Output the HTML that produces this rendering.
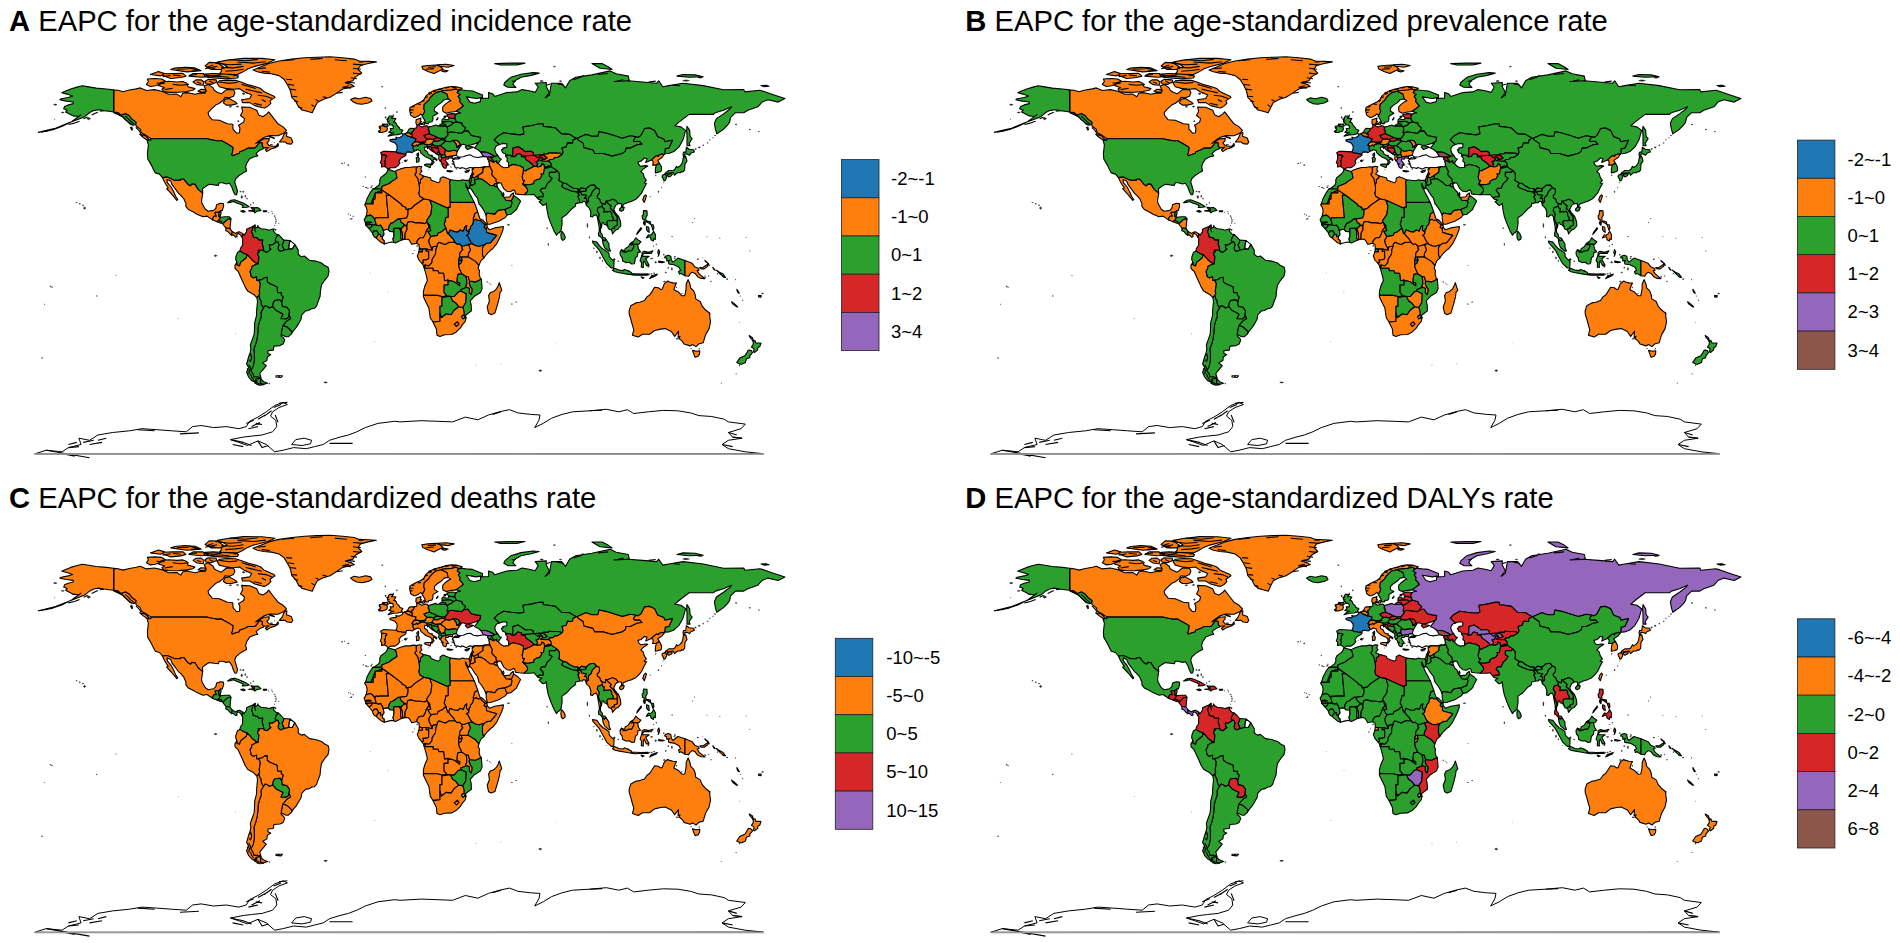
<!DOCTYPE html><html><head><meta charset="utf-8"><title>EAPC maps</title><style>
html,body{margin:0;padding:0;background:#fff}
svg{display:block}
text{font-family:"Liberation Sans",sans-serif;fill:#000}
.tt{font-size:29.2px}.tb{font-weight:bold}
.lg{font-size:18.5px}
.map path{stroke:#000;stroke-linejoin:round}.map{stroke-width:1.1}
</style></head><body>
<svg width="1900" height="943" viewBox="0 0 1900 943">
<rect width="1900" height="943" fill="#fff"/>
<g class="map">
<g transform="translate(0.0,0.0)">
<path fill="#ff7f0e" d="M253,69.9L261.3,66.7L268.9,63.5L279.1,61L291.8,59.1L304.5,57.8L317.3,57.2L330,56.8L342.7,57.8L354.2,59.1L359.3,61L368.2,61.4L376.4,61.9L368.2,63.5L360.5,65.5L358,69.3L361.8,73.1L355.4,76.9L352.9,80.7L345.3,82.6L351.6,84.5L354.2,86.4L342.7,89L336.3,93.4L330,97.3L323.6,99.2L317.3,102.4L314.7,107.4L312.2,112.8L307.1,111.3L302,110L298.2,106.2L295.6,101.1L291.8,97.3L290.5,90.9L288,85.8L284.2,79.5L279.1,75.6L271.4,73.7L263.8,73.1L257.4,71.8Z"/>
<path fill="#ff7f0e" d="M350.6,99.6L354.2,97.9L359.3,98.8L365.6,97.3L370.7,98.5L372,101.1L368.2,103L361.8,104.3L356.7,103.6L352.9,101.7Z"/>
<path fill="#2ca02c" d="M113.6,89.9L106.4,89L96.2,88.1L87.3,86.6L82.2,85.8L77.1,87.1L70.7,89L64.4,91.5L61.8,92.8L66.9,94.1L72.6,96L68.2,97.5L61.2,98.8L59.9,99.8L66.3,101.1L73.3,102L73.3,103.6L68.2,104.9L64.6,106.4L63.7,108.7L67.2,110.2L65.6,111.9L70.5,114.4L73.3,116L79,116.4L80.9,114.8L72,121.4L61.8,126.5L52.9,129.7L45.3,131.4L38.3,132.3L46.5,130.4L55.5,128.2L68.2,123.1L78.4,119.2L84.7,116.7L89.8,112.5L93.6,110.6L98.7,109.7L103.8,110.6L108.9,111.3L113.6,111.9ZM114,112L118,112.5L121.1,115.1L125.5,113.4L129.2,115.5L132.2,119.3L136.2,122.1L135.8,124.5L133.2,125.2L129.8,124L127.7,121.7L124.9,119.3L122.9,116.9L120.1,115.3L116.4,113.6L114,112.9Z"/>
<path fill="#ff7f0e" d="M114,90L118,90.3L123.1,91.7L128.2,90.3L136.2,88.9L140.3,87.9L146.4,90.5L154.5,89.6L162.6,91.5L168.7,94.3L176.8,94.1L180.8,96.7L182.8,93.3L186.9,92.6L195,94.3L201.1,92.9L205.1,93.3L206.1,90.3L204.1,86L208.1,84.4L213.2,87.9L214.2,90.3L217.2,92.2L221.3,93.8L226.4,89.6L233.5,89.8L234.9,92.6L233.5,96.2L229.4,97.8L224.9,97.4L223.3,100.2L219.3,103.3L215.8,104.9L211.2,109.2L208.1,112.7L208.7,115.5L212.2,119.8L219.3,120.3L227.4,123.8L232.8,124.3L233,129.2L236.5,133.2L239.5,132.8L239.9,128L238.5,125.2L243.6,122.1L244.6,118.6L240.5,115.5L242.6,111.5L241.6,107L249.7,107.3L256.7,110.3L258.8,115.1L262.8,116.7L266.9,113.9L268.7,111.8L273.9,118.6L278,123.8L283.1,126.9L286.5,130.4L284.1,133L278,135.8L269.9,135.6L263.8,137.5L258.8,141L255.7,143.6L259.8,141.3L263.8,138.9L269.3,138.4L268.9,141L266.9,142.9L268.9,145.3L270.9,146L276,146.4L278,143.6L278.4,145.7L275.4,147.6L270.9,149L266.7,151.6L265.4,149.8L268.9,147.4L263.8,147.9L262.2,146.4L262.2,143.1L259.4,142.4L257.8,144.8L255.7,147.4L254.7,148.1L248.2,148.1L244.6,150L239.5,151.9L239.5,153.3L232.4,155.7L231.4,154.5L232.4,152.8L233,147.4L230.4,145.7L228.4,144.6L221.3,140.5L218.3,141L213.2,140.1L206.7,138.7L150.8,138.7L150,138L146.4,135.6L141.3,132.8L140.3,129.2L136.2,126.2L135.8,124.5L136.2,122.1L132.2,119.3L129.2,115.5L125.5,113.4L121.1,115.1L118,112.5L114,112ZM139.7,134.4L145.4,135.6L149.4,139.8L146.8,139.8L143.3,137.5ZM279.4,142L282.1,138.7L284.5,133.2L286.9,132.5L286.5,136.3L291.2,138L292.8,142.2L291.2,144.1L287.1,143.6L285.1,142ZM269.1,136.5L273.9,137.7L274.4,138.4L269.9,137ZM146.4,84.4L150.4,86.5L155.5,85.8L160.6,83.9L165.6,81.3L161.6,79L154.5,78.5L147.4,79L148.4,81.5ZM160.6,82.7L158.5,85.6L164.6,87.7L162,89.1L163.6,91.5L169.7,92.4L178.8,92.2L186.9,91.5L193,90.3L195,88.6L187.9,86.7L186.9,83.2L182.8,81.5L176.8,82L168.7,81.3L162.6,82ZM193,82L197,84.6L203.1,85.3L204.1,82L201.1,79.7L196,79.9ZM206.1,83.7L211.2,84.4L216.8,82L216.2,79.9L208.1,79.4L205.1,81.3ZM198,91.2L202.1,92.4L206.1,91.7L205.1,89.6L201.1,89.3ZM219.3,80.8L227.4,80.1L235.5,80.4L241.6,82.3L248.6,84.9L255.7,86.7L260.8,88.6L263.8,91.5L273.9,96.2L275,97.4L269.9,100.9L270.9,103.3L267.9,106.1L264.8,108L261.8,107.5L254.7,105.6L249.7,102.6L242.6,102.6L241.6,99.7L249.7,98.5L251.7,95L243.6,91.5L239.5,88.6L233.5,89.3L225.3,88.4L219.3,86.7L217.2,83.2ZM223.3,102.8L225.3,99.2L229.4,98.5L235.5,102.1L237.1,103.7L231.4,105.1L226.4,105.1ZM213.2,78L225.3,78.7L237.5,78L238.5,76.1L233.5,74.9L221.3,73.8L213.2,73.5L205.1,74L204.1,76.4ZM219.3,74L237.5,74.5L242.6,72.1L247.6,69L253.7,66.7L267.9,63.1L275,59.8L261.8,58.4L243.6,58.2L227.4,60.1L217.2,62L223.3,64.3L227.4,66.7L221.3,69L221.3,71.4ZM205.1,66L211.2,69.5L221.3,69.5L223.3,66.7L217.2,62.7L209.2,62.4ZM162.6,75.4L170.7,78.5L180.8,77.5L185.9,76.1L182.8,73.3L172.7,73.5L163.6,73.8ZM188.9,76.1L201.1,77.3L209.2,76.8L203.1,73.5L193,73.5ZM150.4,74.5L160.6,75.9L164.6,73.5L158.5,71.6ZM170.7,69.5L186.9,71.9L201.1,70.7L195,67.9L184.9,67.2L174.7,68.1Z"/>
<path fill="#2ca02c" d="M150.8,138.7L206.7,138.7L213.2,140.1L218.3,141L221.3,140.5L228.4,144.6L230.4,145.7L233,147.4L232.4,152.8L231.4,154.5L232.4,155.7L239.5,153.3L239.5,151.9L244.6,150L248.2,148.1L254.7,148.1L255.7,147.4L257.8,144.8L259.4,142.4L262.2,143.1L262.2,146.4L263.8,147.9L263.8,148.6L259.8,150.2L256.1,153.3L257.8,155.9L254.7,156.6L249.7,158.7L246.6,163.4L245.6,167L246.6,171L243.6,172.6L239.5,175.2L235.9,178.5L234.7,181.8L236.3,187L237.5,191.1L236.7,194.6L235.1,194.8L233.5,191.8L231.8,187L229.4,183.3L226.4,184L222.3,182.8L219.3,182.8L218.3,185.4L214.2,184.9L209.6,184.2L207.1,185.4L202.5,188.7L202.7,193.2L198,189.4L195,184.4L191.9,184L190.5,185.9L187.9,184.4L183.8,179.3L180.4,179.3L180.4,180.4L174.7,180.4L167.2,177.1L162.4,177.6L159.5,174.1L155.3,172.9L152.7,167.9L151.4,165.1L147.8,159L147.4,153.3L148.4,145L147,140.1L150.8,140.3Z"/>
<path fill="#ff7f0e" d="M162.4,177.6L167.2,177.1L174.7,180.4L180.4,180.4L180.4,179.3L183.8,179.3L187.9,184.4L190.5,185.9L191.9,184L195,184.4L198,189.4L202.7,193.2L201.5,201.2L202.1,203.6L205.1,209L208.1,211.3L213.6,210.4L215.8,208.3L216.6,204.7L220.3,203.3L223.3,203.6L223.7,205.9L222.3,210.6L220.7,210.6L218.9,212.3L215.2,212.3L215.2,213.6L216.4,216.3L213.8,216.3L212.8,218.4L212.8,220.1L207.1,216.1L203.1,216.8L197,214.2L193,211.8L188.3,209.5L185.9,206.4L185.9,203.6L183.8,198.8L180.8,195.3L178.2,192.9L175.7,189.4L172.1,184.7L170.7,181.1L167.2,179.5L167.2,182.3L171.1,187L173.7,191.8L175.7,196.5L177.8,199.5L176.8,200.3L171.7,194.1L166.6,188.7L168.2,188L164.6,182.3Z"/>
<path fill="#ff7f0e" d="M212.8,220.1L212.8,218.4L213.8,216.3L216.4,216.3L215.2,213.6L215.2,212.3L218.9,212.3L218.9,216.8L220.7,217.2L218.9,220.3L217,221.7Z"/>
<path fill="#2ca02c" d="M218.9,212.3L220.7,210.6L221.1,213L220.1,216.5L218.9,216.8Z"/>
<path fill="#ff7f0e" d="M217,221.7L218.9,220.3L220.3,221.3L221.7,221.5L221.7,223.1L220.3,223.1Z"/>
<path fill="#2ca02c" d="M218.9,220.3L220.7,217.2L225.3,216.8L229.4,216.8L231,218.9L227.8,219.4L225.3,221.5L223.7,223.1L222.5,223.6L221.7,223.1L221.7,221.5L220.3,221.3Z"/>
<path fill="#ff7f0e" d="M222.5,223.6L223.7,223.1L225.3,221.5L227.8,219.4L231,218.9L230.4,223.6L230,228.6L228,228.3L226,228.1L224.3,226Z"/>
<path fill="#ff7f0e" d="M226,228.1L228,228.3L230,228.6L232.2,231.6L231.6,235.2L230,234L228,231.6L225.8,230.7Z"/>
<path fill="#ff7f0e" d="M232.2,231.6L235.5,233.5L237.7,232.1L239.7,231.9L242.8,233.8L241.8,237.3L240.5,234.9L238.1,233.3L236.7,234.9L237.1,236.8L235.5,237.1L233.5,234.9L231.6,235.2Z"/>
<path fill="#2ca02c" d="M227.6,202.6L231,200.3L234.5,199.8L238.5,201.2L243,203.1L246.2,204.7L249.2,206.6L246.6,207.3L242.2,207.5L243.2,205.7L240.5,204.3L236.5,202.9L233.5,201.4L230.4,202.4Z"/>
<path fill="#d62728" d="M248.6,210.9L252.7,211.3L254.3,211.8L254.1,207.8L250.9,207.3L252.3,209L252.9,210.4Z"/>
<path fill="#2ca02c" d="M254.3,211.8L254.1,207.8L257.8,207.6L259.4,208.8L261,210.4L258.8,210.9L256.7,211.3L254.9,212.8Z"/>
<path fill="#2ca02c" d="M240.7,211.1L243.6,210.6L245.2,211.8L243.2,212.3Z"/>
<path fill="#2ca02c" d="M263.4,210.9L266.7,210.9L266.3,211.8L263.4,211.8Z"/>
<path fill="#d62728" d="M242.8,233.8L244,235.4L246.4,231.9L246.6,229.3L249.2,228.1L252.7,226.5L255.1,225L253.7,226.9L252.7,228.1L251.7,231.9L252.9,234.7L253.3,237.1L257.3,237.8L259,239.9L262.8,239.7L262.2,243.7L263.2,246.5L264,251.5L263.6,250.3L258.2,250.3L259.4,251.9L257.8,252.9L257.8,254.8L259,256.9L258,264.2L256.3,263.3L251.9,260L250.7,258.3L247,254.5L243.6,253.4L239.9,251L240.5,248.4L242.6,245.3L242.6,241.3L242.8,238.3L241.8,237.3Z"/>
<path fill="#2ca02c" d="M264,251.5L263.2,246.5L262.2,243.7L262.8,239.7L259,239.9L257.3,237.8L253.3,237.1L252.9,234.7L251.7,231.9L252.7,228.1L253.7,226.9L255.1,225L255.3,226.5L254.5,228.6L255.7,231.9L254.5,228.6L257.3,227.2L257.8,225.5L258.4,227.2L261.2,228.8L265.9,229.3L268.9,230.2L272.9,229L274.2,229L273.3,230.9L276,234L278.4,234.7L276.6,236.6L275.8,238.5L275.2,240.4L276.6,242L272.3,244.9L269.3,244.6L269.9,248.4L271.1,249.1L266.9,252.4L264,251.5Z"/>
<path fill="#2ca02c" d="M276.6,242L275.2,240.4L275.8,238.5L276.6,236.6L278.4,234.7L281,237.1L283.7,240.1L283.5,242.5L282.1,244.9L284.1,249.6L285.1,249.8L280.4,251.5L278.6,250.1L278,247.9L279,244.9L277.8,242L276.6,242Z"/>
<path fill="#2ca02c" d="M285.1,249.8L284.1,249.6L282.1,244.9L283.5,242.5L283.7,240.1L290.1,240.6L289.3,243.7L288.9,248.9L286.1,249.8Z"/>
<path fill="#ffffff" d="M290.1,240.6L294.8,244.4L292.4,249.1L288.9,248.9L289.3,243.7Z"/>
<path fill="#2ca02c" d="M239.9,251L243.6,253.4L247,254.5L246.4,257.8L242,261.4L240.7,262.3L239.5,266.1L236.7,264.7L236.9,262.3L235.7,259.5L235.9,256.7L237.5,252.4Z"/>
<path fill="#ff7f0e" d="M236.9,262.3L234.9,265.4L235.1,268.5L238.1,271.3L241.1,277.9L243.4,282.9L245.2,287.1L247.6,290.9L253.7,294.4L256.9,297.6L258.8,295.6L259.8,293.2L259.2,291.4L260.4,283.8L258.6,280.1L256.5,280.3L256.7,276.5L253.3,277.9L251.3,276.5L250.1,271.5L251.7,268.5L251.9,266.6L256.3,264.2L258,264.2L256.3,263.3L251.9,260L250.7,258.3L247,254.5L246.4,257.8L242,261.4L240.7,262.3L239.5,266.1L236.7,264.7L236.9,262.3Z"/>
<path fill="#2ca02c" d="M294.8,244.4L298.2,250.1L298.2,254.3L301.3,256.7L304.3,256L309.4,260.2L315.5,261.1L321.5,263L324.6,265.6L328.2,267.3L329,271.3L328,276.2L324.6,280.3L321.5,285L320.5,290.9L320.1,296.3L318.1,301.5L316.5,306.2L314.4,308.3L312,308.6L308.4,310.5L305.5,310.9L301.7,315L301.1,319.2L298.7,323.4L296.2,327.5L293.8,330.3L291.4,333.9L291.8,331.5L286.9,327L282.9,325.6L286.5,321.1L290.6,318.5L288.9,314.7L289.5,310.9L286.7,307.2L282.3,306.5L281.6,302L282.5,299.1L283.1,296.8L281.2,295.1L281.4,292.8L277.6,292.8L277,286.9L273.9,285.5L269.9,283.8L267.3,281.9L267.1,277.2L264.6,277.7L261.8,279.6L258.6,280.1L256.5,280.3L256.7,276.5L253.3,277.9L251.3,276.5L250.1,271.5L251.7,268.5L251.9,266.6L256.3,264.2L258,264.2L259,256.9L257.8,254.8L257.8,252.9L259.4,251.9L258.2,250.3L263.6,250.3L264,251.5L266.9,252.4L271.1,249.1L269.9,248.4L269.3,244.6L272.3,244.9L276.6,242L277.8,242L279,244.9L278,247.9L278.6,250.1L280.4,251.5L285.1,249.8L286.1,249.8L288.9,248.9L292.4,249.1Z"/>
<path fill="#2ca02c" d="M258.8,295.6L259.8,293.2L259.2,291.4L260.4,283.8L258.6,280.1L261.8,279.6L264.6,277.7L267.1,277.2L267.3,281.9L269.9,283.8L273.9,285.5L277,286.9L277.6,292.8L281.4,292.8L281.2,295.1L283.1,296.8L282.5,299.1L281.6,302L279.8,299.8L274.6,300.6L273.3,302.7L272.7,306.7L269.3,308.1L267.5,306.5L265.2,305.7L263.4,308.1L261.4,304.6L260.8,300.3L259.8,299.1L258.8,295.6Z"/>
<path fill="#2ca02c" d="M272.7,306.7L273.3,302.7L274.6,300.6L279.8,299.8L281.6,302L282.3,306.5L286.7,307.2L289.5,310.9L288.9,314.7L288.5,317.3L286.3,319L280.8,318.7L282.9,314.2L280.4,312.8L276,310.5L272.7,306.7Z"/>
<path fill="#2ca02c" d="M282.9,325.6L286.9,327L291.8,331.5L291.4,333.9L288.3,336.8L285.7,336.7L281.2,334.5L281.6,331Z"/>
<path fill="#2ca02c" d="M261,378L257.8,377L253.9,377L253.1,374L250.7,370.6L253.1,366.4L254.3,360.5L254.3,353.4L253.9,348.7L255.7,344L256.9,339.3L257.8,333.4L258.2,326.3L259.4,321.6L261.2,316.8L261,312.1L263.4,308.1L265.2,305.7L267.5,306.5L269.3,308.1L272.7,306.7L276,310.5L280.4,312.8L282.9,314.2L280.8,318.7L286.3,319L288.5,317.3L288.9,314.7L290.6,318.5L286.5,321.1L282.9,325.6L281.6,331L281.2,334.5L281.2,336L283.7,338.1L284.7,340.2L283.1,344L280,345.6L273.9,346.1L273.3,350.1L267.9,350.6L267.9,353.4L270.7,354.6L267.3,357L266.9,360.5L262.8,362.9L266.3,365.7L262.8,369.9L259.8,373.5ZM260.6,378.4L260.6,383.9L264.8,384.1L267.5,383.2L263.8,381.7L261.4,379.4Z"/>
<path fill="#2ca02c" d="M256.9,297.6L257.5,301.5L256.7,309.8L256.5,315.7L254.7,322.7L254.5,329.8L254.1,334.5L251.7,341.1L250.3,345.2L250.9,348.7L250.1,352.9L248.6,357L246.6,364L248.6,367.6L246.6,372.3L248.6,377L251.7,380.6L255.7,381.7L255.9,379.1L258.8,378.2L261,378L257.8,377L253.9,377L253.1,374L250.7,370.6L253.1,366.4L254.3,360.5L254.3,353.4L253.9,348.7L255.7,344L256.9,339.3L257.8,333.4L258.2,326.3L259.4,321.6L261.2,316.8L261,312.1L263.4,308.1L261.4,304.6L260.8,300.3L259.8,299.1L258.8,295.6ZM256.7,378.7L260.6,378.4L260.6,383.9L263.8,384.8L259.8,385.3L254.7,382.9L256.7,381Z"/>
<path fill="#ffffff" d="M276,375.8L282.5,375.8L281,377.5L276,377Z"/>
<path fill="#ff7f0e" d="M413.7,117.4L410.6,115.1L409.6,110.3L410,107.5L415.7,104.4L420.8,102.1L423.8,99.7L425.8,96.2L429.9,92.6L434.9,90.3L440,89.1L446.1,87.2L451.5,86.5L456.2,86.7L462.3,88.4L460.2,89.8L458,91.3L458.8,90.3L456,88.9L451.7,90L442,90.8L441.2,91.3L435.9,92.6L432.9,95L429.9,98.1L428.9,100.2L426.8,102.1L424.2,104.4L423.8,109.2L424.8,110.3L424.2,112.7L422.8,115.1L421.8,115.1L420.8,113.9L418.7,115.8L415.7,117.2ZM421.8,66.4L427.9,65.5L435.9,65L440,66.4L443,69L438,71.4L433.9,73.5L427.9,71.4L422.8,69ZM437,64.8L446.1,64.3L454.2,65.5L448.1,67.2L440,66.2ZM442,69.7L448.1,70.7L445.1,71.9L442,71.2Z"/>
<path fill="#2ca02c" d="M422.8,115.1L424.2,112.7L424.8,110.3L423.8,109.2L424.2,104.4L426.8,102.1L428.9,100.2L429.9,98.1L432.9,95L435.9,92.6L441.2,91.3L447.1,94.1L448.1,98.5L448.3,99L444.1,99.7L442,102.1L437,105.6L434.5,108L434.3,111L438,113.2L435.9,114.4L432.9,116.2L432.9,119.8L431.9,121.7L428.9,122.1L428.3,123.6L425.8,123.6L425.2,121.7L423.8,118.6L422.2,116.2ZM436.4,119.8L438,117.7L437.6,119.1L436.6,120Z"/>
<path fill="#ff7f0e" d="M455.8,111.5L460.2,108.5L463.5,105.9L461.3,103.3L459.6,101.4L460.2,99.2L458.2,96.4L460.2,94.5L457.2,92.6L458,91.3L458.8,90.3L456,88.9L451.7,90L442,90.8L441.2,91.3L447.1,94.1L448.1,98.5L448.3,99L450.9,100.7L449.1,101.4L445.1,104.4L442.8,106.8L442.6,109.2L443,111.5L446.1,113.2L450.1,112.2Z"/>
<path fill="#ff7f0e" d="M415.9,123.3L416.1,119.8L421,118.1L420.4,121L421.6,121.4L419.3,123.8L418.7,124.9L416.9,124.7ZM421.8,123.8L424,121.9L425,122.8L424.2,124.7L422.2,124.5ZM419.3,123.3L421.4,123.3L421.2,124.4L419.8,124.3Z"/>
<path fill="#2ca02c" d="M388,136.2L393.4,134.9L397.5,134.6L402.3,133.5L401.5,132.5L402.9,130.2L399.9,129.2L399.5,127.8L396.9,125.2L396.1,123.1L395,122.1L393.4,122.1L394.4,121L395.9,118.6L392.4,118.1L391.4,118.4L393.4,116L389.4,116L387.8,118.6L387.4,121L388.4,123.3L389.8,123.3L389.6,125L392.6,125L393.4,127.3L393.2,128.5L390.2,128.5L391,130.4L388.8,132.1L392.8,133L393.8,132.8L391,133.7ZM382.9,125.7L384.7,124.3L387.4,124L388.4,125.7L386.7,126.6L384.3,126.6Z"/>
<path fill="#ff7f0e" d="M379.2,132.5L382.3,132.5L386.7,131.1L387.4,128.5L386.7,126.6L384.3,126.6L382.9,125.7L384.7,124.3L382.7,124L382.1,125.7L379.2,126.4L379.5,128.3L380.7,129L380.3,130.2L378.4,131.3Z"/>
<path fill="#1f77b4" d="M395.9,151.9L397.1,149L397.1,145.7L395,142.9L390,141L390,139.8L393.4,139.1L396.3,139.4L395.9,137L397.1,137.7L399.9,137.5L402.7,135.6L402.7,134.2L404.7,133.7L406,134.6L408,136.3L409.2,136.1L411.2,137.5L412.5,137.5L416.1,138.7L414.9,142L413.5,142.7L411.9,145.3L413.3,145.7L413.7,146L412.9,147.9L413.7,150L414.7,150.9L412.1,152.6L409.2,151.9L406.6,152.1L405.8,154L402.9,154L400.9,153.3L398.5,153.3ZM416.9,154.2L418.5,152.8L418.7,155.2L418.1,156.6L416.9,155.4Z"/>
<path fill="#d62728" d="M395.9,151.9L391.8,151.6L387.8,151.4L383.3,151.2L380.7,152.8L381.7,155.4L382.9,154.9L386.1,155.4L386.9,156.1L385.5,157.5L385.3,160.6L384.3,160.8L385.3,164.1L384.5,166.5L386.7,167.9L388.2,169.3L390.6,167.7L395,167.7L398.1,165.6L399.9,163L398.9,161.1L401.3,158L404,156.6L406,155.2L405.8,154L402.9,154L400.9,153.3L398.5,153.3ZM404.4,160.8L405.8,160L406.4,160.8L405.6,161.6Z"/>
<path fill="#d62728" d="M381.7,155.4L382.9,154.9L386.1,155.4L386.9,156.1L385.5,157.5L385.3,160.6L384.3,160.8L385.3,164.1L384.5,166.5L381.5,167L381.7,163.7L380.3,162.7L381.5,159.4Z"/>
<path fill="#2ca02c" d="M414.7,150.9L413.7,150L412.9,147.9L413.7,146L415.5,145.7L416.5,144.8L417.7,146.2L418.3,144.8L420.6,144.3L420.8,143.6L424.2,143.4L424.6,144.1L427.2,144.6L427,146.2L427.4,146.7L424.4,147.4L424.6,150L427,151.4L428.3,154.2L430.3,155.4L432.3,155.4L431.9,156.6L435.9,158.5L437,159.7L436.6,160.4L433.9,158.7L432.9,160.6L434.1,162.3L432.9,163.7L431.9,164.9L431.3,164.6L431.7,163L432.3,161.8L431.3,159.9L429.5,158.5L428.3,158L425.8,157.1L424.2,155.7L422.2,154.2L420.8,152.8L420.2,150.7L417.3,149.5L416.1,150.5ZM424.6,164.6L426.4,164.1L431.1,163.9L430.1,167.7L427.9,166.7L424.8,165.6ZM416.1,157.8L418.1,157.1L419.3,158.7L418.9,161.8L417.7,162L416.5,162.3L416.5,159.2Z"/>
<path fill="#d62728" d="M413.7,128.5L416.7,127.8L416.9,124.7L418.7,124.9L419.8,125.9L421.8,126.9L424.8,125.9L426.8,125.7L428.3,127.1L428.7,128.7L428.1,129.5L429.3,130.9L429.3,132.3L429.9,133.9L428.5,133.9L424,135.6L424.8,137L427.4,139.1L425.4,140.8L425.8,142.2L424.2,142L420.8,142.4L418.9,142.2L416.7,141.7L414.9,142L416.1,138.7L412.5,137.5L411.9,136.1L412.3,135.6L411.9,134.4L411.6,132.1L413.3,131.1L413.7,130.2L414.1,128.7Z"/>
<path fill="#2ca02c" d="M406.4,133L407.8,131.6L409,129.2L410.6,128.3L413.7,128.5L414.1,128.7L413.7,130.2L413.3,131.1L411.6,132.1L411.9,134.4L411,134.4L409.6,133L408.2,133Z"/>
<path fill="#ff7f0e" d="M404.7,133.7L406.4,133L408.2,133L409.6,133L411,134.4L411.9,134.4L412.3,135.6L411.9,136.1L411.2,137.5L409.2,136.1L408,136.3L406,134.6Z"/>
<path fill="#ff7f0e" d="M411.9,145.3L413.3,145.7L413.7,146L415.5,145.7L416.5,144.8L417.7,146.2L418.3,144.8L420.6,144.3L420.8,143.6L418.9,142.2L416.7,141.7L414.9,142L413.5,142.7Z"/>
<path fill="#ff7f0e" d="M418.9,142.2L420.8,143.6L424.2,143.4L424.6,144.1L427.2,144.6L428.9,144.8L431.9,143.9L432.1,143.6L432.9,142.2L434.1,141L433.7,139.6L429.9,138.7L427.4,139.1L425.4,140.8L425.8,142.2L424.2,142L420.8,142.4Z"/>
<path fill="#d62728" d="M424,135.6L428.5,133.9L429.9,133.9L432.5,135.1L433.7,135.4L437.6,137.5L434.3,138.9L433.7,139.6L429.9,138.7L427.4,139.1L424.8,137Z"/>
<path fill="#d62728" d="M433.7,139.6L434.3,138.9L437.6,137.5L440,138.2L445.1,138.4L444.3,140.1L441,139.8L437.6,141.5L434.1,141Z"/>
<path fill="#2ca02c" d="M428.3,127.1L431.9,126.2L435.9,125L437.2,125.9L439.2,125.9L445.7,125.9L447.1,126.9L447.9,129.9L447.3,131.3L447.3,132.8L448.3,134.4L445.1,138.4L440,138.2L437.6,137.5L433.7,135.4L432.5,135.1L429.9,133.9L429.3,132.3L429.3,130.9L428.1,129.5L428.7,128.7Z"/>
<path fill="#2ca02c" d="M432.1,143.6L432.9,142.2L434.1,141L437.6,141.5L441,139.8L444.3,140.1L445.9,141L440.6,145.5L437.6,146L434.9,146L432.9,144.6Z"/>
<path fill="#2ca02c" d="M427.2,144.6L428.9,144.8L431.9,143.9L432.1,143.6L432.9,144.6L431.1,146.2L427,146.9L427.4,146.7L427,146.2Z"/>
<path fill="#d62728" d="M427,146.9L427.6,148.6L428.5,147.4L429.9,149.3L430.5,150L432.7,151.6L434.9,152.8L437,154.2L436.8,153.8L435.1,152.6L434.5,151.9L432.5,150.2L431.5,148.6L431.5,147.6L433.7,147.6L438,148.3L438,147.6L437.6,146L434.9,146L432.9,144.6L431.1,146.2Z"/>
<path fill="#d62728" d="M431.5,147.6L433.7,147.6L438,148.3L438.8,149.8L439,151.6L438.4,151.6L437,153.8L435.1,152.6L434.5,151.9L432.5,150.2L431.5,148.6Z"/>
<path fill="#d62728" d="M438,147.6L437.6,146L440.6,145.5L443,147.6L445.1,149L445.5,150L444.9,152.8L444.9,154.5L443,154.7L441.2,155.4L440,153.5L438.4,151.6L439,151.6L438.8,149.8L438,148.3Z"/>
<path fill="#2ca02c" d="M437,154.2L437,153.8L438.4,151.6L440,153.5L438.8,155.4Z"/>
<path fill="#ff7f0e" d="M438.8,155.4L440,153.5L441.2,155.4L441,156.8L442,158L441.4,159.7L440,160.6L438.6,159L439,156.8Z"/>
<path fill="#2ca02c" d="M441.2,155.4L443,154.7L444.9,154.5L446.1,156.8L445.5,157.3L442,158L441,156.8Z"/>
<path fill="#d62728" d="M440,160.6L441.4,159.7L442,158L445.5,157.3L446.1,156.8L449.1,156.4L452.8,155.9L453.4,156.8L452.1,158.2L448.9,157.8L448.1,159.2L445.9,158.7L445.3,160.4L446.5,162L448.1,164.1L448.1,165.3L446.3,164.9L446.5,166.3L445.9,168.2L444.9,168.2L443.4,167.5L442.2,165.1L443.4,163.9L442,163.7L441.4,162.5ZM447.1,170.5L450.1,170.8L452.8,171.2L450.1,171.9L447.1,171.2Z"/>
<path fill="#ff7f0e" d="M445.5,150L448.1,151.2L454.2,150.2L457.4,151.2L456.2,155.2L452.8,155.9L449.1,156.4L446.1,156.8L444.9,154.5L444.9,152.8Z"/>
<path fill="#2ca02c" d="M440.6,145.5L445.9,141L449.9,141.7L453.4,140.3L456.4,144.3L456.6,146.9L459.6,147.4L457.4,151.2L454.2,150.2L448.1,151.2L445.5,150L445.1,149L443,147.6Z"/>
<path fill="#ff7f0e" d="M453.4,140.3L456.2,140.3L458.6,141.3L460.5,144.8L456.6,146.9L456.4,144.3Z"/>
<path fill="#2ca02c" d="M444.3,140.1L445.1,138.4L448.3,134.4L447.3,132.8L451.1,131.8L461.3,133.2L463.9,131.3L467.9,130.6L471.4,135.4L476.4,136.5L480.7,137.2L480.1,141.3L476.9,143.1L470.4,145L467.3,145.5L470.4,146.4L473.6,147.2L471.2,148.1L467.5,149.5L465.3,147.2L466.7,145.5L463.3,144.3L461.7,144.6L459.6,147.4L456.6,146.9L460.5,144.8L458.6,141.3L456.2,140.3L453.4,140.3L449.9,141.7L445.9,141Z"/>
<path fill="#2ca02c" d="M447.3,132.8L447.3,131.3L447.9,129.9L447.1,126.9L451.7,124.7L453.4,122.8L456.6,121.9L462.1,123.1L462.3,125.2L465.7,128L463.9,131.3L461.3,133.2L451.1,131.8Z"/>
<path fill="#2ca02c" d="M442.2,123.8L442,121.9L449.9,121.2L453.4,122.8L451.7,124.7L447.1,126.9L445.7,125.9L445.5,124.5Z"/>
<path fill="#2ca02c" d="M442,121.9L442,119.8L443.4,118.4L446.1,119.8L448.7,119.3L448.9,117.7L455,118.6L456.6,121.9L453.4,122.8L449.9,121.2Z"/>
<path fill="#d62728" d="M448.9,117.7L447.1,115.8L446.9,114.6L451.7,113.6L456.6,114.1L455,115.8L455,118.6ZM444.1,116.2L446.1,116L445.7,117.2L444.1,117.4Z"/>
<path fill="#2ca02c" d="M460.2,89.8L466.3,90.5L472.4,91L482.5,95L482.5,97.4L476.4,98.5L466.3,96.9L470,102.1L474.4,103.3L480.5,101.6L480.5,98.5L488.6,98.1L488.6,92.6L492.6,93.8L494.7,96.4L506.8,92.6L517,91.9L522,89.6L529.1,90.8L535.2,92.4L538.2,87L535.2,83.2L546.3,82.5L546.3,86.7L549.4,92.6L545.3,97.8L549.4,95L551.4,83.2L561.5,83.2L565.5,87.9L569.6,80.8L575.7,77.3L591.9,74.9L610.1,70.9L616.2,73.8L628.3,76.1L629.3,80.8L614.1,81.5L628.3,80.8L642.5,82L656.7,83.2L658.7,80.8L662.8,86.7L668.8,85.6L683,83.2L703.2,85.6L723.5,89.8L743.8,89.6L744.8,91.9L760,90.3L764,91.5L774.1,95L784.9,98.5L778.2,102.1L768,99.7L762,102.1L757.9,106.8L747.8,110.3L743.8,112.7L735.6,112.7L730.6,117.4L729.6,122.1L727.5,125.2L723.5,129.2L716.8,133.9L715.4,129.2L714.4,123.3L716.4,118.6L723.5,113.9L729.6,109.2L731.6,106.8L723.5,110.3L715.4,112.7L713.4,114.4L705.3,114.4L697.2,114.4L689.1,114.4L679,122.1L674.9,125.7L681,126.9L685.6,130.4L684,136.3L683,139.8L679,146.9L673.9,151.6L668.8,153.5L664.8,153.8L664.2,154.5L664.8,152.8L665.2,148.6L668.8,148.1L672.5,140.3L664.8,141.7L663.8,139.1L657.7,136.8L654.6,130.4L649.6,128L644.5,128.5L644.1,129.7L640.9,135.6L638,137.5L635.8,136.8L630.4,135.8L622.2,138.2L614.1,135.6L606.5,133.2L599,131.6L598,136.3L591.9,136.3L585.8,134.4L577.3,138.2L576.3,138.4L572.6,136.3L569.6,134.4L561.5,133.9L555.4,128L548.3,126.9L543.3,126.4L543.3,124L539.2,123.8L531.1,125.7L523,126.9L524,133.9L520,134.9L510.9,133.9L503.8,132.8L497.7,136.3L494.3,139.8L499.5,144.6L496.7,145.7L495.7,146.9L494.7,149.3L495.7,152.8L497.7,155.4L494.7,156.4L493.3,155.4L489.6,153.5L486.6,152.3L480.5,151.9L477.5,149.5L474.4,148.1L476.4,145.7L478.5,142.9L476.9,143.1L480.1,141.3L480.7,137.2L476.4,136.5L471.4,135.4L467.9,130.6L463.9,131.3L465.7,128L462.3,125.2L462.1,123.1L456.6,121.9L455,118.6L455,115.8L456.6,114.1L457.2,113.4L460.7,112.9L457.2,111.5L455.8,111.5L460.2,108.5L463.5,105.9L461.3,103.3L459.6,101.4L460.2,99.2L458.2,96.4L460.2,94.5L457.2,92.6L458,91.3ZM439.2,125.9L440,124.5L442.2,123.8L445.5,124.5L445.7,125.9ZM503.8,84.9L504.8,82.5L510.9,77.3L521,74.2L533.1,72.6L539.2,73.1L531.1,75.4L521,77.3L514.9,80.8L512.9,84.4L515.9,87.4L507.8,87.2ZM591.9,63.6L600,68.3L612.1,69.5L608.1,66.7L602,63.6ZM676.9,76.1L689.1,77.3L703.2,76.8L695.1,74.9L683,74.5ZM761,85.6L764,86.7L769.1,86.3L766,85.3ZM687,126.2L689.7,130.4L690.1,136.3L692.1,138.7L689.1,143.4L690.1,145.7L687,145.7L687,141L687,135.1L686.6,130.4ZM494.7,63.6L510.9,63.1L525,63.1L517,65L500.8,65Z"/>
<path fill="#9467bd" d="M480.5,151.9L486.6,152.3L489.6,153.5L493.3,155.4L493.7,157.3L490.6,157.1L487.6,157.3L483.5,156.4Z"/>
<path fill="#d62728" d="M487.6,157.3L490.6,157.1L491.6,158.5L493.7,161.1L493.5,162.5L490.2,160.6L487.8,159.7Z"/>
<path fill="#2ca02c" d="M490.6,157.1L493.7,157.3L493.3,155.4L494.7,156.4L497.7,155.4L499.7,158.5L501.4,159L499.3,161.6L498.5,163.7L496.7,162.7L496.7,160.8L493.5,162.5L493.7,161.1L491.6,158.5Z"/>
<path fill="#2ca02c" d="M499.5,144.6L494.3,139.8L497.7,136.3L503.8,132.8L510.9,133.9L520,134.9L524,133.9L523,126.9L531.1,125.7L539.2,123.8L543.3,124L543.3,126.4L548.3,126.9L555.4,128L561.5,133.9L569.6,134.4L572.6,136.3L576.3,138.4L573,140.1L572.6,143.1L567.6,142.9L566.2,146.9L562.1,148.1L563.1,152.3L561.9,154.7L559.9,153.3L555.4,153.1L551.4,153.1L548.5,152.8L548.3,154L543.3,154L543.3,154.5L542.3,155.2L539.2,156.6L537.6,158L537.2,157.5L534.2,155.4L533.1,155.2L533.4,152.8L530.9,151.2L525,151.6L523,149.8L518.2,146.7L512.9,148.1L512.9,156.8L511.7,156.8L510.5,155.2L506.8,155.2L505.6,155.9L505.8,154L502.8,152.8L501.4,149.8L503.2,149.3L502.8,148.1L506.8,147.4L506.8,143.9L502.8,143.4Z"/>
<path fill="#d62728" d="M512.9,156.8L512.9,148.1L518.2,146.7L523,149.8L525,151.6L530.9,151.2L533.4,152.8L533.1,155.2L534.2,155.4L537.2,157.5L537.6,158L539.2,156.6L542.3,155.2L543.3,154.5L514.9,156.8L516.7,154.7L518,153.5L521.6,154.7L521.2,156.6L524.8,157.1L526.1,159.9L530.1,162.5L534.2,166.3L536.8,166.5L537.6,163.9L536,161.6L538.2,161.1L539.2,159.4L539.8,158L542.1,157.5L542.5,159.4L544.7,159.4L547.3,158L543.3,154.5Z"/>
<path fill="#2ca02c" d="M505.6,155.9L506.8,155.2L510.5,155.2L511.7,156.8L512.9,156.8L514.9,156.8L516.7,154.7L518,153.5L521.6,154.7L521.2,156.6L524.8,157.1L526.1,159.9L530.1,162.5L534.2,166.3L530.1,168.6L527.1,169.8L525.7,171L523.4,170.3L523.4,167.9L519.6,165.8L517,165.3L512.9,164.4L508.6,166.3L508.6,162.5L506.8,161.1L507.4,158.2L506.4,157.1Z"/>
<path fill="#ff7f0e" d="M543.3,154L548.3,154L548.5,152.8L551.4,153.1L555.4,153.1L559.9,153.3L561.9,154.7L557.5,157.5L555,157.5L553.2,159.2L549.4,159.7L548.9,161.1L544.9,161.3L540,160.8L542.5,159.4L544.7,159.4L547.3,158L543.3,154.5Z"/>
<path fill="#2ca02c" d="M536.8,166.5L537.6,163.9L536,161.6L538.2,161.1L539.2,159.4L539.8,158L542.1,157.5L542.5,159.4L540,160.8L544.9,161.3L548.9,161.1L551.2,163.4L551.2,166.5L548.3,166L544.5,167.7L543.9,164.6L541.9,163.7L541.7,165.6L539.8,166.7L537.2,167Z"/>
<path fill="#2ca02c" d="M577.3,138.2L577.7,139.6L583.2,143.4L583.8,147.6L592.9,150L594.7,153.5L603,153.5L612.1,156.1L622.2,153.5L625.3,151.4L626.1,148.1L630.4,148.1L637.2,144.8L642.1,144.1L639.5,141.3L634.4,141.5L633.4,140.5L635.8,136.8L630.4,135.8L622.2,138.2L614.1,135.6L606.5,133.2L599,131.6L598,136.3L591.9,136.3L585.8,134.4L577.3,138.2Z"/>
<path fill="#ffffff" d="M452.3,158.2L452.8,155.9L456.2,155.2L458.4,157.1L463.3,156.8L467.3,155.2L470.4,154.9L473.4,156.8L477.5,157.5L483.5,156.4L487.6,157.3L487.8,159.7L490.2,160.6L488.8,161.3L489.6,163.9L489.2,164.9L490.2,166.5L485.4,166.7L480.5,167.5L476.4,167.5L473.8,167.5L473.6,168.9L472.2,169.6L472.8,167.9L469.6,167.5L465.9,169.3L464.3,168.2L461.5,167.5L460.9,168.6L458.2,167.7L456.2,167.7L454.8,167L454.6,164.9L452.8,163.9L454,163.4L453.6,161.6L452.4,161.1L452.6,159.9L454.8,159L458.2,159L460,158.2L458.4,157.5L455.2,157.7L453.6,159Z"/>
<path fill="#2ca02c" d="M464.9,171.7L466.3,170.9L469.6,170L468.4,171.7L466.3,172.6Z"/>
<path fill="#ff7f0e" d="M472.2,169.6L473.6,168.9L473.8,167.5L476.4,167.5L480.5,167.5L485.4,166.7L483.1,168.4L482.9,172.2L478.1,175.5L474,178.1L472.2,177.1L472,175.7L473.6,173.6L472.4,172.6Z"/>
<path fill="#ff7f0e" d="M470.6,176.2L472,175.7L473.6,173.6L472.4,172.6Z"/>
<path fill="#ff7f0e" d="M469,180.4L470.2,184.7L471.2,181.1L471.4,177.8L472.2,177.1L472,175.7L470.6,176.2L469.8,178.8Z"/>
<path fill="#2ca02c" d="M470.3,184.9L472.4,185.4L475.4,183.5L474.4,180L478.5,178.8L478.1,175.5L474,178.1L472.2,177.1L471.4,177.8L471.2,181.1Z"/>
<path fill="#ff7f0e" d="M485.4,166.7L490.2,166.5L491.4,169.6L492.6,171.5L491.6,174.1L493.3,176.4L496.3,179.3L496.1,181.1L497.7,183.7L496.5,183.5L494.7,183.7L493.7,185.6L490,185.4L484.6,180.9L481.3,179L478.5,178.8L478.1,175.5L482.9,172.2L483.1,168.4Z"/>
<path fill="#2ca02c" d="M493.7,185.6L494.7,183.7L496.5,183.5L497.5,187L495.9,187Z"/>
<path fill="#2ca02c" d="M470.2,184.9L472.4,185.4L475.4,183.5L474.4,180L478.5,178.8L481.3,179L484.6,180.9L490,185.4L493.7,185.6L495.9,187L497.5,187L498.7,189.4L501.2,192L502.4,195.8L503.4,196.2L504,197.2L506,200.3L511.3,200.7L512.1,202.4L510.9,207.1L504.8,209.5L498.7,210.4L497.1,211.3L494.7,214.4L488.6,213.2L487,213.2L486.2,215.6L484.6,211.8L482.1,207.6L478.9,203.6L477.5,198.1L474.8,194.8L471.4,189.4L469.6,188Z"/>
<path fill="#ff7f0e" d="M486.2,215.6L487,213.2L488.6,213.2L494.7,214.4L497.1,211.3L498.7,210.4L504.8,209.5L507,215L505.2,217.5L498.7,221.3L490.6,224.1L487.6,224.3L487,222.9L486.2,218.9Z"/>
<path fill="#2ca02c" d="M507,215L504.8,209.5L510.9,207.1L512.1,202.4L511.3,200.7L512.9,197.4L513.7,195.5L518.2,198.6L520.6,201.2L518,206.2L516.5,209.5L513.5,212.1L510.9,214.2Z"/>
<path fill="#ff7f0e" d="M504,197.2L506,200.3L511.3,200.7L512.9,197.4L513.7,195.5L513.3,192.9L510.9,194.8L509.9,196.7L505.8,197.2Z"/>
<path fill="#2ca02c" d="M502.4,195.8L502.4,193.9L503.4,192.7L504,194.6L503.4,196.2Z"/>
<path fill="#ff7f0e" d="M488.8,161.3L490.2,160.6L493.5,162.5L496.7,160.8L496.7,162.7L498.5,163.7L500.8,166L503.8,167.7L508.9,167.2L508.6,166.3L512.9,164.4L517,165.3L519.6,165.8L523.4,167.9L523.4,170.3L523,174.1L522.2,176.4L522.8,180L524.6,180.2L522.8,184L526.7,187.7L527.7,190.1L527.5,191.5L524.2,194.8L519,194.4L515.5,193.9L514.7,190.3L513.5,190.1L510.3,191.8L506.8,191.3L503.8,188.7L502.4,186.1L501,183L498.5,182.6L497.7,183.7L496.1,181.1L496.3,179.3L493.3,176.4L491.6,174.1L492.6,171.5L491.4,169.6L490.2,166.5L489.2,164.9L489.6,163.9Z"/>
<path fill="#ff7f0e" d="M523.4,170.3L525.7,171L527.1,169.8L530.1,168.6L534.2,166.3L536.8,166.5L537.2,167L539.8,166.7L541.7,165.6L541.9,163.7L543.9,164.6L544.5,167.7L548.3,166L551.2,166.5L549.4,167.5L544.5,168.4L543.5,173.8L541,174.1L541.9,175.7L539.8,179L537.2,179.5L534,181.4L533.8,183.7L529.1,184.7L526.1,184.9L522.8,184L524.6,180.2L522.8,180L522.2,176.4L523,174.1L523.4,170.3Z"/>
<path fill="#2ca02c" d="M522.8,184L526.1,184.9L529.1,184.7L533.8,183.7L534,181.4L537.2,179.5L539.8,179L541.9,175.7L541,174.1L543.5,173.8L544.5,168.4L549.4,167.5L551.2,166.5L553.4,168.2L557,170.5L555.2,172.4L549.4,172.4L549.4,176.4L552.2,178.1L550.4,180.9L547.3,183.7L545.1,188.5L542.1,188.2L540.2,190.6L543.1,193.6L543.3,196.7L538.8,197L537.6,198.4L535.2,195.8L534.2,194.4L530.1,194.8L524.2,194.8L527.5,191.5L527.7,190.1L526.7,187.7L522.8,184Z"/>
<path fill="#2ca02c" d="M537.6,198.4L538.8,197L543.3,196.7L543.1,193.6L540.2,190.6L542.1,188.2L545.1,188.5L547.3,183.7L550.4,180.9L552.2,178.1L549.4,176.4L549.4,172.4L555.2,172.4L557,170.5L559.3,173.4L559.5,177.6L558.9,180.4L563.5,183L561.7,186.3L564.5,188.2L568.2,189.6L571.6,191.1L577.9,192L577.9,188.5L579.3,189.9L579.7,191.3L585.8,191.1L586,189.4L585.8,188.7L589.9,185.4L594.3,184.9L596.5,187.7L594.1,189.9L592.3,191.8L591.1,195.3L588.4,197.7L588.6,201.9L587,202.6L586.4,198.4L584.2,198.4L585,197.2L586.6,195.3L581.3,194.6L581.3,192.9L578.5,191.8L577.9,193.4L579.5,194.8L577.9,196.5L579.3,199.5L579.7,202.6L575.7,203.6L575.3,206.4L571.8,208.8L566.2,214.9L561.9,217.7L562.1,223.4L561.1,230L559.5,232.4L557.9,233.3L556.5,235.2L554,230.9L551,223.9L548.3,216.5L546.9,209.5L546.5,204.7L546.3,203.1L545.5,204.5L542.9,205.4L539,201.7L541.9,200L538.2,199.1Z"/>
<path fill="#2ca02c" d="M561.7,186.3L563.5,183L566,183.3L569.6,186.1L573.6,188.2L577.9,188.5L577.9,192L571.6,191.1L568.2,189.6L564.5,188.2Z"/>
<path fill="#2ca02c" d="M579.3,189.9L581.3,187.7L585,188.5L586,189.4L585.8,191.1L579.7,191.3Z"/>
<path fill="#2ca02c" d="M587,202.6L586.4,198.4L584.2,198.4L585,197.2L586.6,195.3L581.3,194.6L581.3,192.9L578.5,191.8L577.9,193.4L579.5,194.8L577.9,196.5L579.3,199.5L579.7,202.6L582.4,202.6L583,201.2L585.4,201.7L586.4,205.4Z"/>
<path fill="#2ca02c" d="M561.3,231.4L562.1,231.6L564.1,234.2L565.3,237.1L564.7,239.2L562.7,240.4L561.3,238.7L560.9,235.4Z"/>
<path fill="#2ca02c" d="M664.2,154.5L664.8,152.8L665.2,148.6L668.8,148.1L672.5,140.3L664.8,141.7L663.8,139.1L657.7,136.8L654.6,130.4L649.6,128L644.5,128.5L644.1,129.7L640.9,135.6L638,137.5L635.8,136.8L633.4,140.5L634.4,141.5L639.5,141.3L642.1,144.1L637.2,144.8L630.4,148.1L626.1,148.1L625.3,151.4L622.2,153.5L612.1,156.1L603,153.5L594.7,153.5L592.9,150L583.8,147.6L583.2,143.4L577.7,139.6L577.3,138.2L576.3,138.4L573,140.1L572.6,143.1L567.6,142.9L566.2,146.9L562.1,148.1L563.1,152.3L561.9,154.7L557.5,157.5L555,157.5L553.2,159.2L549.4,159.7L548.9,161.1L551.2,163.4L551.2,166.5L553.4,168.2L557,170.5L559.3,173.4L559.5,177.6L558.9,180.4L563.5,183L566,183.3L569.6,186.1L573.6,188.2L577.9,188.5L579.3,189.9L581.3,187.7L585,188.5L585.8,188.7L589.9,185.4L594.3,184.9L596.5,187.7L599.4,189.2L599.4,192.9L597.1,195.8L597.5,197.9L599.8,199.5L600.4,202.1L602.2,203.6L604.4,204.3L605.6,204.3L605.6,201.2L606.5,201.4L609.1,200.7L612.7,199.3L615.6,200.5L618.2,203.6L621.4,203.6L621.6,206.4L622.9,206.4L623.3,204.3L629.3,201.9L630.8,201.7L635.8,199.3L638.7,196.5L641.7,192.9L643.9,188.2L646.3,183.7L644.1,182.8L646.3,180.7L644.3,177.4L643.1,173.4L640.9,171.7L643.1,169.1L647.8,166L645.3,165.6L640.5,166.3L638.5,164.1L638,162L641.1,161.1L644.5,158L647,158.7L645.7,162.5L651.4,160.1L654.6,157.1L656.5,155.7L658.7,156.4L658.7,155.2L662.1,154L664.2,154.5ZM619.6,209L621.4,207.1L624.3,207.3L623.3,210.2L621.2,211.3L619.6,210.4Z"/>
<path fill="#ff7f0e" d="M645.5,194.8L646.5,195.8L644.3,202.4L642.7,200L643.9,196.5Z"/>
<path fill="#ff7f0e" d="M651.4,160.1L654.6,157.1L656.5,155.7L658.7,156.4L658.7,155.2L662.1,154L664.2,154.5L662.1,157.5L657.7,160.4L659.5,163.2L656.1,165.1L652.6,165.1L653.2,163L652.8,160.8Z"/>
<path fill="#2ca02c" d="M656.1,165.1L659.5,163.2L661.5,167L661.5,170.5L660.7,171.5L657.7,172.4L655.3,172.9L655.5,168.2L655.9,167Z"/>
<path fill="#2ca02c" d="M685.8,156.6L687,161.1L685,163.9L684.8,167.2L684.6,170L682.8,171.9L681.4,171.5L680.6,172.6L677.9,172.6L676.7,173.4L674.5,175.2L673.3,172.6L669.8,173.1L667.6,173.4L664.6,174.1L665.8,172.6L668.8,170.5L673.5,170.3L674.9,169.3L676.5,166.3L677.5,167.5L680,166L682,163.4L683,159.9L683,158.5L683.6,157.1ZM683.4,156.4L683,154L683.6,152.1L685.8,152.1L686.4,147.2L689.1,149.3L693.7,149.8L694.3,152.1L691.1,153.1L689.5,155.2L686.6,153.8L684.8,154.2L685,155.7ZM664.6,174.3L666.2,175L666.8,176.9L665.4,180.2L664,180.9L663.2,178.8L662.1,176.9L662.3,175.2ZM667.8,174.1L671.5,173.4L672.3,174.5L671.3,175.7L668.8,176.9L667.4,175.5Z"/>
<path fill="#2ca02c" d="M586.4,205.4L587,202.6L588.6,201.9L588.4,197.7L591.1,195.3L592.3,191.8L594.1,189.9L596.5,187.7L599.4,189.2L599.4,192.9L597.1,195.8L597.5,197.9L599.8,199.5L600.4,202.1L602.2,203.6L604.4,204.3L602.2,206.4L600,207.1L598,207.8L597.3,210.6L599.4,214.2L598.4,218.4L600.4,223.6L601.2,226.5L599.4,230.7L599,226L598.2,222L597.3,217L596.3,214.7L593.9,215.4L592.5,217L590.5,216.5L590.9,212.3L589.4,208.3L587.6,206.4Z"/>
<path fill="#2ca02c" d="M599.4,230.7L601.2,226.5L600.4,223.6L598.4,218.4L599.4,214.2L597.3,210.6L598,207.8L600,207.1L602.2,206.4L603.2,208.3L604.4,208.3L604,212.3L606.3,211.3L607.5,212.1L610.1,211.1L611.7,213.2L611.7,215.6L613.3,217.7L613.1,220.3L611.9,220.6L608.1,220.6L606.9,222.2L607.9,226.7L606,224.8L604,224.3L603.8,222.7L603,222.4L602,222.9L601.8,226L600.4,229.5L600.6,232.6L602,234.2L602.8,237.3L605.2,238L606.3,239.7L604.2,240.8L602.4,239L600.6,236.8L598.6,235.7L598.6,233.1Z"/>
<path fill="#2ca02c" d="M604.4,204.3L605.6,204.3L605.6,201.2L606.5,201.4L607.9,203.1L610.1,205L611.3,206.2L610.1,208L612.5,210.4L615.4,214.4L617.2,216.8L617.4,219.6L617.2,220.3L614.1,220.6L613.1,220.3L613.3,217.7L611.7,215.6L611.7,213.2L610.1,211.1L607.5,212.1L606.3,211.3L604,212.3L604.4,208.3L603.2,208.3L602.2,206.4L602.2,203.6Z"/>
<path fill="#2ca02c" d="M606.5,201.4L609.1,200.7L612.7,199.3L615.6,200.5L618.2,203.6L615.6,205.4L613.7,209.5L615.2,212.5L618.6,216.3L620.6,221.7L620.8,226L618.2,229L615.8,230L612.5,234L611.9,231.2L611.1,229.8L612.3,228.3L614.6,228.3L613.9,226.7L617.2,225.3L617.2,220.3L617.4,219.6L617.2,216.8L615.4,214.4L612.5,210.4L610.1,208L611.3,206.2L610.1,205L607.9,203.1L606.5,201.4Z"/>
<path fill="#2ca02c" d="M607.9,226.7L606.9,222.2L608.1,220.6L611.9,220.6L613.1,220.3L614.1,220.6L617.2,220.3L617.2,225.3L613.9,226.7L614.6,228.3L612.3,228.3L611.1,229.8L609.3,229.5L608.3,228.3Z"/>
<path fill="#2ca02c" d="M602.4,239L604.2,240.8L606.3,239.7L608.9,243.7L609.1,247.7L610.5,251L609.1,251.2L604.6,247.7L603.2,244.4L602.6,241.3ZM621.4,249.8L622.9,250.3L624.7,251L625.1,248.6L628.3,246.7L630.4,243.4L633.6,241.3L635.8,237.8L637.8,239.7L640.9,241.8L638.9,244.2L637.6,244.4L633.6,244.4L633.8,247.2L631.6,250.8L628.3,251L625.9,252.2L623.3,252.2L621.4,249.8Z"/>
<path fill="#2ca02c" d="M592.5,241.1L596.9,242L599.4,245.6L602.8,249.1L605,250.3L608.9,253.1L609.3,256.7L611.3,258.8L614.1,261.4L613.7,268L611.3,268L606.7,263.7L602.8,256.7L599.4,250.3L596.3,246.7L592.9,243ZM612.5,270.3L614.4,268.2L619,270.1L623.3,270.6L624.3,269.4L627.5,270.6L631.4,272.5L631.2,274.8L625.9,273.9L619.4,272.7L615,271.8ZM621.4,249.8L623.3,252.2L625.9,252.2L628.3,251L631.6,250.8L633.8,247.2L633.6,244.4L637.6,244.4L638.5,248.9L640.5,251.9L638,252.4L637.4,256.2L635.4,257.8L634.8,262.1L634.4,263.7L631.6,264L629.3,262.3L625.9,262.6L622.7,261.1L622.2,257.8L620.4,255.5L620,252.2ZM642.1,252.4L644.1,251.2L648.6,252.2L653,250.8L651.2,253.4L644.5,253.1L642.9,254.3L642.7,256.4L645.5,256.4L649.2,256.4L645.7,258.8L647.4,262.1L649,264.9L646.5,265.6L645.5,263.7L644.3,260.7L643.3,262.6L643.3,267.5L641.3,267.3L641.5,262.6L640.1,260.7L642.1,254.5ZM665.2,256.2L668.4,255.2L670.8,256.2L671.3,259.7L672.9,262.1L677.9,258.1L685,260.4L685,275.8L681,273.4L679.4,274.1L678.5,271.5L680.6,270.3L679,267.3L673.9,264.7L668.8,264L668.4,260.9L669.8,260.2L666.8,260.9L666.6,258.1L664.6,257.6ZM631.4,273.7L635.8,273.9L640.5,274.1L648.2,273.9L648.2,275.1L640.5,275.1L634.4,275.3L631.6,274.8ZM649.6,278.6L651.6,276L652.6,277.2ZM657.7,251.9L658.7,249.6L659.7,251.9L658.7,255.5ZM658.7,261.1L664.4,262.1L661.7,262.6L658.7,262.3ZM641.1,276.7L644.1,277.7L642.5,278.4Z"/>
<path fill="#2ca02c" d="M651.6,276L657.3,274.1L656.3,275.5L652.6,277.2Z"/>
<path fill="#ff7f0e" d="M685,260.4L692.1,263.3L694.7,266.8L698.8,268.5L699,270.1L697.2,270.6L699.2,273.9L704.9,278.6L701.2,278.4L697.6,276.7L695.1,273.4L692.1,272.2L690.1,273.9L688.7,276.2L685,275.8ZM699.8,267.5L703.2,267.3L707.7,264.2L707.9,266.1L704.3,268.9L701.2,268.9ZM704.9,260.4L708.3,263.3L709.3,265.4L708.1,263.7L705.1,261.1ZM712.8,267.3L715.2,270.3L713.8,269.6Z"/>
<path fill="#2ca02c" d="M643.5,210.6L647,210.9L647.2,215.4L645.7,217.7L646.1,220.8L650.4,221.7L650.8,224.6L648.6,222.9L646.5,221.7L643.9,221.7L644.3,219.8L642.5,218.9L642.1,215.8L643.3,214.7L643.3,212.3ZM646.3,238L648.4,234.7L650.2,235.2L652,234L653.6,231.2L655.5,234.7L655.3,239.4L653.8,238.7L653.4,241.1L651,239.7L650.6,237.3L649.4,236.8ZM651.2,224.8L653.2,224.8L654,228.1L653,230.2L652.2,227.9ZM646.5,226.5L648.8,227.2L649.2,232.4L647.6,231.2L646.5,229.5ZM636.8,234.5L641.5,228.8L641.1,227.6L637.4,232.6ZM643.3,222.7L645.3,222.9L644.9,225.3L644.1,224.6Z"/>
<path fill="#2ca02c" d="M630.4,243.4L632.8,242.5L632.8,244.2L631.4,244.9Z"/>
<path fill="#2ca02c" d="M387.6,169.8L388.8,169.6L395,171.5L396.1,172.9L397.1,178.1L392,181.4L389.4,183.5L381.9,186.6L381.9,189L372.8,189L375.2,188L378.8,185.2L379.9,182.6L379.7,180.2L380.7,177.6L384.1,175L385.7,173.8L387.4,171.2Z"/>
<path fill="#2ca02c" d="M372.8,189L370.1,192.9L367.1,198.4L365,205.2L365.1,204L370.9,204L372.4,200.7L374.2,195.8L376.8,192.5L381.9,190.6L381.9,189Z"/>
<path fill="#ff7f0e" d="M381.9,190.6L376.8,192.5L375.2,194.4L375.2,192.9L381.9,192.9ZM375.2,194.4L374.2,195.8L372.4,200.7L370.9,204L373.2,204L373.2,200L375.2,198.8Z"/>
<path fill="#ff7f0e" d="M365,205.2L365.1,204L373.2,204L373.2,200L375.2,198.8L375.2,192.9L381.9,192.9L381.9,189.9L389.8,195.3L386.3,195.3L388.4,217.7L380.7,217.7L377.8,218L376.2,217.5L374.8,219.4L372.6,216.5L370.1,215.1L366.1,216.3L367.1,211.8L366.7,208.5L366.1,207.1Z"/>
<path fill="#2ca02c" d="M366.1,216.3L370.1,215.1L372.6,216.5L374.8,219.4L376.4,225L375.2,225L371.8,224.6L368.1,224.8L365.7,225L365.5,223.4L364.1,219.6L365.5,217.7Z"/>
<path fill="#2ca02c" d="M365.7,225L368.1,224.8L371.8,224.6L371.8,226.7L369.1,228.6Z"/>
<path fill="#2ca02c" d="M369.1,228.6L371.8,226.7L371.8,224.6L375.2,225L376.4,225L378.6,225.5L380.7,225L382.7,228.3L383.3,230.2L384.1,234.5L382.7,236.4L380.5,236.8L380.5,234.5L378.6,234.2L378,232.8L376.8,230.7L374.2,230.9L372.6,233.1Z"/>
<path fill="#2ca02c" d="M372.6,233.1L374.2,230.9L376.8,230.7L378,232.8L378.6,234.2L376.2,238L374.2,236.8L372.8,234.5Z"/>
<path fill="#ff7f0e" d="M376.2,238L378.6,234.2L380.5,234.5L380.5,236.8L382.7,236.4L382.3,239L384.3,240.6L384.3,243.9L381.3,242.5L377.6,239.4Z"/>
<path fill="#ffffff" d="M384.3,243.9L384.3,240.6L382.3,239L382.7,236.4L384.1,234.5L383.3,230.2L386.9,229.3L388.4,229.8L390,231.4L393.8,231.6L394,235.7L393,239L393.8,242.3L391.4,242L387.4,243Z"/>
<path fill="#2ca02c" d="M393.8,242.3L393,239L394,235.7L393.8,231.6L393.6,228.3L399.3,228.1L400.5,230.7L400.7,234.9L400.5,238L401.9,239.9L399.5,241.1L395.4,243Z"/>
<path fill="#2ca02c" d="M401.9,239.9L400.5,238L400.7,234.9L400.5,230.7L399.3,228.1L401.3,228.3L401.1,230L402.3,232.4L402.7,238L402.7,239.7Z"/>
<path fill="#ff7f0e" d="M402.7,239.7L402.7,238L402.3,232.4L401.1,230L401.3,228.3L404.2,225.5L405.2,225L406.8,226.7L407.2,229.3L405.2,233.1L405,239.2Z"/>
<path fill="#2ca02c" d="M388.4,229.8L390,231.4L393.8,231.6L393.6,228.3L399.3,228.1L401.3,228.3L404.2,225.5L404,224.3L401.3,222.2L399.9,218.9L398.1,218.7L395.4,220.8L392.4,222.9L390.8,223.1L388.8,226.5L388.4,229.8Z"/>
<path fill="#ff7f0e" d="M374.8,219.4L376.2,217.5L377.8,218L380.7,217.7L388.4,217.7L386.3,195.3L389.8,195.3L401.8,204.5L401.9,205.4L406,207.6L406.2,209.5L408.1,209.1L408,214.4L406.6,218L399.9,218.9L398.1,218.7L395.4,220.8L392.4,222.9L390.8,223.1L388.8,226.5L388.4,229.8L386.9,229.3L383.3,230.2L382.7,228.3L380.7,225L378.6,225.5L376.4,225Z"/>
<path fill="#ff7f0e" d="M408.1,209.1L408,214.4L406.6,218L399.9,218.9L401.3,222.2L404,224.3L404.2,225.5L405.2,225L406.8,226.7L407.6,222.4L410.6,221.5L415.7,222.9L419.8,222.9L424.8,223.6L427,222L426.8,220.3L430.9,214.4L431.9,206.2L429.9,200L423.8,198.8L414.7,205L411.2,208.5Z"/>
<path fill="#ff7f0e" d="M405,239.2L405.2,233.1L407.2,229.3L406.8,226.7L407.6,222.4L410.6,221.5L415.7,222.9L419.8,222.9L424.8,223.6L427,222L428.3,225L429.1,227.2L426.4,230.7L425.4,234L423.4,237.8L420.8,237.8L419.3,238.3L417.3,240.6L416.7,243.2L413.7,243.9L411.6,244.2L409.6,240.6L408.4,239.4L406.4,239.2Z"/>
<path fill="#ff7f0e" d="M416.7,243.2L417.3,240.6L419.3,238.3L420.8,237.8L423.4,237.8L425.4,234L426.4,230.7L429.1,227.2L428.3,225L428.3,225L428.3,223.6L429.9,225.7L430.1,228.8L430.9,230.7L427.9,231.4L430.9,236.6L428.9,240.1L429.3,243.4L432.1,249.1L432.3,250.3L426.4,249.1L422.4,249.1L419.3,248.9L419.1,245.8L419.1,244.9Z"/>
<path fill="#2ca02c" d="M419.3,248.9L422.4,249.1L422.4,251.9L418.9,251.9Z"/>
<path fill="#ff7f0e" d="M418.9,251.9L422.4,251.9L422.4,249.1L426.4,249.1L426.2,251.2L428.7,251L428.7,255.5L428.7,258.8L425.8,260L423,260L423.6,262.6L422,263.5L418.9,260L417.3,256L418.3,253.6Z"/>
<path fill="#ff7f0e" d="M422,263.5L423.6,262.6L423,260L425.8,260L428.7,258.8L428.7,255.5L428.7,251L426.2,251.2L426.4,249.1L432.3,250.3L432.1,249.1L432.9,246.7L437.2,246L435.9,249.6L435.5,254.3L432.3,259L431.9,262.6L430.3,264.4L428.7,265.9L425.8,265.2L424.2,268L423.8,266.1Z"/>
<path fill="#ff7f0e" d="M424.2,268L425.8,265.2L428.7,265.9L430.3,264.4L431.9,262.6L432.3,259L435.5,254.3L435.9,249.6L437.2,246L437.2,244.2L439,242.3L445.1,244.6L449.1,242.3L455,242.3L457,244.2L459.2,243.7L461.9,246L462.1,248.6L462.9,249.3L460,252.9L459.4,257.6L458.6,260.7L458.6,264.7L459.4,268.5L461.9,273.7L458,274.4L457.4,277L457,282.1L459.8,283.1L459.8,285.9L457,283.8L454.6,282.1L450.7,280.7L448.9,281L448.1,280L444.5,280.7L443.6,273.2L438.8,273.2L438,270.8L433.1,270.8L433.1,268.2L426.2,268.2L424.2,268Z"/>
<path fill="#ff7f0e" d="M424.2,268L426.2,268.2L433.1,268.2L433.1,270.8L438,270.8L438.8,273.2L443.6,273.2L444.5,280.7L448.1,280L448.1,285L444.1,285L444.1,292.5L446.9,295.8L442.8,296.8L437,295.4L427.9,295.4L423.4,295L423.4,291.6L424.8,286.2L427.4,280.3L426.2,275.1L424.4,268.7ZM423.8,266.1L424.2,268L425.8,265.2L425,264.7Z"/>
<path fill="#ff7f0e" d="M423.4,295L427.9,295.4L437,295.4L442.8,296.8L446.9,295.8L450.5,296.3L446.7,296.8L442,297.5L442,306.2L440,306.2L440,312.8L440,321.3L434.7,322L432.9,321.8L430.3,318L428.9,308.1L426.2,302.7L423.4,296.8Z"/>
<path fill="#2ca02c" d="M450.5,296.3L446.7,296.8L442,297.5L442,306.2L440,306.2L440,312.8L441.4,317.8L446.1,314L451.1,314.7L454.2,310.2L458.8,306.7L455.6,302.7L452.6,300.8L450.5,296.3Z"/>
<path fill="#ff7f0e" d="M432.9,321.8L434.7,322L440,321.3L440,312.8L441.4,317.8L446.1,314L451.1,314.7L454.2,310.2L458.8,306.7L462.9,307.2L464.3,312.1L464.1,315.4L462.3,315.7L461.9,317.3L462.9,318.7L464.5,317.5L466.1,317.8L465.1,321.6L462.3,324.9L460.2,328.2L456,332.2L451.5,334.5L444.5,334.8L440,336.4L437,335.2L436.6,331.5L436.4,329.1L434.1,324.4Z"/>
<path fill="#ff7f0e" d="M450.5,296.3L454.2,296.5L458,292.1L461.1,291.1L462.9,292.1L466.3,293.7L466.1,298L465.7,302.7L462.9,307.2L458.8,306.7L455.6,302.7L452.6,300.8L450.5,296.3Z"/>
<path fill="#2ca02c" d="M444.1,285L448.1,285L448.1,280L448.9,281L450.7,280.7L454.6,282.1L457,283.8L459.8,285.9L459.8,283.1L457,282.1L457.4,277L458,274.4L461.9,273.7L466.1,276.5L466.7,279.8L466.9,283.8L465.7,286.4L466.7,287.3L460.7,289.7L461.1,291.1L458,292.1L454.2,296.5L450.5,296.3L446.9,295.8L444.1,292.5Z"/>
<path fill="#ff7f0e" d="M466.1,276.5L466.7,279.8L466.9,283.8L465.7,286.4L466.7,287.3L469.4,288.5L469.2,292.5L471,294.7L472,292.1L472.2,289L470.4,286.6L469.2,283.1L469.6,281.4L468.4,276.7Z"/>
<path fill="#2ca02c" d="M466.1,317.8L464.5,317.5L462.9,318.7L461.9,317.3L462.3,315.7L464.1,315.4L464.3,312.1L462.9,307.2L465.7,302.7L466.1,298L466.3,293.7L462.9,292.1L461.1,291.1L460.7,289.7L466.7,287.3L469.4,288.5L469.2,292.5L471,294.7L472,292.1L472.2,289L470.4,286.6L469.2,283.1L469.6,281.4L472,281.4L475.4,281.9L481.3,279.1L481.7,283.8L482.1,288.5L480.5,292.5L474.4,296.3L470.2,301L471.2,305L471.4,310.9L467.3,314L465.5,315.4Z"/>
<path fill="#ff7f0e" d="M481.3,279.1L475.4,281.9L472,281.4L469.6,281.4L468.4,276.7L466.1,276.5L461.9,273.7L459.4,268.5L458.6,264.7L461.3,262.6L461.9,260L461.3,256.9L468.1,256.7L475.6,261.4L478.9,265.4L478.1,268.5L479.5,270.6L479.1,273.9L480.1,277.9Z"/>
<path fill="#ff7f0e" d="M478.9,265.4L475.6,261.4L468.1,256.7L468.4,253.6L469.4,251.7L470.4,249.8L468.4,244.4L472.2,243.4L472.4,243.9L476.4,245.8L479.5,246.3L482.5,245.1L484.3,245L482.5,247.7L482.5,254.3L483.7,258.3L480.9,260.7Z"/>
<path fill="#ff7f0e" d="M461.3,256.9L459.4,257.6L460,252.9L462.9,249.3L462.1,248.6L461.9,246L464.3,245.8L468.4,244.4L470.4,249.8L469.4,251.7L468.4,253.6L468.1,256.7Z"/>
<path fill="#1f77b4" d="M459.4,257.6L461.3,256.9L461.9,260L458.6,260.7Z"/>
<path fill="#1f77b4" d="M458.6,260.7L461.9,260L461.3,262.6L458.6,264.7Z"/>
<path fill="#ff7f0e" d="M483.7,258.3L482.5,254.3L482.5,247.7L484.3,245L486.6,243.2L490.6,242.7L496.7,235.4L488.6,233.1L486.6,232.4L486.2,228.6L487,227.2L489.6,229.8L494.7,227.9L503.4,226.5L503,229.8L500.8,235.4L496.7,243.7L492.6,248.9L491.2,249.6L487.6,253.1L485.6,255.5Z"/>
<path fill="#1f77b4" d="M472.4,243.9L476.4,245.8L479.5,246.3L482.5,245.1L484.3,245L486.6,243.2L490.6,242.7L496.7,235.4L488.6,233.1L486.6,232.4L486.2,228.6L484.1,227.2L485.4,225L482.5,222.4L480.5,220.3L477.5,220.3L476.2,219.1L473.4,220.6L472.6,224.3L470.6,226.5L470.2,228.8L469,229.5L468.6,234L466.3,235.4L467.9,236.4L470.4,241.6L472.2,243.4Z"/>
<path fill="#ff7f0e" d="M473.4,220.6L476.2,219.1L477.5,220.3L480.5,220.3L482.5,222.4L485.4,225L486.8,224.3L482.9,220.1L479.9,218.7L479.5,217.5L477.7,211.8L474.4,213.9L474.2,215.8L473.2,218.7Z"/>
<path fill="#ff7f0e" d="M487,227.2L486.2,228.6L484.1,227.2L485.4,225L486.8,224.3L487.2,226Z"/>
<path fill="#ff7f0e" d="M477.7,211.8L475.2,204.7L474.2,202.4L450.1,202.4L450.1,207.1L448.1,207.1L448.1,217.2L445.9,217.2L445.1,221L444.1,224.3L445.9,228.3L446.1,229L447.5,233.8L448.5,233.8L450.1,230L454.2,231.6L457.8,232.1L460.2,230L463.3,231.2L465.1,226.7L466.7,225.5L466.3,230L468.4,231.9L468.6,234L468.6,234L469,229.5L470.2,228.8L470.6,226.5L472.6,224.3L473.4,220.6L473.2,218.7L474.2,215.8L474.4,213.9Z"/>
<path fill="#1f77b4" d="M448.5,233.8L450.1,230L454.2,231.6L457.8,232.1L460.2,230L463.3,231.2L465.1,226.7L466.7,225.5L466.3,230L468.4,231.9L468.6,234L466.3,235.4L467.9,236.4L470.4,241.6L472.2,243.4L468.4,244.4L464.3,245.8L461.9,246L459.2,243.7L457,244.2L455,242.3L453,239L450.5,236.4Z"/>
<path fill="#ff7f0e" d="M429.3,243.4L428.9,240.1L430.9,236.6L432.9,235.9L437.2,235.4L438,233.1L442,231.4L445.1,228.6L446.1,229L447.5,233.8L448.5,233.8L450.5,236.4L453,239L455,242.3L449.1,242.3L445.1,244.6L439,242.3L437.2,244.2L437.2,246L432.9,246.7L432.1,249.1Z"/>
<path fill="#2ca02c" d="M427,222L426.8,220.3L430.9,214.4L431.9,206.2L429.9,200L448.1,208.3L448.1,217.2L445.9,217.2L445.1,221L444.1,224.3L445.9,228.3L446.1,229L445.1,228.6L442,231.4L438,233.1L437.2,235.4L432.9,235.9L430.9,236.6L427.9,231.4L430.9,230.7L430.1,228.8L429.9,225.7L428.3,223.6Z"/>
<path fill="#ff7f0e" d="M422.8,175.9L422.8,177.6L420.4,179.5L420.2,183L418.7,183L419.5,187.5L419.3,191.8L418.5,192.7L419.8,196.5L423.8,198.8L429.9,200L448.1,208.3L448.1,207.1L450.1,207.1L450.1,202.4L450.1,185.4L449.5,183L450.5,179.7L446.5,178.1L443.2,176.7L440.2,178.3L440,181.4L438.4,182.8L434.9,181.6L431.3,180.2L430.3,177.8L426.2,176.7Z"/>
<path fill="#ff7f0e" d="M422.8,175.9L422.8,177.6L420.4,179.5L420.2,183L418.7,183L417.7,178.5L414.7,174.5L416.3,172.4L416.1,168.2L416.9,167.1L419.3,166.3L421.8,166.7L421,168.4L421,170.3L422,171.2L420,173.4L419.8,174.3L421.8,175Z"/>
<path fill="#ff7f0e" d="M395,171.5L396.1,172.9L397.1,178.1L392,181.4L389.4,183.5L381.9,186.6L381.9,189L381.9,189.9L389.8,195.3L401.8,204.5L401.9,205.4L406,207.6L406.2,209.5L408.1,209.1L411.2,208.5L414.7,205L423.8,198.8L419.8,196.5L418.5,192.7L419.3,191.8L419.5,187.5L418.7,183L417.7,178.5L414.7,174.5L416.3,172.4L416.1,168.2L416.9,167.1L413.7,166.7L409.6,167.5L405.6,167.5L400.5,168.9L397.5,170Z"/>
<path fill="#2ca02c" d="M450.5,179.7L449.5,183L450.1,185.4L450.1,202.4L474.2,202.4L472,197.9L469.4,193.4L467.9,189.9L466.3,187.3L465.3,183.6L465.8,183.7L466.7,185.9L467.7,187.7L468.9,188.9L470.2,184.7L469,180.4L464.9,180.4L462.3,179.7L460,180.7L454.8,180.2Z"/>
<path fill="#ff7f0e" d="M499.3,282.6L501.8,290.4L500.1,292.1L499.5,296.8L497.7,303.9L494.9,313.1L491.2,314.7L488.6,313.3L487.2,306.9L489.4,301.3L488.6,295.6L490.4,292.5L493.7,291.4L496.5,288.8L498.3,285.5Z"/>
<path fill="#ff7f0e" d="M630.8,305.7L629.1,310.9L629.3,314.5L630.8,319.2L632.4,325.1L633.8,329.8L632.4,335.2L638.2,337.1L642.5,334.3L649.6,334.3L654.6,330.5L660.7,329.1L665.2,328.6L671.3,331.5L674.7,336.4L678.5,331.2L678.1,337.4L680,336.4L679.2,338.6L682.4,341.4L684,344L690.1,345.9L692.5,344.5L696,346.6L699.2,343.7L703.2,342.8L704.9,336.9L705.9,334.1L709.1,328.6L710.5,321.8L709.7,315.7L709.7,313.3L705.3,309.8L702.2,306.2L700.2,301.5L695.8,298.9L695.1,294.4L693.7,290.9L690.7,288L689.9,283.8L688.1,279.6L686.2,284L686,289.7L684.8,295.6L682,295.8L678.5,292.1L673.9,289.7L674.9,286.2L676.5,283.1L672.9,282.9L668.8,281.7L667.8,281L664.4,283.6L662.1,289.2L660.7,289.5L658.3,287.8L654.6,287.3L651.6,292.1L649.6,295.1L647,296.8L644.5,300.6L639.7,302.2L635.8,302.9ZM692.5,350.4L696.2,351.3L699.8,350.8L699.6,353.9L698.2,356.3L695.1,357.2L693.7,353.9Z"/>
<path fill="#2ca02c" d="M749.2,335.5L752.5,337.6L753.5,341.1L754.9,340.4L755.9,343L760,343L761,343.3L759.7,346.8L757.9,347.5L757.7,349.9L754.5,352.5L753.5,351.8L754.1,348.7L751.4,347L753.1,344.7L753.3,342.3L752.3,340L749.8,337.1ZM749.2,349.9L751.6,350.8L752.5,352.7L749.8,355.8L749.8,357.7L746.4,358.8L745.4,362.6L741.7,364.3L740.5,364.3L736.7,362.6L739.7,358.1L744.8,355.8L746.4,353.4L748,350.6Z"/>
<path fill="#ffffff" d="M731.6,301.7L734.6,303.9L737.7,306.9L736.7,306.9L732.6,303.9Z"/>
<path fill="#2ca02c" d="M758.5,295.6L761.2,295.6L761,297.3L758.7,297Z"/>
<path fill="#2ca02c" d="M716.4,270.1L719.5,272.2L723.1,274.1L725.5,277.4L724.1,277.4L720.5,274.4Z"/>
<path fill="#2ca02c" d="M736.9,289.2L738.1,291.1L739.3,293.2L738.3,293L737.1,290.9Z"/>
<path fill="#ffffff" stroke-width="1.0" d="M34.7,453.9L46.3,450.2L62.1,451.8L68.4,447.6L81.1,444.5L78.9,438.2L89.5,440.3L97.9,435L112.6,432.5L129.5,430.8L142.1,428.7L156.8,429.7L171.6,430.8L186.3,431.8L192.6,426.6L201.1,425.5L213.7,427.6L226.3,426.6L238.9,428.7L246.3,426.6L249.5,421.3L257.9,417.1L266.3,411.8L274.7,405.5L283.2,402.4L287.4,404.5L278.9,407.6L272.6,411.8L270.5,416.1L275.8,420.3L276.8,426.6L272.6,431.8L262.1,435L251.6,436.1L243.2,437.1L230.5,439.6L238.9,442.4L247.4,445.5L257.9,440.9L266.3,444.5L274.7,451.8L283.2,450.2L293.7,447.6L306.3,448.7L314.7,446.6L323.2,444.5L329.5,440.3L340,437.1L348.4,435L356.8,431.8L365.3,427.6L377.9,423.4L394.7,421.3L400,421.9L421.1,420.7L437.9,421.3L452.6,421.9L465.3,417.1L477.9,419.8L488.4,415L501.1,411.4L509.5,409.7L517.9,412.9L530.5,414.4L540,415L538.9,420.3L534.7,427.6L543.2,423.4L551.6,418.2L562.1,414.4L572.6,411.8L589.5,410.8L606.3,409.3L618.9,411.8L627.4,409.7L633.7,413.5L648.4,411.8L663.2,410.4L677.9,410.8L690.5,412.9L698.9,415.6L711.6,416.5L724.2,419.2L728.4,421.9L745.3,424.1L741.1,428.7L728.4,432.5L732.6,437.1L742.1,438.2L728.4,440.3L722.1,444.5L728.4,448.7L745.3,451.8L763.2,453.7ZM291.6,444.5L295.8,439.6L304.2,438.2L311.6,440.3L310.5,443.8L302.1,445.5Z"/>
<path fill="#2a2a2a" stroke-width="0.5" d="M83.4,208L84.6,206.9L85.8,208L84.6,209.2ZM82.4,205.2L83,204.7L83.6,205.2L83,205.7ZM79.1,203.8L79.8,203.3L80.4,203.8L79.8,204.3ZM76,202.4L76.5,201.9L77,202.4L76.5,202.9ZM214.2,255.7L215.2,254.8L216.2,255.7L215.2,256.7ZM216.2,255.7L216.6,255.2L217,255.7L216.6,256.2ZM274.1,216.1L274.6,215.5L275.1,216.1L274.6,216.7ZM275,218L275.4,217.4L275.8,218L275.4,218.5ZM275.6,219.8L276,219.3L276.4,219.8L276,220.4ZM275.7,221.5L276,221L276.3,221.5L276,222ZM275.3,223.1L275.6,222.7L275.9,223.1L275.6,223.6ZM274.3,225.7L274.6,225.4L274.9,225.7L274.6,226.1ZM278.5,223.3L278.8,222.9L279.1,223.3L278.8,223.6ZM274.5,229.8L275.4,228.9L276.3,229.8L275.4,230.6ZM271.9,213.5L272.3,213.1L272.7,213.5L272.3,213.8ZM267.9,212.4L268.3,212.2L268.7,212.4L268.3,212.6ZM271.5,211.6L271.9,211.3L272.3,211.6L271.9,211.8ZM240.9,197L241.8,195.5L242.6,197L241.8,198.4ZM242.5,191.8L243.2,190.9L243.9,191.8L243.2,192.6ZM239.7,191.5L240.5,191.2L241.3,191.5L240.5,191.9ZM244.9,196.2L245.2,195.1L245.5,196.2L245.2,197.4ZM246.6,198.6L247,197.9L247.4,198.6L247,199.3ZM250.1,204.7L250.7,204.3L251.3,204.7L250.7,205.2ZM252.7,202.9L253.3,202.5L253.9,202.9L253.3,203.2ZM347.5,165.1L348.3,164.7L349.1,165.1L348.3,165.4ZM341.5,163.4L342.2,163.1L342.9,163.4L342.2,163.8ZM344,163L344.4,162.7L344.8,163L344.4,163.2ZM364.8,177L365.3,176.7L365.8,177L365.3,177.3ZM365.4,187.5L366.1,187L366.8,187.5L366.1,188ZM367.4,188.2L367.9,187.7L368.4,188.2L367.9,188.7ZM370.7,187.3L371.1,186.5L371.6,187.3L371.1,188.1ZM371.6,185.9L372,185.4L372.4,185.9L372,186.3ZM362.9,186.6L363.3,186.1L363.6,186.6L363.3,187ZM351.2,218.7L351.7,218.1L352.2,218.7L351.7,219.3ZM350,219.1L350.3,218.8L350.6,219.1L350.3,219.5ZM350.1,215.1L350.5,214.8L350.9,215.1L350.5,215.5ZM348.3,214.2L348.7,213.8L349.1,214.2L348.7,214.5ZM352.8,216.3L353.1,215.8L353.4,216.3L353.1,216.8ZM412.6,253.6L412.9,253.1L413.2,253.6L412.9,254.1ZM414.3,250.5L414.5,250.2L414.7,250.5L414.5,250.8ZM416.7,246L417.1,245.3L417.5,246L417.1,246.7ZM323.8,382.4L325.6,381.9L327.4,382.4L325.6,383ZM384.7,108L385.3,107.5L385.9,108L385.3,108.5ZM396.6,112L396.9,111.2L397.2,112L396.9,112.8ZM392.9,115.1L393.4,114.7L393.9,115.1L393.4,115.4ZM385.1,117.4L385.7,116.5L386.3,117.4L385.7,118.4ZM381.5,86.7L382.3,86.5L383.1,86.7L382.3,87ZM515.7,302.1L516.1,301.6L516.5,302.1L516.1,302.6ZM511.4,304.1L511.9,303.6L512.4,304.1L511.9,304.6ZM486.9,281.9L487.2,281.4L487.5,281.9L487.2,282.4ZM489.1,283.1L489.4,282.8L489.7,283.1L489.4,283.4ZM490.7,284.5L490.9,284.2L491.2,284.5L490.9,284.8ZM511.7,265.3L511.9,265L512.1,265.3L511.9,265.5ZM548.2,244.4L548.3,243.2L548.5,244.4L548.3,245.6ZM546.9,228.3L547.1,227.6L547.3,228.3L547.1,229ZM587,225.5L587.4,223.4L587.8,225.5L587.4,227.6ZM589.1,237.3L589.4,236.4L589.7,237.3L589.4,238.3ZM507.2,224.8L508.4,224.4L509.7,224.8L508.4,225.2ZM538.8,370.6L540.2,369.8L541.7,370.6L540.2,371.5ZM692.5,222.6L692.7,222.2L693,222.6L692.7,222.9ZM694.4,218.7L694.5,218.3L694.7,218.7L694.5,219ZM671.8,236.6L672.1,236.1L672.3,236.6L672.1,237.1ZM719.6,238L719.9,237.8L720.2,238L719.9,238.3ZM706.7,236.8L706.9,236.6L707.1,236.8L706.9,237.1ZM746,237.5L746.2,237.3L746.4,237.5L746.2,237.8ZM749.6,251L749.8,250.7L750,251L749.8,251.3ZM49.9,286.4L50.6,286.1L51.3,286.4L50.6,286.7ZM51.5,287.2L52,287L52.5,287.2L52,287.5ZM44.4,304.3L44.7,304.1L45,304.3L44.7,304.6ZM761.6,293.5L762.6,293L763.6,293.5L762.6,293.9ZM96.3,296L96.8,295.6L97.3,296L96.8,296.3ZM115.7,275.5L116,275.3L116.3,275.5L116,275.8ZM735.2,279.6L735.6,279.3L736.1,279.6L735.6,279.8ZM740.1,296.1L740.3,295.7L740.6,296.1L740.3,296.4ZM742.3,300.3L742.5,299.8L742.8,300.3L742.5,300.8ZM739.3,322.7L739.5,322.6L739.7,322.7L739.5,322.9ZM41.5,357.9L42.1,357.6L42.7,357.9L42.1,358.2ZM722.5,276.7L723.3,276.4L724.1,276.7L723.3,277.1ZM726.3,279.1L727.1,278.7L728,279.1L727.1,279.4ZM716.8,273.7L717.4,273.4L718,273.7L717.4,273.9ZM649.8,196.7L650.2,196.5L650.6,196.7L650.2,197ZM658.1,191.8L658.5,190.9L658.9,191.8L658.5,192.6ZM661.3,187.5L661.7,187.2L662.1,187.5L661.7,187.8ZM663.5,182.6L663.8,182.3L664.1,182.6L663.8,182.8ZM655.1,175.5L655.7,175.2L656.3,175.5L655.7,175.8ZM694.7,149L695.6,148.5L696.4,149L695.6,149.6ZM698.2,147.4L699.2,146.8L700.2,147.4L699.2,148ZM702.6,145.3L703.2,144.8L703.9,145.3L703.2,145.7ZM707.2,142.9L707.7,142.4L708.2,142.9L707.7,143.4ZM709.6,139.8L709.9,139.4L710.2,139.8L709.9,140.3ZM712.6,137.7L713,137.4L713.4,137.7L713,138.1ZM714.4,135.6L715,135.1L715.6,135.6L715,136.1ZM53.6,104.7L55.2,104.1L56.9,104.7L55.2,105.3ZM61.3,112.5L62.7,112L64.2,112.5L62.7,112.9ZM86.8,118.6L88.7,117.4L90.5,118.6L88.7,119.8ZM74.1,115.8L74.5,115.5L74.9,115.8L74.5,116ZM54.3,119.4L54.6,119.2L54.9,119.4L54.6,119.7ZM41.1,132.1L41.9,131.8L42.7,132.1L41.9,132.3ZM45.9,131.1L46.7,130.8L47.6,131.1L46.7,131.4ZM38.4,132.3L39.1,132.1L39.7,132.3L39.1,132.5ZM749,129.5L749.8,129.2L750.6,129.5L749.8,129.7ZM758.3,131.6L758.9,131.3L759.5,131.6L758.9,131.8ZM735.3,124.5L736.1,124L736.8,124.5L736.1,125ZM540,81.1L541.7,80.6L543.3,81.1L541.7,81.5ZM553.4,66.7L554.4,66.3L555.4,66.7L554.4,67ZM559.3,81.1L560.5,80.8L561.7,81.1L560.5,81.4ZM581.8,75.6L582.8,75.4L583.8,75.6L582.8,75.9ZM682.8,80.6L686,79.9L689.3,80.6L686,81.3ZM697.8,77.5L700.2,76.8L702.6,77.5L700.2,78.2ZM510.9,81.5L510.9,81.5L510.9,81.5L510.9,81.6ZM424.4,98.8L424.8,98.4L425.2,98.8L424.8,99.1ZM428.3,92.9L429.9,92.3L431.5,92.9L429.9,93.5ZM433.1,90.8L433.9,90.3L434.7,90.8L433.9,91.2ZM438.2,89.1L439,88.7L439.8,89.1L439,89.5ZM358.6,62L361,61.7L363.5,62L361,62.2ZM277.8,143.6L278,143.4L278.2,143.6L278,143.9ZM269.9,144.8L271.3,144.4L272.7,144.8L271.3,145.2ZM274.1,142.4L274.4,142.2L274.7,142.4L274.4,142.7ZM130.8,128.5L131.8,126.4L132.8,128.5L131.8,130.6ZM236.3,106.6L237.5,106L238.7,106.6L237.5,107.2ZM237.5,121.2L238.3,120.4L239.1,121.2L238.3,122ZM229.2,106.8L230.4,106.3L231.6,106.8L230.4,107.3ZM242.2,93.8L243.6,93.1L245,93.8L243.6,94.5ZM246,93.1L246.6,92.6L247.2,93.1L246.6,93.6ZM248.4,373L249,371.8L249.7,373L249,374.2ZM247.1,369.2L247.6,368.1L248.1,369.2L247.6,370.4ZM249,360.5L249.7,359.6L250.3,360.5L249.7,361.4ZM249.2,354.8L249.9,353.4L250.5,354.8L249.9,356.3ZM256.5,384.6L257.8,384.3L259,384.6L257.8,384.9ZM268.6,383.6L269.3,383.4L270,383.6L269.3,383.8ZM278,376.3L279,375.8L280,376.3L279,376.8ZM428.4,169.6L428.7,169.4L428.9,169.6L428.7,169.8ZM402.1,162.4L402.3,162.1L402.6,162.4L402.3,162.6ZM407.2,160L407.6,159.8L408,160L407.6,160.3ZM450.8,167.2L451.1,166.9L451.4,167.2L451.1,167.6ZM451.8,163.7L452.1,163.2L452.5,163.7L452.1,164.1ZM452.3,161.8L452.8,161.5L453.3,161.8L452.8,162.1ZM453.9,165.3L454.2,165.1L454.5,165.3L454.2,165.6ZM455.9,168.9L456.2,168.2L456.5,168.9L456.2,169.6ZM439.4,160.8L439.6,160.4L439.8,160.8L439.6,161.3ZM441,164.1L441.2,163.7L441.5,164.1L441.2,164.6ZM450.5,166.7L450.7,166.5L450.9,166.7L450.7,167ZM448.9,164.9L449.1,164.6L449.3,164.9L449.1,165.1ZM612.9,259.5L614.1,258.3L615.4,259.5L614.1,260.7ZM617.6,261.1L618.2,260.6L618.8,261.1L618.2,261.7ZM596.4,251.9L596.9,250.8L597.4,251.9L596.9,253.1ZM599.5,257.8L600,256.7L600.5,257.8L600,259ZM602.1,260.9L602.4,260.2L602.7,260.9L602.4,261.6ZM593.4,248.2L593.9,247.8L594.4,248.2L593.9,248.5ZM606.5,267L606.7,266.8L606.9,267L606.7,267.3ZM654.6,262.3L655.7,261.6L656.7,262.3L655.7,263ZM650.4,258.5L651.6,258.2L652.8,258.5L651.6,258.9ZM648.1,266.1L648.6,264.9L649.1,266.1L648.6,267.3ZM647.8,266.8L648,266.3L648.2,266.8L648,267.3ZM671.4,268.9L671.9,267.5L672.4,268.9L671.9,270.3ZM665.2,272.5L665.8,271.8L666.4,272.5L665.8,273.2ZM668,267.8L668.2,266.9L668.4,267.8L668.2,268.6ZM673.7,258.3L674.5,258L675.3,258.3L674.5,258.6ZM674.1,256.7L674.9,256.2L675.7,256.7L674.9,257.1ZM663.1,254.8L663.8,254.3L664.5,254.8L663.8,255.2ZM657.6,256.2L658.1,255.7L658.6,256.2L658.1,256.7ZM655,250.1L655.1,249.9L655.2,250.1L655.1,250.2ZM653.4,246L653.6,245.6L653.8,246L653.6,246.5ZM656,244.4L656.3,243.8L656.5,244.4L656.3,245ZM662.2,259L662.3,258.9L662.4,259L662.3,259.1ZM627.3,270.8L628.3,270.5L629.3,270.8L628.3,271.1ZM632.2,274L632.8,273.7L633.4,274L632.8,274.4ZM653.5,273.2L654.2,272.9L655,273.2L654.2,273.4ZM650.8,273.9L651.6,273.7L652.4,273.9L651.6,274.1ZM649,274.1L649.6,273.9L650.2,274.1L649.6,274.4ZM644.5,298.9L644.5,298.9L644.5,298.9L644.5,298.9ZM622.2,207.1L622.2,207.1L622.3,207.1L622.2,207.1ZM646.4,183.3L646.8,183L647.1,183.3L646.8,183.5ZM645.1,179.7L645.7,179.5L646.3,179.7L645.7,180ZM696.9,259.1L697.8,258.9L698.7,259.1L697.8,259.4ZM702.4,257.8L702.6,257.7L702.8,257.8L702.6,258ZM708.2,276L708.7,275.8L709.2,276L708.7,276.2ZM710.1,281.4L710.5,281.3L710.9,281.4L710.5,281.6ZM704.7,277.2L705.3,276.9L705.9,277.2L705.3,277.5ZM704.5,276.2L704.9,276L705.3,276.2L704.9,276.5ZM711.3,281.2L711.6,281.1L711.8,281.2L711.6,281.3ZM675.9,338.8L677.3,338.5L678.7,338.8L677.3,339.1ZM663.4,281.7L664.4,281.2L665.4,281.7L664.4,282.1ZM675.7,287.3L676.3,286.9L676.9,287.3L676.3,287.8ZM681.6,293.5L682,293.1L682.4,293.5L682,293.8ZM709.5,313.8L709.7,312.6L709.9,313.8L709.7,315ZM698.9,348.7L699.2,348.1L699.5,348.7L699.2,349.3ZM690.8,348.5L691.1,348L691.4,348.5L691.1,348.9ZM721.2,383.2L721.3,382.8L721.4,383.2L721.3,383.5ZM738.9,365.2L739.5,364.7L740.1,365.2L739.5,365.7ZM735.8,374L736.1,373.6L736.4,374L736.1,374.3ZM500.6,363.8L500.8,363.7L500.9,363.8L500.8,363.9ZM475.8,365L476,364.9L476.2,365L476,365.1ZM556.3,344L556.4,343.9L556.5,344L556.4,344.1ZM387.9,291.9L388,291.8L388.1,291.9L388,292.1ZM370.2,273.1L370.3,272.9L370.4,273.1L370.3,273.2ZM374.5,341.9L374.6,341.7L374.7,341.9L374.6,342ZM178,318.3L178.2,318.1L178.3,318.3L178.2,318.4ZM235.7,333.8L235.9,333.7L236,333.8L235.9,333.9Z"/>
<path fill="#ffffff" d="M462.3,315.7L464.1,315.4L464.5,317.5L462.9,318.7L461.9,317.3Z"/>
<path fill="#ff7f0e" d="M454.2,324.2L457.4,321.8L459,323.9L456.4,326.5Z"/>
<path fill="#2ca02c" d="M365.5,222.2L369.1,221.7L371.6,222.4L369.1,223.1L365.5,223.4Z"/>
<path fill="none" d="M246.3,423.4L253.7,420.3M251.6,426.6L260.0,422.4M257.9,419.2L265.3,415.0M264.2,416.1L271.6,410.8M273.7,407.6L281.1,404.5M278.9,403.4L287.4,402.4M248.4,428.7L257.9,426.6M255.8,423.4L262.1,424.5M275.2,415.0L278.1,422.4M68.4,444.5L76.8,442.4M68.4,447.6L78.9,446.6M83.2,442.4L93.7,440.3M89.5,444.5L102.1,442.4M97.9,440.3L106.3,438.2M46.3,450.2L89.5,457.7M58.9,452.9L74.7,456.1M180.0,433.9L198.9,432.9M137.9,429.7L154.7,430.8M230.5,439.6L243.2,442.4L251.6,445.5M232.6,444.5L243.2,446.6M257.9,440.9L262.1,447.6L268.4,445.5M329.5,443.4L352.6,443.4M728.4,432.5L736.8,435.0M732.6,437.1L742.1,438.2M722.1,444.5L732.6,446.6M492.6,414.4L501.1,411.8M589.5,410.8L602.1,410.2M215.2,63.1L229.4,64.8L241.6,64.1M221.3,67.4L233.5,67.9L243.6,66.4M225.3,71.2L235.5,70.5L243.6,69.3M229.4,59.6L245.6,60.8L257.8,59.4M237.5,62.0L253.7,63.1L265.9,61.7M213.2,65.0L207.1,67.2L215.2,68.8M205.1,68.8L217.2,66.4M188.9,67.9L199.0,70.2L190.9,71.2M176.8,69.3L188.9,68.8M203.1,74.5L213.2,75.9L221.3,74.9M207.1,77.3L217.2,76.4L229.4,77.3M233.5,75.9L237.5,74.5M219.3,82.0L229.4,83.4L237.5,82.5M241.6,84.4L249.7,86.7L255.7,88.6M245.6,89.1L253.7,91.0L261.8,92.9M257.8,95.2L265.9,96.2L271.9,98.5M261.8,99.5L265.9,101.8M253.7,103.3L261.8,105.1M172.7,74.9L180.8,75.9M162.6,76.8L170.7,75.4M156.5,83.0L164.6,83.4M172.7,84.4L180.8,85.3L188.9,84.4M164.6,89.6L172.7,88.2M197.0,82.0L201.1,83.4M209.2,81.1L213.2,83.0M188.9,75.4L197.0,74.5M290.1,89.1L296.2,90.0M288.1,84.4L294.2,85.3M286.1,79.2L292.2,79.7M292.2,96.2L297.2,96.7M294.2,100.9L298.2,101.8M298.2,107.0L302.3,108.0M314.4,106.6L311.4,104.7M318.5,100.9L315.5,99.5M326.6,97.6L322.6,96.7M342.8,92.4L336.7,93.3M350.9,88.2L342.8,87.2L348.9,85.8M354.9,83.0L346.9,82.0M357.0,78.7L350.9,77.8M361.0,74.0L352.9,73.1M361.0,69.3L352.9,68.3M363.1,65.0L352.9,64.1M261.8,71.2L269.9,72.1M257.8,68.8L265.9,67.9M282.1,60.8L294.2,59.8M310.4,59.4L322.6,58.4M334.7,59.8L346.9,60.8M116.0,113.4L122.5,116.7L125.7,119.8L129.0,122.6L132.2,124.7M130.2,127.1L132.6,130.2M135.8,127.3L139.1,130.6L141.1,133.9M125.1,116.0L128.2,118.8L131.0,121.7L134.2,124.0M410.0,112.7L412.5,112.2M410.0,109.9L413.7,109.9M411.6,107.0L414.5,106.6M417.7,104.2L421.0,104.2M422.6,101.4L424.6,100.4M425.0,97.6L427.9,96.7M429.1,94.3L431.9,93.3M433.5,91.9L436.4,90.5M439.2,89.6L442.8,88.6M445.3,88.2L448.9,87.2M452.1,87.7L456.6,87.2M250.7,353.4L251.7,357.7L250.5,361.9M248.8,364.7L250.5,368.1L248.8,371.8M250.5,373.7L251.7,377.0L253.7,379.9M252.7,381.3L256.7,382.4L259.8,383.9M254.7,379.9L256.5,381.5M425.8,69.3L433.9,68.6M427.9,67.2L435.9,66.7M511.9,81.3L515.9,81.1M546.5,85.3L550.4,83.9M557.5,83.9L563.5,84.9M573.6,79.7L581.8,76.8M598.0,74.5L608.1,73.5M617.2,81.1L623.3,79.7M648.6,82.0L655.7,81.1M672.9,85.3L680.0,85.8M388.2,121.7L389.4,120.7M387.8,119.3L389.0,118.4M386.5,118.8L387.4,119.8M379.7,127.3L380.9,127.8M379.2,131.6L380.5,131.1M91.7,115.1L94.7,113.6L97.8,112.2M87.7,116.9L83.6,118.8M99.8,111.3L103.9,110.8M68.4,124.5L74.5,123.1L79.6,121.2"/>
<rect x="35" y="453.2" width="729" height="1.7" fill="#9a9a9a" stroke="none"/>
</g>
<g transform="translate(956.0,0.0)">
<path fill="#ff7f0e" d="M253,69.9L261.3,66.7L268.9,63.5L279.1,61L291.8,59.1L304.5,57.8L317.3,57.2L330,56.8L342.7,57.8L354.2,59.1L359.3,61L368.2,61.4L376.4,61.9L368.2,63.5L360.5,65.5L358,69.3L361.8,73.1L355.4,76.9L352.9,80.7L345.3,82.6L351.6,84.5L354.2,86.4L342.7,89L336.3,93.4L330,97.3L323.6,99.2L317.3,102.4L314.7,107.4L312.2,112.8L307.1,111.3L302,110L298.2,106.2L295.6,101.1L291.8,97.3L290.5,90.9L288,85.8L284.2,79.5L279.1,75.6L271.4,73.7L263.8,73.1L257.4,71.8Z"/>
<path fill="#2ca02c" d="M350.6,99.6L354.2,97.9L359.3,98.8L365.6,97.3L370.7,98.5L372,101.1L368.2,103L361.8,104.3L356.7,103.6L352.9,101.7Z"/>
<path fill="#2ca02c" d="M113.6,89.9L106.4,89L96.2,88.1L87.3,86.6L82.2,85.8L77.1,87.1L70.7,89L64.4,91.5L61.8,92.8L66.9,94.1L72.6,96L68.2,97.5L61.2,98.8L59.9,99.8L66.3,101.1L73.3,102L73.3,103.6L68.2,104.9L64.6,106.4L63.7,108.7L67.2,110.2L65.6,111.9L70.5,114.4L73.3,116L79,116.4L80.9,114.8L72,121.4L61.8,126.5L52.9,129.7L45.3,131.4L38.3,132.3L46.5,130.4L55.5,128.2L68.2,123.1L78.4,119.2L84.7,116.7L89.8,112.5L93.6,110.6L98.7,109.7L103.8,110.6L108.9,111.3L113.6,111.9ZM114,112L118,112.5L121.1,115.1L125.5,113.4L129.2,115.5L132.2,119.3L136.2,122.1L135.8,124.5L133.2,125.2L129.8,124L127.7,121.7L124.9,119.3L122.9,116.9L120.1,115.3L116.4,113.6L114,112.9Z"/>
<path fill="#ff7f0e" d="M114,90L118,90.3L123.1,91.7L128.2,90.3L136.2,88.9L140.3,87.9L146.4,90.5L154.5,89.6L162.6,91.5L168.7,94.3L176.8,94.1L180.8,96.7L182.8,93.3L186.9,92.6L195,94.3L201.1,92.9L205.1,93.3L206.1,90.3L204.1,86L208.1,84.4L213.2,87.9L214.2,90.3L217.2,92.2L221.3,93.8L226.4,89.6L233.5,89.8L234.9,92.6L233.5,96.2L229.4,97.8L224.9,97.4L223.3,100.2L219.3,103.3L215.8,104.9L211.2,109.2L208.1,112.7L208.7,115.5L212.2,119.8L219.3,120.3L227.4,123.8L232.8,124.3L233,129.2L236.5,133.2L239.5,132.8L239.9,128L238.5,125.2L243.6,122.1L244.6,118.6L240.5,115.5L242.6,111.5L241.6,107L249.7,107.3L256.7,110.3L258.8,115.1L262.8,116.7L266.9,113.9L268.7,111.8L273.9,118.6L278,123.8L283.1,126.9L286.5,130.4L284.1,133L278,135.8L269.9,135.6L263.8,137.5L258.8,141L255.7,143.6L259.8,141.3L263.8,138.9L269.3,138.4L268.9,141L266.9,142.9L268.9,145.3L270.9,146L276,146.4L278,143.6L278.4,145.7L275.4,147.6L270.9,149L266.7,151.6L265.4,149.8L268.9,147.4L263.8,147.9L262.2,146.4L262.2,143.1L259.4,142.4L257.8,144.8L255.7,147.4L254.7,148.1L248.2,148.1L244.6,150L239.5,151.9L239.5,153.3L232.4,155.7L231.4,154.5L232.4,152.8L233,147.4L230.4,145.7L228.4,144.6L221.3,140.5L218.3,141L213.2,140.1L206.7,138.7L150.8,138.7L150,138L146.4,135.6L141.3,132.8L140.3,129.2L136.2,126.2L135.8,124.5L136.2,122.1L132.2,119.3L129.2,115.5L125.5,113.4L121.1,115.1L118,112.5L114,112ZM139.7,134.4L145.4,135.6L149.4,139.8L146.8,139.8L143.3,137.5ZM279.4,142L282.1,138.7L284.5,133.2L286.9,132.5L286.5,136.3L291.2,138L292.8,142.2L291.2,144.1L287.1,143.6L285.1,142ZM269.1,136.5L273.9,137.7L274.4,138.4L269.9,137ZM146.4,84.4L150.4,86.5L155.5,85.8L160.6,83.9L165.6,81.3L161.6,79L154.5,78.5L147.4,79L148.4,81.5ZM160.6,82.7L158.5,85.6L164.6,87.7L162,89.1L163.6,91.5L169.7,92.4L178.8,92.2L186.9,91.5L193,90.3L195,88.6L187.9,86.7L186.9,83.2L182.8,81.5L176.8,82L168.7,81.3L162.6,82ZM193,82L197,84.6L203.1,85.3L204.1,82L201.1,79.7L196,79.9ZM206.1,83.7L211.2,84.4L216.8,82L216.2,79.9L208.1,79.4L205.1,81.3ZM198,91.2L202.1,92.4L206.1,91.7L205.1,89.6L201.1,89.3ZM219.3,80.8L227.4,80.1L235.5,80.4L241.6,82.3L248.6,84.9L255.7,86.7L260.8,88.6L263.8,91.5L273.9,96.2L275,97.4L269.9,100.9L270.9,103.3L267.9,106.1L264.8,108L261.8,107.5L254.7,105.6L249.7,102.6L242.6,102.6L241.6,99.7L249.7,98.5L251.7,95L243.6,91.5L239.5,88.6L233.5,89.3L225.3,88.4L219.3,86.7L217.2,83.2ZM223.3,102.8L225.3,99.2L229.4,98.5L235.5,102.1L237.1,103.7L231.4,105.1L226.4,105.1ZM213.2,78L225.3,78.7L237.5,78L238.5,76.1L233.5,74.9L221.3,73.8L213.2,73.5L205.1,74L204.1,76.4ZM219.3,74L237.5,74.5L242.6,72.1L247.6,69L253.7,66.7L267.9,63.1L275,59.8L261.8,58.4L243.6,58.2L227.4,60.1L217.2,62L223.3,64.3L227.4,66.7L221.3,69L221.3,71.4ZM205.1,66L211.2,69.5L221.3,69.5L223.3,66.7L217.2,62.7L209.2,62.4ZM162.6,75.4L170.7,78.5L180.8,77.5L185.9,76.1L182.8,73.3L172.7,73.5L163.6,73.8ZM188.9,76.1L201.1,77.3L209.2,76.8L203.1,73.5L193,73.5ZM150.4,74.5L160.6,75.9L164.6,73.5L158.5,71.6ZM170.7,69.5L186.9,71.9L201.1,70.7L195,67.9L184.9,67.2L174.7,68.1Z"/>
<path fill="#2ca02c" d="M150.8,138.7L206.7,138.7L213.2,140.1L218.3,141L221.3,140.5L228.4,144.6L230.4,145.7L233,147.4L232.4,152.8L231.4,154.5L232.4,155.7L239.5,153.3L239.5,151.9L244.6,150L248.2,148.1L254.7,148.1L255.7,147.4L257.8,144.8L259.4,142.4L262.2,143.1L262.2,146.4L263.8,147.9L263.8,148.6L259.8,150.2L256.1,153.3L257.8,155.9L254.7,156.6L249.7,158.7L246.6,163.4L245.6,167L246.6,171L243.6,172.6L239.5,175.2L235.9,178.5L234.7,181.8L236.3,187L237.5,191.1L236.7,194.6L235.1,194.8L233.5,191.8L231.8,187L229.4,183.3L226.4,184L222.3,182.8L219.3,182.8L218.3,185.4L214.2,184.9L209.6,184.2L207.1,185.4L202.5,188.7L202.7,193.2L198,189.4L195,184.4L191.9,184L190.5,185.9L187.9,184.4L183.8,179.3L180.4,179.3L180.4,180.4L174.7,180.4L167.2,177.1L162.4,177.6L159.5,174.1L155.3,172.9L152.7,167.9L151.4,165.1L147.8,159L147.4,153.3L148.4,145L147,140.1L150.8,140.3Z"/>
<path fill="#ff7f0e" d="M162.4,177.6L167.2,177.1L174.7,180.4L180.4,180.4L180.4,179.3L183.8,179.3L187.9,184.4L190.5,185.9L191.9,184L195,184.4L198,189.4L202.7,193.2L201.5,201.2L202.1,203.6L205.1,209L208.1,211.3L213.6,210.4L215.8,208.3L216.6,204.7L220.3,203.3L223.3,203.6L223.7,205.9L222.3,210.6L220.7,210.6L218.9,212.3L215.2,212.3L215.2,213.6L216.4,216.3L213.8,216.3L212.8,218.4L212.8,220.1L207.1,216.1L203.1,216.8L197,214.2L193,211.8L188.3,209.5L185.9,206.4L185.9,203.6L183.8,198.8L180.8,195.3L178.2,192.9L175.7,189.4L172.1,184.7L170.7,181.1L167.2,179.5L167.2,182.3L171.1,187L173.7,191.8L175.7,196.5L177.8,199.5L176.8,200.3L171.7,194.1L166.6,188.7L168.2,188L164.6,182.3Z"/>
<path fill="#ff7f0e" d="M212.8,220.1L212.8,218.4L213.8,216.3L216.4,216.3L215.2,213.6L215.2,212.3L218.9,212.3L218.9,216.8L220.7,217.2L218.9,220.3L217,221.7Z"/>
<path fill="#2ca02c" d="M218.9,212.3L220.7,210.6L221.1,213L220.1,216.5L218.9,216.8Z"/>
<path fill="#ff7f0e" d="M217,221.7L218.9,220.3L220.3,221.3L221.7,221.5L221.7,223.1L220.3,223.1Z"/>
<path fill="#2ca02c" d="M218.9,220.3L220.7,217.2L225.3,216.8L229.4,216.8L231,218.9L227.8,219.4L225.3,221.5L223.7,223.1L222.5,223.6L221.7,223.1L221.7,221.5L220.3,221.3Z"/>
<path fill="#ff7f0e" d="M222.5,223.6L223.7,223.1L225.3,221.5L227.8,219.4L231,218.9L230.4,223.6L230,228.6L228,228.3L226,228.1L224.3,226Z"/>
<path fill="#2ca02c" d="M226,228.1L228,228.3L230,228.6L232.2,231.6L231.6,235.2L230,234L228,231.6L225.8,230.7Z"/>
<path fill="#ff7f0e" d="M232.2,231.6L235.5,233.5L237.7,232.1L239.7,231.9L242.8,233.8L241.8,237.3L240.5,234.9L238.1,233.3L236.7,234.9L237.1,236.8L235.5,237.1L233.5,234.9L231.6,235.2Z"/>
<path fill="#2ca02c" d="M227.6,202.6L231,200.3L234.5,199.8L238.5,201.2L243,203.1L246.2,204.7L249.2,206.6L246.6,207.3L242.2,207.5L243.2,205.7L240.5,204.3L236.5,202.9L233.5,201.4L230.4,202.4Z"/>
<path fill="#d62728" d="M248.6,210.9L252.7,211.3L254.3,211.8L254.1,207.8L250.9,207.3L252.3,209L252.9,210.4Z"/>
<path fill="#2ca02c" d="M254.3,211.8L254.1,207.8L257.8,207.6L259.4,208.8L261,210.4L258.8,210.9L256.7,211.3L254.9,212.8Z"/>
<path fill="#2ca02c" d="M240.7,211.1L243.6,210.6L245.2,211.8L243.2,212.3Z"/>
<path fill="#2ca02c" d="M263.4,210.9L266.7,210.9L266.3,211.8L263.4,211.8Z"/>
<path fill="#d62728" d="M242.8,233.8L244,235.4L246.4,231.9L246.6,229.3L249.2,228.1L252.7,226.5L255.1,225L253.7,226.9L252.7,228.1L251.7,231.9L252.9,234.7L253.3,237.1L257.3,237.8L259,239.9L262.8,239.7L262.2,243.7L263.2,246.5L264,251.5L263.6,250.3L258.2,250.3L259.4,251.9L257.8,252.9L257.8,254.8L259,256.9L258,264.2L256.3,263.3L251.9,260L250.7,258.3L247,254.5L243.6,253.4L239.9,251L240.5,248.4L242.6,245.3L242.6,241.3L242.8,238.3L241.8,237.3Z"/>
<path fill="#2ca02c" d="M264,251.5L263.2,246.5L262.2,243.7L262.8,239.7L259,239.9L257.3,237.8L253.3,237.1L252.9,234.7L251.7,231.9L252.7,228.1L253.7,226.9L255.1,225L255.3,226.5L254.5,228.6L255.7,231.9L254.5,228.6L257.3,227.2L257.8,225.5L258.4,227.2L261.2,228.8L265.9,229.3L268.9,230.2L272.9,229L274.2,229L273.3,230.9L276,234L278.4,234.7L276.6,236.6L275.8,238.5L275.2,240.4L276.6,242L272.3,244.9L269.3,244.6L269.9,248.4L271.1,249.1L266.9,252.4L264,251.5Z"/>
<path fill="#2ca02c" d="M276.6,242L275.2,240.4L275.8,238.5L276.6,236.6L278.4,234.7L281,237.1L283.7,240.1L283.5,242.5L282.1,244.9L284.1,249.6L285.1,249.8L280.4,251.5L278.6,250.1L278,247.9L279,244.9L277.8,242L276.6,242Z"/>
<path fill="#2ca02c" d="M285.1,249.8L284.1,249.6L282.1,244.9L283.5,242.5L283.7,240.1L290.1,240.6L289.3,243.7L288.9,248.9L286.1,249.8Z"/>
<path fill="#ffffff" d="M290.1,240.6L294.8,244.4L292.4,249.1L288.9,248.9L289.3,243.7Z"/>
<path fill="#2ca02c" d="M239.9,251L243.6,253.4L247,254.5L246.4,257.8L242,261.4L240.7,262.3L239.5,266.1L236.7,264.7L236.9,262.3L235.7,259.5L235.9,256.7L237.5,252.4Z"/>
<path fill="#ff7f0e" d="M236.9,262.3L234.9,265.4L235.1,268.5L238.1,271.3L241.1,277.9L243.4,282.9L245.2,287.1L247.6,290.9L253.7,294.4L256.9,297.6L258.8,295.6L259.8,293.2L259.2,291.4L260.4,283.8L258.6,280.1L256.5,280.3L256.7,276.5L253.3,277.9L251.3,276.5L250.1,271.5L251.7,268.5L251.9,266.6L256.3,264.2L258,264.2L256.3,263.3L251.9,260L250.7,258.3L247,254.5L246.4,257.8L242,261.4L240.7,262.3L239.5,266.1L236.7,264.7L236.9,262.3Z"/>
<path fill="#2ca02c" d="M294.8,244.4L298.2,250.1L298.2,254.3L301.3,256.7L304.3,256L309.4,260.2L315.5,261.1L321.5,263L324.6,265.6L328.2,267.3L329,271.3L328,276.2L324.6,280.3L321.5,285L320.5,290.9L320.1,296.3L318.1,301.5L316.5,306.2L314.4,308.3L312,308.6L308.4,310.5L305.5,310.9L301.7,315L301.1,319.2L298.7,323.4L296.2,327.5L293.8,330.3L291.4,333.9L291.8,331.5L286.9,327L282.9,325.6L286.5,321.1L290.6,318.5L288.9,314.7L289.5,310.9L286.7,307.2L282.3,306.5L281.6,302L282.5,299.1L283.1,296.8L281.2,295.1L281.4,292.8L277.6,292.8L277,286.9L273.9,285.5L269.9,283.8L267.3,281.9L267.1,277.2L264.6,277.7L261.8,279.6L258.6,280.1L256.5,280.3L256.7,276.5L253.3,277.9L251.3,276.5L250.1,271.5L251.7,268.5L251.9,266.6L256.3,264.2L258,264.2L259,256.9L257.8,254.8L257.8,252.9L259.4,251.9L258.2,250.3L263.6,250.3L264,251.5L266.9,252.4L271.1,249.1L269.9,248.4L269.3,244.6L272.3,244.9L276.6,242L277.8,242L279,244.9L278,247.9L278.6,250.1L280.4,251.5L285.1,249.8L286.1,249.8L288.9,248.9L292.4,249.1Z"/>
<path fill="#2ca02c" d="M258.8,295.6L259.8,293.2L259.2,291.4L260.4,283.8L258.6,280.1L261.8,279.6L264.6,277.7L267.1,277.2L267.3,281.9L269.9,283.8L273.9,285.5L277,286.9L277.6,292.8L281.4,292.8L281.2,295.1L283.1,296.8L282.5,299.1L281.6,302L279.8,299.8L274.6,300.6L273.3,302.7L272.7,306.7L269.3,308.1L267.5,306.5L265.2,305.7L263.4,308.1L261.4,304.6L260.8,300.3L259.8,299.1L258.8,295.6Z"/>
<path fill="#2ca02c" d="M272.7,306.7L273.3,302.7L274.6,300.6L279.8,299.8L281.6,302L282.3,306.5L286.7,307.2L289.5,310.9L288.9,314.7L288.5,317.3L286.3,319L280.8,318.7L282.9,314.2L280.4,312.8L276,310.5L272.7,306.7Z"/>
<path fill="#2ca02c" d="M282.9,325.6L286.9,327L291.8,331.5L291.4,333.9L288.3,336.8L285.7,336.7L281.2,334.5L281.6,331Z"/>
<path fill="#2ca02c" d="M261,378L257.8,377L253.9,377L253.1,374L250.7,370.6L253.1,366.4L254.3,360.5L254.3,353.4L253.9,348.7L255.7,344L256.9,339.3L257.8,333.4L258.2,326.3L259.4,321.6L261.2,316.8L261,312.1L263.4,308.1L265.2,305.7L267.5,306.5L269.3,308.1L272.7,306.7L276,310.5L280.4,312.8L282.9,314.2L280.8,318.7L286.3,319L288.5,317.3L288.9,314.7L290.6,318.5L286.5,321.1L282.9,325.6L281.6,331L281.2,334.5L281.2,336L283.7,338.1L284.7,340.2L283.1,344L280,345.6L273.9,346.1L273.3,350.1L267.9,350.6L267.9,353.4L270.7,354.6L267.3,357L266.9,360.5L262.8,362.9L266.3,365.7L262.8,369.9L259.8,373.5ZM260.6,378.4L260.6,383.9L264.8,384.1L267.5,383.2L263.8,381.7L261.4,379.4Z"/>
<path fill="#2ca02c" d="M256.9,297.6L257.5,301.5L256.7,309.8L256.5,315.7L254.7,322.7L254.5,329.8L254.1,334.5L251.7,341.1L250.3,345.2L250.9,348.7L250.1,352.9L248.6,357L246.6,364L248.6,367.6L246.6,372.3L248.6,377L251.7,380.6L255.7,381.7L255.9,379.1L258.8,378.2L261,378L257.8,377L253.9,377L253.1,374L250.7,370.6L253.1,366.4L254.3,360.5L254.3,353.4L253.9,348.7L255.7,344L256.9,339.3L257.8,333.4L258.2,326.3L259.4,321.6L261.2,316.8L261,312.1L263.4,308.1L261.4,304.6L260.8,300.3L259.8,299.1L258.8,295.6ZM256.7,378.7L260.6,378.4L260.6,383.9L263.8,384.8L259.8,385.3L254.7,382.9L256.7,381Z"/>
<path fill="#ffffff" d="M276,375.8L282.5,375.8L281,377.5L276,377Z"/>
<path fill="#ff7f0e" d="M413.7,117.4L410.6,115.1L409.6,110.3L410,107.5L415.7,104.4L420.8,102.1L423.8,99.7L425.8,96.2L429.9,92.6L434.9,90.3L440,89.1L446.1,87.2L451.5,86.5L456.2,86.7L462.3,88.4L460.2,89.8L458,91.3L458.8,90.3L456,88.9L451.7,90L442,90.8L441.2,91.3L435.9,92.6L432.9,95L429.9,98.1L428.9,100.2L426.8,102.1L424.2,104.4L423.8,109.2L424.8,110.3L424.2,112.7L422.8,115.1L421.8,115.1L420.8,113.9L418.7,115.8L415.7,117.2ZM421.8,66.4L427.9,65.5L435.9,65L440,66.4L443,69L438,71.4L433.9,73.5L427.9,71.4L422.8,69ZM437,64.8L446.1,64.3L454.2,65.5L448.1,67.2L440,66.2ZM442,69.7L448.1,70.7L445.1,71.9L442,71.2Z"/>
<path fill="#2ca02c" d="M422.8,115.1L424.2,112.7L424.8,110.3L423.8,109.2L424.2,104.4L426.8,102.1L428.9,100.2L429.9,98.1L432.9,95L435.9,92.6L441.2,91.3L447.1,94.1L448.1,98.5L448.3,99L444.1,99.7L442,102.1L437,105.6L434.5,108L434.3,111L438,113.2L435.9,114.4L432.9,116.2L432.9,119.8L431.9,121.7L428.9,122.1L428.3,123.6L425.8,123.6L425.2,121.7L423.8,118.6L422.2,116.2ZM436.4,119.8L438,117.7L437.6,119.1L436.6,120Z"/>
<path fill="#ff7f0e" d="M455.8,111.5L460.2,108.5L463.5,105.9L461.3,103.3L459.6,101.4L460.2,99.2L458.2,96.4L460.2,94.5L457.2,92.6L458,91.3L458.8,90.3L456,88.9L451.7,90L442,90.8L441.2,91.3L447.1,94.1L448.1,98.5L448.3,99L450.9,100.7L449.1,101.4L445.1,104.4L442.8,106.8L442.6,109.2L443,111.5L446.1,113.2L450.1,112.2Z"/>
<path fill="#ff7f0e" d="M415.9,123.3L416.1,119.8L421,118.1L420.4,121L421.6,121.4L419.3,123.8L418.7,124.9L416.9,124.7ZM421.8,123.8L424,121.9L425,122.8L424.2,124.7L422.2,124.5ZM419.3,123.3L421.4,123.3L421.2,124.4L419.8,124.3Z"/>
<path fill="#2ca02c" d="M388,136.2L393.4,134.9L397.5,134.6L402.3,133.5L401.5,132.5L402.9,130.2L399.9,129.2L399.5,127.8L396.9,125.2L396.1,123.1L395,122.1L393.4,122.1L394.4,121L395.9,118.6L392.4,118.1L391.4,118.4L393.4,116L389.4,116L387.8,118.6L387.4,121L388.4,123.3L389.8,123.3L389.6,125L392.6,125L393.4,127.3L393.2,128.5L390.2,128.5L391,130.4L388.8,132.1L392.8,133L393.8,132.8L391,133.7ZM382.9,125.7L384.7,124.3L387.4,124L388.4,125.7L386.7,126.6L384.3,126.6Z"/>
<path fill="#2ca02c" d="M379.2,132.5L382.3,132.5L386.7,131.1L387.4,128.5L386.7,126.6L384.3,126.6L382.9,125.7L384.7,124.3L382.7,124L382.1,125.7L379.2,126.4L379.5,128.3L380.7,129L380.3,130.2L378.4,131.3Z"/>
<path fill="#1f77b4" d="M395.9,151.9L397.1,149L397.1,145.7L395,142.9L390,141L390,139.8L393.4,139.1L396.3,139.4L395.9,137L397.1,137.7L399.9,137.5L402.7,135.6L402.7,134.2L404.7,133.7L406,134.6L408,136.3L409.2,136.1L411.2,137.5L412.5,137.5L416.1,138.7L414.9,142L413.5,142.7L411.9,145.3L413.3,145.7L413.7,146L412.9,147.9L413.7,150L414.7,150.9L412.1,152.6L409.2,151.9L406.6,152.1L405.8,154L402.9,154L400.9,153.3L398.5,153.3ZM416.9,154.2L418.5,152.8L418.7,155.2L418.1,156.6L416.9,155.4Z"/>
<path fill="#d62728" d="M395.9,151.9L391.8,151.6L387.8,151.4L383.3,151.2L380.7,152.8L381.7,155.4L382.9,154.9L386.1,155.4L386.9,156.1L385.5,157.5L385.3,160.6L384.3,160.8L385.3,164.1L384.5,166.5L386.7,167.9L388.2,169.3L390.6,167.7L395,167.7L398.1,165.6L399.9,163L398.9,161.1L401.3,158L404,156.6L406,155.2L405.8,154L402.9,154L400.9,153.3L398.5,153.3ZM404.4,160.8L405.8,160L406.4,160.8L405.6,161.6Z"/>
<path fill="#d62728" d="M381.7,155.4L382.9,154.9L386.1,155.4L386.9,156.1L385.5,157.5L385.3,160.6L384.3,160.8L385.3,164.1L384.5,166.5L381.5,167L381.7,163.7L380.3,162.7L381.5,159.4Z"/>
<path fill="#2ca02c" d="M414.7,150.9L413.7,150L412.9,147.9L413.7,146L415.5,145.7L416.5,144.8L417.7,146.2L418.3,144.8L420.6,144.3L420.8,143.6L424.2,143.4L424.6,144.1L427.2,144.6L427,146.2L427.4,146.7L424.4,147.4L424.6,150L427,151.4L428.3,154.2L430.3,155.4L432.3,155.4L431.9,156.6L435.9,158.5L437,159.7L436.6,160.4L433.9,158.7L432.9,160.6L434.1,162.3L432.9,163.7L431.9,164.9L431.3,164.6L431.7,163L432.3,161.8L431.3,159.9L429.5,158.5L428.3,158L425.8,157.1L424.2,155.7L422.2,154.2L420.8,152.8L420.2,150.7L417.3,149.5L416.1,150.5ZM424.6,164.6L426.4,164.1L431.1,163.9L430.1,167.7L427.9,166.7L424.8,165.6ZM416.1,157.8L418.1,157.1L419.3,158.7L418.9,161.8L417.7,162L416.5,162.3L416.5,159.2Z"/>
<path fill="#d62728" d="M413.7,128.5L416.7,127.8L416.9,124.7L418.7,124.9L419.8,125.9L421.8,126.9L424.8,125.9L426.8,125.7L428.3,127.1L428.7,128.7L428.1,129.5L429.3,130.9L429.3,132.3L429.9,133.9L428.5,133.9L424,135.6L424.8,137L427.4,139.1L425.4,140.8L425.8,142.2L424.2,142L420.8,142.4L418.9,142.2L416.7,141.7L414.9,142L416.1,138.7L412.5,137.5L411.9,136.1L412.3,135.6L411.9,134.4L411.6,132.1L413.3,131.1L413.7,130.2L414.1,128.7Z"/>
<path fill="#2ca02c" d="M406.4,133L407.8,131.6L409,129.2L410.6,128.3L413.7,128.5L414.1,128.7L413.7,130.2L413.3,131.1L411.6,132.1L411.9,134.4L411,134.4L409.6,133L408.2,133Z"/>
<path fill="#ff7f0e" d="M404.7,133.7L406.4,133L408.2,133L409.6,133L411,134.4L411.9,134.4L412.3,135.6L411.9,136.1L411.2,137.5L409.2,136.1L408,136.3L406,134.6Z"/>
<path fill="#ff7f0e" d="M411.9,145.3L413.3,145.7L413.7,146L415.5,145.7L416.5,144.8L417.7,146.2L418.3,144.8L420.6,144.3L420.8,143.6L418.9,142.2L416.7,141.7L414.9,142L413.5,142.7Z"/>
<path fill="#ff7f0e" d="M418.9,142.2L420.8,143.6L424.2,143.4L424.6,144.1L427.2,144.6L428.9,144.8L431.9,143.9L432.1,143.6L432.9,142.2L434.1,141L433.7,139.6L429.9,138.7L427.4,139.1L425.4,140.8L425.8,142.2L424.2,142L420.8,142.4Z"/>
<path fill="#d62728" d="M424,135.6L428.5,133.9L429.9,133.9L432.5,135.1L433.7,135.4L437.6,137.5L434.3,138.9L433.7,139.6L429.9,138.7L427.4,139.1L424.8,137Z"/>
<path fill="#d62728" d="M433.7,139.6L434.3,138.9L437.6,137.5L440,138.2L445.1,138.4L444.3,140.1L441,139.8L437.6,141.5L434.1,141Z"/>
<path fill="#2ca02c" d="M428.3,127.1L431.9,126.2L435.9,125L437.2,125.9L439.2,125.9L445.7,125.9L447.1,126.9L447.9,129.9L447.3,131.3L447.3,132.8L448.3,134.4L445.1,138.4L440,138.2L437.6,137.5L433.7,135.4L432.5,135.1L429.9,133.9L429.3,132.3L429.3,130.9L428.1,129.5L428.7,128.7Z"/>
<path fill="#2ca02c" d="M432.1,143.6L432.9,142.2L434.1,141L437.6,141.5L441,139.8L444.3,140.1L445.9,141L440.6,145.5L437.6,146L434.9,146L432.9,144.6Z"/>
<path fill="#2ca02c" d="M427.2,144.6L428.9,144.8L431.9,143.9L432.1,143.6L432.9,144.6L431.1,146.2L427,146.9L427.4,146.7L427,146.2Z"/>
<path fill="#d62728" d="M427,146.9L427.6,148.6L428.5,147.4L429.9,149.3L430.5,150L432.7,151.6L434.9,152.8L437,154.2L436.8,153.8L435.1,152.6L434.5,151.9L432.5,150.2L431.5,148.6L431.5,147.6L433.7,147.6L438,148.3L438,147.6L437.6,146L434.9,146L432.9,144.6L431.1,146.2Z"/>
<path fill="#d62728" d="M431.5,147.6L433.7,147.6L438,148.3L438.8,149.8L439,151.6L438.4,151.6L437,153.8L435.1,152.6L434.5,151.9L432.5,150.2L431.5,148.6Z"/>
<path fill="#2ca02c" d="M438,147.6L437.6,146L440.6,145.5L443,147.6L445.1,149L445.5,150L444.9,152.8L444.9,154.5L443,154.7L441.2,155.4L440,153.5L438.4,151.6L439,151.6L438.8,149.8L438,148.3Z"/>
<path fill="#2ca02c" d="M437,154.2L437,153.8L438.4,151.6L440,153.5L438.8,155.4Z"/>
<path fill="#ff7f0e" d="M438.8,155.4L440,153.5L441.2,155.4L441,156.8L442,158L441.4,159.7L440,160.6L438.6,159L439,156.8Z"/>
<path fill="#2ca02c" d="M441.2,155.4L443,154.7L444.9,154.5L446.1,156.8L445.5,157.3L442,158L441,156.8Z"/>
<path fill="#9467bd" d="M440,160.6L441.4,159.7L442,158L445.5,157.3L446.1,156.8L449.1,156.4L452.8,155.9L453.4,156.8L452.1,158.2L448.9,157.8L448.1,159.2L445.9,158.7L445.3,160.4L446.5,162L448.1,164.1L448.1,165.3L446.3,164.9L446.5,166.3L445.9,168.2L444.9,168.2L443.4,167.5L442.2,165.1L443.4,163.9L442,163.7L441.4,162.5ZM447.1,170.5L450.1,170.8L452.8,171.2L450.1,171.9L447.1,171.2Z"/>
<path fill="#ff7f0e" d="M445.5,150L448.1,151.2L454.2,150.2L457.4,151.2L456.2,155.2L452.8,155.9L449.1,156.4L446.1,156.8L444.9,154.5L444.9,152.8Z"/>
<path fill="#2ca02c" d="M440.6,145.5L445.9,141L449.9,141.7L453.4,140.3L456.4,144.3L456.6,146.9L459.6,147.4L457.4,151.2L454.2,150.2L448.1,151.2L445.5,150L445.1,149L443,147.6Z"/>
<path fill="#ff7f0e" d="M453.4,140.3L456.2,140.3L458.6,141.3L460.5,144.8L456.6,146.9L456.4,144.3Z"/>
<path fill="#2ca02c" d="M444.3,140.1L445.1,138.4L448.3,134.4L447.3,132.8L451.1,131.8L461.3,133.2L463.9,131.3L467.9,130.6L471.4,135.4L476.4,136.5L480.7,137.2L480.1,141.3L476.9,143.1L470.4,145L467.3,145.5L470.4,146.4L473.6,147.2L471.2,148.1L467.5,149.5L465.3,147.2L466.7,145.5L463.3,144.3L461.7,144.6L459.6,147.4L456.6,146.9L460.5,144.8L458.6,141.3L456.2,140.3L453.4,140.3L449.9,141.7L445.9,141Z"/>
<path fill="#2ca02c" d="M447.3,132.8L447.3,131.3L447.9,129.9L447.1,126.9L451.7,124.7L453.4,122.8L456.6,121.9L462.1,123.1L462.3,125.2L465.7,128L463.9,131.3L461.3,133.2L451.1,131.8Z"/>
<path fill="#2ca02c" d="M442.2,123.8L442,121.9L449.9,121.2L453.4,122.8L451.7,124.7L447.1,126.9L445.7,125.9L445.5,124.5Z"/>
<path fill="#2ca02c" d="M442,121.9L442,119.8L443.4,118.4L446.1,119.8L448.7,119.3L448.9,117.7L455,118.6L456.6,121.9L453.4,122.8L449.9,121.2Z"/>
<path fill="#d62728" d="M448.9,117.7L447.1,115.8L446.9,114.6L451.7,113.6L456.6,114.1L455,115.8L455,118.6ZM444.1,116.2L446.1,116L445.7,117.2L444.1,117.4Z"/>
<path fill="#2ca02c" d="M460.2,89.8L466.3,90.5L472.4,91L482.5,95L482.5,97.4L476.4,98.5L466.3,96.9L470,102.1L474.4,103.3L480.5,101.6L480.5,98.5L488.6,98.1L488.6,92.6L492.6,93.8L494.7,96.4L506.8,92.6L517,91.9L522,89.6L529.1,90.8L535.2,92.4L538.2,87L535.2,83.2L546.3,82.5L546.3,86.7L549.4,92.6L545.3,97.8L549.4,95L551.4,83.2L561.5,83.2L565.5,87.9L569.6,80.8L575.7,77.3L591.9,74.9L610.1,70.9L616.2,73.8L628.3,76.1L629.3,80.8L614.1,81.5L628.3,80.8L642.5,82L656.7,83.2L658.7,80.8L662.8,86.7L668.8,85.6L683,83.2L703.2,85.6L723.5,89.8L743.8,89.6L744.8,91.9L760,90.3L764,91.5L774.1,95L784.9,98.5L778.2,102.1L768,99.7L762,102.1L757.9,106.8L747.8,110.3L743.8,112.7L735.6,112.7L730.6,117.4L729.6,122.1L727.5,125.2L723.5,129.2L716.8,133.9L715.4,129.2L714.4,123.3L716.4,118.6L723.5,113.9L729.6,109.2L731.6,106.8L723.5,110.3L715.4,112.7L713.4,114.4L705.3,114.4L697.2,114.4L689.1,114.4L679,122.1L674.9,125.7L681,126.9L685.6,130.4L684,136.3L683,139.8L679,146.9L673.9,151.6L668.8,153.5L664.8,153.8L664.2,154.5L664.8,152.8L665.2,148.6L668.8,148.1L672.5,140.3L664.8,141.7L663.8,139.1L657.7,136.8L654.6,130.4L649.6,128L644.5,128.5L644.1,129.7L640.9,135.6L638,137.5L635.8,136.8L630.4,135.8L622.2,138.2L614.1,135.6L606.5,133.2L599,131.6L598,136.3L591.9,136.3L585.8,134.4L577.3,138.2L576.3,138.4L572.6,136.3L569.6,134.4L561.5,133.9L555.4,128L548.3,126.9L543.3,126.4L543.3,124L539.2,123.8L531.1,125.7L523,126.9L524,133.9L520,134.9L510.9,133.9L503.8,132.8L497.7,136.3L494.3,139.8L499.5,144.6L496.7,145.7L495.7,146.9L494.7,149.3L495.7,152.8L497.7,155.4L494.7,156.4L493.3,155.4L489.6,153.5L486.6,152.3L480.5,151.9L477.5,149.5L474.4,148.1L476.4,145.7L478.5,142.9L476.9,143.1L480.1,141.3L480.7,137.2L476.4,136.5L471.4,135.4L467.9,130.6L463.9,131.3L465.7,128L462.3,125.2L462.1,123.1L456.6,121.9L455,118.6L455,115.8L456.6,114.1L457.2,113.4L460.7,112.9L457.2,111.5L455.8,111.5L460.2,108.5L463.5,105.9L461.3,103.3L459.6,101.4L460.2,99.2L458.2,96.4L460.2,94.5L457.2,92.6L458,91.3ZM439.2,125.9L440,124.5L442.2,123.8L445.5,124.5L445.7,125.9ZM503.8,84.9L504.8,82.5L510.9,77.3L521,74.2L533.1,72.6L539.2,73.1L531.1,75.4L521,77.3L514.9,80.8L512.9,84.4L515.9,87.4L507.8,87.2ZM591.9,63.6L600,68.3L612.1,69.5L608.1,66.7L602,63.6ZM676.9,76.1L689.1,77.3L703.2,76.8L695.1,74.9L683,74.5ZM761,85.6L764,86.7L769.1,86.3L766,85.3ZM687,126.2L689.7,130.4L690.1,136.3L692.1,138.7L689.1,143.4L690.1,145.7L687,145.7L687,141L687,135.1L686.6,130.4ZM494.7,63.6L510.9,63.1L525,63.1L517,65L500.8,65Z"/>
<path fill="#8c564b" d="M480.5,151.9L486.6,152.3L489.6,153.5L493.3,155.4L493.7,157.3L490.6,157.1L487.6,157.3L483.5,156.4Z"/>
<path fill="#d62728" d="M487.6,157.3L490.6,157.1L491.6,158.5L493.7,161.1L493.5,162.5L490.2,160.6L487.8,159.7Z"/>
<path fill="#2ca02c" d="M490.6,157.1L493.7,157.3L493.3,155.4L494.7,156.4L497.7,155.4L499.7,158.5L501.4,159L499.3,161.6L498.5,163.7L496.7,162.7L496.7,160.8L493.5,162.5L493.7,161.1L491.6,158.5Z"/>
<path fill="#2ca02c" d="M499.5,144.6L494.3,139.8L497.7,136.3L503.8,132.8L510.9,133.9L520,134.9L524,133.9L523,126.9L531.1,125.7L539.2,123.8L543.3,124L543.3,126.4L548.3,126.9L555.4,128L561.5,133.9L569.6,134.4L572.6,136.3L576.3,138.4L573,140.1L572.6,143.1L567.6,142.9L566.2,146.9L562.1,148.1L563.1,152.3L561.9,154.7L559.9,153.3L555.4,153.1L551.4,153.1L548.5,152.8L548.3,154L543.3,154L543.3,154.5L542.3,155.2L539.2,156.6L537.6,158L537.2,157.5L534.2,155.4L533.1,155.2L533.4,152.8L530.9,151.2L525,151.6L523,149.8L518.2,146.7L512.9,148.1L512.9,156.8L511.7,156.8L510.5,155.2L506.8,155.2L505.6,155.9L505.8,154L502.8,152.8L501.4,149.8L503.2,149.3L502.8,148.1L506.8,147.4L506.8,143.9L502.8,143.4Z"/>
<path fill="#d62728" d="M512.9,156.8L512.9,148.1L518.2,146.7L523,149.8L525,151.6L530.9,151.2L533.4,152.8L533.1,155.2L534.2,155.4L537.2,157.5L537.6,158L539.2,156.6L542.3,155.2L543.3,154.5L514.9,156.8L516.7,154.7L518,153.5L521.6,154.7L521.2,156.6L524.8,157.1L526.1,159.9L530.1,162.5L534.2,166.3L536.8,166.5L537.6,163.9L536,161.6L538.2,161.1L539.2,159.4L539.8,158L542.1,157.5L542.5,159.4L544.7,159.4L547.3,158L543.3,154.5Z"/>
<path fill="#2ca02c" d="M505.6,155.9L506.8,155.2L510.5,155.2L511.7,156.8L512.9,156.8L514.9,156.8L516.7,154.7L518,153.5L521.6,154.7L521.2,156.6L524.8,157.1L526.1,159.9L530.1,162.5L534.2,166.3L530.1,168.6L527.1,169.8L525.7,171L523.4,170.3L523.4,167.9L519.6,165.8L517,165.3L512.9,164.4L508.6,166.3L508.6,162.5L506.8,161.1L507.4,158.2L506.4,157.1Z"/>
<path fill="#2ca02c" d="M543.3,154L548.3,154L548.5,152.8L551.4,153.1L555.4,153.1L559.9,153.3L561.9,154.7L557.5,157.5L555,157.5L553.2,159.2L549.4,159.7L548.9,161.1L544.9,161.3L540,160.8L542.5,159.4L544.7,159.4L547.3,158L543.3,154.5Z"/>
<path fill="#2ca02c" d="M536.8,166.5L537.6,163.9L536,161.6L538.2,161.1L539.2,159.4L539.8,158L542.1,157.5L542.5,159.4L540,160.8L544.9,161.3L548.9,161.1L551.2,163.4L551.2,166.5L548.3,166L544.5,167.7L543.9,164.6L541.9,163.7L541.7,165.6L539.8,166.7L537.2,167Z"/>
<path fill="#2ca02c" d="M577.3,138.2L577.7,139.6L583.2,143.4L583.8,147.6L592.9,150L594.7,153.5L603,153.5L612.1,156.1L622.2,153.5L625.3,151.4L626.1,148.1L630.4,148.1L637.2,144.8L642.1,144.1L639.5,141.3L634.4,141.5L633.4,140.5L635.8,136.8L630.4,135.8L622.2,138.2L614.1,135.6L606.5,133.2L599,131.6L598,136.3L591.9,136.3L585.8,134.4L577.3,138.2Z"/>
<path fill="#ffffff" d="M452.3,158.2L452.8,155.9L456.2,155.2L458.4,157.1L463.3,156.8L467.3,155.2L470.4,154.9L473.4,156.8L477.5,157.5L483.5,156.4L487.6,157.3L487.8,159.7L490.2,160.6L488.8,161.3L489.6,163.9L489.2,164.9L490.2,166.5L485.4,166.7L480.5,167.5L476.4,167.5L473.8,167.5L473.6,168.9L472.2,169.6L472.8,167.9L469.6,167.5L465.9,169.3L464.3,168.2L461.5,167.5L460.9,168.6L458.2,167.7L456.2,167.7L454.8,167L454.6,164.9L452.8,163.9L454,163.4L453.6,161.6L452.4,161.1L452.6,159.9L454.8,159L458.2,159L460,158.2L458.4,157.5L455.2,157.7L453.6,159Z"/>
<path fill="#2ca02c" d="M464.9,171.7L466.3,170.9L469.6,170L468.4,171.7L466.3,172.6Z"/>
<path fill="#ff7f0e" d="M472.2,169.6L473.6,168.9L473.8,167.5L476.4,167.5L480.5,167.5L485.4,166.7L483.1,168.4L482.9,172.2L478.1,175.5L474,178.1L472.2,177.1L472,175.7L473.6,173.6L472.4,172.6Z"/>
<path fill="#ff7f0e" d="M470.6,176.2L472,175.7L473.6,173.6L472.4,172.6Z"/>
<path fill="#ff7f0e" d="M469,180.4L470.2,184.7L471.2,181.1L471.4,177.8L472.2,177.1L472,175.7L470.6,176.2L469.8,178.8Z"/>
<path fill="#2ca02c" d="M470.3,184.9L472.4,185.4L475.4,183.5L474.4,180L478.5,178.8L478.1,175.5L474,178.1L472.2,177.1L471.4,177.8L471.2,181.1Z"/>
<path fill="#2ca02c" d="M485.4,166.7L490.2,166.5L491.4,169.6L492.6,171.5L491.6,174.1L493.3,176.4L496.3,179.3L496.1,181.1L497.7,183.7L496.5,183.5L494.7,183.7L493.7,185.6L490,185.4L484.6,180.9L481.3,179L478.5,178.8L478.1,175.5L482.9,172.2L483.1,168.4Z"/>
<path fill="#2ca02c" d="M493.7,185.6L494.7,183.7L496.5,183.5L497.5,187L495.9,187Z"/>
<path fill="#2ca02c" d="M470.2,184.9L472.4,185.4L475.4,183.5L474.4,180L478.5,178.8L481.3,179L484.6,180.9L490,185.4L493.7,185.6L495.9,187L497.5,187L498.7,189.4L501.2,192L502.4,195.8L503.4,196.2L504,197.2L506,200.3L511.3,200.7L512.1,202.4L510.9,207.1L504.8,209.5L498.7,210.4L497.1,211.3L494.7,214.4L488.6,213.2L487,213.2L486.2,215.6L484.6,211.8L482.1,207.6L478.9,203.6L477.5,198.1L474.8,194.8L471.4,189.4L469.6,188Z"/>
<path fill="#ff7f0e" d="M486.2,215.6L487,213.2L488.6,213.2L494.7,214.4L497.1,211.3L498.7,210.4L504.8,209.5L507,215L505.2,217.5L498.7,221.3L490.6,224.1L487.6,224.3L487,222.9L486.2,218.9Z"/>
<path fill="#2ca02c" d="M507,215L504.8,209.5L510.9,207.1L512.1,202.4L511.3,200.7L512.9,197.4L513.7,195.5L518.2,198.6L520.6,201.2L518,206.2L516.5,209.5L513.5,212.1L510.9,214.2Z"/>
<path fill="#ff7f0e" d="M504,197.2L506,200.3L511.3,200.7L512.9,197.4L513.7,195.5L513.3,192.9L510.9,194.8L509.9,196.7L505.8,197.2Z"/>
<path fill="#2ca02c" d="M502.4,195.8L502.4,193.9L503.4,192.7L504,194.6L503.4,196.2Z"/>
<path fill="#2ca02c" d="M488.8,161.3L490.2,160.6L493.5,162.5L496.7,160.8L496.7,162.7L498.5,163.7L500.8,166L503.8,167.7L508.9,167.2L508.6,166.3L512.9,164.4L517,165.3L519.6,165.8L523.4,167.9L523.4,170.3L523,174.1L522.2,176.4L522.8,180L524.6,180.2L522.8,184L526.7,187.7L527.7,190.1L527.5,191.5L524.2,194.8L519,194.4L515.5,193.9L514.7,190.3L513.5,190.1L510.3,191.8L506.8,191.3L503.8,188.7L502.4,186.1L501,183L498.5,182.6L497.7,183.7L496.1,181.1L496.3,179.3L493.3,176.4L491.6,174.1L492.6,171.5L491.4,169.6L490.2,166.5L489.2,164.9L489.6,163.9Z"/>
<path fill="#ff7f0e" d="M523.4,170.3L525.7,171L527.1,169.8L530.1,168.6L534.2,166.3L536.8,166.5L537.2,167L539.8,166.7L541.7,165.6L541.9,163.7L543.9,164.6L544.5,167.7L548.3,166L551.2,166.5L549.4,167.5L544.5,168.4L543.5,173.8L541,174.1L541.9,175.7L539.8,179L537.2,179.5L534,181.4L533.8,183.7L529.1,184.7L526.1,184.9L522.8,184L524.6,180.2L522.8,180L522.2,176.4L523,174.1L523.4,170.3Z"/>
<path fill="#2ca02c" d="M522.8,184L526.1,184.9L529.1,184.7L533.8,183.7L534,181.4L537.2,179.5L539.8,179L541.9,175.7L541,174.1L543.5,173.8L544.5,168.4L549.4,167.5L551.2,166.5L553.4,168.2L557,170.5L555.2,172.4L549.4,172.4L549.4,176.4L552.2,178.1L550.4,180.9L547.3,183.7L545.1,188.5L542.1,188.2L540.2,190.6L543.1,193.6L543.3,196.7L538.8,197L537.6,198.4L535.2,195.8L534.2,194.4L530.1,194.8L524.2,194.8L527.5,191.5L527.7,190.1L526.7,187.7L522.8,184Z"/>
<path fill="#2ca02c" d="M537.6,198.4L538.8,197L543.3,196.7L543.1,193.6L540.2,190.6L542.1,188.2L545.1,188.5L547.3,183.7L550.4,180.9L552.2,178.1L549.4,176.4L549.4,172.4L555.2,172.4L557,170.5L559.3,173.4L559.5,177.6L558.9,180.4L563.5,183L561.7,186.3L564.5,188.2L568.2,189.6L571.6,191.1L577.9,192L577.9,188.5L579.3,189.9L579.7,191.3L585.8,191.1L586,189.4L585.8,188.7L589.9,185.4L594.3,184.9L596.5,187.7L594.1,189.9L592.3,191.8L591.1,195.3L588.4,197.7L588.6,201.9L587,202.6L586.4,198.4L584.2,198.4L585,197.2L586.6,195.3L581.3,194.6L581.3,192.9L578.5,191.8L577.9,193.4L579.5,194.8L577.9,196.5L579.3,199.5L579.7,202.6L575.7,203.6L575.3,206.4L571.8,208.8L566.2,214.9L561.9,217.7L562.1,223.4L561.1,230L559.5,232.4L557.9,233.3L556.5,235.2L554,230.9L551,223.9L548.3,216.5L546.9,209.5L546.5,204.7L546.3,203.1L545.5,204.5L542.9,205.4L539,201.7L541.9,200L538.2,199.1Z"/>
<path fill="#2ca02c" d="M561.7,186.3L563.5,183L566,183.3L569.6,186.1L573.6,188.2L577.9,188.5L577.9,192L571.6,191.1L568.2,189.6L564.5,188.2Z"/>
<path fill="#2ca02c" d="M579.3,189.9L581.3,187.7L585,188.5L586,189.4L585.8,191.1L579.7,191.3Z"/>
<path fill="#2ca02c" d="M587,202.6L586.4,198.4L584.2,198.4L585,197.2L586.6,195.3L581.3,194.6L581.3,192.9L578.5,191.8L577.9,193.4L579.5,194.8L577.9,196.5L579.3,199.5L579.7,202.6L582.4,202.6L583,201.2L585.4,201.7L586.4,205.4Z"/>
<path fill="#2ca02c" d="M561.3,231.4L562.1,231.6L564.1,234.2L565.3,237.1L564.7,239.2L562.7,240.4L561.3,238.7L560.9,235.4Z"/>
<path fill="#2ca02c" d="M664.2,154.5L664.8,152.8L665.2,148.6L668.8,148.1L672.5,140.3L664.8,141.7L663.8,139.1L657.7,136.8L654.6,130.4L649.6,128L644.5,128.5L644.1,129.7L640.9,135.6L638,137.5L635.8,136.8L633.4,140.5L634.4,141.5L639.5,141.3L642.1,144.1L637.2,144.8L630.4,148.1L626.1,148.1L625.3,151.4L622.2,153.5L612.1,156.1L603,153.5L594.7,153.5L592.9,150L583.8,147.6L583.2,143.4L577.7,139.6L577.3,138.2L576.3,138.4L573,140.1L572.6,143.1L567.6,142.9L566.2,146.9L562.1,148.1L563.1,152.3L561.9,154.7L557.5,157.5L555,157.5L553.2,159.2L549.4,159.7L548.9,161.1L551.2,163.4L551.2,166.5L553.4,168.2L557,170.5L559.3,173.4L559.5,177.6L558.9,180.4L563.5,183L566,183.3L569.6,186.1L573.6,188.2L577.9,188.5L579.3,189.9L581.3,187.7L585,188.5L585.8,188.7L589.9,185.4L594.3,184.9L596.5,187.7L599.4,189.2L599.4,192.9L597.1,195.8L597.5,197.9L599.8,199.5L600.4,202.1L602.2,203.6L604.4,204.3L605.6,204.3L605.6,201.2L606.5,201.4L609.1,200.7L612.7,199.3L615.6,200.5L618.2,203.6L621.4,203.6L621.6,206.4L622.9,206.4L623.3,204.3L629.3,201.9L630.8,201.7L635.8,199.3L638.7,196.5L641.7,192.9L643.9,188.2L646.3,183.7L644.1,182.8L646.3,180.7L644.3,177.4L643.1,173.4L640.9,171.7L643.1,169.1L647.8,166L645.3,165.6L640.5,166.3L638.5,164.1L638,162L641.1,161.1L644.5,158L647,158.7L645.7,162.5L651.4,160.1L654.6,157.1L656.5,155.7L658.7,156.4L658.7,155.2L662.1,154L664.2,154.5ZM619.6,209L621.4,207.1L624.3,207.3L623.3,210.2L621.2,211.3L619.6,210.4Z"/>
<path fill="#ff7f0e" d="M645.5,194.8L646.5,195.8L644.3,202.4L642.7,200L643.9,196.5Z"/>
<path fill="#ff7f0e" d="M651.4,160.1L654.6,157.1L656.5,155.7L658.7,156.4L658.7,155.2L662.1,154L664.2,154.5L662.1,157.5L657.7,160.4L659.5,163.2L656.1,165.1L652.6,165.1L653.2,163L652.8,160.8Z"/>
<path fill="#2ca02c" d="M656.1,165.1L659.5,163.2L661.5,167L661.5,170.5L660.7,171.5L657.7,172.4L655.3,172.9L655.5,168.2L655.9,167Z"/>
<path fill="#2ca02c" d="M685.8,156.6L687,161.1L685,163.9L684.8,167.2L684.6,170L682.8,171.9L681.4,171.5L680.6,172.6L677.9,172.6L676.7,173.4L674.5,175.2L673.3,172.6L669.8,173.1L667.6,173.4L664.6,174.1L665.8,172.6L668.8,170.5L673.5,170.3L674.9,169.3L676.5,166.3L677.5,167.5L680,166L682,163.4L683,159.9L683,158.5L683.6,157.1ZM683.4,156.4L683,154L683.6,152.1L685.8,152.1L686.4,147.2L689.1,149.3L693.7,149.8L694.3,152.1L691.1,153.1L689.5,155.2L686.6,153.8L684.8,154.2L685,155.7ZM664.6,174.3L666.2,175L666.8,176.9L665.4,180.2L664,180.9L663.2,178.8L662.1,176.9L662.3,175.2ZM667.8,174.1L671.5,173.4L672.3,174.5L671.3,175.7L668.8,176.9L667.4,175.5Z"/>
<path fill="#2ca02c" d="M586.4,205.4L587,202.6L588.6,201.9L588.4,197.7L591.1,195.3L592.3,191.8L594.1,189.9L596.5,187.7L599.4,189.2L599.4,192.9L597.1,195.8L597.5,197.9L599.8,199.5L600.4,202.1L602.2,203.6L604.4,204.3L602.2,206.4L600,207.1L598,207.8L597.3,210.6L599.4,214.2L598.4,218.4L600.4,223.6L601.2,226.5L599.4,230.7L599,226L598.2,222L597.3,217L596.3,214.7L593.9,215.4L592.5,217L590.5,216.5L590.9,212.3L589.4,208.3L587.6,206.4Z"/>
<path fill="#2ca02c" d="M599.4,230.7L601.2,226.5L600.4,223.6L598.4,218.4L599.4,214.2L597.3,210.6L598,207.8L600,207.1L602.2,206.4L603.2,208.3L604.4,208.3L604,212.3L606.3,211.3L607.5,212.1L610.1,211.1L611.7,213.2L611.7,215.6L613.3,217.7L613.1,220.3L611.9,220.6L608.1,220.6L606.9,222.2L607.9,226.7L606,224.8L604,224.3L603.8,222.7L603,222.4L602,222.9L601.8,226L600.4,229.5L600.6,232.6L602,234.2L602.8,237.3L605.2,238L606.3,239.7L604.2,240.8L602.4,239L600.6,236.8L598.6,235.7L598.6,233.1Z"/>
<path fill="#2ca02c" d="M604.4,204.3L605.6,204.3L605.6,201.2L606.5,201.4L607.9,203.1L610.1,205L611.3,206.2L610.1,208L612.5,210.4L615.4,214.4L617.2,216.8L617.4,219.6L617.2,220.3L614.1,220.6L613.1,220.3L613.3,217.7L611.7,215.6L611.7,213.2L610.1,211.1L607.5,212.1L606.3,211.3L604,212.3L604.4,208.3L603.2,208.3L602.2,206.4L602.2,203.6Z"/>
<path fill="#2ca02c" d="M606.5,201.4L609.1,200.7L612.7,199.3L615.6,200.5L618.2,203.6L615.6,205.4L613.7,209.5L615.2,212.5L618.6,216.3L620.6,221.7L620.8,226L618.2,229L615.8,230L612.5,234L611.9,231.2L611.1,229.8L612.3,228.3L614.6,228.3L613.9,226.7L617.2,225.3L617.2,220.3L617.4,219.6L617.2,216.8L615.4,214.4L612.5,210.4L610.1,208L611.3,206.2L610.1,205L607.9,203.1L606.5,201.4Z"/>
<path fill="#2ca02c" d="M607.9,226.7L606.9,222.2L608.1,220.6L611.9,220.6L613.1,220.3L614.1,220.6L617.2,220.3L617.2,225.3L613.9,226.7L614.6,228.3L612.3,228.3L611.1,229.8L609.3,229.5L608.3,228.3Z"/>
<path fill="#2ca02c" d="M602.4,239L604.2,240.8L606.3,239.7L608.9,243.7L609.1,247.7L610.5,251L609.1,251.2L604.6,247.7L603.2,244.4L602.6,241.3ZM621.4,249.8L622.9,250.3L624.7,251L625.1,248.6L628.3,246.7L630.4,243.4L633.6,241.3L635.8,237.8L637.8,239.7L640.9,241.8L638.9,244.2L637.6,244.4L633.6,244.4L633.8,247.2L631.6,250.8L628.3,251L625.9,252.2L623.3,252.2L621.4,249.8Z"/>
<path fill="#2ca02c" d="M592.5,241.1L596.9,242L599.4,245.6L602.8,249.1L605,250.3L608.9,253.1L609.3,256.7L611.3,258.8L614.1,261.4L613.7,268L611.3,268L606.7,263.7L602.8,256.7L599.4,250.3L596.3,246.7L592.9,243ZM612.5,270.3L614.4,268.2L619,270.1L623.3,270.6L624.3,269.4L627.5,270.6L631.4,272.5L631.2,274.8L625.9,273.9L619.4,272.7L615,271.8ZM621.4,249.8L623.3,252.2L625.9,252.2L628.3,251L631.6,250.8L633.8,247.2L633.6,244.4L637.6,244.4L638.5,248.9L640.5,251.9L638,252.4L637.4,256.2L635.4,257.8L634.8,262.1L634.4,263.7L631.6,264L629.3,262.3L625.9,262.6L622.7,261.1L622.2,257.8L620.4,255.5L620,252.2ZM642.1,252.4L644.1,251.2L648.6,252.2L653,250.8L651.2,253.4L644.5,253.1L642.9,254.3L642.7,256.4L645.5,256.4L649.2,256.4L645.7,258.8L647.4,262.1L649,264.9L646.5,265.6L645.5,263.7L644.3,260.7L643.3,262.6L643.3,267.5L641.3,267.3L641.5,262.6L640.1,260.7L642.1,254.5ZM665.2,256.2L668.4,255.2L670.8,256.2L671.3,259.7L672.9,262.1L677.9,258.1L685,260.4L685,275.8L681,273.4L679.4,274.1L678.5,271.5L680.6,270.3L679,267.3L673.9,264.7L668.8,264L668.4,260.9L669.8,260.2L666.8,260.9L666.6,258.1L664.6,257.6ZM631.4,273.7L635.8,273.9L640.5,274.1L648.2,273.9L648.2,275.1L640.5,275.1L634.4,275.3L631.6,274.8ZM649.6,278.6L651.6,276L652.6,277.2ZM657.7,251.9L658.7,249.6L659.7,251.9L658.7,255.5ZM658.7,261.1L664.4,262.1L661.7,262.6L658.7,262.3ZM641.1,276.7L644.1,277.7L642.5,278.4Z"/>
<path fill="#2ca02c" d="M651.6,276L657.3,274.1L656.3,275.5L652.6,277.2Z"/>
<path fill="#ff7f0e" d="M685,260.4L692.1,263.3L694.7,266.8L698.8,268.5L699,270.1L697.2,270.6L699.2,273.9L704.9,278.6L701.2,278.4L697.6,276.7L695.1,273.4L692.1,272.2L690.1,273.9L688.7,276.2L685,275.8ZM699.8,267.5L703.2,267.3L707.7,264.2L707.9,266.1L704.3,268.9L701.2,268.9ZM704.9,260.4L708.3,263.3L709.3,265.4L708.1,263.7L705.1,261.1ZM712.8,267.3L715.2,270.3L713.8,269.6Z"/>
<path fill="#ff7f0e" d="M643.5,210.6L647,210.9L647.2,215.4L645.7,217.7L646.1,220.8L650.4,221.7L650.8,224.6L648.6,222.9L646.5,221.7L643.9,221.7L644.3,219.8L642.5,218.9L642.1,215.8L643.3,214.7L643.3,212.3ZM646.3,238L648.4,234.7L650.2,235.2L652,234L653.6,231.2L655.5,234.7L655.3,239.4L653.8,238.7L653.4,241.1L651,239.7L650.6,237.3L649.4,236.8ZM651.2,224.8L653.2,224.8L654,228.1L653,230.2L652.2,227.9ZM646.5,226.5L648.8,227.2L649.2,232.4L647.6,231.2L646.5,229.5ZM636.8,234.5L641.5,228.8L641.1,227.6L637.4,232.6ZM643.3,222.7L645.3,222.9L644.9,225.3L644.1,224.6Z"/>
<path fill="#2ca02c" d="M630.4,243.4L632.8,242.5L632.8,244.2L631.4,244.9Z"/>
<path fill="#2ca02c" d="M387.6,169.8L388.8,169.6L395,171.5L396.1,172.9L397.1,178.1L392,181.4L389.4,183.5L381.9,186.6L381.9,189L372.8,189L375.2,188L378.8,185.2L379.9,182.6L379.7,180.2L380.7,177.6L384.1,175L385.7,173.8L387.4,171.2Z"/>
<path fill="#2ca02c" d="M372.8,189L370.1,192.9L367.1,198.4L365,205.2L365.1,204L370.9,204L372.4,200.7L374.2,195.8L376.8,192.5L381.9,190.6L381.9,189Z"/>
<path fill="#ff7f0e" d="M381.9,190.6L376.8,192.5L375.2,194.4L375.2,192.9L381.9,192.9ZM375.2,194.4L374.2,195.8L372.4,200.7L370.9,204L373.2,204L373.2,200L375.2,198.8Z"/>
<path fill="#ff7f0e" d="M365,205.2L365.1,204L373.2,204L373.2,200L375.2,198.8L375.2,192.9L381.9,192.9L381.9,189.9L389.8,195.3L386.3,195.3L388.4,217.7L380.7,217.7L377.8,218L376.2,217.5L374.8,219.4L372.6,216.5L370.1,215.1L366.1,216.3L367.1,211.8L366.7,208.5L366.1,207.1Z"/>
<path fill="#2ca02c" d="M366.1,216.3L370.1,215.1L372.6,216.5L374.8,219.4L376.4,225L375.2,225L371.8,224.6L368.1,224.8L365.7,225L365.5,223.4L364.1,219.6L365.5,217.7Z"/>
<path fill="#2ca02c" d="M365.7,225L368.1,224.8L371.8,224.6L371.8,226.7L369.1,228.6Z"/>
<path fill="#2ca02c" d="M369.1,228.6L371.8,226.7L371.8,224.6L375.2,225L376.4,225L378.6,225.5L380.7,225L382.7,228.3L383.3,230.2L384.1,234.5L382.7,236.4L380.5,236.8L380.5,234.5L378.6,234.2L378,232.8L376.8,230.7L374.2,230.9L372.6,233.1Z"/>
<path fill="#2ca02c" d="M372.6,233.1L374.2,230.9L376.8,230.7L378,232.8L378.6,234.2L376.2,238L374.2,236.8L372.8,234.5Z"/>
<path fill="#ff7f0e" d="M376.2,238L378.6,234.2L380.5,234.5L380.5,236.8L382.7,236.4L382.3,239L384.3,240.6L384.3,243.9L381.3,242.5L377.6,239.4Z"/>
<path fill="#ffffff" d="M384.3,243.9L384.3,240.6L382.3,239L382.7,236.4L384.1,234.5L383.3,230.2L386.9,229.3L388.4,229.8L390,231.4L393.8,231.6L394,235.7L393,239L393.8,242.3L391.4,242L387.4,243Z"/>
<path fill="#2ca02c" d="M393.8,242.3L393,239L394,235.7L393.8,231.6L393.6,228.3L399.3,228.1L400.5,230.7L400.7,234.9L400.5,238L401.9,239.9L399.5,241.1L395.4,243Z"/>
<path fill="#ff7f0e" d="M401.9,239.9L400.5,238L400.7,234.9L400.5,230.7L399.3,228.1L401.3,228.3L401.1,230L402.3,232.4L402.7,238L402.7,239.7Z"/>
<path fill="#ff7f0e" d="M402.7,239.7L402.7,238L402.3,232.4L401.1,230L401.3,228.3L404.2,225.5L405.2,225L406.8,226.7L407.2,229.3L405.2,233.1L405,239.2Z"/>
<path fill="#2ca02c" d="M388.4,229.8L390,231.4L393.8,231.6L393.6,228.3L399.3,228.1L401.3,228.3L404.2,225.5L404,224.3L401.3,222.2L399.9,218.9L398.1,218.7L395.4,220.8L392.4,222.9L390.8,223.1L388.8,226.5L388.4,229.8Z"/>
<path fill="#2ca02c" d="M374.8,219.4L376.2,217.5L377.8,218L380.7,217.7L388.4,217.7L386.3,195.3L389.8,195.3L401.8,204.5L401.9,205.4L406,207.6L406.2,209.5L408.1,209.1L408,214.4L406.6,218L399.9,218.9L398.1,218.7L395.4,220.8L392.4,222.9L390.8,223.1L388.8,226.5L388.4,229.8L386.9,229.3L383.3,230.2L382.7,228.3L380.7,225L378.6,225.5L376.4,225Z"/>
<path fill="#ff7f0e" d="M408.1,209.1L408,214.4L406.6,218L399.9,218.9L401.3,222.2L404,224.3L404.2,225.5L405.2,225L406.8,226.7L407.6,222.4L410.6,221.5L415.7,222.9L419.8,222.9L424.8,223.6L427,222L426.8,220.3L430.9,214.4L431.9,206.2L429.9,200L423.8,198.8L414.7,205L411.2,208.5Z"/>
<path fill="#ff7f0e" d="M405,239.2L405.2,233.1L407.2,229.3L406.8,226.7L407.6,222.4L410.6,221.5L415.7,222.9L419.8,222.9L424.8,223.6L427,222L428.3,225L429.1,227.2L426.4,230.7L425.4,234L423.4,237.8L420.8,237.8L419.3,238.3L417.3,240.6L416.7,243.2L413.7,243.9L411.6,244.2L409.6,240.6L408.4,239.4L406.4,239.2Z"/>
<path fill="#ff7f0e" d="M416.7,243.2L417.3,240.6L419.3,238.3L420.8,237.8L423.4,237.8L425.4,234L426.4,230.7L429.1,227.2L428.3,225L428.3,225L428.3,223.6L429.9,225.7L430.1,228.8L430.9,230.7L427.9,231.4L430.9,236.6L428.9,240.1L429.3,243.4L432.1,249.1L432.3,250.3L426.4,249.1L422.4,249.1L419.3,248.9L419.1,245.8L419.1,244.9Z"/>
<path fill="#2ca02c" d="M419.3,248.9L422.4,249.1L422.4,251.9L418.9,251.9Z"/>
<path fill="#ff7f0e" d="M418.9,251.9L422.4,251.9L422.4,249.1L426.4,249.1L426.2,251.2L428.7,251L428.7,255.5L428.7,258.8L425.8,260L423,260L423.6,262.6L422,263.5L418.9,260L417.3,256L418.3,253.6Z"/>
<path fill="#ff7f0e" d="M422,263.5L423.6,262.6L423,260L425.8,260L428.7,258.8L428.7,255.5L428.7,251L426.2,251.2L426.4,249.1L432.3,250.3L432.1,249.1L432.9,246.7L437.2,246L435.9,249.6L435.5,254.3L432.3,259L431.9,262.6L430.3,264.4L428.7,265.9L425.8,265.2L424.2,268L423.8,266.1Z"/>
<path fill="#ff7f0e" d="M424.2,268L425.8,265.2L428.7,265.9L430.3,264.4L431.9,262.6L432.3,259L435.5,254.3L435.9,249.6L437.2,246L437.2,244.2L439,242.3L445.1,244.6L449.1,242.3L455,242.3L457,244.2L459.2,243.7L461.9,246L462.1,248.6L462.9,249.3L460,252.9L459.4,257.6L458.6,260.7L458.6,264.7L459.4,268.5L461.9,273.7L458,274.4L457.4,277L457,282.1L459.8,283.1L459.8,285.9L457,283.8L454.6,282.1L450.7,280.7L448.9,281L448.1,280L444.5,280.7L443.6,273.2L438.8,273.2L438,270.8L433.1,270.8L433.1,268.2L426.2,268.2L424.2,268Z"/>
<path fill="#2ca02c" d="M424.2,268L426.2,268.2L433.1,268.2L433.1,270.8L438,270.8L438.8,273.2L443.6,273.2L444.5,280.7L448.1,280L448.1,285L444.1,285L444.1,292.5L446.9,295.8L442.8,296.8L437,295.4L427.9,295.4L423.4,295L423.4,291.6L424.8,286.2L427.4,280.3L426.2,275.1L424.4,268.7ZM423.8,266.1L424.2,268L425.8,265.2L425,264.7Z"/>
<path fill="#ff7f0e" d="M423.4,295L427.9,295.4L437,295.4L442.8,296.8L446.9,295.8L450.5,296.3L446.7,296.8L442,297.5L442,306.2L440,306.2L440,312.8L440,321.3L434.7,322L432.9,321.8L430.3,318L428.9,308.1L426.2,302.7L423.4,296.8Z"/>
<path fill="#2ca02c" d="M450.5,296.3L446.7,296.8L442,297.5L442,306.2L440,306.2L440,312.8L441.4,317.8L446.1,314L451.1,314.7L454.2,310.2L458.8,306.7L455.6,302.7L452.6,300.8L450.5,296.3Z"/>
<path fill="#ff7f0e" d="M432.9,321.8L434.7,322L440,321.3L440,312.8L441.4,317.8L446.1,314L451.1,314.7L454.2,310.2L458.8,306.7L462.9,307.2L464.3,312.1L464.1,315.4L462.3,315.7L461.9,317.3L462.9,318.7L464.5,317.5L466.1,317.8L465.1,321.6L462.3,324.9L460.2,328.2L456,332.2L451.5,334.5L444.5,334.8L440,336.4L437,335.2L436.6,331.5L436.4,329.1L434.1,324.4Z"/>
<path fill="#ff7f0e" d="M450.5,296.3L454.2,296.5L458,292.1L461.1,291.1L462.9,292.1L466.3,293.7L466.1,298L465.7,302.7L462.9,307.2L458.8,306.7L455.6,302.7L452.6,300.8L450.5,296.3Z"/>
<path fill="#2ca02c" d="M444.1,285L448.1,285L448.1,280L448.9,281L450.7,280.7L454.6,282.1L457,283.8L459.8,285.9L459.8,283.1L457,282.1L457.4,277L458,274.4L461.9,273.7L466.1,276.5L466.7,279.8L466.9,283.8L465.7,286.4L466.7,287.3L460.7,289.7L461.1,291.1L458,292.1L454.2,296.5L450.5,296.3L446.9,295.8L444.1,292.5Z"/>
<path fill="#ff7f0e" d="M466.1,276.5L466.7,279.8L466.9,283.8L465.7,286.4L466.7,287.3L469.4,288.5L469.2,292.5L471,294.7L472,292.1L472.2,289L470.4,286.6L469.2,283.1L469.6,281.4L468.4,276.7Z"/>
<path fill="#2ca02c" d="M466.1,317.8L464.5,317.5L462.9,318.7L461.9,317.3L462.3,315.7L464.1,315.4L464.3,312.1L462.9,307.2L465.7,302.7L466.1,298L466.3,293.7L462.9,292.1L461.1,291.1L460.7,289.7L466.7,287.3L469.4,288.5L469.2,292.5L471,294.7L472,292.1L472.2,289L470.4,286.6L469.2,283.1L469.6,281.4L472,281.4L475.4,281.9L481.3,279.1L481.7,283.8L482.1,288.5L480.5,292.5L474.4,296.3L470.2,301L471.2,305L471.4,310.9L467.3,314L465.5,315.4Z"/>
<path fill="#ff7f0e" d="M481.3,279.1L475.4,281.9L472,281.4L469.6,281.4L468.4,276.7L466.1,276.5L461.9,273.7L459.4,268.5L458.6,264.7L461.3,262.6L461.9,260L461.3,256.9L468.1,256.7L475.6,261.4L478.9,265.4L478.1,268.5L479.5,270.6L479.1,273.9L480.1,277.9Z"/>
<path fill="#ff7f0e" d="M478.9,265.4L475.6,261.4L468.1,256.7L468.4,253.6L469.4,251.7L470.4,249.8L468.4,244.4L472.2,243.4L472.4,243.9L476.4,245.8L479.5,246.3L482.5,245.1L484.3,245L482.5,247.7L482.5,254.3L483.7,258.3L480.9,260.7Z"/>
<path fill="#ff7f0e" d="M461.3,256.9L459.4,257.6L460,252.9L462.9,249.3L462.1,248.6L461.9,246L464.3,245.8L468.4,244.4L470.4,249.8L469.4,251.7L468.4,253.6L468.1,256.7Z"/>
<path fill="#1f77b4" d="M459.4,257.6L461.3,256.9L461.9,260L458.6,260.7Z"/>
<path fill="#1f77b4" d="M458.6,260.7L461.9,260L461.3,262.6L458.6,264.7Z"/>
<path fill="#ff7f0e" d="M483.7,258.3L482.5,254.3L482.5,247.7L484.3,245L486.6,243.2L490.6,242.7L496.7,235.4L488.6,233.1L486.6,232.4L486.2,228.6L487,227.2L489.6,229.8L494.7,227.9L503.4,226.5L503,229.8L500.8,235.4L496.7,243.7L492.6,248.9L491.2,249.6L487.6,253.1L485.6,255.5Z"/>
<path fill="#ff7f0e" d="M472.4,243.9L476.4,245.8L479.5,246.3L482.5,245.1L484.3,245L486.6,243.2L490.6,242.7L496.7,235.4L488.6,233.1L486.6,232.4L486.2,228.6L484.1,227.2L485.4,225L482.5,222.4L480.5,220.3L477.5,220.3L476.2,219.1L473.4,220.6L472.6,224.3L470.6,226.5L470.2,228.8L469,229.5L468.6,234L466.3,235.4L467.9,236.4L470.4,241.6L472.2,243.4Z"/>
<path fill="#ff7f0e" d="M473.4,220.6L476.2,219.1L477.5,220.3L480.5,220.3L482.5,222.4L485.4,225L486.8,224.3L482.9,220.1L479.9,218.7L479.5,217.5L477.7,211.8L474.4,213.9L474.2,215.8L473.2,218.7Z"/>
<path fill="#ff7f0e" d="M487,227.2L486.2,228.6L484.1,227.2L485.4,225L486.8,224.3L487.2,226Z"/>
<path fill="#2ca02c" d="M477.7,211.8L475.2,204.7L474.2,202.4L450.1,202.4L450.1,207.1L448.1,207.1L448.1,217.2L445.9,217.2L445.1,221L444.1,224.3L445.9,228.3L446.1,229L447.5,233.8L448.5,233.8L450.1,230L454.2,231.6L457.8,232.1L460.2,230L463.3,231.2L465.1,226.7L466.7,225.5L466.3,230L468.4,231.9L468.6,234L468.6,234L469,229.5L470.2,228.8L470.6,226.5L472.6,224.3L473.4,220.6L473.2,218.7L474.2,215.8L474.4,213.9Z"/>
<path fill="#ff7f0e" d="M448.5,233.8L450.1,230L454.2,231.6L457.8,232.1L460.2,230L463.3,231.2L465.1,226.7L466.7,225.5L466.3,230L468.4,231.9L468.6,234L466.3,235.4L467.9,236.4L470.4,241.6L472.2,243.4L468.4,244.4L464.3,245.8L461.9,246L459.2,243.7L457,244.2L455,242.3L453,239L450.5,236.4Z"/>
<path fill="#ff7f0e" d="M429.3,243.4L428.9,240.1L430.9,236.6L432.9,235.9L437.2,235.4L438,233.1L442,231.4L445.1,228.6L446.1,229L447.5,233.8L448.5,233.8L450.5,236.4L453,239L455,242.3L449.1,242.3L445.1,244.6L439,242.3L437.2,244.2L437.2,246L432.9,246.7L432.1,249.1Z"/>
<path fill="#2ca02c" d="M427,222L426.8,220.3L430.9,214.4L431.9,206.2L429.9,200L448.1,208.3L448.1,217.2L445.9,217.2L445.1,221L444.1,224.3L445.9,228.3L446.1,229L445.1,228.6L442,231.4L438,233.1L437.2,235.4L432.9,235.9L430.9,236.6L427.9,231.4L430.9,230.7L430.1,228.8L429.9,225.7L428.3,223.6Z"/>
<path fill="#ff7f0e" d="M422.8,175.9L422.8,177.6L420.4,179.5L420.2,183L418.7,183L419.5,187.5L419.3,191.8L418.5,192.7L419.8,196.5L423.8,198.8L429.9,200L448.1,208.3L448.1,207.1L450.1,207.1L450.1,202.4L450.1,185.4L449.5,183L450.5,179.7L446.5,178.1L443.2,176.7L440.2,178.3L440,181.4L438.4,182.8L434.9,181.6L431.3,180.2L430.3,177.8L426.2,176.7Z"/>
<path fill="#ff7f0e" d="M422.8,175.9L422.8,177.6L420.4,179.5L420.2,183L418.7,183L417.7,178.5L414.7,174.5L416.3,172.4L416.1,168.2L416.9,167.1L419.3,166.3L421.8,166.7L421,168.4L421,170.3L422,171.2L420,173.4L419.8,174.3L421.8,175Z"/>
<path fill="#ff7f0e" d="M395,171.5L396.1,172.9L397.1,178.1L392,181.4L389.4,183.5L381.9,186.6L381.9,189L381.9,189.9L389.8,195.3L401.8,204.5L401.9,205.4L406,207.6L406.2,209.5L408.1,209.1L411.2,208.5L414.7,205L423.8,198.8L419.8,196.5L418.5,192.7L419.3,191.8L419.5,187.5L418.7,183L417.7,178.5L414.7,174.5L416.3,172.4L416.1,168.2L416.9,167.1L413.7,166.7L409.6,167.5L405.6,167.5L400.5,168.9L397.5,170Z"/>
<path fill="#2ca02c" d="M450.5,179.7L449.5,183L450.1,185.4L450.1,202.4L474.2,202.4L472,197.9L469.4,193.4L467.9,189.9L466.3,187.3L465.3,183.6L465.8,183.7L466.7,185.9L467.7,187.7L468.9,188.9L470.2,184.7L469,180.4L464.9,180.4L462.3,179.7L460,180.7L454.8,180.2Z"/>
<path fill="#ff7f0e" d="M499.3,282.6L501.8,290.4L500.1,292.1L499.5,296.8L497.7,303.9L494.9,313.1L491.2,314.7L488.6,313.3L487.2,306.9L489.4,301.3L488.6,295.6L490.4,292.5L493.7,291.4L496.5,288.8L498.3,285.5Z"/>
<path fill="#ff7f0e" d="M630.8,305.7L629.1,310.9L629.3,314.5L630.8,319.2L632.4,325.1L633.8,329.8L632.4,335.2L638.2,337.1L642.5,334.3L649.6,334.3L654.6,330.5L660.7,329.1L665.2,328.6L671.3,331.5L674.7,336.4L678.5,331.2L678.1,337.4L680,336.4L679.2,338.6L682.4,341.4L684,344L690.1,345.9L692.5,344.5L696,346.6L699.2,343.7L703.2,342.8L704.9,336.9L705.9,334.1L709.1,328.6L710.5,321.8L709.7,315.7L709.7,313.3L705.3,309.8L702.2,306.2L700.2,301.5L695.8,298.9L695.1,294.4L693.7,290.9L690.7,288L689.9,283.8L688.1,279.6L686.2,284L686,289.7L684.8,295.6L682,295.8L678.5,292.1L673.9,289.7L674.9,286.2L676.5,283.1L672.9,282.9L668.8,281.7L667.8,281L664.4,283.6L662.1,289.2L660.7,289.5L658.3,287.8L654.6,287.3L651.6,292.1L649.6,295.1L647,296.8L644.5,300.6L639.7,302.2L635.8,302.9ZM692.5,350.4L696.2,351.3L699.8,350.8L699.6,353.9L698.2,356.3L695.1,357.2L693.7,353.9Z"/>
<path fill="#2ca02c" d="M749.2,335.5L752.5,337.6L753.5,341.1L754.9,340.4L755.9,343L760,343L761,343.3L759.7,346.8L757.9,347.5L757.7,349.9L754.5,352.5L753.5,351.8L754.1,348.7L751.4,347L753.1,344.7L753.3,342.3L752.3,340L749.8,337.1ZM749.2,349.9L751.6,350.8L752.5,352.7L749.8,355.8L749.8,357.7L746.4,358.8L745.4,362.6L741.7,364.3L740.5,364.3L736.7,362.6L739.7,358.1L744.8,355.8L746.4,353.4L748,350.6Z"/>
<path fill="#ffffff" d="M731.6,301.7L734.6,303.9L737.7,306.9L736.7,306.9L732.6,303.9Z"/>
<path fill="#2ca02c" d="M758.5,295.6L761.2,295.6L761,297.3L758.7,297Z"/>
<path fill="#2ca02c" d="M716.4,270.1L719.5,272.2L723.1,274.1L725.5,277.4L724.1,277.4L720.5,274.4Z"/>
<path fill="#2ca02c" d="M736.9,289.2L738.1,291.1L739.3,293.2L738.3,293L737.1,290.9Z"/>
<path fill="#ffffff" stroke-width="1.0" d="M34.7,453.9L46.3,450.2L62.1,451.8L68.4,447.6L81.1,444.5L78.9,438.2L89.5,440.3L97.9,435L112.6,432.5L129.5,430.8L142.1,428.7L156.8,429.7L171.6,430.8L186.3,431.8L192.6,426.6L201.1,425.5L213.7,427.6L226.3,426.6L238.9,428.7L246.3,426.6L249.5,421.3L257.9,417.1L266.3,411.8L274.7,405.5L283.2,402.4L287.4,404.5L278.9,407.6L272.6,411.8L270.5,416.1L275.8,420.3L276.8,426.6L272.6,431.8L262.1,435L251.6,436.1L243.2,437.1L230.5,439.6L238.9,442.4L247.4,445.5L257.9,440.9L266.3,444.5L274.7,451.8L283.2,450.2L293.7,447.6L306.3,448.7L314.7,446.6L323.2,444.5L329.5,440.3L340,437.1L348.4,435L356.8,431.8L365.3,427.6L377.9,423.4L394.7,421.3L400,421.9L421.1,420.7L437.9,421.3L452.6,421.9L465.3,417.1L477.9,419.8L488.4,415L501.1,411.4L509.5,409.7L517.9,412.9L530.5,414.4L540,415L538.9,420.3L534.7,427.6L543.2,423.4L551.6,418.2L562.1,414.4L572.6,411.8L589.5,410.8L606.3,409.3L618.9,411.8L627.4,409.7L633.7,413.5L648.4,411.8L663.2,410.4L677.9,410.8L690.5,412.9L698.9,415.6L711.6,416.5L724.2,419.2L728.4,421.9L745.3,424.1L741.1,428.7L728.4,432.5L732.6,437.1L742.1,438.2L728.4,440.3L722.1,444.5L728.4,448.7L745.3,451.8L763.2,453.7ZM291.6,444.5L295.8,439.6L304.2,438.2L311.6,440.3L310.5,443.8L302.1,445.5Z"/>
<path fill="#2a2a2a" stroke-width="0.5" d="M83.4,208L84.6,206.9L85.8,208L84.6,209.2ZM82.4,205.2L83,204.7L83.6,205.2L83,205.7ZM79.1,203.8L79.8,203.3L80.4,203.8L79.8,204.3ZM76,202.4L76.5,201.9L77,202.4L76.5,202.9ZM214.2,255.7L215.2,254.8L216.2,255.7L215.2,256.7ZM216.2,255.7L216.6,255.2L217,255.7L216.6,256.2ZM274.1,216.1L274.6,215.5L275.1,216.1L274.6,216.7ZM275,218L275.4,217.4L275.8,218L275.4,218.5ZM275.6,219.8L276,219.3L276.4,219.8L276,220.4ZM275.7,221.5L276,221L276.3,221.5L276,222ZM275.3,223.1L275.6,222.7L275.9,223.1L275.6,223.6ZM274.3,225.7L274.6,225.4L274.9,225.7L274.6,226.1ZM278.5,223.3L278.8,222.9L279.1,223.3L278.8,223.6ZM274.5,229.8L275.4,228.9L276.3,229.8L275.4,230.6ZM271.9,213.5L272.3,213.1L272.7,213.5L272.3,213.8ZM267.9,212.4L268.3,212.2L268.7,212.4L268.3,212.6ZM271.5,211.6L271.9,211.3L272.3,211.6L271.9,211.8ZM240.9,197L241.8,195.5L242.6,197L241.8,198.4ZM242.5,191.8L243.2,190.9L243.9,191.8L243.2,192.6ZM239.7,191.5L240.5,191.2L241.3,191.5L240.5,191.9ZM244.9,196.2L245.2,195.1L245.5,196.2L245.2,197.4ZM246.6,198.6L247,197.9L247.4,198.6L247,199.3ZM250.1,204.7L250.7,204.3L251.3,204.7L250.7,205.2ZM252.7,202.9L253.3,202.5L253.9,202.9L253.3,203.2ZM347.5,165.1L348.3,164.7L349.1,165.1L348.3,165.4ZM341.5,163.4L342.2,163.1L342.9,163.4L342.2,163.8ZM344,163L344.4,162.7L344.8,163L344.4,163.2ZM364.8,177L365.3,176.7L365.8,177L365.3,177.3ZM365.4,187.5L366.1,187L366.8,187.5L366.1,188ZM367.4,188.2L367.9,187.7L368.4,188.2L367.9,188.7ZM370.7,187.3L371.1,186.5L371.6,187.3L371.1,188.1ZM371.6,185.9L372,185.4L372.4,185.9L372,186.3ZM362.9,186.6L363.3,186.1L363.6,186.6L363.3,187ZM351.2,218.7L351.7,218.1L352.2,218.7L351.7,219.3ZM350,219.1L350.3,218.8L350.6,219.1L350.3,219.5ZM350.1,215.1L350.5,214.8L350.9,215.1L350.5,215.5ZM348.3,214.2L348.7,213.8L349.1,214.2L348.7,214.5ZM352.8,216.3L353.1,215.8L353.4,216.3L353.1,216.8ZM412.6,253.6L412.9,253.1L413.2,253.6L412.9,254.1ZM414.3,250.5L414.5,250.2L414.7,250.5L414.5,250.8ZM416.7,246L417.1,245.3L417.5,246L417.1,246.7ZM323.8,382.4L325.6,381.9L327.4,382.4L325.6,383ZM384.7,108L385.3,107.5L385.9,108L385.3,108.5ZM396.6,112L396.9,111.2L397.2,112L396.9,112.8ZM392.9,115.1L393.4,114.7L393.9,115.1L393.4,115.4ZM385.1,117.4L385.7,116.5L386.3,117.4L385.7,118.4ZM381.5,86.7L382.3,86.5L383.1,86.7L382.3,87ZM515.7,302.1L516.1,301.6L516.5,302.1L516.1,302.6ZM511.4,304.1L511.9,303.6L512.4,304.1L511.9,304.6ZM486.9,281.9L487.2,281.4L487.5,281.9L487.2,282.4ZM489.1,283.1L489.4,282.8L489.7,283.1L489.4,283.4ZM490.7,284.5L490.9,284.2L491.2,284.5L490.9,284.8ZM511.7,265.3L511.9,265L512.1,265.3L511.9,265.5ZM548.2,244.4L548.3,243.2L548.5,244.4L548.3,245.6ZM546.9,228.3L547.1,227.6L547.3,228.3L547.1,229ZM587,225.5L587.4,223.4L587.8,225.5L587.4,227.6ZM589.1,237.3L589.4,236.4L589.7,237.3L589.4,238.3ZM507.2,224.8L508.4,224.4L509.7,224.8L508.4,225.2ZM538.8,370.6L540.2,369.8L541.7,370.6L540.2,371.5ZM692.5,222.6L692.7,222.2L693,222.6L692.7,222.9ZM694.4,218.7L694.5,218.3L694.7,218.7L694.5,219ZM671.8,236.6L672.1,236.1L672.3,236.6L672.1,237.1ZM719.6,238L719.9,237.8L720.2,238L719.9,238.3ZM706.7,236.8L706.9,236.6L707.1,236.8L706.9,237.1ZM746,237.5L746.2,237.3L746.4,237.5L746.2,237.8ZM749.6,251L749.8,250.7L750,251L749.8,251.3ZM49.9,286.4L50.6,286.1L51.3,286.4L50.6,286.7ZM51.5,287.2L52,287L52.5,287.2L52,287.5ZM44.4,304.3L44.7,304.1L45,304.3L44.7,304.6ZM761.6,293.5L762.6,293L763.6,293.5L762.6,293.9ZM96.3,296L96.8,295.6L97.3,296L96.8,296.3ZM115.7,275.5L116,275.3L116.3,275.5L116,275.8ZM735.2,279.6L735.6,279.3L736.1,279.6L735.6,279.8ZM740.1,296.1L740.3,295.7L740.6,296.1L740.3,296.4ZM742.3,300.3L742.5,299.8L742.8,300.3L742.5,300.8ZM739.3,322.7L739.5,322.6L739.7,322.7L739.5,322.9ZM41.5,357.9L42.1,357.6L42.7,357.9L42.1,358.2ZM722.5,276.7L723.3,276.4L724.1,276.7L723.3,277.1ZM726.3,279.1L727.1,278.7L728,279.1L727.1,279.4ZM716.8,273.7L717.4,273.4L718,273.7L717.4,273.9ZM649.8,196.7L650.2,196.5L650.6,196.7L650.2,197ZM658.1,191.8L658.5,190.9L658.9,191.8L658.5,192.6ZM661.3,187.5L661.7,187.2L662.1,187.5L661.7,187.8ZM663.5,182.6L663.8,182.3L664.1,182.6L663.8,182.8ZM655.1,175.5L655.7,175.2L656.3,175.5L655.7,175.8ZM694.7,149L695.6,148.5L696.4,149L695.6,149.6ZM698.2,147.4L699.2,146.8L700.2,147.4L699.2,148ZM702.6,145.3L703.2,144.8L703.9,145.3L703.2,145.7ZM707.2,142.9L707.7,142.4L708.2,142.9L707.7,143.4ZM709.6,139.8L709.9,139.4L710.2,139.8L709.9,140.3ZM712.6,137.7L713,137.4L713.4,137.7L713,138.1ZM714.4,135.6L715,135.1L715.6,135.6L715,136.1ZM53.6,104.7L55.2,104.1L56.9,104.7L55.2,105.3ZM61.3,112.5L62.7,112L64.2,112.5L62.7,112.9ZM86.8,118.6L88.7,117.4L90.5,118.6L88.7,119.8ZM74.1,115.8L74.5,115.5L74.9,115.8L74.5,116ZM54.3,119.4L54.6,119.2L54.9,119.4L54.6,119.7ZM41.1,132.1L41.9,131.8L42.7,132.1L41.9,132.3ZM45.9,131.1L46.7,130.8L47.6,131.1L46.7,131.4ZM38.4,132.3L39.1,132.1L39.7,132.3L39.1,132.5ZM749,129.5L749.8,129.2L750.6,129.5L749.8,129.7ZM758.3,131.6L758.9,131.3L759.5,131.6L758.9,131.8ZM735.3,124.5L736.1,124L736.8,124.5L736.1,125ZM540,81.1L541.7,80.6L543.3,81.1L541.7,81.5ZM553.4,66.7L554.4,66.3L555.4,66.7L554.4,67ZM559.3,81.1L560.5,80.8L561.7,81.1L560.5,81.4ZM581.8,75.6L582.8,75.4L583.8,75.6L582.8,75.9ZM682.8,80.6L686,79.9L689.3,80.6L686,81.3ZM697.8,77.5L700.2,76.8L702.6,77.5L700.2,78.2ZM510.9,81.5L510.9,81.5L510.9,81.5L510.9,81.6ZM424.4,98.8L424.8,98.4L425.2,98.8L424.8,99.1ZM428.3,92.9L429.9,92.3L431.5,92.9L429.9,93.5ZM433.1,90.8L433.9,90.3L434.7,90.8L433.9,91.2ZM438.2,89.1L439,88.7L439.8,89.1L439,89.5ZM358.6,62L361,61.7L363.5,62L361,62.2ZM277.8,143.6L278,143.4L278.2,143.6L278,143.9ZM269.9,144.8L271.3,144.4L272.7,144.8L271.3,145.2ZM274.1,142.4L274.4,142.2L274.7,142.4L274.4,142.7ZM130.8,128.5L131.8,126.4L132.8,128.5L131.8,130.6ZM236.3,106.6L237.5,106L238.7,106.6L237.5,107.2ZM237.5,121.2L238.3,120.4L239.1,121.2L238.3,122ZM229.2,106.8L230.4,106.3L231.6,106.8L230.4,107.3ZM242.2,93.8L243.6,93.1L245,93.8L243.6,94.5ZM246,93.1L246.6,92.6L247.2,93.1L246.6,93.6ZM248.4,373L249,371.8L249.7,373L249,374.2ZM247.1,369.2L247.6,368.1L248.1,369.2L247.6,370.4ZM249,360.5L249.7,359.6L250.3,360.5L249.7,361.4ZM249.2,354.8L249.9,353.4L250.5,354.8L249.9,356.3ZM256.5,384.6L257.8,384.3L259,384.6L257.8,384.9ZM268.6,383.6L269.3,383.4L270,383.6L269.3,383.8ZM278,376.3L279,375.8L280,376.3L279,376.8ZM428.4,169.6L428.7,169.4L428.9,169.6L428.7,169.8ZM402.1,162.4L402.3,162.1L402.6,162.4L402.3,162.6ZM407.2,160L407.6,159.8L408,160L407.6,160.3ZM450.8,167.2L451.1,166.9L451.4,167.2L451.1,167.6ZM451.8,163.7L452.1,163.2L452.5,163.7L452.1,164.1ZM452.3,161.8L452.8,161.5L453.3,161.8L452.8,162.1ZM453.9,165.3L454.2,165.1L454.5,165.3L454.2,165.6ZM455.9,168.9L456.2,168.2L456.5,168.9L456.2,169.6ZM439.4,160.8L439.6,160.4L439.8,160.8L439.6,161.3ZM441,164.1L441.2,163.7L441.5,164.1L441.2,164.6ZM450.5,166.7L450.7,166.5L450.9,166.7L450.7,167ZM448.9,164.9L449.1,164.6L449.3,164.9L449.1,165.1ZM612.9,259.5L614.1,258.3L615.4,259.5L614.1,260.7ZM617.6,261.1L618.2,260.6L618.8,261.1L618.2,261.7ZM596.4,251.9L596.9,250.8L597.4,251.9L596.9,253.1ZM599.5,257.8L600,256.7L600.5,257.8L600,259ZM602.1,260.9L602.4,260.2L602.7,260.9L602.4,261.6ZM593.4,248.2L593.9,247.8L594.4,248.2L593.9,248.5ZM606.5,267L606.7,266.8L606.9,267L606.7,267.3ZM654.6,262.3L655.7,261.6L656.7,262.3L655.7,263ZM650.4,258.5L651.6,258.2L652.8,258.5L651.6,258.9ZM648.1,266.1L648.6,264.9L649.1,266.1L648.6,267.3ZM647.8,266.8L648,266.3L648.2,266.8L648,267.3ZM671.4,268.9L671.9,267.5L672.4,268.9L671.9,270.3ZM665.2,272.5L665.8,271.8L666.4,272.5L665.8,273.2ZM668,267.8L668.2,266.9L668.4,267.8L668.2,268.6ZM673.7,258.3L674.5,258L675.3,258.3L674.5,258.6ZM674.1,256.7L674.9,256.2L675.7,256.7L674.9,257.1ZM663.1,254.8L663.8,254.3L664.5,254.8L663.8,255.2ZM657.6,256.2L658.1,255.7L658.6,256.2L658.1,256.7ZM655,250.1L655.1,249.9L655.2,250.1L655.1,250.2ZM653.4,246L653.6,245.6L653.8,246L653.6,246.5ZM656,244.4L656.3,243.8L656.5,244.4L656.3,245ZM662.2,259L662.3,258.9L662.4,259L662.3,259.1ZM627.3,270.8L628.3,270.5L629.3,270.8L628.3,271.1ZM632.2,274L632.8,273.7L633.4,274L632.8,274.4ZM653.5,273.2L654.2,272.9L655,273.2L654.2,273.4ZM650.8,273.9L651.6,273.7L652.4,273.9L651.6,274.1ZM649,274.1L649.6,273.9L650.2,274.1L649.6,274.4ZM644.5,298.9L644.5,298.9L644.5,298.9L644.5,298.9ZM622.2,207.1L622.2,207.1L622.3,207.1L622.2,207.1ZM646.4,183.3L646.8,183L647.1,183.3L646.8,183.5ZM645.1,179.7L645.7,179.5L646.3,179.7L645.7,180ZM696.9,259.1L697.8,258.9L698.7,259.1L697.8,259.4ZM702.4,257.8L702.6,257.7L702.8,257.8L702.6,258ZM708.2,276L708.7,275.8L709.2,276L708.7,276.2ZM710.1,281.4L710.5,281.3L710.9,281.4L710.5,281.6ZM704.7,277.2L705.3,276.9L705.9,277.2L705.3,277.5ZM704.5,276.2L704.9,276L705.3,276.2L704.9,276.5ZM711.3,281.2L711.6,281.1L711.8,281.2L711.6,281.3ZM675.9,338.8L677.3,338.5L678.7,338.8L677.3,339.1ZM663.4,281.7L664.4,281.2L665.4,281.7L664.4,282.1ZM675.7,287.3L676.3,286.9L676.9,287.3L676.3,287.8ZM681.6,293.5L682,293.1L682.4,293.5L682,293.8ZM709.5,313.8L709.7,312.6L709.9,313.8L709.7,315ZM698.9,348.7L699.2,348.1L699.5,348.7L699.2,349.3ZM690.8,348.5L691.1,348L691.4,348.5L691.1,348.9ZM721.2,383.2L721.3,382.8L721.4,383.2L721.3,383.5ZM738.9,365.2L739.5,364.7L740.1,365.2L739.5,365.7ZM735.8,374L736.1,373.6L736.4,374L736.1,374.3ZM500.6,363.8L500.8,363.7L500.9,363.8L500.8,363.9ZM475.8,365L476,364.9L476.2,365L476,365.1ZM556.3,344L556.4,343.9L556.5,344L556.4,344.1ZM387.9,291.9L388,291.8L388.1,291.9L388,292.1ZM370.2,273.1L370.3,272.9L370.4,273.1L370.3,273.2ZM374.5,341.9L374.6,341.7L374.7,341.9L374.6,342ZM178,318.3L178.2,318.1L178.3,318.3L178.2,318.4ZM235.7,333.8L235.9,333.7L236,333.8L235.9,333.9Z"/>
<path fill="#ffffff" d="M462.3,315.7L464.1,315.4L464.5,317.5L462.9,318.7L461.9,317.3Z"/>
<path fill="#ff7f0e" d="M454.2,324.2L457.4,321.8L459,323.9L456.4,326.5Z"/>
<path fill="#2ca02c" d="M365.5,222.2L369.1,221.7L371.6,222.4L369.1,223.1L365.5,223.4Z"/>
<path fill="none" d="M246.3,423.4L253.7,420.3M251.6,426.6L260.0,422.4M257.9,419.2L265.3,415.0M264.2,416.1L271.6,410.8M273.7,407.6L281.1,404.5M278.9,403.4L287.4,402.4M248.4,428.7L257.9,426.6M255.8,423.4L262.1,424.5M275.2,415.0L278.1,422.4M68.4,444.5L76.8,442.4M68.4,447.6L78.9,446.6M83.2,442.4L93.7,440.3M89.5,444.5L102.1,442.4M97.9,440.3L106.3,438.2M46.3,450.2L89.5,457.7M58.9,452.9L74.7,456.1M180.0,433.9L198.9,432.9M137.9,429.7L154.7,430.8M230.5,439.6L243.2,442.4L251.6,445.5M232.6,444.5L243.2,446.6M257.9,440.9L262.1,447.6L268.4,445.5M329.5,443.4L352.6,443.4M728.4,432.5L736.8,435.0M732.6,437.1L742.1,438.2M722.1,444.5L732.6,446.6M492.6,414.4L501.1,411.8M589.5,410.8L602.1,410.2M215.2,63.1L229.4,64.8L241.6,64.1M221.3,67.4L233.5,67.9L243.6,66.4M225.3,71.2L235.5,70.5L243.6,69.3M229.4,59.6L245.6,60.8L257.8,59.4M237.5,62.0L253.7,63.1L265.9,61.7M213.2,65.0L207.1,67.2L215.2,68.8M205.1,68.8L217.2,66.4M188.9,67.9L199.0,70.2L190.9,71.2M176.8,69.3L188.9,68.8M203.1,74.5L213.2,75.9L221.3,74.9M207.1,77.3L217.2,76.4L229.4,77.3M233.5,75.9L237.5,74.5M219.3,82.0L229.4,83.4L237.5,82.5M241.6,84.4L249.7,86.7L255.7,88.6M245.6,89.1L253.7,91.0L261.8,92.9M257.8,95.2L265.9,96.2L271.9,98.5M261.8,99.5L265.9,101.8M253.7,103.3L261.8,105.1M172.7,74.9L180.8,75.9M162.6,76.8L170.7,75.4M156.5,83.0L164.6,83.4M172.7,84.4L180.8,85.3L188.9,84.4M164.6,89.6L172.7,88.2M197.0,82.0L201.1,83.4M209.2,81.1L213.2,83.0M188.9,75.4L197.0,74.5M290.1,89.1L296.2,90.0M288.1,84.4L294.2,85.3M286.1,79.2L292.2,79.7M292.2,96.2L297.2,96.7M294.2,100.9L298.2,101.8M298.2,107.0L302.3,108.0M314.4,106.6L311.4,104.7M318.5,100.9L315.5,99.5M326.6,97.6L322.6,96.7M342.8,92.4L336.7,93.3M350.9,88.2L342.8,87.2L348.9,85.8M354.9,83.0L346.9,82.0M357.0,78.7L350.9,77.8M361.0,74.0L352.9,73.1M361.0,69.3L352.9,68.3M363.1,65.0L352.9,64.1M261.8,71.2L269.9,72.1M257.8,68.8L265.9,67.9M282.1,60.8L294.2,59.8M310.4,59.4L322.6,58.4M334.7,59.8L346.9,60.8M116.0,113.4L122.5,116.7L125.7,119.8L129.0,122.6L132.2,124.7M130.2,127.1L132.6,130.2M135.8,127.3L139.1,130.6L141.1,133.9M125.1,116.0L128.2,118.8L131.0,121.7L134.2,124.0M410.0,112.7L412.5,112.2M410.0,109.9L413.7,109.9M411.6,107.0L414.5,106.6M417.7,104.2L421.0,104.2M422.6,101.4L424.6,100.4M425.0,97.6L427.9,96.7M429.1,94.3L431.9,93.3M433.5,91.9L436.4,90.5M439.2,89.6L442.8,88.6M445.3,88.2L448.9,87.2M452.1,87.7L456.6,87.2M250.7,353.4L251.7,357.7L250.5,361.9M248.8,364.7L250.5,368.1L248.8,371.8M250.5,373.7L251.7,377.0L253.7,379.9M252.7,381.3L256.7,382.4L259.8,383.9M254.7,379.9L256.5,381.5M425.8,69.3L433.9,68.6M427.9,67.2L435.9,66.7M511.9,81.3L515.9,81.1M546.5,85.3L550.4,83.9M557.5,83.9L563.5,84.9M573.6,79.7L581.8,76.8M598.0,74.5L608.1,73.5M617.2,81.1L623.3,79.7M648.6,82.0L655.7,81.1M672.9,85.3L680.0,85.8M388.2,121.7L389.4,120.7M387.8,119.3L389.0,118.4M386.5,118.8L387.4,119.8M379.7,127.3L380.9,127.8M379.2,131.6L380.5,131.1M91.7,115.1L94.7,113.6L97.8,112.2M87.7,116.9L83.6,118.8M99.8,111.3L103.9,110.8M68.4,124.5L74.5,123.1L79.6,121.2"/>
<rect x="35" y="453.2" width="729" height="1.7" fill="#9a9a9a" stroke="none"/>
</g>
<g transform="translate(0.0,478.4)">
<path fill="#ff7f0e" d="M253,69.9L261.3,66.7L268.9,63.5L279.1,61L291.8,59.1L304.5,57.8L317.3,57.2L330,56.8L342.7,57.8L354.2,59.1L359.3,61L368.2,61.4L376.4,61.9L368.2,63.5L360.5,65.5L358,69.3L361.8,73.1L355.4,76.9L352.9,80.7L345.3,82.6L351.6,84.5L354.2,86.4L342.7,89L336.3,93.4L330,97.3L323.6,99.2L317.3,102.4L314.7,107.4L312.2,112.8L307.1,111.3L302,110L298.2,106.2L295.6,101.1L291.8,97.3L290.5,90.9L288,85.8L284.2,79.5L279.1,75.6L271.4,73.7L263.8,73.1L257.4,71.8Z"/>
<path fill="#ff7f0e" d="M350.6,99.6L354.2,97.9L359.3,98.8L365.6,97.3L370.7,98.5L372,101.1L368.2,103L361.8,104.3L356.7,103.6L352.9,101.7Z"/>
<path fill="#ff7f0e" d="M113.6,89.9L106.4,89L96.2,88.1L87.3,86.6L82.2,85.8L77.1,87.1L70.7,89L64.4,91.5L61.8,92.8L66.9,94.1L72.6,96L68.2,97.5L61.2,98.8L59.9,99.8L66.3,101.1L73.3,102L73.3,103.6L68.2,104.9L64.6,106.4L63.7,108.7L67.2,110.2L65.6,111.9L70.5,114.4L73.3,116L79,116.4L80.9,114.8L72,121.4L61.8,126.5L52.9,129.7L45.3,131.4L38.3,132.3L46.5,130.4L55.5,128.2L68.2,123.1L78.4,119.2L84.7,116.7L89.8,112.5L93.6,110.6L98.7,109.7L103.8,110.6L108.9,111.3L113.6,111.9ZM114,112L118,112.5L121.1,115.1L125.5,113.4L129.2,115.5L132.2,119.3L136.2,122.1L135.8,124.5L133.2,125.2L129.8,124L127.7,121.7L124.9,119.3L122.9,116.9L120.1,115.3L116.4,113.6L114,112.9Z"/>
<path fill="#ff7f0e" d="M114,90L118,90.3L123.1,91.7L128.2,90.3L136.2,88.9L140.3,87.9L146.4,90.5L154.5,89.6L162.6,91.5L168.7,94.3L176.8,94.1L180.8,96.7L182.8,93.3L186.9,92.6L195,94.3L201.1,92.9L205.1,93.3L206.1,90.3L204.1,86L208.1,84.4L213.2,87.9L214.2,90.3L217.2,92.2L221.3,93.8L226.4,89.6L233.5,89.8L234.9,92.6L233.5,96.2L229.4,97.8L224.9,97.4L223.3,100.2L219.3,103.3L215.8,104.9L211.2,109.2L208.1,112.7L208.7,115.5L212.2,119.8L219.3,120.3L227.4,123.8L232.8,124.3L233,129.2L236.5,133.2L239.5,132.8L239.9,128L238.5,125.2L243.6,122.1L244.6,118.6L240.5,115.5L242.6,111.5L241.6,107L249.7,107.3L256.7,110.3L258.8,115.1L262.8,116.7L266.9,113.9L268.7,111.8L273.9,118.6L278,123.8L283.1,126.9L286.5,130.4L284.1,133L278,135.8L269.9,135.6L263.8,137.5L258.8,141L255.7,143.6L259.8,141.3L263.8,138.9L269.3,138.4L268.9,141L266.9,142.9L268.9,145.3L270.9,146L276,146.4L278,143.6L278.4,145.7L275.4,147.6L270.9,149L266.7,151.6L265.4,149.8L268.9,147.4L263.8,147.9L262.2,146.4L262.2,143.1L259.4,142.4L257.8,144.8L255.7,147.4L254.7,148.1L248.2,148.1L244.6,150L239.5,151.9L239.5,153.3L232.4,155.7L231.4,154.5L232.4,152.8L233,147.4L230.4,145.7L228.4,144.6L221.3,140.5L218.3,141L213.2,140.1L206.7,138.7L150.8,138.7L150,138L146.4,135.6L141.3,132.8L140.3,129.2L136.2,126.2L135.8,124.5L136.2,122.1L132.2,119.3L129.2,115.5L125.5,113.4L121.1,115.1L118,112.5L114,112ZM139.7,134.4L145.4,135.6L149.4,139.8L146.8,139.8L143.3,137.5ZM279.4,142L282.1,138.7L284.5,133.2L286.9,132.5L286.5,136.3L291.2,138L292.8,142.2L291.2,144.1L287.1,143.6L285.1,142ZM269.1,136.5L273.9,137.7L274.4,138.4L269.9,137ZM146.4,84.4L150.4,86.5L155.5,85.8L160.6,83.9L165.6,81.3L161.6,79L154.5,78.5L147.4,79L148.4,81.5ZM160.6,82.7L158.5,85.6L164.6,87.7L162,89.1L163.6,91.5L169.7,92.4L178.8,92.2L186.9,91.5L193,90.3L195,88.6L187.9,86.7L186.9,83.2L182.8,81.5L176.8,82L168.7,81.3L162.6,82ZM193,82L197,84.6L203.1,85.3L204.1,82L201.1,79.7L196,79.9ZM206.1,83.7L211.2,84.4L216.8,82L216.2,79.9L208.1,79.4L205.1,81.3ZM198,91.2L202.1,92.4L206.1,91.7L205.1,89.6L201.1,89.3ZM219.3,80.8L227.4,80.1L235.5,80.4L241.6,82.3L248.6,84.9L255.7,86.7L260.8,88.6L263.8,91.5L273.9,96.2L275,97.4L269.9,100.9L270.9,103.3L267.9,106.1L264.8,108L261.8,107.5L254.7,105.6L249.7,102.6L242.6,102.6L241.6,99.7L249.7,98.5L251.7,95L243.6,91.5L239.5,88.6L233.5,89.3L225.3,88.4L219.3,86.7L217.2,83.2ZM223.3,102.8L225.3,99.2L229.4,98.5L235.5,102.1L237.1,103.7L231.4,105.1L226.4,105.1ZM213.2,78L225.3,78.7L237.5,78L238.5,76.1L233.5,74.9L221.3,73.8L213.2,73.5L205.1,74L204.1,76.4ZM219.3,74L237.5,74.5L242.6,72.1L247.6,69L253.7,66.7L267.9,63.1L275,59.8L261.8,58.4L243.6,58.2L227.4,60.1L217.2,62L223.3,64.3L227.4,66.7L221.3,69L221.3,71.4ZM205.1,66L211.2,69.5L221.3,69.5L223.3,66.7L217.2,62.7L209.2,62.4ZM162.6,75.4L170.7,78.5L180.8,77.5L185.9,76.1L182.8,73.3L172.7,73.5L163.6,73.8ZM188.9,76.1L201.1,77.3L209.2,76.8L203.1,73.5L193,73.5ZM150.4,74.5L160.6,75.9L164.6,73.5L158.5,71.6ZM170.7,69.5L186.9,71.9L201.1,70.7L195,67.9L184.9,67.2L174.7,68.1Z"/>
<path fill="#ff7f0e" d="M150.8,138.7L206.7,138.7L213.2,140.1L218.3,141L221.3,140.5L228.4,144.6L230.4,145.7L233,147.4L232.4,152.8L231.4,154.5L232.4,155.7L239.5,153.3L239.5,151.9L244.6,150L248.2,148.1L254.7,148.1L255.7,147.4L257.8,144.8L259.4,142.4L262.2,143.1L262.2,146.4L263.8,147.9L263.8,148.6L259.8,150.2L256.1,153.3L257.8,155.9L254.7,156.6L249.7,158.7L246.6,163.4L245.6,167L246.6,171L243.6,172.6L239.5,175.2L235.9,178.5L234.7,181.8L236.3,187L237.5,191.1L236.7,194.6L235.1,194.8L233.5,191.8L231.8,187L229.4,183.3L226.4,184L222.3,182.8L219.3,182.8L218.3,185.4L214.2,184.9L209.6,184.2L207.1,185.4L202.5,188.7L202.7,193.2L198,189.4L195,184.4L191.9,184L190.5,185.9L187.9,184.4L183.8,179.3L180.4,179.3L180.4,180.4L174.7,180.4L167.2,177.1L162.4,177.6L159.5,174.1L155.3,172.9L152.7,167.9L151.4,165.1L147.8,159L147.4,153.3L148.4,145L147,140.1L150.8,140.3Z"/>
<path fill="#ff7f0e" d="M162.4,177.6L167.2,177.1L174.7,180.4L180.4,180.4L180.4,179.3L183.8,179.3L187.9,184.4L190.5,185.9L191.9,184L195,184.4L198,189.4L202.7,193.2L201.5,201.2L202.1,203.6L205.1,209L208.1,211.3L213.6,210.4L215.8,208.3L216.6,204.7L220.3,203.3L223.3,203.6L223.7,205.9L222.3,210.6L220.7,210.6L218.9,212.3L215.2,212.3L215.2,213.6L216.4,216.3L213.8,216.3L212.8,218.4L212.8,220.1L207.1,216.1L203.1,216.8L197,214.2L193,211.8L188.3,209.5L185.9,206.4L185.9,203.6L183.8,198.8L180.8,195.3L178.2,192.9L175.7,189.4L172.1,184.7L170.7,181.1L167.2,179.5L167.2,182.3L171.1,187L173.7,191.8L175.7,196.5L177.8,199.5L176.8,200.3L171.7,194.1L166.6,188.7L168.2,188L164.6,182.3Z"/>
<path fill="#2ca02c" d="M212.8,220.1L212.8,218.4L213.8,216.3L216.4,216.3L215.2,213.6L215.2,212.3L218.9,212.3L218.9,216.8L220.7,217.2L218.9,220.3L217,221.7Z"/>
<path fill="#2ca02c" d="M218.9,212.3L220.7,210.6L221.1,213L220.1,216.5L218.9,216.8Z"/>
<path fill="#2ca02c" d="M217,221.7L218.9,220.3L220.3,221.3L221.7,221.5L221.7,223.1L220.3,223.1Z"/>
<path fill="#2ca02c" d="M218.9,220.3L220.7,217.2L225.3,216.8L229.4,216.8L231,218.9L227.8,219.4L225.3,221.5L223.7,223.1L222.5,223.6L221.7,223.1L221.7,221.5L220.3,221.3Z"/>
<path fill="#2ca02c" d="M222.5,223.6L223.7,223.1L225.3,221.5L227.8,219.4L231,218.9L230.4,223.6L230,228.6L228,228.3L226,228.1L224.3,226Z"/>
<path fill="#2ca02c" d="M226,228.1L228,228.3L230,228.6L232.2,231.6L231.6,235.2L230,234L228,231.6L225.8,230.7Z"/>
<path fill="#2ca02c" d="M232.2,231.6L235.5,233.5L237.7,232.1L239.7,231.9L242.8,233.8L241.8,237.3L240.5,234.9L238.1,233.3L236.7,234.9L237.1,236.8L235.5,237.1L233.5,234.9L231.6,235.2Z"/>
<path fill="#2ca02c" d="M227.6,202.6L231,200.3L234.5,199.8L238.5,201.2L243,203.1L246.2,204.7L249.2,206.6L246.6,207.3L242.2,207.5L243.2,205.7L240.5,204.3L236.5,202.9L233.5,201.4L230.4,202.4Z"/>
<path fill="#d62728" d="M248.6,210.9L252.7,211.3L254.3,211.8L254.1,207.8L250.9,207.3L252.3,209L252.9,210.4Z"/>
<path fill="#2ca02c" d="M254.3,211.8L254.1,207.8L257.8,207.6L259.4,208.8L261,210.4L258.8,210.9L256.7,211.3L254.9,212.8Z"/>
<path fill="#2ca02c" d="M240.7,211.1L243.6,210.6L245.2,211.8L243.2,212.3Z"/>
<path fill="#2ca02c" d="M263.4,210.9L266.7,210.9L266.3,211.8L263.4,211.8Z"/>
<path fill="#2ca02c" d="M242.8,233.8L244,235.4L246.4,231.9L246.6,229.3L249.2,228.1L252.7,226.5L255.1,225L253.7,226.9L252.7,228.1L251.7,231.9L252.9,234.7L253.3,237.1L257.3,237.8L259,239.9L262.8,239.7L262.2,243.7L263.2,246.5L264,251.5L263.6,250.3L258.2,250.3L259.4,251.9L257.8,252.9L257.8,254.8L259,256.9L258,264.2L256.3,263.3L251.9,260L250.7,258.3L247,254.5L243.6,253.4L239.9,251L240.5,248.4L242.6,245.3L242.6,241.3L242.8,238.3L241.8,237.3Z"/>
<path fill="#2ca02c" d="M264,251.5L263.2,246.5L262.2,243.7L262.8,239.7L259,239.9L257.3,237.8L253.3,237.1L252.9,234.7L251.7,231.9L252.7,228.1L253.7,226.9L255.1,225L255.3,226.5L254.5,228.6L255.7,231.9L254.5,228.6L257.3,227.2L257.8,225.5L258.4,227.2L261.2,228.8L265.9,229.3L268.9,230.2L272.9,229L274.2,229L273.3,230.9L276,234L278.4,234.7L276.6,236.6L275.8,238.5L275.2,240.4L276.6,242L272.3,244.9L269.3,244.6L269.9,248.4L271.1,249.1L266.9,252.4L264,251.5Z"/>
<path fill="#2ca02c" d="M276.6,242L275.2,240.4L275.8,238.5L276.6,236.6L278.4,234.7L281,237.1L283.7,240.1L283.5,242.5L282.1,244.9L284.1,249.6L285.1,249.8L280.4,251.5L278.6,250.1L278,247.9L279,244.9L277.8,242L276.6,242Z"/>
<path fill="#ff7f0e" d="M285.1,249.8L284.1,249.6L282.1,244.9L283.5,242.5L283.7,240.1L290.1,240.6L289.3,243.7L288.9,248.9L286.1,249.8Z"/>
<path fill="#ffffff" d="M290.1,240.6L294.8,244.4L292.4,249.1L288.9,248.9L289.3,243.7Z"/>
<path fill="#ff7f0e" d="M239.9,251L243.6,253.4L247,254.5L246.4,257.8L242,261.4L240.7,262.3L239.5,266.1L236.7,264.7L236.9,262.3L235.7,259.5L235.9,256.7L237.5,252.4Z"/>
<path fill="#ff7f0e" d="M236.9,262.3L234.9,265.4L235.1,268.5L238.1,271.3L241.1,277.9L243.4,282.9L245.2,287.1L247.6,290.9L253.7,294.4L256.9,297.6L258.8,295.6L259.8,293.2L259.2,291.4L260.4,283.8L258.6,280.1L256.5,280.3L256.7,276.5L253.3,277.9L251.3,276.5L250.1,271.5L251.7,268.5L251.9,266.6L256.3,264.2L258,264.2L256.3,263.3L251.9,260L250.7,258.3L247,254.5L246.4,257.8L242,261.4L240.7,262.3L239.5,266.1L236.7,264.7L236.9,262.3Z"/>
<path fill="#ff7f0e" d="M294.8,244.4L298.2,250.1L298.2,254.3L301.3,256.7L304.3,256L309.4,260.2L315.5,261.1L321.5,263L324.6,265.6L328.2,267.3L329,271.3L328,276.2L324.6,280.3L321.5,285L320.5,290.9L320.1,296.3L318.1,301.5L316.5,306.2L314.4,308.3L312,308.6L308.4,310.5L305.5,310.9L301.7,315L301.1,319.2L298.7,323.4L296.2,327.5L293.8,330.3L291.4,333.9L291.8,331.5L286.9,327L282.9,325.6L286.5,321.1L290.6,318.5L288.9,314.7L289.5,310.9L286.7,307.2L282.3,306.5L281.6,302L282.5,299.1L283.1,296.8L281.2,295.1L281.4,292.8L277.6,292.8L277,286.9L273.9,285.5L269.9,283.8L267.3,281.9L267.1,277.2L264.6,277.7L261.8,279.6L258.6,280.1L256.5,280.3L256.7,276.5L253.3,277.9L251.3,276.5L250.1,271.5L251.7,268.5L251.9,266.6L256.3,264.2L258,264.2L259,256.9L257.8,254.8L257.8,252.9L259.4,251.9L258.2,250.3L263.6,250.3L264,251.5L266.9,252.4L271.1,249.1L269.9,248.4L269.3,244.6L272.3,244.9L276.6,242L277.8,242L279,244.9L278,247.9L278.6,250.1L280.4,251.5L285.1,249.8L286.1,249.8L288.9,248.9L292.4,249.1Z"/>
<path fill="#ff7f0e" d="M258.8,295.6L259.8,293.2L259.2,291.4L260.4,283.8L258.6,280.1L261.8,279.6L264.6,277.7L267.1,277.2L267.3,281.9L269.9,283.8L273.9,285.5L277,286.9L277.6,292.8L281.4,292.8L281.2,295.1L283.1,296.8L282.5,299.1L281.6,302L279.8,299.8L274.6,300.6L273.3,302.7L272.7,306.7L269.3,308.1L267.5,306.5L265.2,305.7L263.4,308.1L261.4,304.6L260.8,300.3L259.8,299.1L258.8,295.6Z"/>
<path fill="#2ca02c" d="M272.7,306.7L273.3,302.7L274.6,300.6L279.8,299.8L281.6,302L282.3,306.5L286.7,307.2L289.5,310.9L288.9,314.7L288.5,317.3L286.3,319L280.8,318.7L282.9,314.2L280.4,312.8L276,310.5L272.7,306.7Z"/>
<path fill="#ff7f0e" d="M282.9,325.6L286.9,327L291.8,331.5L291.4,333.9L288.3,336.8L285.7,336.7L281.2,334.5L281.6,331Z"/>
<path fill="#ff7f0e" d="M261,378L257.8,377L253.9,377L253.1,374L250.7,370.6L253.1,366.4L254.3,360.5L254.3,353.4L253.9,348.7L255.7,344L256.9,339.3L257.8,333.4L258.2,326.3L259.4,321.6L261.2,316.8L261,312.1L263.4,308.1L265.2,305.7L267.5,306.5L269.3,308.1L272.7,306.7L276,310.5L280.4,312.8L282.9,314.2L280.8,318.7L286.3,319L288.5,317.3L288.9,314.7L290.6,318.5L286.5,321.1L282.9,325.6L281.6,331L281.2,334.5L281.2,336L283.7,338.1L284.7,340.2L283.1,344L280,345.6L273.9,346.1L273.3,350.1L267.9,350.6L267.9,353.4L270.7,354.6L267.3,357L266.9,360.5L262.8,362.9L266.3,365.7L262.8,369.9L259.8,373.5ZM260.6,378.4L260.6,383.9L264.8,384.1L267.5,383.2L263.8,381.7L261.4,379.4Z"/>
<path fill="#ff7f0e" d="M256.9,297.6L257.5,301.5L256.7,309.8L256.5,315.7L254.7,322.7L254.5,329.8L254.1,334.5L251.7,341.1L250.3,345.2L250.9,348.7L250.1,352.9L248.6,357L246.6,364L248.6,367.6L246.6,372.3L248.6,377L251.7,380.6L255.7,381.7L255.9,379.1L258.8,378.2L261,378L257.8,377L253.9,377L253.1,374L250.7,370.6L253.1,366.4L254.3,360.5L254.3,353.4L253.9,348.7L255.7,344L256.9,339.3L257.8,333.4L258.2,326.3L259.4,321.6L261.2,316.8L261,312.1L263.4,308.1L261.4,304.6L260.8,300.3L259.8,299.1L258.8,295.6ZM256.7,378.7L260.6,378.4L260.6,383.9L263.8,384.8L259.8,385.3L254.7,382.9L256.7,381Z"/>
<path fill="#ffffff" d="M276,375.8L282.5,375.8L281,377.5L276,377Z"/>
<path fill="#ff7f0e" d="M413.7,117.4L410.6,115.1L409.6,110.3L410,107.5L415.7,104.4L420.8,102.1L423.8,99.7L425.8,96.2L429.9,92.6L434.9,90.3L440,89.1L446.1,87.2L451.5,86.5L456.2,86.7L462.3,88.4L460.2,89.8L458,91.3L458.8,90.3L456,88.9L451.7,90L442,90.8L441.2,91.3L435.9,92.6L432.9,95L429.9,98.1L428.9,100.2L426.8,102.1L424.2,104.4L423.8,109.2L424.8,110.3L424.2,112.7L422.8,115.1L421.8,115.1L420.8,113.9L418.7,115.8L415.7,117.2ZM421.8,66.4L427.9,65.5L435.9,65L440,66.4L443,69L438,71.4L433.9,73.5L427.9,71.4L422.8,69ZM437,64.8L446.1,64.3L454.2,65.5L448.1,67.2L440,66.2ZM442,69.7L448.1,70.7L445.1,71.9L442,71.2Z"/>
<path fill="#ff7f0e" d="M422.8,115.1L424.2,112.7L424.8,110.3L423.8,109.2L424.2,104.4L426.8,102.1L428.9,100.2L429.9,98.1L432.9,95L435.9,92.6L441.2,91.3L447.1,94.1L448.1,98.5L448.3,99L444.1,99.7L442,102.1L437,105.6L434.5,108L434.3,111L438,113.2L435.9,114.4L432.9,116.2L432.9,119.8L431.9,121.7L428.9,122.1L428.3,123.6L425.8,123.6L425.2,121.7L423.8,118.6L422.2,116.2ZM436.4,119.8L438,117.7L437.6,119.1L436.6,120Z"/>
<path fill="#ff7f0e" d="M455.8,111.5L460.2,108.5L463.5,105.9L461.3,103.3L459.6,101.4L460.2,99.2L458.2,96.4L460.2,94.5L457.2,92.6L458,91.3L458.8,90.3L456,88.9L451.7,90L442,90.8L441.2,91.3L447.1,94.1L448.1,98.5L448.3,99L450.9,100.7L449.1,101.4L445.1,104.4L442.8,106.8L442.6,109.2L443,111.5L446.1,113.2L450.1,112.2Z"/>
<path fill="#ff7f0e" d="M415.9,123.3L416.1,119.8L421,118.1L420.4,121L421.6,121.4L419.3,123.8L418.7,124.9L416.9,124.7ZM421.8,123.8L424,121.9L425,122.8L424.2,124.7L422.2,124.5ZM419.3,123.3L421.4,123.3L421.2,124.4L419.8,124.3Z"/>
<path fill="#ff7f0e" d="M388,136.2L393.4,134.9L397.5,134.6L402.3,133.5L401.5,132.5L402.9,130.2L399.9,129.2L399.5,127.8L396.9,125.2L396.1,123.1L395,122.1L393.4,122.1L394.4,121L395.9,118.6L392.4,118.1L391.4,118.4L393.4,116L389.4,116L387.8,118.6L387.4,121L388.4,123.3L389.8,123.3L389.6,125L392.6,125L393.4,127.3L393.2,128.5L390.2,128.5L391,130.4L388.8,132.1L392.8,133L393.8,132.8L391,133.7ZM382.9,125.7L384.7,124.3L387.4,124L388.4,125.7L386.7,126.6L384.3,126.6Z"/>
<path fill="#ff7f0e" d="M379.2,132.5L382.3,132.5L386.7,131.1L387.4,128.5L386.7,126.6L384.3,126.6L382.9,125.7L384.7,124.3L382.7,124L382.1,125.7L379.2,126.4L379.5,128.3L380.7,129L380.3,130.2L378.4,131.3Z"/>
<path fill="#ff7f0e" d="M395.9,151.9L397.1,149L397.1,145.7L395,142.9L390,141L390,139.8L393.4,139.1L396.3,139.4L395.9,137L397.1,137.7L399.9,137.5L402.7,135.6L402.7,134.2L404.7,133.7L406,134.6L408,136.3L409.2,136.1L411.2,137.5L412.5,137.5L416.1,138.7L414.9,142L413.5,142.7L411.9,145.3L413.3,145.7L413.7,146L412.9,147.9L413.7,150L414.7,150.9L412.1,152.6L409.2,151.9L406.6,152.1L405.8,154L402.9,154L400.9,153.3L398.5,153.3ZM416.9,154.2L418.5,152.8L418.7,155.2L418.1,156.6L416.9,155.4Z"/>
<path fill="#ff7f0e" d="M395.9,151.9L391.8,151.6L387.8,151.4L383.3,151.2L380.7,152.8L381.7,155.4L382.9,154.9L386.1,155.4L386.9,156.1L385.5,157.5L385.3,160.6L384.3,160.8L385.3,164.1L384.5,166.5L386.7,167.9L388.2,169.3L390.6,167.7L395,167.7L398.1,165.6L399.9,163L398.9,161.1L401.3,158L404,156.6L406,155.2L405.8,154L402.9,154L400.9,153.3L398.5,153.3ZM404.4,160.8L405.8,160L406.4,160.8L405.6,161.6Z"/>
<path fill="#ff7f0e" d="M381.7,155.4L382.9,154.9L386.1,155.4L386.9,156.1L385.5,157.5L385.3,160.6L384.3,160.8L385.3,164.1L384.5,166.5L381.5,167L381.7,163.7L380.3,162.7L381.5,159.4Z"/>
<path fill="#ff7f0e" d="M414.7,150.9L413.7,150L412.9,147.9L413.7,146L415.5,145.7L416.5,144.8L417.7,146.2L418.3,144.8L420.6,144.3L420.8,143.6L424.2,143.4L424.6,144.1L427.2,144.6L427,146.2L427.4,146.7L424.4,147.4L424.6,150L427,151.4L428.3,154.2L430.3,155.4L432.3,155.4L431.9,156.6L435.9,158.5L437,159.7L436.6,160.4L433.9,158.7L432.9,160.6L434.1,162.3L432.9,163.7L431.9,164.9L431.3,164.6L431.7,163L432.3,161.8L431.3,159.9L429.5,158.5L428.3,158L425.8,157.1L424.2,155.7L422.2,154.2L420.8,152.8L420.2,150.7L417.3,149.5L416.1,150.5ZM424.6,164.6L426.4,164.1L431.1,163.9L430.1,167.7L427.9,166.7L424.8,165.6ZM416.1,157.8L418.1,157.1L419.3,158.7L418.9,161.8L417.7,162L416.5,162.3L416.5,159.2Z"/>
<path fill="#ff7f0e" d="M413.7,128.5L416.7,127.8L416.9,124.7L418.7,124.9L419.8,125.9L421.8,126.9L424.8,125.9L426.8,125.7L428.3,127.1L428.7,128.7L428.1,129.5L429.3,130.9L429.3,132.3L429.9,133.9L428.5,133.9L424,135.6L424.8,137L427.4,139.1L425.4,140.8L425.8,142.2L424.2,142L420.8,142.4L418.9,142.2L416.7,141.7L414.9,142L416.1,138.7L412.5,137.5L411.9,136.1L412.3,135.6L411.9,134.4L411.6,132.1L413.3,131.1L413.7,130.2L414.1,128.7Z"/>
<path fill="#ff7f0e" d="M406.4,133L407.8,131.6L409,129.2L410.6,128.3L413.7,128.5L414.1,128.7L413.7,130.2L413.3,131.1L411.6,132.1L411.9,134.4L411,134.4L409.6,133L408.2,133Z"/>
<path fill="#ff7f0e" d="M404.7,133.7L406.4,133L408.2,133L409.6,133L411,134.4L411.9,134.4L412.3,135.6L411.9,136.1L411.2,137.5L409.2,136.1L408,136.3L406,134.6Z"/>
<path fill="#ff7f0e" d="M411.9,145.3L413.3,145.7L413.7,146L415.5,145.7L416.5,144.8L417.7,146.2L418.3,144.8L420.6,144.3L420.8,143.6L418.9,142.2L416.7,141.7L414.9,142L413.5,142.7Z"/>
<path fill="#ff7f0e" d="M418.9,142.2L420.8,143.6L424.2,143.4L424.6,144.1L427.2,144.6L428.9,144.8L431.9,143.9L432.1,143.6L432.9,142.2L434.1,141L433.7,139.6L429.9,138.7L427.4,139.1L425.4,140.8L425.8,142.2L424.2,142L420.8,142.4Z"/>
<path fill="#2ca02c" d="M424,135.6L428.5,133.9L429.9,133.9L432.5,135.1L433.7,135.4L437.6,137.5L434.3,138.9L433.7,139.6L429.9,138.7L427.4,139.1L424.8,137Z"/>
<path fill="#2ca02c" d="M433.7,139.6L434.3,138.9L437.6,137.5L440,138.2L445.1,138.4L444.3,140.1L441,139.8L437.6,141.5L434.1,141Z"/>
<path fill="#2ca02c" d="M428.3,127.1L431.9,126.2L435.9,125L437.2,125.9L439.2,125.9L445.7,125.9L447.1,126.9L447.9,129.9L447.3,131.3L447.3,132.8L448.3,134.4L445.1,138.4L440,138.2L437.6,137.5L433.7,135.4L432.5,135.1L429.9,133.9L429.3,132.3L429.3,130.9L428.1,129.5L428.7,128.7Z"/>
<path fill="#ff7f0e" d="M432.1,143.6L432.9,142.2L434.1,141L437.6,141.5L441,139.8L444.3,140.1L445.9,141L440.6,145.5L437.6,146L434.9,146L432.9,144.6Z"/>
<path fill="#ff7f0e" d="M427.2,144.6L428.9,144.8L431.9,143.9L432.1,143.6L432.9,144.6L431.1,146.2L427,146.9L427.4,146.7L427,146.2Z"/>
<path fill="#2ca02c" d="M427,146.9L427.6,148.6L428.5,147.4L429.9,149.3L430.5,150L432.7,151.6L434.9,152.8L437,154.2L436.8,153.8L435.1,152.6L434.5,151.9L432.5,150.2L431.5,148.6L431.5,147.6L433.7,147.6L438,148.3L438,147.6L437.6,146L434.9,146L432.9,144.6L431.1,146.2Z"/>
<path fill="#2ca02c" d="M431.5,147.6L433.7,147.6L438,148.3L438.8,149.8L439,151.6L438.4,151.6L437,153.8L435.1,152.6L434.5,151.9L432.5,150.2L431.5,148.6Z"/>
<path fill="#ff7f0e" d="M438,147.6L437.6,146L440.6,145.5L443,147.6L445.1,149L445.5,150L444.9,152.8L444.9,154.5L443,154.7L441.2,155.4L440,153.5L438.4,151.6L439,151.6L438.8,149.8L438,148.3Z"/>
<path fill="#2ca02c" d="M437,154.2L437,153.8L438.4,151.6L440,153.5L438.8,155.4Z"/>
<path fill="#2ca02c" d="M438.8,155.4L440,153.5L441.2,155.4L441,156.8L442,158L441.4,159.7L440,160.6L438.6,159L439,156.8Z"/>
<path fill="#2ca02c" d="M441.2,155.4L443,154.7L444.9,154.5L446.1,156.8L445.5,157.3L442,158L441,156.8Z"/>
<path fill="#ff7f0e" d="M440,160.6L441.4,159.7L442,158L445.5,157.3L446.1,156.8L449.1,156.4L452.8,155.9L453.4,156.8L452.1,158.2L448.9,157.8L448.1,159.2L445.9,158.7L445.3,160.4L446.5,162L448.1,164.1L448.1,165.3L446.3,164.9L446.5,166.3L445.9,168.2L444.9,168.2L443.4,167.5L442.2,165.1L443.4,163.9L442,163.7L441.4,162.5ZM447.1,170.5L450.1,170.8L452.8,171.2L450.1,171.9L447.1,171.2Z"/>
<path fill="#2ca02c" d="M445.5,150L448.1,151.2L454.2,150.2L457.4,151.2L456.2,155.2L452.8,155.9L449.1,156.4L446.1,156.8L444.9,154.5L444.9,152.8Z"/>
<path fill="#ff7f0e" d="M440.6,145.5L445.9,141L449.9,141.7L453.4,140.3L456.4,144.3L456.6,146.9L459.6,147.4L457.4,151.2L454.2,150.2L448.1,151.2L445.5,150L445.1,149L443,147.6Z"/>
<path fill="#2ca02c" d="M453.4,140.3L456.2,140.3L458.6,141.3L460.5,144.8L456.6,146.9L456.4,144.3Z"/>
<path fill="#d62728" d="M444.3,140.1L445.1,138.4L448.3,134.4L447.3,132.8L451.1,131.8L461.3,133.2L463.9,131.3L467.9,130.6L471.4,135.4L476.4,136.5L480.7,137.2L480.1,141.3L476.9,143.1L470.4,145L467.3,145.5L470.4,146.4L473.6,147.2L471.2,148.1L467.5,149.5L465.3,147.2L466.7,145.5L463.3,144.3L461.7,144.6L459.6,147.4L456.6,146.9L460.5,144.8L458.6,141.3L456.2,140.3L453.4,140.3L449.9,141.7L445.9,141Z"/>
<path fill="#2ca02c" d="M447.3,132.8L447.3,131.3L447.9,129.9L447.1,126.9L451.7,124.7L453.4,122.8L456.6,121.9L462.1,123.1L462.3,125.2L465.7,128L463.9,131.3L461.3,133.2L451.1,131.8Z"/>
<path fill="#2ca02c" d="M442.2,123.8L442,121.9L449.9,121.2L453.4,122.8L451.7,124.7L447.1,126.9L445.7,125.9L445.5,124.5Z"/>
<path fill="#2ca02c" d="M442,121.9L442,119.8L443.4,118.4L446.1,119.8L448.7,119.3L448.9,117.7L455,118.6L456.6,121.9L453.4,122.8L449.9,121.2Z"/>
<path fill="#2ca02c" d="M448.9,117.7L447.1,115.8L446.9,114.6L451.7,113.6L456.6,114.1L455,115.8L455,118.6ZM444.1,116.2L446.1,116L445.7,117.2L444.1,117.4Z"/>
<path fill="#2ca02c" d="M460.2,89.8L466.3,90.5L472.4,91L482.5,95L482.5,97.4L476.4,98.5L466.3,96.9L470,102.1L474.4,103.3L480.5,101.6L480.5,98.5L488.6,98.1L488.6,92.6L492.6,93.8L494.7,96.4L506.8,92.6L517,91.9L522,89.6L529.1,90.8L535.2,92.4L538.2,87L535.2,83.2L546.3,82.5L546.3,86.7L549.4,92.6L545.3,97.8L549.4,95L551.4,83.2L561.5,83.2L565.5,87.9L569.6,80.8L575.7,77.3L591.9,74.9L610.1,70.9L616.2,73.8L628.3,76.1L629.3,80.8L614.1,81.5L628.3,80.8L642.5,82L656.7,83.2L658.7,80.8L662.8,86.7L668.8,85.6L683,83.2L703.2,85.6L723.5,89.8L743.8,89.6L744.8,91.9L760,90.3L764,91.5L774.1,95L784.9,98.5L778.2,102.1L768,99.7L762,102.1L757.9,106.8L747.8,110.3L743.8,112.7L735.6,112.7L730.6,117.4L729.6,122.1L727.5,125.2L723.5,129.2L716.8,133.9L715.4,129.2L714.4,123.3L716.4,118.6L723.5,113.9L729.6,109.2L731.6,106.8L723.5,110.3L715.4,112.7L713.4,114.4L705.3,114.4L697.2,114.4L689.1,114.4L679,122.1L674.9,125.7L681,126.9L685.6,130.4L684,136.3L683,139.8L679,146.9L673.9,151.6L668.8,153.5L664.8,153.8L664.2,154.5L664.8,152.8L665.2,148.6L668.8,148.1L672.5,140.3L664.8,141.7L663.8,139.1L657.7,136.8L654.6,130.4L649.6,128L644.5,128.5L644.1,129.7L640.9,135.6L638,137.5L635.8,136.8L630.4,135.8L622.2,138.2L614.1,135.6L606.5,133.2L599,131.6L598,136.3L591.9,136.3L585.8,134.4L577.3,138.2L576.3,138.4L572.6,136.3L569.6,134.4L561.5,133.9L555.4,128L548.3,126.9L543.3,126.4L543.3,124L539.2,123.8L531.1,125.7L523,126.9L524,133.9L520,134.9L510.9,133.9L503.8,132.8L497.7,136.3L494.3,139.8L499.5,144.6L496.7,145.7L495.7,146.9L494.7,149.3L495.7,152.8L497.7,155.4L494.7,156.4L493.3,155.4L489.6,153.5L486.6,152.3L480.5,151.9L477.5,149.5L474.4,148.1L476.4,145.7L478.5,142.9L476.9,143.1L480.1,141.3L480.7,137.2L476.4,136.5L471.4,135.4L467.9,130.6L463.9,131.3L465.7,128L462.3,125.2L462.1,123.1L456.6,121.9L455,118.6L455,115.8L456.6,114.1L457.2,113.4L460.7,112.9L457.2,111.5L455.8,111.5L460.2,108.5L463.5,105.9L461.3,103.3L459.6,101.4L460.2,99.2L458.2,96.4L460.2,94.5L457.2,92.6L458,91.3ZM439.2,125.9L440,124.5L442.2,123.8L445.5,124.5L445.7,125.9ZM503.8,84.9L504.8,82.5L510.9,77.3L521,74.2L533.1,72.6L539.2,73.1L531.1,75.4L521,77.3L514.9,80.8L512.9,84.4L515.9,87.4L507.8,87.2ZM591.9,63.6L600,68.3L612.1,69.5L608.1,66.7L602,63.6ZM676.9,76.1L689.1,77.3L703.2,76.8L695.1,74.9L683,74.5ZM761,85.6L764,86.7L769.1,86.3L766,85.3ZM687,126.2L689.7,130.4L690.1,136.3L692.1,138.7L689.1,143.4L690.1,145.7L687,145.7L687,141L687,135.1L686.6,130.4ZM494.7,63.6L510.9,63.1L525,63.1L517,65L500.8,65Z"/>
<path fill="#9467bd" d="M480.5,151.9L486.6,152.3L489.6,153.5L493.3,155.4L493.7,157.3L490.6,157.1L487.6,157.3L483.5,156.4Z"/>
<path fill="#2ca02c" d="M487.6,157.3L490.6,157.1L491.6,158.5L493.7,161.1L493.5,162.5L490.2,160.6L487.8,159.7Z"/>
<path fill="#2ca02c" d="M490.6,157.1L493.7,157.3L493.3,155.4L494.7,156.4L497.7,155.4L499.7,158.5L501.4,159L499.3,161.6L498.5,163.7L496.7,162.7L496.7,160.8L493.5,162.5L493.7,161.1L491.6,158.5Z"/>
<path fill="#2ca02c" d="M499.5,144.6L494.3,139.8L497.7,136.3L503.8,132.8L510.9,133.9L520,134.9L524,133.9L523,126.9L531.1,125.7L539.2,123.8L543.3,124L543.3,126.4L548.3,126.9L555.4,128L561.5,133.9L569.6,134.4L572.6,136.3L576.3,138.4L573,140.1L572.6,143.1L567.6,142.9L566.2,146.9L562.1,148.1L563.1,152.3L561.9,154.7L559.9,153.3L555.4,153.1L551.4,153.1L548.5,152.8L548.3,154L543.3,154L543.3,154.5L542.3,155.2L539.2,156.6L537.6,158L537.2,157.5L534.2,155.4L533.1,155.2L533.4,152.8L530.9,151.2L525,151.6L523,149.8L518.2,146.7L512.9,148.1L512.9,156.8L511.7,156.8L510.5,155.2L506.8,155.2L505.6,155.9L505.8,154L502.8,152.8L501.4,149.8L503.2,149.3L502.8,148.1L506.8,147.4L506.8,143.9L502.8,143.4Z"/>
<path fill="#2ca02c" d="M512.9,156.8L512.9,148.1L518.2,146.7L523,149.8L525,151.6L530.9,151.2L533.4,152.8L533.1,155.2L534.2,155.4L537.2,157.5L537.6,158L539.2,156.6L542.3,155.2L543.3,154.5L514.9,156.8L516.7,154.7L518,153.5L521.6,154.7L521.2,156.6L524.8,157.1L526.1,159.9L530.1,162.5L534.2,166.3L536.8,166.5L537.6,163.9L536,161.6L538.2,161.1L539.2,159.4L539.8,158L542.1,157.5L542.5,159.4L544.7,159.4L547.3,158L543.3,154.5Z"/>
<path fill="#d62728" d="M505.6,155.9L506.8,155.2L510.5,155.2L511.7,156.8L512.9,156.8L514.9,156.8L516.7,154.7L518,153.5L521.6,154.7L521.2,156.6L524.8,157.1L526.1,159.9L530.1,162.5L534.2,166.3L530.1,168.6L527.1,169.8L525.7,171L523.4,170.3L523.4,167.9L519.6,165.8L517,165.3L512.9,164.4L508.6,166.3L508.6,162.5L506.8,161.1L507.4,158.2L506.4,157.1Z"/>
<path fill="#2ca02c" d="M543.3,154L548.3,154L548.5,152.8L551.4,153.1L555.4,153.1L559.9,153.3L561.9,154.7L557.5,157.5L555,157.5L553.2,159.2L549.4,159.7L548.9,161.1L544.9,161.3L540,160.8L542.5,159.4L544.7,159.4L547.3,158L543.3,154.5Z"/>
<path fill="#ff7f0e" d="M536.8,166.5L537.6,163.9L536,161.6L538.2,161.1L539.2,159.4L539.8,158L542.1,157.5L542.5,159.4L540,160.8L544.9,161.3L548.9,161.1L551.2,163.4L551.2,166.5L548.3,166L544.5,167.7L543.9,164.6L541.9,163.7L541.7,165.6L539.8,166.7L537.2,167Z"/>
<path fill="#ff7f0e" d="M577.3,138.2L577.7,139.6L583.2,143.4L583.8,147.6L592.9,150L594.7,153.5L603,153.5L612.1,156.1L622.2,153.5L625.3,151.4L626.1,148.1L630.4,148.1L637.2,144.8L642.1,144.1L639.5,141.3L634.4,141.5L633.4,140.5L635.8,136.8L630.4,135.8L622.2,138.2L614.1,135.6L606.5,133.2L599,131.6L598,136.3L591.9,136.3L585.8,134.4L577.3,138.2Z"/>
<path fill="#ffffff" d="M452.3,158.2L452.8,155.9L456.2,155.2L458.4,157.1L463.3,156.8L467.3,155.2L470.4,154.9L473.4,156.8L477.5,157.5L483.5,156.4L487.6,157.3L487.8,159.7L490.2,160.6L488.8,161.3L489.6,163.9L489.2,164.9L490.2,166.5L485.4,166.7L480.5,167.5L476.4,167.5L473.8,167.5L473.6,168.9L472.2,169.6L472.8,167.9L469.6,167.5L465.9,169.3L464.3,168.2L461.5,167.5L460.9,168.6L458.2,167.7L456.2,167.7L454.8,167L454.6,164.9L452.8,163.9L454,163.4L453.6,161.6L452.4,161.1L452.6,159.9L454.8,159L458.2,159L460,158.2L458.4,157.5L455.2,157.7L453.6,159Z"/>
<path fill="#2ca02c" d="M464.9,171.7L466.3,170.9L469.6,170L468.4,171.7L466.3,172.6Z"/>
<path fill="#ff7f0e" d="M472.2,169.6L473.6,168.9L473.8,167.5L476.4,167.5L480.5,167.5L485.4,166.7L483.1,168.4L482.9,172.2L478.1,175.5L474,178.1L472.2,177.1L472,175.7L473.6,173.6L472.4,172.6Z"/>
<path fill="#ff7f0e" d="M470.6,176.2L472,175.7L473.6,173.6L472.4,172.6Z"/>
<path fill="#ff7f0e" d="M469,180.4L470.2,184.7L471.2,181.1L471.4,177.8L472.2,177.1L472,175.7L470.6,176.2L469.8,178.8Z"/>
<path fill="#ff7f0e" d="M470.3,184.9L472.4,185.4L475.4,183.5L474.4,180L478.5,178.8L478.1,175.5L474,178.1L472.2,177.1L471.4,177.8L471.2,181.1Z"/>
<path fill="#ff7f0e" d="M485.4,166.7L490.2,166.5L491.4,169.6L492.6,171.5L491.6,174.1L493.3,176.4L496.3,179.3L496.1,181.1L497.7,183.7L496.5,183.5L494.7,183.7L493.7,185.6L490,185.4L484.6,180.9L481.3,179L478.5,178.8L478.1,175.5L482.9,172.2L483.1,168.4Z"/>
<path fill="#ff7f0e" d="M493.7,185.6L494.7,183.7L496.5,183.5L497.5,187L495.9,187Z"/>
<path fill="#ff7f0e" d="M470.2,184.9L472.4,185.4L475.4,183.5L474.4,180L478.5,178.8L481.3,179L484.6,180.9L490,185.4L493.7,185.6L495.9,187L497.5,187L498.7,189.4L501.2,192L502.4,195.8L503.4,196.2L504,197.2L506,200.3L511.3,200.7L512.1,202.4L510.9,207.1L504.8,209.5L498.7,210.4L497.1,211.3L494.7,214.4L488.6,213.2L487,213.2L486.2,215.6L484.6,211.8L482.1,207.6L478.9,203.6L477.5,198.1L474.8,194.8L471.4,189.4L469.6,188Z"/>
<path fill="#ff7f0e" d="M486.2,215.6L487,213.2L488.6,213.2L494.7,214.4L497.1,211.3L498.7,210.4L504.8,209.5L507,215L505.2,217.5L498.7,221.3L490.6,224.1L487.6,224.3L487,222.9L486.2,218.9Z"/>
<path fill="#ff7f0e" d="M507,215L504.8,209.5L510.9,207.1L512.1,202.4L511.3,200.7L512.9,197.4L513.7,195.5L518.2,198.6L520.6,201.2L518,206.2L516.5,209.5L513.5,212.1L510.9,214.2Z"/>
<path fill="#ff7f0e" d="M504,197.2L506,200.3L511.3,200.7L512.9,197.4L513.7,195.5L513.3,192.9L510.9,194.8L509.9,196.7L505.8,197.2Z"/>
<path fill="#ff7f0e" d="M502.4,195.8L502.4,193.9L503.4,192.7L504,194.6L503.4,196.2Z"/>
<path fill="#ff7f0e" d="M488.8,161.3L490.2,160.6L493.5,162.5L496.7,160.8L496.7,162.7L498.5,163.7L500.8,166L503.8,167.7L508.9,167.2L508.6,166.3L512.9,164.4L517,165.3L519.6,165.8L523.4,167.9L523.4,170.3L523,174.1L522.2,176.4L522.8,180L524.6,180.2L522.8,184L526.7,187.7L527.7,190.1L527.5,191.5L524.2,194.8L519,194.4L515.5,193.9L514.7,190.3L513.5,190.1L510.3,191.8L506.8,191.3L503.8,188.7L502.4,186.1L501,183L498.5,182.6L497.7,183.7L496.1,181.1L496.3,179.3L493.3,176.4L491.6,174.1L492.6,171.5L491.4,169.6L490.2,166.5L489.2,164.9L489.6,163.9Z"/>
<path fill="#ff7f0e" d="M523.4,170.3L525.7,171L527.1,169.8L530.1,168.6L534.2,166.3L536.8,166.5L537.2,167L539.8,166.7L541.7,165.6L541.9,163.7L543.9,164.6L544.5,167.7L548.3,166L551.2,166.5L549.4,167.5L544.5,168.4L543.5,173.8L541,174.1L541.9,175.7L539.8,179L537.2,179.5L534,181.4L533.8,183.7L529.1,184.7L526.1,184.9L522.8,184L524.6,180.2L522.8,180L522.2,176.4L523,174.1L523.4,170.3Z"/>
<path fill="#2ca02c" d="M522.8,184L526.1,184.9L529.1,184.7L533.8,183.7L534,181.4L537.2,179.5L539.8,179L541.9,175.7L541,174.1L543.5,173.8L544.5,168.4L549.4,167.5L551.2,166.5L553.4,168.2L557,170.5L555.2,172.4L549.4,172.4L549.4,176.4L552.2,178.1L550.4,180.9L547.3,183.7L545.1,188.5L542.1,188.2L540.2,190.6L543.1,193.6L543.3,196.7L538.8,197L537.6,198.4L535.2,195.8L534.2,194.4L530.1,194.8L524.2,194.8L527.5,191.5L527.7,190.1L526.7,187.7L522.8,184Z"/>
<path fill="#2ca02c" d="M537.6,198.4L538.8,197L543.3,196.7L543.1,193.6L540.2,190.6L542.1,188.2L545.1,188.5L547.3,183.7L550.4,180.9L552.2,178.1L549.4,176.4L549.4,172.4L555.2,172.4L557,170.5L559.3,173.4L559.5,177.6L558.9,180.4L563.5,183L561.7,186.3L564.5,188.2L568.2,189.6L571.6,191.1L577.9,192L577.9,188.5L579.3,189.9L579.7,191.3L585.8,191.1L586,189.4L585.8,188.7L589.9,185.4L594.3,184.9L596.5,187.7L594.1,189.9L592.3,191.8L591.1,195.3L588.4,197.7L588.6,201.9L587,202.6L586.4,198.4L584.2,198.4L585,197.2L586.6,195.3L581.3,194.6L581.3,192.9L578.5,191.8L577.9,193.4L579.5,194.8L577.9,196.5L579.3,199.5L579.7,202.6L575.7,203.6L575.3,206.4L571.8,208.8L566.2,214.9L561.9,217.7L562.1,223.4L561.1,230L559.5,232.4L557.9,233.3L556.5,235.2L554,230.9L551,223.9L548.3,216.5L546.9,209.5L546.5,204.7L546.3,203.1L545.5,204.5L542.9,205.4L539,201.7L541.9,200L538.2,199.1Z"/>
<path fill="#2ca02c" d="M561.7,186.3L563.5,183L566,183.3L569.6,186.1L573.6,188.2L577.9,188.5L577.9,192L571.6,191.1L568.2,189.6L564.5,188.2Z"/>
<path fill="#2ca02c" d="M579.3,189.9L581.3,187.7L585,188.5L586,189.4L585.8,191.1L579.7,191.3Z"/>
<path fill="#ff7f0e" d="M587,202.6L586.4,198.4L584.2,198.4L585,197.2L586.6,195.3L581.3,194.6L581.3,192.9L578.5,191.8L577.9,193.4L579.5,194.8L577.9,196.5L579.3,199.5L579.7,202.6L582.4,202.6L583,201.2L585.4,201.7L586.4,205.4Z"/>
<path fill="#ff7f0e" d="M561.3,231.4L562.1,231.6L564.1,234.2L565.3,237.1L564.7,239.2L562.7,240.4L561.3,238.7L560.9,235.4Z"/>
<path fill="#ff7f0e" d="M664.2,154.5L664.8,152.8L665.2,148.6L668.8,148.1L672.5,140.3L664.8,141.7L663.8,139.1L657.7,136.8L654.6,130.4L649.6,128L644.5,128.5L644.1,129.7L640.9,135.6L638,137.5L635.8,136.8L633.4,140.5L634.4,141.5L639.5,141.3L642.1,144.1L637.2,144.8L630.4,148.1L626.1,148.1L625.3,151.4L622.2,153.5L612.1,156.1L603,153.5L594.7,153.5L592.9,150L583.8,147.6L583.2,143.4L577.7,139.6L577.3,138.2L576.3,138.4L573,140.1L572.6,143.1L567.6,142.9L566.2,146.9L562.1,148.1L563.1,152.3L561.9,154.7L557.5,157.5L555,157.5L553.2,159.2L549.4,159.7L548.9,161.1L551.2,163.4L551.2,166.5L553.4,168.2L557,170.5L559.3,173.4L559.5,177.6L558.9,180.4L563.5,183L566,183.3L569.6,186.1L573.6,188.2L577.9,188.5L579.3,189.9L581.3,187.7L585,188.5L585.8,188.7L589.9,185.4L594.3,184.9L596.5,187.7L599.4,189.2L599.4,192.9L597.1,195.8L597.5,197.9L599.8,199.5L600.4,202.1L602.2,203.6L604.4,204.3L605.6,204.3L605.6,201.2L606.5,201.4L609.1,200.7L612.7,199.3L615.6,200.5L618.2,203.6L621.4,203.6L621.6,206.4L622.9,206.4L623.3,204.3L629.3,201.9L630.8,201.7L635.8,199.3L638.7,196.5L641.7,192.9L643.9,188.2L646.3,183.7L644.1,182.8L646.3,180.7L644.3,177.4L643.1,173.4L640.9,171.7L643.1,169.1L647.8,166L645.3,165.6L640.5,166.3L638.5,164.1L638,162L641.1,161.1L644.5,158L647,158.7L645.7,162.5L651.4,160.1L654.6,157.1L656.5,155.7L658.7,156.4L658.7,155.2L662.1,154L664.2,154.5ZM619.6,209L621.4,207.1L624.3,207.3L623.3,210.2L621.2,211.3L619.6,210.4Z"/>
<path fill="#ff7f0e" d="M645.5,194.8L646.5,195.8L644.3,202.4L642.7,200L643.9,196.5Z"/>
<path fill="#ff7f0e" d="M651.4,160.1L654.6,157.1L656.5,155.7L658.7,156.4L658.7,155.2L662.1,154L664.2,154.5L662.1,157.5L657.7,160.4L659.5,163.2L656.1,165.1L652.6,165.1L653.2,163L652.8,160.8Z"/>
<path fill="#ff7f0e" d="M656.1,165.1L659.5,163.2L661.5,167L661.5,170.5L660.7,171.5L657.7,172.4L655.3,172.9L655.5,168.2L655.9,167Z"/>
<path fill="#ff7f0e" d="M685.8,156.6L687,161.1L685,163.9L684.8,167.2L684.6,170L682.8,171.9L681.4,171.5L680.6,172.6L677.9,172.6L676.7,173.4L674.5,175.2L673.3,172.6L669.8,173.1L667.6,173.4L664.6,174.1L665.8,172.6L668.8,170.5L673.5,170.3L674.9,169.3L676.5,166.3L677.5,167.5L680,166L682,163.4L683,159.9L683,158.5L683.6,157.1ZM683.4,156.4L683,154L683.6,152.1L685.8,152.1L686.4,147.2L689.1,149.3L693.7,149.8L694.3,152.1L691.1,153.1L689.5,155.2L686.6,153.8L684.8,154.2L685,155.7ZM664.6,174.3L666.2,175L666.8,176.9L665.4,180.2L664,180.9L663.2,178.8L662.1,176.9L662.3,175.2ZM667.8,174.1L671.5,173.4L672.3,174.5L671.3,175.7L668.8,176.9L667.4,175.5Z"/>
<path fill="#ff7f0e" d="M586.4,205.4L587,202.6L588.6,201.9L588.4,197.7L591.1,195.3L592.3,191.8L594.1,189.9L596.5,187.7L599.4,189.2L599.4,192.9L597.1,195.8L597.5,197.9L599.8,199.5L600.4,202.1L602.2,203.6L604.4,204.3L602.2,206.4L600,207.1L598,207.8L597.3,210.6L599.4,214.2L598.4,218.4L600.4,223.6L601.2,226.5L599.4,230.7L599,226L598.2,222L597.3,217L596.3,214.7L593.9,215.4L592.5,217L590.5,216.5L590.9,212.3L589.4,208.3L587.6,206.4Z"/>
<path fill="#2ca02c" d="M599.4,230.7L601.2,226.5L600.4,223.6L598.4,218.4L599.4,214.2L597.3,210.6L598,207.8L600,207.1L602.2,206.4L603.2,208.3L604.4,208.3L604,212.3L606.3,211.3L607.5,212.1L610.1,211.1L611.7,213.2L611.7,215.6L613.3,217.7L613.1,220.3L611.9,220.6L608.1,220.6L606.9,222.2L607.9,226.7L606,224.8L604,224.3L603.8,222.7L603,222.4L602,222.9L601.8,226L600.4,229.5L600.6,232.6L602,234.2L602.8,237.3L605.2,238L606.3,239.7L604.2,240.8L602.4,239L600.6,236.8L598.6,235.7L598.6,233.1Z"/>
<path fill="#ff7f0e" d="M604.4,204.3L605.6,204.3L605.6,201.2L606.5,201.4L607.9,203.1L610.1,205L611.3,206.2L610.1,208L612.5,210.4L615.4,214.4L617.2,216.8L617.4,219.6L617.2,220.3L614.1,220.6L613.1,220.3L613.3,217.7L611.7,215.6L611.7,213.2L610.1,211.1L607.5,212.1L606.3,211.3L604,212.3L604.4,208.3L603.2,208.3L602.2,206.4L602.2,203.6Z"/>
<path fill="#ff7f0e" d="M606.5,201.4L609.1,200.7L612.7,199.3L615.6,200.5L618.2,203.6L615.6,205.4L613.7,209.5L615.2,212.5L618.6,216.3L620.6,221.7L620.8,226L618.2,229L615.8,230L612.5,234L611.9,231.2L611.1,229.8L612.3,228.3L614.6,228.3L613.9,226.7L617.2,225.3L617.2,220.3L617.4,219.6L617.2,216.8L615.4,214.4L612.5,210.4L610.1,208L611.3,206.2L610.1,205L607.9,203.1L606.5,201.4Z"/>
<path fill="#ff7f0e" d="M607.9,226.7L606.9,222.2L608.1,220.6L611.9,220.6L613.1,220.3L614.1,220.6L617.2,220.3L617.2,225.3L613.9,226.7L614.6,228.3L612.3,228.3L611.1,229.8L609.3,229.5L608.3,228.3Z"/>
<path fill="#ff7f0e" d="M602.4,239L604.2,240.8L606.3,239.7L608.9,243.7L609.1,247.7L610.5,251L609.1,251.2L604.6,247.7L603.2,244.4L602.6,241.3ZM621.4,249.8L622.9,250.3L624.7,251L625.1,248.6L628.3,246.7L630.4,243.4L633.6,241.3L635.8,237.8L637.8,239.7L640.9,241.8L638.9,244.2L637.6,244.4L633.6,244.4L633.8,247.2L631.6,250.8L628.3,251L625.9,252.2L623.3,252.2L621.4,249.8Z"/>
<path fill="#ff7f0e" d="M592.5,241.1L596.9,242L599.4,245.6L602.8,249.1L605,250.3L608.9,253.1L609.3,256.7L611.3,258.8L614.1,261.4L613.7,268L611.3,268L606.7,263.7L602.8,256.7L599.4,250.3L596.3,246.7L592.9,243ZM612.5,270.3L614.4,268.2L619,270.1L623.3,270.6L624.3,269.4L627.5,270.6L631.4,272.5L631.2,274.8L625.9,273.9L619.4,272.7L615,271.8ZM621.4,249.8L623.3,252.2L625.9,252.2L628.3,251L631.6,250.8L633.8,247.2L633.6,244.4L637.6,244.4L638.5,248.9L640.5,251.9L638,252.4L637.4,256.2L635.4,257.8L634.8,262.1L634.4,263.7L631.6,264L629.3,262.3L625.9,262.6L622.7,261.1L622.2,257.8L620.4,255.5L620,252.2ZM642.1,252.4L644.1,251.2L648.6,252.2L653,250.8L651.2,253.4L644.5,253.1L642.9,254.3L642.7,256.4L645.5,256.4L649.2,256.4L645.7,258.8L647.4,262.1L649,264.9L646.5,265.6L645.5,263.7L644.3,260.7L643.3,262.6L643.3,267.5L641.3,267.3L641.5,262.6L640.1,260.7L642.1,254.5ZM665.2,256.2L668.4,255.2L670.8,256.2L671.3,259.7L672.9,262.1L677.9,258.1L685,260.4L685,275.8L681,273.4L679.4,274.1L678.5,271.5L680.6,270.3L679,267.3L673.9,264.7L668.8,264L668.4,260.9L669.8,260.2L666.8,260.9L666.6,258.1L664.6,257.6ZM631.4,273.7L635.8,273.9L640.5,274.1L648.2,273.9L648.2,275.1L640.5,275.1L634.4,275.3L631.6,274.8ZM649.6,278.6L651.6,276L652.6,277.2ZM657.7,251.9L658.7,249.6L659.7,251.9L658.7,255.5ZM658.7,261.1L664.4,262.1L661.7,262.6L658.7,262.3ZM641.1,276.7L644.1,277.7L642.5,278.4Z"/>
<path fill="#ff7f0e" d="M651.6,276L657.3,274.1L656.3,275.5L652.6,277.2Z"/>
<path fill="#ff7f0e" d="M685,260.4L692.1,263.3L694.7,266.8L698.8,268.5L699,270.1L697.2,270.6L699.2,273.9L704.9,278.6L701.2,278.4L697.6,276.7L695.1,273.4L692.1,272.2L690.1,273.9L688.7,276.2L685,275.8ZM699.8,267.5L703.2,267.3L707.7,264.2L707.9,266.1L704.3,268.9L701.2,268.9ZM704.9,260.4L708.3,263.3L709.3,265.4L708.1,263.7L705.1,261.1ZM712.8,267.3L715.2,270.3L713.8,269.6Z"/>
<path fill="#2ca02c" d="M643.5,210.6L647,210.9L647.2,215.4L645.7,217.7L646.1,220.8L650.4,221.7L650.8,224.6L648.6,222.9L646.5,221.7L643.9,221.7L644.3,219.8L642.5,218.9L642.1,215.8L643.3,214.7L643.3,212.3ZM646.3,238L648.4,234.7L650.2,235.2L652,234L653.6,231.2L655.5,234.7L655.3,239.4L653.8,238.7L653.4,241.1L651,239.7L650.6,237.3L649.4,236.8ZM651.2,224.8L653.2,224.8L654,228.1L653,230.2L652.2,227.9ZM646.5,226.5L648.8,227.2L649.2,232.4L647.6,231.2L646.5,229.5ZM636.8,234.5L641.5,228.8L641.1,227.6L637.4,232.6ZM643.3,222.7L645.3,222.9L644.9,225.3L644.1,224.6Z"/>
<path fill="#ff7f0e" d="M630.4,243.4L632.8,242.5L632.8,244.2L631.4,244.9Z"/>
<path fill="#2ca02c" d="M387.6,169.8L388.8,169.6L395,171.5L396.1,172.9L397.1,178.1L392,181.4L389.4,183.5L381.9,186.6L381.9,189L372.8,189L375.2,188L378.8,185.2L379.9,182.6L379.7,180.2L380.7,177.6L384.1,175L385.7,173.8L387.4,171.2Z"/>
<path fill="#2ca02c" d="M372.8,189L370.1,192.9L367.1,198.4L365,205.2L365.1,204L370.9,204L372.4,200.7L374.2,195.8L376.8,192.5L381.9,190.6L381.9,189Z"/>
<path fill="#ff7f0e" d="M381.9,190.6L376.8,192.5L375.2,194.4L375.2,192.9L381.9,192.9ZM375.2,194.4L374.2,195.8L372.4,200.7L370.9,204L373.2,204L373.2,200L375.2,198.8Z"/>
<path fill="#ff7f0e" d="M365,205.2L365.1,204L373.2,204L373.2,200L375.2,198.8L375.2,192.9L381.9,192.9L381.9,189.9L389.8,195.3L386.3,195.3L388.4,217.7L380.7,217.7L377.8,218L376.2,217.5L374.8,219.4L372.6,216.5L370.1,215.1L366.1,216.3L367.1,211.8L366.7,208.5L366.1,207.1Z"/>
<path fill="#ff7f0e" d="M366.1,216.3L370.1,215.1L372.6,216.5L374.8,219.4L376.4,225L375.2,225L371.8,224.6L368.1,224.8L365.7,225L365.5,223.4L364.1,219.6L365.5,217.7Z"/>
<path fill="#ff7f0e" d="M365.7,225L368.1,224.8L371.8,224.6L371.8,226.7L369.1,228.6Z"/>
<path fill="#ff7f0e" d="M369.1,228.6L371.8,226.7L371.8,224.6L375.2,225L376.4,225L378.6,225.5L380.7,225L382.7,228.3L383.3,230.2L384.1,234.5L382.7,236.4L380.5,236.8L380.5,234.5L378.6,234.2L378,232.8L376.8,230.7L374.2,230.9L372.6,233.1Z"/>
<path fill="#ff7f0e" d="M372.6,233.1L374.2,230.9L376.8,230.7L378,232.8L378.6,234.2L376.2,238L374.2,236.8L372.8,234.5Z"/>
<path fill="#ff7f0e" d="M376.2,238L378.6,234.2L380.5,234.5L380.5,236.8L382.7,236.4L382.3,239L384.3,240.6L384.3,243.9L381.3,242.5L377.6,239.4Z"/>
<path fill="#ffffff" d="M384.3,243.9L384.3,240.6L382.3,239L382.7,236.4L384.1,234.5L383.3,230.2L386.9,229.3L388.4,229.8L390,231.4L393.8,231.6L394,235.7L393,239L393.8,242.3L391.4,242L387.4,243Z"/>
<path fill="#ff7f0e" d="M393.8,242.3L393,239L394,235.7L393.8,231.6L393.6,228.3L399.3,228.1L400.5,230.7L400.7,234.9L400.5,238L401.9,239.9L399.5,241.1L395.4,243Z"/>
<path fill="#ff7f0e" d="M401.9,239.9L400.5,238L400.7,234.9L400.5,230.7L399.3,228.1L401.3,228.3L401.1,230L402.3,232.4L402.7,238L402.7,239.7Z"/>
<path fill="#ff7f0e" d="M402.7,239.7L402.7,238L402.3,232.4L401.1,230L401.3,228.3L404.2,225.5L405.2,225L406.8,226.7L407.2,229.3L405.2,233.1L405,239.2Z"/>
<path fill="#2ca02c" d="M388.4,229.8L390,231.4L393.8,231.6L393.6,228.3L399.3,228.1L401.3,228.3L404.2,225.5L404,224.3L401.3,222.2L399.9,218.9L398.1,218.7L395.4,220.8L392.4,222.9L390.8,223.1L388.8,226.5L388.4,229.8Z"/>
<path fill="#ff7f0e" d="M374.8,219.4L376.2,217.5L377.8,218L380.7,217.7L388.4,217.7L386.3,195.3L389.8,195.3L401.8,204.5L401.9,205.4L406,207.6L406.2,209.5L408.1,209.1L408,214.4L406.6,218L399.9,218.9L398.1,218.7L395.4,220.8L392.4,222.9L390.8,223.1L388.8,226.5L388.4,229.8L386.9,229.3L383.3,230.2L382.7,228.3L380.7,225L378.6,225.5L376.4,225Z"/>
<path fill="#ff7f0e" d="M408.1,209.1L408,214.4L406.6,218L399.9,218.9L401.3,222.2L404,224.3L404.2,225.5L405.2,225L406.8,226.7L407.6,222.4L410.6,221.5L415.7,222.9L419.8,222.9L424.8,223.6L427,222L426.8,220.3L430.9,214.4L431.9,206.2L429.9,200L423.8,198.8L414.7,205L411.2,208.5Z"/>
<path fill="#ff7f0e" d="M405,239.2L405.2,233.1L407.2,229.3L406.8,226.7L407.6,222.4L410.6,221.5L415.7,222.9L419.8,222.9L424.8,223.6L427,222L428.3,225L429.1,227.2L426.4,230.7L425.4,234L423.4,237.8L420.8,237.8L419.3,238.3L417.3,240.6L416.7,243.2L413.7,243.9L411.6,244.2L409.6,240.6L408.4,239.4L406.4,239.2Z"/>
<path fill="#ff7f0e" d="M416.7,243.2L417.3,240.6L419.3,238.3L420.8,237.8L423.4,237.8L425.4,234L426.4,230.7L429.1,227.2L428.3,225L428.3,225L428.3,223.6L429.9,225.7L430.1,228.8L430.9,230.7L427.9,231.4L430.9,236.6L428.9,240.1L429.3,243.4L432.1,249.1L432.3,250.3L426.4,249.1L422.4,249.1L419.3,248.9L419.1,245.8L419.1,244.9Z"/>
<path fill="#ff7f0e" d="M419.3,248.9L422.4,249.1L422.4,251.9L418.9,251.9Z"/>
<path fill="#ff7f0e" d="M418.9,251.9L422.4,251.9L422.4,249.1L426.4,249.1L426.2,251.2L428.7,251L428.7,255.5L428.7,258.8L425.8,260L423,260L423.6,262.6L422,263.5L418.9,260L417.3,256L418.3,253.6Z"/>
<path fill="#ff7f0e" d="M422,263.5L423.6,262.6L423,260L425.8,260L428.7,258.8L428.7,255.5L428.7,251L426.2,251.2L426.4,249.1L432.3,250.3L432.1,249.1L432.9,246.7L437.2,246L435.9,249.6L435.5,254.3L432.3,259L431.9,262.6L430.3,264.4L428.7,265.9L425.8,265.2L424.2,268L423.8,266.1Z"/>
<path fill="#ff7f0e" d="M424.2,268L425.8,265.2L428.7,265.9L430.3,264.4L431.9,262.6L432.3,259L435.5,254.3L435.9,249.6L437.2,246L437.2,244.2L439,242.3L445.1,244.6L449.1,242.3L455,242.3L457,244.2L459.2,243.7L461.9,246L462.1,248.6L462.9,249.3L460,252.9L459.4,257.6L458.6,260.7L458.6,264.7L459.4,268.5L461.9,273.7L458,274.4L457.4,277L457,282.1L459.8,283.1L459.8,285.9L457,283.8L454.6,282.1L450.7,280.7L448.9,281L448.1,280L444.5,280.7L443.6,273.2L438.8,273.2L438,270.8L433.1,270.8L433.1,268.2L426.2,268.2L424.2,268Z"/>
<path fill="#ff7f0e" d="M424.2,268L426.2,268.2L433.1,268.2L433.1,270.8L438,270.8L438.8,273.2L443.6,273.2L444.5,280.7L448.1,280L448.1,285L444.1,285L444.1,292.5L446.9,295.8L442.8,296.8L437,295.4L427.9,295.4L423.4,295L423.4,291.6L424.8,286.2L427.4,280.3L426.2,275.1L424.4,268.7ZM423.8,266.1L424.2,268L425.8,265.2L425,264.7Z"/>
<path fill="#ff7f0e" d="M423.4,295L427.9,295.4L437,295.4L442.8,296.8L446.9,295.8L450.5,296.3L446.7,296.8L442,297.5L442,306.2L440,306.2L440,312.8L440,321.3L434.7,322L432.9,321.8L430.3,318L428.9,308.1L426.2,302.7L423.4,296.8Z"/>
<path fill="#ff7f0e" d="M450.5,296.3L446.7,296.8L442,297.5L442,306.2L440,306.2L440,312.8L441.4,317.8L446.1,314L451.1,314.7L454.2,310.2L458.8,306.7L455.6,302.7L452.6,300.8L450.5,296.3Z"/>
<path fill="#ff7f0e" d="M432.9,321.8L434.7,322L440,321.3L440,312.8L441.4,317.8L446.1,314L451.1,314.7L454.2,310.2L458.8,306.7L462.9,307.2L464.3,312.1L464.1,315.4L462.3,315.7L461.9,317.3L462.9,318.7L464.5,317.5L466.1,317.8L465.1,321.6L462.3,324.9L460.2,328.2L456,332.2L451.5,334.5L444.5,334.8L440,336.4L437,335.2L436.6,331.5L436.4,329.1L434.1,324.4Z"/>
<path fill="#2ca02c" d="M450.5,296.3L454.2,296.5L458,292.1L461.1,291.1L462.9,292.1L466.3,293.7L466.1,298L465.7,302.7L462.9,307.2L458.8,306.7L455.6,302.7L452.6,300.8L450.5,296.3Z"/>
<path fill="#ff7f0e" d="M444.1,285L448.1,285L448.1,280L448.9,281L450.7,280.7L454.6,282.1L457,283.8L459.8,285.9L459.8,283.1L457,282.1L457.4,277L458,274.4L461.9,273.7L466.1,276.5L466.7,279.8L466.9,283.8L465.7,286.4L466.7,287.3L460.7,289.7L461.1,291.1L458,292.1L454.2,296.5L450.5,296.3L446.9,295.8L444.1,292.5Z"/>
<path fill="#ff7f0e" d="M466.1,276.5L466.7,279.8L466.9,283.8L465.7,286.4L466.7,287.3L469.4,288.5L469.2,292.5L471,294.7L472,292.1L472.2,289L470.4,286.6L469.2,283.1L469.6,281.4L468.4,276.7Z"/>
<path fill="#2ca02c" d="M466.1,317.8L464.5,317.5L462.9,318.7L461.9,317.3L462.3,315.7L464.1,315.4L464.3,312.1L462.9,307.2L465.7,302.7L466.1,298L466.3,293.7L462.9,292.1L461.1,291.1L460.7,289.7L466.7,287.3L469.4,288.5L469.2,292.5L471,294.7L472,292.1L472.2,289L470.4,286.6L469.2,283.1L469.6,281.4L472,281.4L475.4,281.9L481.3,279.1L481.7,283.8L482.1,288.5L480.5,292.5L474.4,296.3L470.2,301L471.2,305L471.4,310.9L467.3,314L465.5,315.4Z"/>
<path fill="#ff7f0e" d="M481.3,279.1L475.4,281.9L472,281.4L469.6,281.4L468.4,276.7L466.1,276.5L461.9,273.7L459.4,268.5L458.6,264.7L461.3,262.6L461.9,260L461.3,256.9L468.1,256.7L475.6,261.4L478.9,265.4L478.1,268.5L479.5,270.6L479.1,273.9L480.1,277.9Z"/>
<path fill="#2ca02c" d="M478.9,265.4L475.6,261.4L468.1,256.7L468.4,253.6L469.4,251.7L470.4,249.8L468.4,244.4L472.2,243.4L472.4,243.9L476.4,245.8L479.5,246.3L482.5,245.1L484.3,245L482.5,247.7L482.5,254.3L483.7,258.3L480.9,260.7Z"/>
<path fill="#ff7f0e" d="M461.3,256.9L459.4,257.6L460,252.9L462.9,249.3L462.1,248.6L461.9,246L464.3,245.8L468.4,244.4L470.4,249.8L469.4,251.7L468.4,253.6L468.1,256.7Z"/>
<path fill="#ff7f0e" d="M459.4,257.6L461.3,256.9L461.9,260L458.6,260.7Z"/>
<path fill="#ff7f0e" d="M458.6,260.7L461.9,260L461.3,262.6L458.6,264.7Z"/>
<path fill="#ff7f0e" d="M483.7,258.3L482.5,254.3L482.5,247.7L484.3,245L486.6,243.2L490.6,242.7L496.7,235.4L488.6,233.1L486.6,232.4L486.2,228.6L487,227.2L489.6,229.8L494.7,227.9L503.4,226.5L503,229.8L500.8,235.4L496.7,243.7L492.6,248.9L491.2,249.6L487.6,253.1L485.6,255.5Z"/>
<path fill="#ff7f0e" d="M472.4,243.9L476.4,245.8L479.5,246.3L482.5,245.1L484.3,245L486.6,243.2L490.6,242.7L496.7,235.4L488.6,233.1L486.6,232.4L486.2,228.6L484.1,227.2L485.4,225L482.5,222.4L480.5,220.3L477.5,220.3L476.2,219.1L473.4,220.6L472.6,224.3L470.6,226.5L470.2,228.8L469,229.5L468.6,234L466.3,235.4L467.9,236.4L470.4,241.6L472.2,243.4Z"/>
<path fill="#ff7f0e" d="M473.4,220.6L476.2,219.1L477.5,220.3L480.5,220.3L482.5,222.4L485.4,225L486.8,224.3L482.9,220.1L479.9,218.7L479.5,217.5L477.7,211.8L474.4,213.9L474.2,215.8L473.2,218.7Z"/>
<path fill="#ff7f0e" d="M487,227.2L486.2,228.6L484.1,227.2L485.4,225L486.8,224.3L487.2,226Z"/>
<path fill="#ff7f0e" d="M477.7,211.8L475.2,204.7L474.2,202.4L450.1,202.4L450.1,207.1L448.1,207.1L448.1,217.2L445.9,217.2L445.1,221L444.1,224.3L445.9,228.3L446.1,229L447.5,233.8L448.5,233.8L450.1,230L454.2,231.6L457.8,232.1L460.2,230L463.3,231.2L465.1,226.7L466.7,225.5L466.3,230L468.4,231.9L468.6,234L468.6,234L469,229.5L470.2,228.8L470.6,226.5L472.6,224.3L473.4,220.6L473.2,218.7L474.2,215.8L474.4,213.9Z"/>
<path fill="#ff7f0e" d="M448.5,233.8L450.1,230L454.2,231.6L457.8,232.1L460.2,230L463.3,231.2L465.1,226.7L466.7,225.5L466.3,230L468.4,231.9L468.6,234L466.3,235.4L467.9,236.4L470.4,241.6L472.2,243.4L468.4,244.4L464.3,245.8L461.9,246L459.2,243.7L457,244.2L455,242.3L453,239L450.5,236.4Z"/>
<path fill="#ff7f0e" d="M429.3,243.4L428.9,240.1L430.9,236.6L432.9,235.9L437.2,235.4L438,233.1L442,231.4L445.1,228.6L446.1,229L447.5,233.8L448.5,233.8L450.5,236.4L453,239L455,242.3L449.1,242.3L445.1,244.6L439,242.3L437.2,244.2L437.2,246L432.9,246.7L432.1,249.1Z"/>
<path fill="#ff7f0e" d="M427,222L426.8,220.3L430.9,214.4L431.9,206.2L429.9,200L448.1,208.3L448.1,217.2L445.9,217.2L445.1,221L444.1,224.3L445.9,228.3L446.1,229L445.1,228.6L442,231.4L438,233.1L437.2,235.4L432.9,235.9L430.9,236.6L427.9,231.4L430.9,230.7L430.1,228.8L429.9,225.7L428.3,223.6Z"/>
<path fill="#2ca02c" d="M422.8,175.9L422.8,177.6L420.4,179.5L420.2,183L418.7,183L419.5,187.5L419.3,191.8L418.5,192.7L419.8,196.5L423.8,198.8L429.9,200L448.1,208.3L448.1,207.1L450.1,207.1L450.1,202.4L450.1,185.4L449.5,183L450.5,179.7L446.5,178.1L443.2,176.7L440.2,178.3L440,181.4L438.4,182.8L434.9,181.6L431.3,180.2L430.3,177.8L426.2,176.7Z"/>
<path fill="#ff7f0e" d="M422.8,175.9L422.8,177.6L420.4,179.5L420.2,183L418.7,183L417.7,178.5L414.7,174.5L416.3,172.4L416.1,168.2L416.9,167.1L419.3,166.3L421.8,166.7L421,168.4L421,170.3L422,171.2L420,173.4L419.8,174.3L421.8,175Z"/>
<path fill="#ff7f0e" d="M395,171.5L396.1,172.9L397.1,178.1L392,181.4L389.4,183.5L381.9,186.6L381.9,189L381.9,189.9L389.8,195.3L401.8,204.5L401.9,205.4L406,207.6L406.2,209.5L408.1,209.1L411.2,208.5L414.7,205L423.8,198.8L419.8,196.5L418.5,192.7L419.3,191.8L419.5,187.5L418.7,183L417.7,178.5L414.7,174.5L416.3,172.4L416.1,168.2L416.9,167.1L413.7,166.7L409.6,167.5L405.6,167.5L400.5,168.9L397.5,170Z"/>
<path fill="#ff7f0e" d="M450.5,179.7L449.5,183L450.1,185.4L450.1,202.4L474.2,202.4L472,197.9L469.4,193.4L467.9,189.9L466.3,187.3L465.3,183.6L465.8,183.7L466.7,185.9L467.7,187.7L468.9,188.9L470.2,184.7L469,180.4L464.9,180.4L462.3,179.7L460,180.7L454.8,180.2Z"/>
<path fill="#ff7f0e" d="M499.3,282.6L501.8,290.4L500.1,292.1L499.5,296.8L497.7,303.9L494.9,313.1L491.2,314.7L488.6,313.3L487.2,306.9L489.4,301.3L488.6,295.6L490.4,292.5L493.7,291.4L496.5,288.8L498.3,285.5Z"/>
<path fill="#ff7f0e" d="M630.8,305.7L629.1,310.9L629.3,314.5L630.8,319.2L632.4,325.1L633.8,329.8L632.4,335.2L638.2,337.1L642.5,334.3L649.6,334.3L654.6,330.5L660.7,329.1L665.2,328.6L671.3,331.5L674.7,336.4L678.5,331.2L678.1,337.4L680,336.4L679.2,338.6L682.4,341.4L684,344L690.1,345.9L692.5,344.5L696,346.6L699.2,343.7L703.2,342.8L704.9,336.9L705.9,334.1L709.1,328.6L710.5,321.8L709.7,315.7L709.7,313.3L705.3,309.8L702.2,306.2L700.2,301.5L695.8,298.9L695.1,294.4L693.7,290.9L690.7,288L689.9,283.8L688.1,279.6L686.2,284L686,289.7L684.8,295.6L682,295.8L678.5,292.1L673.9,289.7L674.9,286.2L676.5,283.1L672.9,282.9L668.8,281.7L667.8,281L664.4,283.6L662.1,289.2L660.7,289.5L658.3,287.8L654.6,287.3L651.6,292.1L649.6,295.1L647,296.8L644.5,300.6L639.7,302.2L635.8,302.9ZM692.5,350.4L696.2,351.3L699.8,350.8L699.6,353.9L698.2,356.3L695.1,357.2L693.7,353.9Z"/>
<path fill="#ff7f0e" d="M749.2,335.5L752.5,337.6L753.5,341.1L754.9,340.4L755.9,343L760,343L761,343.3L759.7,346.8L757.9,347.5L757.7,349.9L754.5,352.5L753.5,351.8L754.1,348.7L751.4,347L753.1,344.7L753.3,342.3L752.3,340L749.8,337.1ZM749.2,349.9L751.6,350.8L752.5,352.7L749.8,355.8L749.8,357.7L746.4,358.8L745.4,362.6L741.7,364.3L740.5,364.3L736.7,362.6L739.7,358.1L744.8,355.8L746.4,353.4L748,350.6Z"/>
<path fill="#ffffff" d="M731.6,301.7L734.6,303.9L737.7,306.9L736.7,306.9L732.6,303.9Z"/>
<path fill="#ff7f0e" d="M758.5,295.6L761.2,295.6L761,297.3L758.7,297Z"/>
<path fill="#ff7f0e" d="M716.4,270.1L719.5,272.2L723.1,274.1L725.5,277.4L724.1,277.4L720.5,274.4Z"/>
<path fill="#ff7f0e" d="M736.9,289.2L738.1,291.1L739.3,293.2L738.3,293L737.1,290.9Z"/>
<path fill="#ffffff" stroke-width="1.0" d="M34.7,453.9L46.3,450.2L62.1,451.8L68.4,447.6L81.1,444.5L78.9,438.2L89.5,440.3L97.9,435L112.6,432.5L129.5,430.8L142.1,428.7L156.8,429.7L171.6,430.8L186.3,431.8L192.6,426.6L201.1,425.5L213.7,427.6L226.3,426.6L238.9,428.7L246.3,426.6L249.5,421.3L257.9,417.1L266.3,411.8L274.7,405.5L283.2,402.4L287.4,404.5L278.9,407.6L272.6,411.8L270.5,416.1L275.8,420.3L276.8,426.6L272.6,431.8L262.1,435L251.6,436.1L243.2,437.1L230.5,439.6L238.9,442.4L247.4,445.5L257.9,440.9L266.3,444.5L274.7,451.8L283.2,450.2L293.7,447.6L306.3,448.7L314.7,446.6L323.2,444.5L329.5,440.3L340,437.1L348.4,435L356.8,431.8L365.3,427.6L377.9,423.4L394.7,421.3L400,421.9L421.1,420.7L437.9,421.3L452.6,421.9L465.3,417.1L477.9,419.8L488.4,415L501.1,411.4L509.5,409.7L517.9,412.9L530.5,414.4L540,415L538.9,420.3L534.7,427.6L543.2,423.4L551.6,418.2L562.1,414.4L572.6,411.8L589.5,410.8L606.3,409.3L618.9,411.8L627.4,409.7L633.7,413.5L648.4,411.8L663.2,410.4L677.9,410.8L690.5,412.9L698.9,415.6L711.6,416.5L724.2,419.2L728.4,421.9L745.3,424.1L741.1,428.7L728.4,432.5L732.6,437.1L742.1,438.2L728.4,440.3L722.1,444.5L728.4,448.7L745.3,451.8L763.2,453.7ZM291.6,444.5L295.8,439.6L304.2,438.2L311.6,440.3L310.5,443.8L302.1,445.5Z"/>
<path fill="#2a2a2a" stroke-width="0.5" d="M83.4,208L84.6,206.9L85.8,208L84.6,209.2ZM82.4,205.2L83,204.7L83.6,205.2L83,205.7ZM79.1,203.8L79.8,203.3L80.4,203.8L79.8,204.3ZM76,202.4L76.5,201.9L77,202.4L76.5,202.9ZM214.2,255.7L215.2,254.8L216.2,255.7L215.2,256.7ZM216.2,255.7L216.6,255.2L217,255.7L216.6,256.2ZM274.1,216.1L274.6,215.5L275.1,216.1L274.6,216.7ZM275,218L275.4,217.4L275.8,218L275.4,218.5ZM275.6,219.8L276,219.3L276.4,219.8L276,220.4ZM275.7,221.5L276,221L276.3,221.5L276,222ZM275.3,223.1L275.6,222.7L275.9,223.1L275.6,223.6ZM274.3,225.7L274.6,225.4L274.9,225.7L274.6,226.1ZM278.5,223.3L278.8,222.9L279.1,223.3L278.8,223.6ZM274.5,229.8L275.4,228.9L276.3,229.8L275.4,230.6ZM271.9,213.5L272.3,213.1L272.7,213.5L272.3,213.8ZM267.9,212.4L268.3,212.2L268.7,212.4L268.3,212.6ZM271.5,211.6L271.9,211.3L272.3,211.6L271.9,211.8ZM240.9,197L241.8,195.5L242.6,197L241.8,198.4ZM242.5,191.8L243.2,190.9L243.9,191.8L243.2,192.6ZM239.7,191.5L240.5,191.2L241.3,191.5L240.5,191.9ZM244.9,196.2L245.2,195.1L245.5,196.2L245.2,197.4ZM246.6,198.6L247,197.9L247.4,198.6L247,199.3ZM250.1,204.7L250.7,204.3L251.3,204.7L250.7,205.2ZM252.7,202.9L253.3,202.5L253.9,202.9L253.3,203.2ZM347.5,165.1L348.3,164.7L349.1,165.1L348.3,165.4ZM341.5,163.4L342.2,163.1L342.9,163.4L342.2,163.8ZM344,163L344.4,162.7L344.8,163L344.4,163.2ZM364.8,177L365.3,176.7L365.8,177L365.3,177.3ZM365.4,187.5L366.1,187L366.8,187.5L366.1,188ZM367.4,188.2L367.9,187.7L368.4,188.2L367.9,188.7ZM370.7,187.3L371.1,186.5L371.6,187.3L371.1,188.1ZM371.6,185.9L372,185.4L372.4,185.9L372,186.3ZM362.9,186.6L363.3,186.1L363.6,186.6L363.3,187ZM351.2,218.7L351.7,218.1L352.2,218.7L351.7,219.3ZM350,219.1L350.3,218.8L350.6,219.1L350.3,219.5ZM350.1,215.1L350.5,214.8L350.9,215.1L350.5,215.5ZM348.3,214.2L348.7,213.8L349.1,214.2L348.7,214.5ZM352.8,216.3L353.1,215.8L353.4,216.3L353.1,216.8ZM412.6,253.6L412.9,253.1L413.2,253.6L412.9,254.1ZM414.3,250.5L414.5,250.2L414.7,250.5L414.5,250.8ZM416.7,246L417.1,245.3L417.5,246L417.1,246.7ZM323.8,382.4L325.6,381.9L327.4,382.4L325.6,383ZM384.7,108L385.3,107.5L385.9,108L385.3,108.5ZM396.6,112L396.9,111.2L397.2,112L396.9,112.8ZM392.9,115.1L393.4,114.7L393.9,115.1L393.4,115.4ZM385.1,117.4L385.7,116.5L386.3,117.4L385.7,118.4ZM381.5,86.7L382.3,86.5L383.1,86.7L382.3,87ZM515.7,302.1L516.1,301.6L516.5,302.1L516.1,302.6ZM511.4,304.1L511.9,303.6L512.4,304.1L511.9,304.6ZM486.9,281.9L487.2,281.4L487.5,281.9L487.2,282.4ZM489.1,283.1L489.4,282.8L489.7,283.1L489.4,283.4ZM490.7,284.5L490.9,284.2L491.2,284.5L490.9,284.8ZM511.7,265.3L511.9,265L512.1,265.3L511.9,265.5ZM548.2,244.4L548.3,243.2L548.5,244.4L548.3,245.6ZM546.9,228.3L547.1,227.6L547.3,228.3L547.1,229ZM587,225.5L587.4,223.4L587.8,225.5L587.4,227.6ZM589.1,237.3L589.4,236.4L589.7,237.3L589.4,238.3ZM507.2,224.8L508.4,224.4L509.7,224.8L508.4,225.2ZM538.8,370.6L540.2,369.8L541.7,370.6L540.2,371.5ZM692.5,222.6L692.7,222.2L693,222.6L692.7,222.9ZM694.4,218.7L694.5,218.3L694.7,218.7L694.5,219ZM671.8,236.6L672.1,236.1L672.3,236.6L672.1,237.1ZM719.6,238L719.9,237.8L720.2,238L719.9,238.3ZM706.7,236.8L706.9,236.6L707.1,236.8L706.9,237.1ZM746,237.5L746.2,237.3L746.4,237.5L746.2,237.8ZM749.6,251L749.8,250.7L750,251L749.8,251.3ZM49.9,286.4L50.6,286.1L51.3,286.4L50.6,286.7ZM51.5,287.2L52,287L52.5,287.2L52,287.5ZM44.4,304.3L44.7,304.1L45,304.3L44.7,304.6ZM761.6,293.5L762.6,293L763.6,293.5L762.6,293.9ZM96.3,296L96.8,295.6L97.3,296L96.8,296.3ZM115.7,275.5L116,275.3L116.3,275.5L116,275.8ZM735.2,279.6L735.6,279.3L736.1,279.6L735.6,279.8ZM740.1,296.1L740.3,295.7L740.6,296.1L740.3,296.4ZM742.3,300.3L742.5,299.8L742.8,300.3L742.5,300.8ZM739.3,322.7L739.5,322.6L739.7,322.7L739.5,322.9ZM41.5,357.9L42.1,357.6L42.7,357.9L42.1,358.2ZM722.5,276.7L723.3,276.4L724.1,276.7L723.3,277.1ZM726.3,279.1L727.1,278.7L728,279.1L727.1,279.4ZM716.8,273.7L717.4,273.4L718,273.7L717.4,273.9ZM649.8,196.7L650.2,196.5L650.6,196.7L650.2,197ZM658.1,191.8L658.5,190.9L658.9,191.8L658.5,192.6ZM661.3,187.5L661.7,187.2L662.1,187.5L661.7,187.8ZM663.5,182.6L663.8,182.3L664.1,182.6L663.8,182.8ZM655.1,175.5L655.7,175.2L656.3,175.5L655.7,175.8ZM694.7,149L695.6,148.5L696.4,149L695.6,149.6ZM698.2,147.4L699.2,146.8L700.2,147.4L699.2,148ZM702.6,145.3L703.2,144.8L703.9,145.3L703.2,145.7ZM707.2,142.9L707.7,142.4L708.2,142.9L707.7,143.4ZM709.6,139.8L709.9,139.4L710.2,139.8L709.9,140.3ZM712.6,137.7L713,137.4L713.4,137.7L713,138.1ZM714.4,135.6L715,135.1L715.6,135.6L715,136.1ZM53.6,104.7L55.2,104.1L56.9,104.7L55.2,105.3ZM61.3,112.5L62.7,112L64.2,112.5L62.7,112.9ZM86.8,118.6L88.7,117.4L90.5,118.6L88.7,119.8ZM74.1,115.8L74.5,115.5L74.9,115.8L74.5,116ZM54.3,119.4L54.6,119.2L54.9,119.4L54.6,119.7ZM41.1,132.1L41.9,131.8L42.7,132.1L41.9,132.3ZM45.9,131.1L46.7,130.8L47.6,131.1L46.7,131.4ZM38.4,132.3L39.1,132.1L39.7,132.3L39.1,132.5ZM749,129.5L749.8,129.2L750.6,129.5L749.8,129.7ZM758.3,131.6L758.9,131.3L759.5,131.6L758.9,131.8ZM735.3,124.5L736.1,124L736.8,124.5L736.1,125ZM540,81.1L541.7,80.6L543.3,81.1L541.7,81.5ZM553.4,66.7L554.4,66.3L555.4,66.7L554.4,67ZM559.3,81.1L560.5,80.8L561.7,81.1L560.5,81.4ZM581.8,75.6L582.8,75.4L583.8,75.6L582.8,75.9ZM682.8,80.6L686,79.9L689.3,80.6L686,81.3ZM697.8,77.5L700.2,76.8L702.6,77.5L700.2,78.2ZM510.9,81.5L510.9,81.5L510.9,81.5L510.9,81.6ZM424.4,98.8L424.8,98.4L425.2,98.8L424.8,99.1ZM428.3,92.9L429.9,92.3L431.5,92.9L429.9,93.5ZM433.1,90.8L433.9,90.3L434.7,90.8L433.9,91.2ZM438.2,89.1L439,88.7L439.8,89.1L439,89.5ZM358.6,62L361,61.7L363.5,62L361,62.2ZM277.8,143.6L278,143.4L278.2,143.6L278,143.9ZM269.9,144.8L271.3,144.4L272.7,144.8L271.3,145.2ZM274.1,142.4L274.4,142.2L274.7,142.4L274.4,142.7ZM130.8,128.5L131.8,126.4L132.8,128.5L131.8,130.6ZM236.3,106.6L237.5,106L238.7,106.6L237.5,107.2ZM237.5,121.2L238.3,120.4L239.1,121.2L238.3,122ZM229.2,106.8L230.4,106.3L231.6,106.8L230.4,107.3ZM242.2,93.8L243.6,93.1L245,93.8L243.6,94.5ZM246,93.1L246.6,92.6L247.2,93.1L246.6,93.6ZM248.4,373L249,371.8L249.7,373L249,374.2ZM247.1,369.2L247.6,368.1L248.1,369.2L247.6,370.4ZM249,360.5L249.7,359.6L250.3,360.5L249.7,361.4ZM249.2,354.8L249.9,353.4L250.5,354.8L249.9,356.3ZM256.5,384.6L257.8,384.3L259,384.6L257.8,384.9ZM268.6,383.6L269.3,383.4L270,383.6L269.3,383.8ZM278,376.3L279,375.8L280,376.3L279,376.8ZM428.4,169.6L428.7,169.4L428.9,169.6L428.7,169.8ZM402.1,162.4L402.3,162.1L402.6,162.4L402.3,162.6ZM407.2,160L407.6,159.8L408,160L407.6,160.3ZM450.8,167.2L451.1,166.9L451.4,167.2L451.1,167.6ZM451.8,163.7L452.1,163.2L452.5,163.7L452.1,164.1ZM452.3,161.8L452.8,161.5L453.3,161.8L452.8,162.1ZM453.9,165.3L454.2,165.1L454.5,165.3L454.2,165.6ZM455.9,168.9L456.2,168.2L456.5,168.9L456.2,169.6ZM439.4,160.8L439.6,160.4L439.8,160.8L439.6,161.3ZM441,164.1L441.2,163.7L441.5,164.1L441.2,164.6ZM450.5,166.7L450.7,166.5L450.9,166.7L450.7,167ZM448.9,164.9L449.1,164.6L449.3,164.9L449.1,165.1ZM612.9,259.5L614.1,258.3L615.4,259.5L614.1,260.7ZM617.6,261.1L618.2,260.6L618.8,261.1L618.2,261.7ZM596.4,251.9L596.9,250.8L597.4,251.9L596.9,253.1ZM599.5,257.8L600,256.7L600.5,257.8L600,259ZM602.1,260.9L602.4,260.2L602.7,260.9L602.4,261.6ZM593.4,248.2L593.9,247.8L594.4,248.2L593.9,248.5ZM606.5,267L606.7,266.8L606.9,267L606.7,267.3ZM654.6,262.3L655.7,261.6L656.7,262.3L655.7,263ZM650.4,258.5L651.6,258.2L652.8,258.5L651.6,258.9ZM648.1,266.1L648.6,264.9L649.1,266.1L648.6,267.3ZM647.8,266.8L648,266.3L648.2,266.8L648,267.3ZM671.4,268.9L671.9,267.5L672.4,268.9L671.9,270.3ZM665.2,272.5L665.8,271.8L666.4,272.5L665.8,273.2ZM668,267.8L668.2,266.9L668.4,267.8L668.2,268.6ZM673.7,258.3L674.5,258L675.3,258.3L674.5,258.6ZM674.1,256.7L674.9,256.2L675.7,256.7L674.9,257.1ZM663.1,254.8L663.8,254.3L664.5,254.8L663.8,255.2ZM657.6,256.2L658.1,255.7L658.6,256.2L658.1,256.7ZM655,250.1L655.1,249.9L655.2,250.1L655.1,250.2ZM653.4,246L653.6,245.6L653.8,246L653.6,246.5ZM656,244.4L656.3,243.8L656.5,244.4L656.3,245ZM662.2,259L662.3,258.9L662.4,259L662.3,259.1ZM627.3,270.8L628.3,270.5L629.3,270.8L628.3,271.1ZM632.2,274L632.8,273.7L633.4,274L632.8,274.4ZM653.5,273.2L654.2,272.9L655,273.2L654.2,273.4ZM650.8,273.9L651.6,273.7L652.4,273.9L651.6,274.1ZM649,274.1L649.6,273.9L650.2,274.1L649.6,274.4ZM644.5,298.9L644.5,298.9L644.5,298.9L644.5,298.9ZM622.2,207.1L622.2,207.1L622.3,207.1L622.2,207.1ZM646.4,183.3L646.8,183L647.1,183.3L646.8,183.5ZM645.1,179.7L645.7,179.5L646.3,179.7L645.7,180ZM696.9,259.1L697.8,258.9L698.7,259.1L697.8,259.4ZM702.4,257.8L702.6,257.7L702.8,257.8L702.6,258ZM708.2,276L708.7,275.8L709.2,276L708.7,276.2ZM710.1,281.4L710.5,281.3L710.9,281.4L710.5,281.6ZM704.7,277.2L705.3,276.9L705.9,277.2L705.3,277.5ZM704.5,276.2L704.9,276L705.3,276.2L704.9,276.5ZM711.3,281.2L711.6,281.1L711.8,281.2L711.6,281.3ZM675.9,338.8L677.3,338.5L678.7,338.8L677.3,339.1ZM663.4,281.7L664.4,281.2L665.4,281.7L664.4,282.1ZM675.7,287.3L676.3,286.9L676.9,287.3L676.3,287.8ZM681.6,293.5L682,293.1L682.4,293.5L682,293.8ZM709.5,313.8L709.7,312.6L709.9,313.8L709.7,315ZM698.9,348.7L699.2,348.1L699.5,348.7L699.2,349.3ZM690.8,348.5L691.1,348L691.4,348.5L691.1,348.9ZM721.2,383.2L721.3,382.8L721.4,383.2L721.3,383.5ZM738.9,365.2L739.5,364.7L740.1,365.2L739.5,365.7ZM735.8,374L736.1,373.6L736.4,374L736.1,374.3ZM500.6,363.8L500.8,363.7L500.9,363.8L500.8,363.9ZM475.8,365L476,364.9L476.2,365L476,365.1ZM556.3,344L556.4,343.9L556.5,344L556.4,344.1ZM387.9,291.9L388,291.8L388.1,291.9L388,292.1ZM370.2,273.1L370.3,272.9L370.4,273.1L370.3,273.2ZM374.5,341.9L374.6,341.7L374.7,341.9L374.6,342ZM178,318.3L178.2,318.1L178.3,318.3L178.2,318.4ZM235.7,333.8L235.9,333.7L236,333.8L235.9,333.9Z"/>
<path fill="#ffffff" d="M462.3,315.7L464.1,315.4L464.5,317.5L462.9,318.7L461.9,317.3Z"/>
<path fill="#ff7f0e" d="M454.2,324.2L457.4,321.8L459,323.9L456.4,326.5Z"/>
<path fill="#ff7f0e" d="M365.5,222.2L369.1,221.7L371.6,222.4L369.1,223.1L365.5,223.4Z"/>
<path fill="none" d="M246.3,423.4L253.7,420.3M251.6,426.6L260.0,422.4M257.9,419.2L265.3,415.0M264.2,416.1L271.6,410.8M273.7,407.6L281.1,404.5M278.9,403.4L287.4,402.4M248.4,428.7L257.9,426.6M255.8,423.4L262.1,424.5M275.2,415.0L278.1,422.4M68.4,444.5L76.8,442.4M68.4,447.6L78.9,446.6M83.2,442.4L93.7,440.3M89.5,444.5L102.1,442.4M97.9,440.3L106.3,438.2M46.3,450.2L89.5,457.7M58.9,452.9L74.7,456.1M180.0,433.9L198.9,432.9M137.9,429.7L154.7,430.8M230.5,439.6L243.2,442.4L251.6,445.5M232.6,444.5L243.2,446.6M257.9,440.9L262.1,447.6L268.4,445.5M329.5,443.4L352.6,443.4M728.4,432.5L736.8,435.0M732.6,437.1L742.1,438.2M722.1,444.5L732.6,446.6M492.6,414.4L501.1,411.8M589.5,410.8L602.1,410.2M215.2,63.1L229.4,64.8L241.6,64.1M221.3,67.4L233.5,67.9L243.6,66.4M225.3,71.2L235.5,70.5L243.6,69.3M229.4,59.6L245.6,60.8L257.8,59.4M237.5,62.0L253.7,63.1L265.9,61.7M213.2,65.0L207.1,67.2L215.2,68.8M205.1,68.8L217.2,66.4M188.9,67.9L199.0,70.2L190.9,71.2M176.8,69.3L188.9,68.8M203.1,74.5L213.2,75.9L221.3,74.9M207.1,77.3L217.2,76.4L229.4,77.3M233.5,75.9L237.5,74.5M219.3,82.0L229.4,83.4L237.5,82.5M241.6,84.4L249.7,86.7L255.7,88.6M245.6,89.1L253.7,91.0L261.8,92.9M257.8,95.2L265.9,96.2L271.9,98.5M261.8,99.5L265.9,101.8M253.7,103.3L261.8,105.1M172.7,74.9L180.8,75.9M162.6,76.8L170.7,75.4M156.5,83.0L164.6,83.4M172.7,84.4L180.8,85.3L188.9,84.4M164.6,89.6L172.7,88.2M197.0,82.0L201.1,83.4M209.2,81.1L213.2,83.0M188.9,75.4L197.0,74.5M290.1,89.1L296.2,90.0M288.1,84.4L294.2,85.3M286.1,79.2L292.2,79.7M292.2,96.2L297.2,96.7M294.2,100.9L298.2,101.8M298.2,107.0L302.3,108.0M314.4,106.6L311.4,104.7M318.5,100.9L315.5,99.5M326.6,97.6L322.6,96.7M342.8,92.4L336.7,93.3M350.9,88.2L342.8,87.2L348.9,85.8M354.9,83.0L346.9,82.0M357.0,78.7L350.9,77.8M361.0,74.0L352.9,73.1M361.0,69.3L352.9,68.3M363.1,65.0L352.9,64.1M261.8,71.2L269.9,72.1M257.8,68.8L265.9,67.9M282.1,60.8L294.2,59.8M310.4,59.4L322.6,58.4M334.7,59.8L346.9,60.8M116.0,113.4L122.5,116.7L125.7,119.8L129.0,122.6L132.2,124.7M130.2,127.1L132.6,130.2M135.8,127.3L139.1,130.6L141.1,133.9M125.1,116.0L128.2,118.8L131.0,121.7L134.2,124.0M410.0,112.7L412.5,112.2M410.0,109.9L413.7,109.9M411.6,107.0L414.5,106.6M417.7,104.2L421.0,104.2M422.6,101.4L424.6,100.4M425.0,97.6L427.9,96.7M429.1,94.3L431.9,93.3M433.5,91.9L436.4,90.5M439.2,89.6L442.8,88.6M445.3,88.2L448.9,87.2M452.1,87.7L456.6,87.2M250.7,353.4L251.7,357.7L250.5,361.9M248.8,364.7L250.5,368.1L248.8,371.8M250.5,373.7L251.7,377.0L253.7,379.9M252.7,381.3L256.7,382.4L259.8,383.9M254.7,379.9L256.5,381.5M425.8,69.3L433.9,68.6M427.9,67.2L435.9,66.7M511.9,81.3L515.9,81.1M546.5,85.3L550.4,83.9M557.5,83.9L563.5,84.9M573.6,79.7L581.8,76.8M598.0,74.5L608.1,73.5M617.2,81.1L623.3,79.7M648.6,82.0L655.7,81.1M672.9,85.3L680.0,85.8M388.2,121.7L389.4,120.7M387.8,119.3L389.0,118.4M386.5,118.8L387.4,119.8M379.7,127.3L380.9,127.8M379.2,131.6L380.5,131.1M91.7,115.1L94.7,113.6L97.8,112.2M87.7,116.9L83.6,118.8M99.8,111.3L103.9,110.8M68.4,124.5L74.5,123.1L79.6,121.2"/>
<rect x="35" y="453.2" width="729" height="1.7" fill="#9a9a9a" stroke="none"/>
</g>
<g transform="translate(956.0,478.4)">
<path fill="#ff7f0e" d="M253,69.9L261.3,66.7L268.9,63.5L279.1,61L291.8,59.1L304.5,57.8L317.3,57.2L330,56.8L342.7,57.8L354.2,59.1L359.3,61L368.2,61.4L376.4,61.9L368.2,63.5L360.5,65.5L358,69.3L361.8,73.1L355.4,76.9L352.9,80.7L345.3,82.6L351.6,84.5L354.2,86.4L342.7,89L336.3,93.4L330,97.3L323.6,99.2L317.3,102.4L314.7,107.4L312.2,112.8L307.1,111.3L302,110L298.2,106.2L295.6,101.1L291.8,97.3L290.5,90.9L288,85.8L284.2,79.5L279.1,75.6L271.4,73.7L263.8,73.1L257.4,71.8Z"/>
<path fill="#2ca02c" d="M350.6,99.6L354.2,97.9L359.3,98.8L365.6,97.3L370.7,98.5L372,101.1L368.2,103L361.8,104.3L356.7,103.6L352.9,101.7Z"/>
<path fill="#2ca02c" d="M113.6,89.9L106.4,89L96.2,88.1L87.3,86.6L82.2,85.8L77.1,87.1L70.7,89L64.4,91.5L61.8,92.8L66.9,94.1L72.6,96L68.2,97.5L61.2,98.8L59.9,99.8L66.3,101.1L73.3,102L73.3,103.6L68.2,104.9L64.6,106.4L63.7,108.7L67.2,110.2L65.6,111.9L70.5,114.4L73.3,116L79,116.4L80.9,114.8L72,121.4L61.8,126.5L52.9,129.7L45.3,131.4L38.3,132.3L46.5,130.4L55.5,128.2L68.2,123.1L78.4,119.2L84.7,116.7L89.8,112.5L93.6,110.6L98.7,109.7L103.8,110.6L108.9,111.3L113.6,111.9ZM114,112L118,112.5L121.1,115.1L125.5,113.4L129.2,115.5L132.2,119.3L136.2,122.1L135.8,124.5L133.2,125.2L129.8,124L127.7,121.7L124.9,119.3L122.9,116.9L120.1,115.3L116.4,113.6L114,112.9Z"/>
<path fill="#ff7f0e" d="M114,90L118,90.3L123.1,91.7L128.2,90.3L136.2,88.9L140.3,87.9L146.4,90.5L154.5,89.6L162.6,91.5L168.7,94.3L176.8,94.1L180.8,96.7L182.8,93.3L186.9,92.6L195,94.3L201.1,92.9L205.1,93.3L206.1,90.3L204.1,86L208.1,84.4L213.2,87.9L214.2,90.3L217.2,92.2L221.3,93.8L226.4,89.6L233.5,89.8L234.9,92.6L233.5,96.2L229.4,97.8L224.9,97.4L223.3,100.2L219.3,103.3L215.8,104.9L211.2,109.2L208.1,112.7L208.7,115.5L212.2,119.8L219.3,120.3L227.4,123.8L232.8,124.3L233,129.2L236.5,133.2L239.5,132.8L239.9,128L238.5,125.2L243.6,122.1L244.6,118.6L240.5,115.5L242.6,111.5L241.6,107L249.7,107.3L256.7,110.3L258.8,115.1L262.8,116.7L266.9,113.9L268.7,111.8L273.9,118.6L278,123.8L283.1,126.9L286.5,130.4L284.1,133L278,135.8L269.9,135.6L263.8,137.5L258.8,141L255.7,143.6L259.8,141.3L263.8,138.9L269.3,138.4L268.9,141L266.9,142.9L268.9,145.3L270.9,146L276,146.4L278,143.6L278.4,145.7L275.4,147.6L270.9,149L266.7,151.6L265.4,149.8L268.9,147.4L263.8,147.9L262.2,146.4L262.2,143.1L259.4,142.4L257.8,144.8L255.7,147.4L254.7,148.1L248.2,148.1L244.6,150L239.5,151.9L239.5,153.3L232.4,155.7L231.4,154.5L232.4,152.8L233,147.4L230.4,145.7L228.4,144.6L221.3,140.5L218.3,141L213.2,140.1L206.7,138.7L150.8,138.7L150,138L146.4,135.6L141.3,132.8L140.3,129.2L136.2,126.2L135.8,124.5L136.2,122.1L132.2,119.3L129.2,115.5L125.5,113.4L121.1,115.1L118,112.5L114,112ZM139.7,134.4L145.4,135.6L149.4,139.8L146.8,139.8L143.3,137.5ZM279.4,142L282.1,138.7L284.5,133.2L286.9,132.5L286.5,136.3L291.2,138L292.8,142.2L291.2,144.1L287.1,143.6L285.1,142ZM269.1,136.5L273.9,137.7L274.4,138.4L269.9,137ZM146.4,84.4L150.4,86.5L155.5,85.8L160.6,83.9L165.6,81.3L161.6,79L154.5,78.5L147.4,79L148.4,81.5ZM160.6,82.7L158.5,85.6L164.6,87.7L162,89.1L163.6,91.5L169.7,92.4L178.8,92.2L186.9,91.5L193,90.3L195,88.6L187.9,86.7L186.9,83.2L182.8,81.5L176.8,82L168.7,81.3L162.6,82ZM193,82L197,84.6L203.1,85.3L204.1,82L201.1,79.7L196,79.9ZM206.1,83.7L211.2,84.4L216.8,82L216.2,79.9L208.1,79.4L205.1,81.3ZM198,91.2L202.1,92.4L206.1,91.7L205.1,89.6L201.1,89.3ZM219.3,80.8L227.4,80.1L235.5,80.4L241.6,82.3L248.6,84.9L255.7,86.7L260.8,88.6L263.8,91.5L273.9,96.2L275,97.4L269.9,100.9L270.9,103.3L267.9,106.1L264.8,108L261.8,107.5L254.7,105.6L249.7,102.6L242.6,102.6L241.6,99.7L249.7,98.5L251.7,95L243.6,91.5L239.5,88.6L233.5,89.3L225.3,88.4L219.3,86.7L217.2,83.2ZM223.3,102.8L225.3,99.2L229.4,98.5L235.5,102.1L237.1,103.7L231.4,105.1L226.4,105.1ZM213.2,78L225.3,78.7L237.5,78L238.5,76.1L233.5,74.9L221.3,73.8L213.2,73.5L205.1,74L204.1,76.4ZM219.3,74L237.5,74.5L242.6,72.1L247.6,69L253.7,66.7L267.9,63.1L275,59.8L261.8,58.4L243.6,58.2L227.4,60.1L217.2,62L223.3,64.3L227.4,66.7L221.3,69L221.3,71.4ZM205.1,66L211.2,69.5L221.3,69.5L223.3,66.7L217.2,62.7L209.2,62.4ZM162.6,75.4L170.7,78.5L180.8,77.5L185.9,76.1L182.8,73.3L172.7,73.5L163.6,73.8ZM188.9,76.1L201.1,77.3L209.2,76.8L203.1,73.5L193,73.5ZM150.4,74.5L160.6,75.9L164.6,73.5L158.5,71.6ZM170.7,69.5L186.9,71.9L201.1,70.7L195,67.9L184.9,67.2L174.7,68.1Z"/>
<path fill="#2ca02c" d="M150.8,138.7L206.7,138.7L213.2,140.1L218.3,141L221.3,140.5L228.4,144.6L230.4,145.7L233,147.4L232.4,152.8L231.4,154.5L232.4,155.7L239.5,153.3L239.5,151.9L244.6,150L248.2,148.1L254.7,148.1L255.7,147.4L257.8,144.8L259.4,142.4L262.2,143.1L262.2,146.4L263.8,147.9L263.8,148.6L259.8,150.2L256.1,153.3L257.8,155.9L254.7,156.6L249.7,158.7L246.6,163.4L245.6,167L246.6,171L243.6,172.6L239.5,175.2L235.9,178.5L234.7,181.8L236.3,187L237.5,191.1L236.7,194.6L235.1,194.8L233.5,191.8L231.8,187L229.4,183.3L226.4,184L222.3,182.8L219.3,182.8L218.3,185.4L214.2,184.9L209.6,184.2L207.1,185.4L202.5,188.7L202.7,193.2L198,189.4L195,184.4L191.9,184L190.5,185.9L187.9,184.4L183.8,179.3L180.4,179.3L180.4,180.4L174.7,180.4L167.2,177.1L162.4,177.6L159.5,174.1L155.3,172.9L152.7,167.9L151.4,165.1L147.8,159L147.4,153.3L148.4,145L147,140.1L150.8,140.3Z"/>
<path fill="#2ca02c" d="M162.4,177.6L167.2,177.1L174.7,180.4L180.4,180.4L180.4,179.3L183.8,179.3L187.9,184.4L190.5,185.9L191.9,184L195,184.4L198,189.4L202.7,193.2L201.5,201.2L202.1,203.6L205.1,209L208.1,211.3L213.6,210.4L215.8,208.3L216.6,204.7L220.3,203.3L223.3,203.6L223.7,205.9L222.3,210.6L220.7,210.6L218.9,212.3L215.2,212.3L215.2,213.6L216.4,216.3L213.8,216.3L212.8,218.4L212.8,220.1L207.1,216.1L203.1,216.8L197,214.2L193,211.8L188.3,209.5L185.9,206.4L185.9,203.6L183.8,198.8L180.8,195.3L178.2,192.9L175.7,189.4L172.1,184.7L170.7,181.1L167.2,179.5L167.2,182.3L171.1,187L173.7,191.8L175.7,196.5L177.8,199.5L176.8,200.3L171.7,194.1L166.6,188.7L168.2,188L164.6,182.3Z"/>
<path fill="#d62728" d="M212.8,220.1L212.8,218.4L213.8,216.3L216.4,216.3L215.2,213.6L215.2,212.3L218.9,212.3L218.9,216.8L220.7,217.2L218.9,220.3L217,221.7Z"/>
<path fill="#2ca02c" d="M218.9,212.3L220.7,210.6L221.1,213L220.1,216.5L218.9,216.8Z"/>
<path fill="#d62728" d="M217,221.7L218.9,220.3L220.3,221.3L221.7,221.5L221.7,223.1L220.3,223.1Z"/>
<path fill="#d62728" d="M218.9,220.3L220.7,217.2L225.3,216.8L229.4,216.8L231,218.9L227.8,219.4L225.3,221.5L223.7,223.1L222.5,223.6L221.7,223.1L221.7,221.5L220.3,221.3Z"/>
<path fill="#d62728" d="M222.5,223.6L223.7,223.1L225.3,221.5L227.8,219.4L231,218.9L230.4,223.6L230,228.6L228,228.3L226,228.1L224.3,226Z"/>
<path fill="#9467bd" d="M226,228.1L228,228.3L230,228.6L232.2,231.6L231.6,235.2L230,234L228,231.6L225.8,230.7Z"/>
<path fill="#9467bd" d="M232.2,231.6L235.5,233.5L237.7,232.1L239.7,231.9L242.8,233.8L241.8,237.3L240.5,234.9L238.1,233.3L236.7,234.9L237.1,236.8L235.5,237.1L233.5,234.9L231.6,235.2Z"/>
<path fill="#d62728" d="M227.6,202.6L231,200.3L234.5,199.8L238.5,201.2L243,203.1L246.2,204.7L249.2,206.6L246.6,207.3L242.2,207.5L243.2,205.7L240.5,204.3L236.5,202.9L233.5,201.4L230.4,202.4Z"/>
<path fill="#2ca02c" d="M248.6,210.9L252.7,211.3L254.3,211.8L254.1,207.8L250.9,207.3L252.3,209L252.9,210.4Z"/>
<path fill="#d62728" d="M254.3,211.8L254.1,207.8L257.8,207.6L259.4,208.8L261,210.4L258.8,210.9L256.7,211.3L254.9,212.8Z"/>
<path fill="#2ca02c" d="M240.7,211.1L243.6,210.6L245.2,211.8L243.2,212.3Z"/>
<path fill="#2ca02c" d="M263.4,210.9L266.7,210.9L266.3,211.8L263.4,211.8Z"/>
<path fill="#d62728" d="M242.8,233.8L244,235.4L246.4,231.9L246.6,229.3L249.2,228.1L252.7,226.5L255.1,225L253.7,226.9L252.7,228.1L251.7,231.9L252.9,234.7L253.3,237.1L257.3,237.8L259,239.9L262.8,239.7L262.2,243.7L263.2,246.5L264,251.5L263.6,250.3L258.2,250.3L259.4,251.9L257.8,252.9L257.8,254.8L259,256.9L258,264.2L256.3,263.3L251.9,260L250.7,258.3L247,254.5L243.6,253.4L239.9,251L240.5,248.4L242.6,245.3L242.6,241.3L242.8,238.3L241.8,237.3Z"/>
<path fill="#d62728" d="M264,251.5L263.2,246.5L262.2,243.7L262.8,239.7L259,239.9L257.3,237.8L253.3,237.1L252.9,234.7L251.7,231.9L252.7,228.1L253.7,226.9L255.1,225L255.3,226.5L254.5,228.6L255.7,231.9L254.5,228.6L257.3,227.2L257.8,225.5L258.4,227.2L261.2,228.8L265.9,229.3L268.9,230.2L272.9,229L274.2,229L273.3,230.9L276,234L278.4,234.7L276.6,236.6L275.8,238.5L275.2,240.4L276.6,242L272.3,244.9L269.3,244.6L269.9,248.4L271.1,249.1L266.9,252.4L264,251.5Z"/>
<path fill="#d62728" d="M276.6,242L275.2,240.4L275.8,238.5L276.6,236.6L278.4,234.7L281,237.1L283.7,240.1L283.5,242.5L282.1,244.9L284.1,249.6L285.1,249.8L280.4,251.5L278.6,250.1L278,247.9L279,244.9L277.8,242L276.6,242Z"/>
<path fill="#2ca02c" d="M285.1,249.8L284.1,249.6L282.1,244.9L283.5,242.5L283.7,240.1L290.1,240.6L289.3,243.7L288.9,248.9L286.1,249.8Z"/>
<path fill="#ffffff" d="M290.1,240.6L294.8,244.4L292.4,249.1L288.9,248.9L289.3,243.7Z"/>
<path fill="#2ca02c" d="M239.9,251L243.6,253.4L247,254.5L246.4,257.8L242,261.4L240.7,262.3L239.5,266.1L236.7,264.7L236.9,262.3L235.7,259.5L235.9,256.7L237.5,252.4Z"/>
<path fill="#2ca02c" d="M236.9,262.3L234.9,265.4L235.1,268.5L238.1,271.3L241.1,277.9L243.4,282.9L245.2,287.1L247.6,290.9L253.7,294.4L256.9,297.6L258.8,295.6L259.8,293.2L259.2,291.4L260.4,283.8L258.6,280.1L256.5,280.3L256.7,276.5L253.3,277.9L251.3,276.5L250.1,271.5L251.7,268.5L251.9,266.6L256.3,264.2L258,264.2L256.3,263.3L251.9,260L250.7,258.3L247,254.5L246.4,257.8L242,261.4L240.7,262.3L239.5,266.1L236.7,264.7L236.9,262.3Z"/>
<path fill="#2ca02c" d="M294.8,244.4L298.2,250.1L298.2,254.3L301.3,256.7L304.3,256L309.4,260.2L315.5,261.1L321.5,263L324.6,265.6L328.2,267.3L329,271.3L328,276.2L324.6,280.3L321.5,285L320.5,290.9L320.1,296.3L318.1,301.5L316.5,306.2L314.4,308.3L312,308.6L308.4,310.5L305.5,310.9L301.7,315L301.1,319.2L298.7,323.4L296.2,327.5L293.8,330.3L291.4,333.9L291.8,331.5L286.9,327L282.9,325.6L286.5,321.1L290.6,318.5L288.9,314.7L289.5,310.9L286.7,307.2L282.3,306.5L281.6,302L282.5,299.1L283.1,296.8L281.2,295.1L281.4,292.8L277.6,292.8L277,286.9L273.9,285.5L269.9,283.8L267.3,281.9L267.1,277.2L264.6,277.7L261.8,279.6L258.6,280.1L256.5,280.3L256.7,276.5L253.3,277.9L251.3,276.5L250.1,271.5L251.7,268.5L251.9,266.6L256.3,264.2L258,264.2L259,256.9L257.8,254.8L257.8,252.9L259.4,251.9L258.2,250.3L263.6,250.3L264,251.5L266.9,252.4L271.1,249.1L269.9,248.4L269.3,244.6L272.3,244.9L276.6,242L277.8,242L279,244.9L278,247.9L278.6,250.1L280.4,251.5L285.1,249.8L286.1,249.8L288.9,248.9L292.4,249.1Z"/>
<path fill="#2ca02c" d="M258.8,295.6L259.8,293.2L259.2,291.4L260.4,283.8L258.6,280.1L261.8,279.6L264.6,277.7L267.1,277.2L267.3,281.9L269.9,283.8L273.9,285.5L277,286.9L277.6,292.8L281.4,292.8L281.2,295.1L283.1,296.8L282.5,299.1L281.6,302L279.8,299.8L274.6,300.6L273.3,302.7L272.7,306.7L269.3,308.1L267.5,306.5L265.2,305.7L263.4,308.1L261.4,304.6L260.8,300.3L259.8,299.1L258.8,295.6Z"/>
<path fill="#d62728" d="M272.7,306.7L273.3,302.7L274.6,300.6L279.8,299.8L281.6,302L282.3,306.5L286.7,307.2L289.5,310.9L288.9,314.7L288.5,317.3L286.3,319L280.8,318.7L282.9,314.2L280.4,312.8L276,310.5L272.7,306.7Z"/>
<path fill="#2ca02c" d="M282.9,325.6L286.9,327L291.8,331.5L291.4,333.9L288.3,336.8L285.7,336.7L281.2,334.5L281.6,331Z"/>
<path fill="#2ca02c" d="M261,378L257.8,377L253.9,377L253.1,374L250.7,370.6L253.1,366.4L254.3,360.5L254.3,353.4L253.9,348.7L255.7,344L256.9,339.3L257.8,333.4L258.2,326.3L259.4,321.6L261.2,316.8L261,312.1L263.4,308.1L265.2,305.7L267.5,306.5L269.3,308.1L272.7,306.7L276,310.5L280.4,312.8L282.9,314.2L280.8,318.7L286.3,319L288.5,317.3L288.9,314.7L290.6,318.5L286.5,321.1L282.9,325.6L281.6,331L281.2,334.5L281.2,336L283.7,338.1L284.7,340.2L283.1,344L280,345.6L273.9,346.1L273.3,350.1L267.9,350.6L267.9,353.4L270.7,354.6L267.3,357L266.9,360.5L262.8,362.9L266.3,365.7L262.8,369.9L259.8,373.5ZM260.6,378.4L260.6,383.9L264.8,384.1L267.5,383.2L263.8,381.7L261.4,379.4Z"/>
<path fill="#2ca02c" d="M256.9,297.6L257.5,301.5L256.7,309.8L256.5,315.7L254.7,322.7L254.5,329.8L254.1,334.5L251.7,341.1L250.3,345.2L250.9,348.7L250.1,352.9L248.6,357L246.6,364L248.6,367.6L246.6,372.3L248.6,377L251.7,380.6L255.7,381.7L255.9,379.1L258.8,378.2L261,378L257.8,377L253.9,377L253.1,374L250.7,370.6L253.1,366.4L254.3,360.5L254.3,353.4L253.9,348.7L255.7,344L256.9,339.3L257.8,333.4L258.2,326.3L259.4,321.6L261.2,316.8L261,312.1L263.4,308.1L261.4,304.6L260.8,300.3L259.8,299.1L258.8,295.6ZM256.7,378.7L260.6,378.4L260.6,383.9L263.8,384.8L259.8,385.3L254.7,382.9L256.7,381Z"/>
<path fill="#ffffff" d="M276,375.8L282.5,375.8L281,377.5L276,377Z"/>
<path fill="#ff7f0e" d="M413.7,117.4L410.6,115.1L409.6,110.3L410,107.5L415.7,104.4L420.8,102.1L423.8,99.7L425.8,96.2L429.9,92.6L434.9,90.3L440,89.1L446.1,87.2L451.5,86.5L456.2,86.7L462.3,88.4L460.2,89.8L458,91.3L458.8,90.3L456,88.9L451.7,90L442,90.8L441.2,91.3L435.9,92.6L432.9,95L429.9,98.1L428.9,100.2L426.8,102.1L424.2,104.4L423.8,109.2L424.8,110.3L424.2,112.7L422.8,115.1L421.8,115.1L420.8,113.9L418.7,115.8L415.7,117.2ZM421.8,66.4L427.9,65.5L435.9,65L440,66.4L443,69L438,71.4L433.9,73.5L427.9,71.4L422.8,69ZM437,64.8L446.1,64.3L454.2,65.5L448.1,67.2L440,66.2ZM442,69.7L448.1,70.7L445.1,71.9L442,71.2Z"/>
<path fill="#2ca02c" d="M422.8,115.1L424.2,112.7L424.8,110.3L423.8,109.2L424.2,104.4L426.8,102.1L428.9,100.2L429.9,98.1L432.9,95L435.9,92.6L441.2,91.3L447.1,94.1L448.1,98.5L448.3,99L444.1,99.7L442,102.1L437,105.6L434.5,108L434.3,111L438,113.2L435.9,114.4L432.9,116.2L432.9,119.8L431.9,121.7L428.9,122.1L428.3,123.6L425.8,123.6L425.2,121.7L423.8,118.6L422.2,116.2ZM436.4,119.8L438,117.7L437.6,119.1L436.6,120Z"/>
<path fill="#2ca02c" d="M455.8,111.5L460.2,108.5L463.5,105.9L461.3,103.3L459.6,101.4L460.2,99.2L458.2,96.4L460.2,94.5L457.2,92.6L458,91.3L458.8,90.3L456,88.9L451.7,90L442,90.8L441.2,91.3L447.1,94.1L448.1,98.5L448.3,99L450.9,100.7L449.1,101.4L445.1,104.4L442.8,106.8L442.6,109.2L443,111.5L446.1,113.2L450.1,112.2Z"/>
<path fill="#ff7f0e" d="M415.9,123.3L416.1,119.8L421,118.1L420.4,121L421.6,121.4L419.3,123.8L418.7,124.9L416.9,124.7ZM421.8,123.8L424,121.9L425,122.8L424.2,124.7L422.2,124.5ZM419.3,123.3L421.4,123.3L421.2,124.4L419.8,124.3Z"/>
<path fill="#2ca02c" d="M388,136.2L393.4,134.9L397.5,134.6L402.3,133.5L401.5,132.5L402.9,130.2L399.9,129.2L399.5,127.8L396.9,125.2L396.1,123.1L395,122.1L393.4,122.1L394.4,121L395.9,118.6L392.4,118.1L391.4,118.4L393.4,116L389.4,116L387.8,118.6L387.4,121L388.4,123.3L389.8,123.3L389.6,125L392.6,125L393.4,127.3L393.2,128.5L390.2,128.5L391,130.4L388.8,132.1L392.8,133L393.8,132.8L391,133.7ZM382.9,125.7L384.7,124.3L387.4,124L388.4,125.7L386.7,126.6L384.3,126.6Z"/>
<path fill="#ff7f0e" d="M379.2,132.5L382.3,132.5L386.7,131.1L387.4,128.5L386.7,126.6L384.3,126.6L382.9,125.7L384.7,124.3L382.7,124L382.1,125.7L379.2,126.4L379.5,128.3L380.7,129L380.3,130.2L378.4,131.3Z"/>
<path fill="#1f77b4" d="M395.9,151.9L397.1,149L397.1,145.7L395,142.9L390,141L390,139.8L393.4,139.1L396.3,139.4L395.9,137L397.1,137.7L399.9,137.5L402.7,135.6L402.7,134.2L404.7,133.7L406,134.6L408,136.3L409.2,136.1L411.2,137.5L412.5,137.5L416.1,138.7L414.9,142L413.5,142.7L411.9,145.3L413.3,145.7L413.7,146L412.9,147.9L413.7,150L414.7,150.9L412.1,152.6L409.2,151.9L406.6,152.1L405.8,154L402.9,154L400.9,153.3L398.5,153.3ZM416.9,154.2L418.5,152.8L418.7,155.2L418.1,156.6L416.9,155.4Z"/>
<path fill="#2ca02c" d="M395.9,151.9L391.8,151.6L387.8,151.4L383.3,151.2L380.7,152.8L381.7,155.4L382.9,154.9L386.1,155.4L386.9,156.1L385.5,157.5L385.3,160.6L384.3,160.8L385.3,164.1L384.5,166.5L386.7,167.9L388.2,169.3L390.6,167.7L395,167.7L398.1,165.6L399.9,163L398.9,161.1L401.3,158L404,156.6L406,155.2L405.8,154L402.9,154L400.9,153.3L398.5,153.3ZM404.4,160.8L405.8,160L406.4,160.8L405.6,161.6Z"/>
<path fill="#2ca02c" d="M381.7,155.4L382.9,154.9L386.1,155.4L386.9,156.1L385.5,157.5L385.3,160.6L384.3,160.8L385.3,164.1L384.5,166.5L381.5,167L381.7,163.7L380.3,162.7L381.5,159.4Z"/>
<path fill="#ff7f0e" d="M414.7,150.9L413.7,150L412.9,147.9L413.7,146L415.5,145.7L416.5,144.8L417.7,146.2L418.3,144.8L420.6,144.3L420.8,143.6L424.2,143.4L424.6,144.1L427.2,144.6L427,146.2L427.4,146.7L424.4,147.4L424.6,150L427,151.4L428.3,154.2L430.3,155.4L432.3,155.4L431.9,156.6L435.9,158.5L437,159.7L436.6,160.4L433.9,158.7L432.9,160.6L434.1,162.3L432.9,163.7L431.9,164.9L431.3,164.6L431.7,163L432.3,161.8L431.3,159.9L429.5,158.5L428.3,158L425.8,157.1L424.2,155.7L422.2,154.2L420.8,152.8L420.2,150.7L417.3,149.5L416.1,150.5ZM424.6,164.6L426.4,164.1L431.1,163.9L430.1,167.7L427.9,166.7L424.8,165.6ZM416.1,157.8L418.1,157.1L419.3,158.7L418.9,161.8L417.7,162L416.5,162.3L416.5,159.2Z"/>
<path fill="#2ca02c" d="M413.7,128.5L416.7,127.8L416.9,124.7L418.7,124.9L419.8,125.9L421.8,126.9L424.8,125.9L426.8,125.7L428.3,127.1L428.7,128.7L428.1,129.5L429.3,130.9L429.3,132.3L429.9,133.9L428.5,133.9L424,135.6L424.8,137L427.4,139.1L425.4,140.8L425.8,142.2L424.2,142L420.8,142.4L418.9,142.2L416.7,141.7L414.9,142L416.1,138.7L412.5,137.5L411.9,136.1L412.3,135.6L411.9,134.4L411.6,132.1L413.3,131.1L413.7,130.2L414.1,128.7Z"/>
<path fill="#ff7f0e" d="M406.4,133L407.8,131.6L409,129.2L410.6,128.3L413.7,128.5L414.1,128.7L413.7,130.2L413.3,131.1L411.6,132.1L411.9,134.4L411,134.4L409.6,133L408.2,133Z"/>
<path fill="#ff7f0e" d="M404.7,133.7L406.4,133L408.2,133L409.6,133L411,134.4L411.9,134.4L412.3,135.6L411.9,136.1L411.2,137.5L409.2,136.1L408,136.3L406,134.6Z"/>
<path fill="#ff7f0e" d="M411.9,145.3L413.3,145.7L413.7,146L415.5,145.7L416.5,144.8L417.7,146.2L418.3,144.8L420.6,144.3L420.8,143.6L418.9,142.2L416.7,141.7L414.9,142L413.5,142.7Z"/>
<path fill="#2ca02c" d="M418.9,142.2L420.8,143.6L424.2,143.4L424.6,144.1L427.2,144.6L428.9,144.8L431.9,143.9L432.1,143.6L432.9,142.2L434.1,141L433.7,139.6L429.9,138.7L427.4,139.1L425.4,140.8L425.8,142.2L424.2,142L420.8,142.4Z"/>
<path fill="#d62728" d="M424,135.6L428.5,133.9L429.9,133.9L432.5,135.1L433.7,135.4L437.6,137.5L434.3,138.9L433.7,139.6L429.9,138.7L427.4,139.1L424.8,137Z"/>
<path fill="#d62728" d="M433.7,139.6L434.3,138.9L437.6,137.5L440,138.2L445.1,138.4L444.3,140.1L441,139.8L437.6,141.5L434.1,141Z"/>
<path fill="#9467bd" d="M428.3,127.1L431.9,126.2L435.9,125L437.2,125.9L439.2,125.9L445.7,125.9L447.1,126.9L447.9,129.9L447.3,131.3L447.3,132.8L448.3,134.4L445.1,138.4L440,138.2L437.6,137.5L433.7,135.4L432.5,135.1L429.9,133.9L429.3,132.3L429.3,130.9L428.1,129.5L428.7,128.7Z"/>
<path fill="#2ca02c" d="M432.1,143.6L432.9,142.2L434.1,141L437.6,141.5L441,139.8L444.3,140.1L445.9,141L440.6,145.5L437.6,146L434.9,146L432.9,144.6Z"/>
<path fill="#2ca02c" d="M427.2,144.6L428.9,144.8L431.9,143.9L432.1,143.6L432.9,144.6L431.1,146.2L427,146.9L427.4,146.7L427,146.2Z"/>
<path fill="#d62728" d="M427,146.9L427.6,148.6L428.5,147.4L429.9,149.3L430.5,150L432.7,151.6L434.9,152.8L437,154.2L436.8,153.8L435.1,152.6L434.5,151.9L432.5,150.2L431.5,148.6L431.5,147.6L433.7,147.6L438,148.3L438,147.6L437.6,146L434.9,146L432.9,144.6L431.1,146.2Z"/>
<path fill="#2ca02c" d="M431.5,147.6L433.7,147.6L438,148.3L438.8,149.8L439,151.6L438.4,151.6L437,153.8L435.1,152.6L434.5,151.9L432.5,150.2L431.5,148.6Z"/>
<path fill="#2ca02c" d="M438,147.6L437.6,146L440.6,145.5L443,147.6L445.1,149L445.5,150L444.9,152.8L444.9,154.5L443,154.7L441.2,155.4L440,153.5L438.4,151.6L439,151.6L438.8,149.8L438,148.3Z"/>
<path fill="#2ca02c" d="M437,154.2L437,153.8L438.4,151.6L440,153.5L438.8,155.4Z"/>
<path fill="#2ca02c" d="M438.8,155.4L440,153.5L441.2,155.4L441,156.8L442,158L441.4,159.7L440,160.6L438.6,159L439,156.8Z"/>
<path fill="#2ca02c" d="M441.2,155.4L443,154.7L444.9,154.5L446.1,156.8L445.5,157.3L442,158L441,156.8Z"/>
<path fill="#2ca02c" d="M440,160.6L441.4,159.7L442,158L445.5,157.3L446.1,156.8L449.1,156.4L452.8,155.9L453.4,156.8L452.1,158.2L448.9,157.8L448.1,159.2L445.9,158.7L445.3,160.4L446.5,162L448.1,164.1L448.1,165.3L446.3,164.9L446.5,166.3L445.9,168.2L444.9,168.2L443.4,167.5L442.2,165.1L443.4,163.9L442,163.7L441.4,162.5ZM447.1,170.5L450.1,170.8L452.8,171.2L450.1,171.9L447.1,171.2Z"/>
<path fill="#9467bd" d="M445.5,150L448.1,151.2L454.2,150.2L457.4,151.2L456.2,155.2L452.8,155.9L449.1,156.4L446.1,156.8L444.9,154.5L444.9,152.8Z"/>
<path fill="#2ca02c" d="M440.6,145.5L445.9,141L449.9,141.7L453.4,140.3L456.4,144.3L456.6,146.9L459.6,147.4L457.4,151.2L454.2,150.2L448.1,151.2L445.5,150L445.1,149L443,147.6Z"/>
<path fill="#d62728" d="M453.4,140.3L456.2,140.3L458.6,141.3L460.5,144.8L456.6,146.9L456.4,144.3Z"/>
<path fill="#d62728" d="M444.3,140.1L445.1,138.4L448.3,134.4L447.3,132.8L451.1,131.8L461.3,133.2L463.9,131.3L467.9,130.6L471.4,135.4L476.4,136.5L480.7,137.2L480.1,141.3L476.9,143.1L470.4,145L467.3,145.5L470.4,146.4L473.6,147.2L471.2,148.1L467.5,149.5L465.3,147.2L466.7,145.5L463.3,144.3L461.7,144.6L459.6,147.4L456.6,146.9L460.5,144.8L458.6,141.3L456.2,140.3L453.4,140.3L449.9,141.7L445.9,141Z"/>
<path fill="#d62728" d="M447.3,132.8L447.3,131.3L447.9,129.9L447.1,126.9L451.7,124.7L453.4,122.8L456.6,121.9L462.1,123.1L462.3,125.2L465.7,128L463.9,131.3L461.3,133.2L451.1,131.8Z"/>
<path fill="#d62728" d="M442.2,123.8L442,121.9L449.9,121.2L453.4,122.8L451.7,124.7L447.1,126.9L445.7,125.9L445.5,124.5Z"/>
<path fill="#d62728" d="M442,121.9L442,119.8L443.4,118.4L446.1,119.8L448.7,119.3L448.9,117.7L455,118.6L456.6,121.9L453.4,122.8L449.9,121.2Z"/>
<path fill="#d62728" d="M448.9,117.7L447.1,115.8L446.9,114.6L451.7,113.6L456.6,114.1L455,115.8L455,118.6ZM444.1,116.2L446.1,116L445.7,117.2L444.1,117.4Z"/>
<path fill="#9467bd" d="M460.2,89.8L466.3,90.5L472.4,91L482.5,95L482.5,97.4L476.4,98.5L466.3,96.9L470,102.1L474.4,103.3L480.5,101.6L480.5,98.5L488.6,98.1L488.6,92.6L492.6,93.8L494.7,96.4L506.8,92.6L517,91.9L522,89.6L529.1,90.8L535.2,92.4L538.2,87L535.2,83.2L546.3,82.5L546.3,86.7L549.4,92.6L545.3,97.8L549.4,95L551.4,83.2L561.5,83.2L565.5,87.9L569.6,80.8L575.7,77.3L591.9,74.9L610.1,70.9L616.2,73.8L628.3,76.1L629.3,80.8L614.1,81.5L628.3,80.8L642.5,82L656.7,83.2L658.7,80.8L662.8,86.7L668.8,85.6L683,83.2L703.2,85.6L723.5,89.8L743.8,89.6L744.8,91.9L760,90.3L764,91.5L774.1,95L784.9,98.5L778.2,102.1L768,99.7L762,102.1L757.9,106.8L747.8,110.3L743.8,112.7L735.6,112.7L730.6,117.4L729.6,122.1L727.5,125.2L723.5,129.2L716.8,133.9L715.4,129.2L714.4,123.3L716.4,118.6L723.5,113.9L729.6,109.2L731.6,106.8L723.5,110.3L715.4,112.7L713.4,114.4L705.3,114.4L697.2,114.4L689.1,114.4L679,122.1L674.9,125.7L681,126.9L685.6,130.4L684,136.3L683,139.8L679,146.9L673.9,151.6L668.8,153.5L664.8,153.8L664.2,154.5L664.8,152.8L665.2,148.6L668.8,148.1L672.5,140.3L664.8,141.7L663.8,139.1L657.7,136.8L654.6,130.4L649.6,128L644.5,128.5L644.1,129.7L640.9,135.6L638,137.5L635.8,136.8L630.4,135.8L622.2,138.2L614.1,135.6L606.5,133.2L599,131.6L598,136.3L591.9,136.3L585.8,134.4L577.3,138.2L576.3,138.4L572.6,136.3L569.6,134.4L561.5,133.9L555.4,128L548.3,126.9L543.3,126.4L543.3,124L539.2,123.8L531.1,125.7L523,126.9L524,133.9L520,134.9L510.9,133.9L503.8,132.8L497.7,136.3L494.3,139.8L499.5,144.6L496.7,145.7L495.7,146.9L494.7,149.3L495.7,152.8L497.7,155.4L494.7,156.4L493.3,155.4L489.6,153.5L486.6,152.3L480.5,151.9L477.5,149.5L474.4,148.1L476.4,145.7L478.5,142.9L476.9,143.1L480.1,141.3L480.7,137.2L476.4,136.5L471.4,135.4L467.9,130.6L463.9,131.3L465.7,128L462.3,125.2L462.1,123.1L456.6,121.9L455,118.6L455,115.8L456.6,114.1L457.2,113.4L460.7,112.9L457.2,111.5L455.8,111.5L460.2,108.5L463.5,105.9L461.3,103.3L459.6,101.4L460.2,99.2L458.2,96.4L460.2,94.5L457.2,92.6L458,91.3ZM439.2,125.9L440,124.5L442.2,123.8L445.5,124.5L445.7,125.9ZM503.8,84.9L504.8,82.5L510.9,77.3L521,74.2L533.1,72.6L539.2,73.1L531.1,75.4L521,77.3L514.9,80.8L512.9,84.4L515.9,87.4L507.8,87.2ZM591.9,63.6L600,68.3L612.1,69.5L608.1,66.7L602,63.6ZM676.9,76.1L689.1,77.3L703.2,76.8L695.1,74.9L683,74.5ZM761,85.6L764,86.7L769.1,86.3L766,85.3ZM687,126.2L689.7,130.4L690.1,136.3L692.1,138.7L689.1,143.4L690.1,145.7L687,145.7L687,141L687,135.1L686.6,130.4ZM494.7,63.6L510.9,63.1L525,63.1L517,65L500.8,65Z"/>
<path fill="#8c564b" d="M480.5,151.9L486.6,152.3L489.6,153.5L493.3,155.4L493.7,157.3L490.6,157.1L487.6,157.3L483.5,156.4Z"/>
<path fill="#d62728" d="M487.6,157.3L490.6,157.1L491.6,158.5L493.7,161.1L493.5,162.5L490.2,160.6L487.8,159.7Z"/>
<path fill="#d62728" d="M490.6,157.1L493.7,157.3L493.3,155.4L494.7,156.4L497.7,155.4L499.7,158.5L501.4,159L499.3,161.6L498.5,163.7L496.7,162.7L496.7,160.8L493.5,162.5L493.7,161.1L491.6,158.5Z"/>
<path fill="#d62728" d="M499.5,144.6L494.3,139.8L497.7,136.3L503.8,132.8L510.9,133.9L520,134.9L524,133.9L523,126.9L531.1,125.7L539.2,123.8L543.3,124L543.3,126.4L548.3,126.9L555.4,128L561.5,133.9L569.6,134.4L572.6,136.3L576.3,138.4L573,140.1L572.6,143.1L567.6,142.9L566.2,146.9L562.1,148.1L563.1,152.3L561.9,154.7L559.9,153.3L555.4,153.1L551.4,153.1L548.5,152.8L548.3,154L543.3,154L543.3,154.5L542.3,155.2L539.2,156.6L537.6,158L537.2,157.5L534.2,155.4L533.1,155.2L533.4,152.8L530.9,151.2L525,151.6L523,149.8L518.2,146.7L512.9,148.1L512.9,156.8L511.7,156.8L510.5,155.2L506.8,155.2L505.6,155.9L505.8,154L502.8,152.8L501.4,149.8L503.2,149.3L502.8,148.1L506.8,147.4L506.8,143.9L502.8,143.4Z"/>
<path fill="#9467bd" d="M512.9,156.8L512.9,148.1L518.2,146.7L523,149.8L525,151.6L530.9,151.2L533.4,152.8L533.1,155.2L534.2,155.4L537.2,157.5L537.6,158L539.2,156.6L542.3,155.2L543.3,154.5L514.9,156.8L516.7,154.7L518,153.5L521.6,154.7L521.2,156.6L524.8,157.1L526.1,159.9L530.1,162.5L534.2,166.3L536.8,166.5L537.6,163.9L536,161.6L538.2,161.1L539.2,159.4L539.8,158L542.1,157.5L542.5,159.4L544.7,159.4L547.3,158L543.3,154.5Z"/>
<path fill="#d62728" d="M505.6,155.9L506.8,155.2L510.5,155.2L511.7,156.8L512.9,156.8L514.9,156.8L516.7,154.7L518,153.5L521.6,154.7L521.2,156.6L524.8,157.1L526.1,159.9L530.1,162.5L534.2,166.3L530.1,168.6L527.1,169.8L525.7,171L523.4,170.3L523.4,167.9L519.6,165.8L517,165.3L512.9,164.4L508.6,166.3L508.6,162.5L506.8,161.1L507.4,158.2L506.4,157.1Z"/>
<path fill="#d62728" d="M543.3,154L548.3,154L548.5,152.8L551.4,153.1L555.4,153.1L559.9,153.3L561.9,154.7L557.5,157.5L555,157.5L553.2,159.2L549.4,159.7L548.9,161.1L544.9,161.3L540,160.8L542.5,159.4L544.7,159.4L547.3,158L543.3,154.5Z"/>
<path fill="#d62728" d="M536.8,166.5L537.6,163.9L536,161.6L538.2,161.1L539.2,159.4L539.8,158L542.1,157.5L542.5,159.4L540,160.8L544.9,161.3L548.9,161.1L551.2,163.4L551.2,166.5L548.3,166L544.5,167.7L543.9,164.6L541.9,163.7L541.7,165.6L539.8,166.7L537.2,167Z"/>
<path fill="#2ca02c" d="M577.3,138.2L577.7,139.6L583.2,143.4L583.8,147.6L592.9,150L594.7,153.5L603,153.5L612.1,156.1L622.2,153.5L625.3,151.4L626.1,148.1L630.4,148.1L637.2,144.8L642.1,144.1L639.5,141.3L634.4,141.5L633.4,140.5L635.8,136.8L630.4,135.8L622.2,138.2L614.1,135.6L606.5,133.2L599,131.6L598,136.3L591.9,136.3L585.8,134.4L577.3,138.2Z"/>
<path fill="#ffffff" d="M452.3,158.2L452.8,155.9L456.2,155.2L458.4,157.1L463.3,156.8L467.3,155.2L470.4,154.9L473.4,156.8L477.5,157.5L483.5,156.4L487.6,157.3L487.8,159.7L490.2,160.6L488.8,161.3L489.6,163.9L489.2,164.9L490.2,166.5L485.4,166.7L480.5,167.5L476.4,167.5L473.8,167.5L473.6,168.9L472.2,169.6L472.8,167.9L469.6,167.5L465.9,169.3L464.3,168.2L461.5,167.5L460.9,168.6L458.2,167.7L456.2,167.7L454.8,167L454.6,164.9L452.8,163.9L454,163.4L453.6,161.6L452.4,161.1L452.6,159.9L454.8,159L458.2,159L460,158.2L458.4,157.5L455.2,157.7L453.6,159Z"/>
<path fill="#2ca02c" d="M464.9,171.7L466.3,170.9L469.6,170L468.4,171.7L466.3,172.6Z"/>
<path fill="#ff7f0e" d="M472.2,169.6L473.6,168.9L473.8,167.5L476.4,167.5L480.5,167.5L485.4,166.7L483.1,168.4L482.9,172.2L478.1,175.5L474,178.1L472.2,177.1L472,175.7L473.6,173.6L472.4,172.6Z"/>
<path fill="#ff7f0e" d="M470.6,176.2L472,175.7L473.6,173.6L472.4,172.6Z"/>
<path fill="#ff7f0e" d="M469,180.4L470.2,184.7L471.2,181.1L471.4,177.8L472.2,177.1L472,175.7L470.6,176.2L469.8,178.8Z"/>
<path fill="#2ca02c" d="M470.3,184.9L472.4,185.4L475.4,183.5L474.4,180L478.5,178.8L478.1,175.5L474,178.1L472.2,177.1L471.4,177.8L471.2,181.1Z"/>
<path fill="#2ca02c" d="M485.4,166.7L490.2,166.5L491.4,169.6L492.6,171.5L491.6,174.1L493.3,176.4L496.3,179.3L496.1,181.1L497.7,183.7L496.5,183.5L494.7,183.7L493.7,185.6L490,185.4L484.6,180.9L481.3,179L478.5,178.8L478.1,175.5L482.9,172.2L483.1,168.4Z"/>
<path fill="#2ca02c" d="M493.7,185.6L494.7,183.7L496.5,183.5L497.5,187L495.9,187Z"/>
<path fill="#2ca02c" d="M470.2,184.9L472.4,185.4L475.4,183.5L474.4,180L478.5,178.8L481.3,179L484.6,180.9L490,185.4L493.7,185.6L495.9,187L497.5,187L498.7,189.4L501.2,192L502.4,195.8L503.4,196.2L504,197.2L506,200.3L511.3,200.7L512.1,202.4L510.9,207.1L504.8,209.5L498.7,210.4L497.1,211.3L494.7,214.4L488.6,213.2L487,213.2L486.2,215.6L484.6,211.8L482.1,207.6L478.9,203.6L477.5,198.1L474.8,194.8L471.4,189.4L469.6,188Z"/>
<path fill="#2ca02c" d="M486.2,215.6L487,213.2L488.6,213.2L494.7,214.4L497.1,211.3L498.7,210.4L504.8,209.5L507,215L505.2,217.5L498.7,221.3L490.6,224.1L487.6,224.3L487,222.9L486.2,218.9Z"/>
<path fill="#2ca02c" d="M507,215L504.8,209.5L510.9,207.1L512.1,202.4L511.3,200.7L512.9,197.4L513.7,195.5L518.2,198.6L520.6,201.2L518,206.2L516.5,209.5L513.5,212.1L510.9,214.2Z"/>
<path fill="#2ca02c" d="M504,197.2L506,200.3L511.3,200.7L512.9,197.4L513.7,195.5L513.3,192.9L510.9,194.8L509.9,196.7L505.8,197.2Z"/>
<path fill="#2ca02c" d="M502.4,195.8L502.4,193.9L503.4,192.7L504,194.6L503.4,196.2Z"/>
<path fill="#2ca02c" d="M488.8,161.3L490.2,160.6L493.5,162.5L496.7,160.8L496.7,162.7L498.5,163.7L500.8,166L503.8,167.7L508.9,167.2L508.6,166.3L512.9,164.4L517,165.3L519.6,165.8L523.4,167.9L523.4,170.3L523,174.1L522.2,176.4L522.8,180L524.6,180.2L522.8,184L526.7,187.7L527.7,190.1L527.5,191.5L524.2,194.8L519,194.4L515.5,193.9L514.7,190.3L513.5,190.1L510.3,191.8L506.8,191.3L503.8,188.7L502.4,186.1L501,183L498.5,182.6L497.7,183.7L496.1,181.1L496.3,179.3L493.3,176.4L491.6,174.1L492.6,171.5L491.4,169.6L490.2,166.5L489.2,164.9L489.6,163.9Z"/>
<path fill="#2ca02c" d="M523.4,170.3L525.7,171L527.1,169.8L530.1,168.6L534.2,166.3L536.8,166.5L537.2,167L539.8,166.7L541.7,165.6L541.9,163.7L543.9,164.6L544.5,167.7L548.3,166L551.2,166.5L549.4,167.5L544.5,168.4L543.5,173.8L541,174.1L541.9,175.7L539.8,179L537.2,179.5L534,181.4L533.8,183.7L529.1,184.7L526.1,184.9L522.8,184L524.6,180.2L522.8,180L522.2,176.4L523,174.1L523.4,170.3Z"/>
<path fill="#d62728" d="M522.8,184L526.1,184.9L529.1,184.7L533.8,183.7L534,181.4L537.2,179.5L539.8,179L541.9,175.7L541,174.1L543.5,173.8L544.5,168.4L549.4,167.5L551.2,166.5L553.4,168.2L557,170.5L555.2,172.4L549.4,172.4L549.4,176.4L552.2,178.1L550.4,180.9L547.3,183.7L545.1,188.5L542.1,188.2L540.2,190.6L543.1,193.6L543.3,196.7L538.8,197L537.6,198.4L535.2,195.8L534.2,194.4L530.1,194.8L524.2,194.8L527.5,191.5L527.7,190.1L526.7,187.7L522.8,184Z"/>
<path fill="#2ca02c" d="M537.6,198.4L538.8,197L543.3,196.7L543.1,193.6L540.2,190.6L542.1,188.2L545.1,188.5L547.3,183.7L550.4,180.9L552.2,178.1L549.4,176.4L549.4,172.4L555.2,172.4L557,170.5L559.3,173.4L559.5,177.6L558.9,180.4L563.5,183L561.7,186.3L564.5,188.2L568.2,189.6L571.6,191.1L577.9,192L577.9,188.5L579.3,189.9L579.7,191.3L585.8,191.1L586,189.4L585.8,188.7L589.9,185.4L594.3,184.9L596.5,187.7L594.1,189.9L592.3,191.8L591.1,195.3L588.4,197.7L588.6,201.9L587,202.6L586.4,198.4L584.2,198.4L585,197.2L586.6,195.3L581.3,194.6L581.3,192.9L578.5,191.8L577.9,193.4L579.5,194.8L577.9,196.5L579.3,199.5L579.7,202.6L575.7,203.6L575.3,206.4L571.8,208.8L566.2,214.9L561.9,217.7L562.1,223.4L561.1,230L559.5,232.4L557.9,233.3L556.5,235.2L554,230.9L551,223.9L548.3,216.5L546.9,209.5L546.5,204.7L546.3,203.1L545.5,204.5L542.9,205.4L539,201.7L541.9,200L538.2,199.1Z"/>
<path fill="#2ca02c" d="M561.7,186.3L563.5,183L566,183.3L569.6,186.1L573.6,188.2L577.9,188.5L577.9,192L571.6,191.1L568.2,189.6L564.5,188.2Z"/>
<path fill="#2ca02c" d="M579.3,189.9L581.3,187.7L585,188.5L586,189.4L585.8,191.1L579.7,191.3Z"/>
<path fill="#2ca02c" d="M587,202.6L586.4,198.4L584.2,198.4L585,197.2L586.6,195.3L581.3,194.6L581.3,192.9L578.5,191.8L577.9,193.4L579.5,194.8L577.9,196.5L579.3,199.5L579.7,202.6L582.4,202.6L583,201.2L585.4,201.7L586.4,205.4Z"/>
<path fill="#2ca02c" d="M561.3,231.4L562.1,231.6L564.1,234.2L565.3,237.1L564.7,239.2L562.7,240.4L561.3,238.7L560.9,235.4Z"/>
<path fill="#2ca02c" d="M664.2,154.5L664.8,152.8L665.2,148.6L668.8,148.1L672.5,140.3L664.8,141.7L663.8,139.1L657.7,136.8L654.6,130.4L649.6,128L644.5,128.5L644.1,129.7L640.9,135.6L638,137.5L635.8,136.8L633.4,140.5L634.4,141.5L639.5,141.3L642.1,144.1L637.2,144.8L630.4,148.1L626.1,148.1L625.3,151.4L622.2,153.5L612.1,156.1L603,153.5L594.7,153.5L592.9,150L583.8,147.6L583.2,143.4L577.7,139.6L577.3,138.2L576.3,138.4L573,140.1L572.6,143.1L567.6,142.9L566.2,146.9L562.1,148.1L563.1,152.3L561.9,154.7L557.5,157.5L555,157.5L553.2,159.2L549.4,159.7L548.9,161.1L551.2,163.4L551.2,166.5L553.4,168.2L557,170.5L559.3,173.4L559.5,177.6L558.9,180.4L563.5,183L566,183.3L569.6,186.1L573.6,188.2L577.9,188.5L579.3,189.9L581.3,187.7L585,188.5L585.8,188.7L589.9,185.4L594.3,184.9L596.5,187.7L599.4,189.2L599.4,192.9L597.1,195.8L597.5,197.9L599.8,199.5L600.4,202.1L602.2,203.6L604.4,204.3L605.6,204.3L605.6,201.2L606.5,201.4L609.1,200.7L612.7,199.3L615.6,200.5L618.2,203.6L621.4,203.6L621.6,206.4L622.9,206.4L623.3,204.3L629.3,201.9L630.8,201.7L635.8,199.3L638.7,196.5L641.7,192.9L643.9,188.2L646.3,183.7L644.1,182.8L646.3,180.7L644.3,177.4L643.1,173.4L640.9,171.7L643.1,169.1L647.8,166L645.3,165.6L640.5,166.3L638.5,164.1L638,162L641.1,161.1L644.5,158L647,158.7L645.7,162.5L651.4,160.1L654.6,157.1L656.5,155.7L658.7,156.4L658.7,155.2L662.1,154L664.2,154.5ZM619.6,209L621.4,207.1L624.3,207.3L623.3,210.2L621.2,211.3L619.6,210.4Z"/>
<path fill="#ff7f0e" d="M645.5,194.8L646.5,195.8L644.3,202.4L642.7,200L643.9,196.5Z"/>
<path fill="#2ca02c" d="M651.4,160.1L654.6,157.1L656.5,155.7L658.7,156.4L658.7,155.2L662.1,154L664.2,154.5L662.1,157.5L657.7,160.4L659.5,163.2L656.1,165.1L652.6,165.1L653.2,163L652.8,160.8Z"/>
<path fill="#ff7f0e" d="M656.1,165.1L659.5,163.2L661.5,167L661.5,170.5L660.7,171.5L657.7,172.4L655.3,172.9L655.5,168.2L655.9,167Z"/>
<path fill="#ff7f0e" d="M685.8,156.6L687,161.1L685,163.9L684.8,167.2L684.6,170L682.8,171.9L681.4,171.5L680.6,172.6L677.9,172.6L676.7,173.4L674.5,175.2L673.3,172.6L669.8,173.1L667.6,173.4L664.6,174.1L665.8,172.6L668.8,170.5L673.5,170.3L674.9,169.3L676.5,166.3L677.5,167.5L680,166L682,163.4L683,159.9L683,158.5L683.6,157.1ZM683.4,156.4L683,154L683.6,152.1L685.8,152.1L686.4,147.2L689.1,149.3L693.7,149.8L694.3,152.1L691.1,153.1L689.5,155.2L686.6,153.8L684.8,154.2L685,155.7ZM664.6,174.3L666.2,175L666.8,176.9L665.4,180.2L664,180.9L663.2,178.8L662.1,176.9L662.3,175.2ZM667.8,174.1L671.5,173.4L672.3,174.5L671.3,175.7L668.8,176.9L667.4,175.5Z"/>
<path fill="#2ca02c" d="M586.4,205.4L587,202.6L588.6,201.9L588.4,197.7L591.1,195.3L592.3,191.8L594.1,189.9L596.5,187.7L599.4,189.2L599.4,192.9L597.1,195.8L597.5,197.9L599.8,199.5L600.4,202.1L602.2,203.6L604.4,204.3L602.2,206.4L600,207.1L598,207.8L597.3,210.6L599.4,214.2L598.4,218.4L600.4,223.6L601.2,226.5L599.4,230.7L599,226L598.2,222L597.3,217L596.3,214.7L593.9,215.4L592.5,217L590.5,216.5L590.9,212.3L589.4,208.3L587.6,206.4Z"/>
<path fill="#d62728" d="M599.4,230.7L601.2,226.5L600.4,223.6L598.4,218.4L599.4,214.2L597.3,210.6L598,207.8L600,207.1L602.2,206.4L603.2,208.3L604.4,208.3L604,212.3L606.3,211.3L607.5,212.1L610.1,211.1L611.7,213.2L611.7,215.6L613.3,217.7L613.1,220.3L611.9,220.6L608.1,220.6L606.9,222.2L607.9,226.7L606,224.8L604,224.3L603.8,222.7L603,222.4L602,222.9L601.8,226L600.4,229.5L600.6,232.6L602,234.2L602.8,237.3L605.2,238L606.3,239.7L604.2,240.8L602.4,239L600.6,236.8L598.6,235.7L598.6,233.1Z"/>
<path fill="#2ca02c" d="M604.4,204.3L605.6,204.3L605.6,201.2L606.5,201.4L607.9,203.1L610.1,205L611.3,206.2L610.1,208L612.5,210.4L615.4,214.4L617.2,216.8L617.4,219.6L617.2,220.3L614.1,220.6L613.1,220.3L613.3,217.7L611.7,215.6L611.7,213.2L610.1,211.1L607.5,212.1L606.3,211.3L604,212.3L604.4,208.3L603.2,208.3L602.2,206.4L602.2,203.6Z"/>
<path fill="#2ca02c" d="M606.5,201.4L609.1,200.7L612.7,199.3L615.6,200.5L618.2,203.6L615.6,205.4L613.7,209.5L615.2,212.5L618.6,216.3L620.6,221.7L620.8,226L618.2,229L615.8,230L612.5,234L611.9,231.2L611.1,229.8L612.3,228.3L614.6,228.3L613.9,226.7L617.2,225.3L617.2,220.3L617.4,219.6L617.2,216.8L615.4,214.4L612.5,210.4L610.1,208L611.3,206.2L610.1,205L607.9,203.1L606.5,201.4Z"/>
<path fill="#2ca02c" d="M607.9,226.7L606.9,222.2L608.1,220.6L611.9,220.6L613.1,220.3L614.1,220.6L617.2,220.3L617.2,225.3L613.9,226.7L614.6,228.3L612.3,228.3L611.1,229.8L609.3,229.5L608.3,228.3Z"/>
<path fill="#2ca02c" d="M602.4,239L604.2,240.8L606.3,239.7L608.9,243.7L609.1,247.7L610.5,251L609.1,251.2L604.6,247.7L603.2,244.4L602.6,241.3ZM621.4,249.8L622.9,250.3L624.7,251L625.1,248.6L628.3,246.7L630.4,243.4L633.6,241.3L635.8,237.8L637.8,239.7L640.9,241.8L638.9,244.2L637.6,244.4L633.6,244.4L633.8,247.2L631.6,250.8L628.3,251L625.9,252.2L623.3,252.2L621.4,249.8Z"/>
<path fill="#2ca02c" d="M592.5,241.1L596.9,242L599.4,245.6L602.8,249.1L605,250.3L608.9,253.1L609.3,256.7L611.3,258.8L614.1,261.4L613.7,268L611.3,268L606.7,263.7L602.8,256.7L599.4,250.3L596.3,246.7L592.9,243ZM612.5,270.3L614.4,268.2L619,270.1L623.3,270.6L624.3,269.4L627.5,270.6L631.4,272.5L631.2,274.8L625.9,273.9L619.4,272.7L615,271.8ZM621.4,249.8L623.3,252.2L625.9,252.2L628.3,251L631.6,250.8L633.8,247.2L633.6,244.4L637.6,244.4L638.5,248.9L640.5,251.9L638,252.4L637.4,256.2L635.4,257.8L634.8,262.1L634.4,263.7L631.6,264L629.3,262.3L625.9,262.6L622.7,261.1L622.2,257.8L620.4,255.5L620,252.2ZM642.1,252.4L644.1,251.2L648.6,252.2L653,250.8L651.2,253.4L644.5,253.1L642.9,254.3L642.7,256.4L645.5,256.4L649.2,256.4L645.7,258.8L647.4,262.1L649,264.9L646.5,265.6L645.5,263.7L644.3,260.7L643.3,262.6L643.3,267.5L641.3,267.3L641.5,262.6L640.1,260.7L642.1,254.5ZM665.2,256.2L668.4,255.2L670.8,256.2L671.3,259.7L672.9,262.1L677.9,258.1L685,260.4L685,275.8L681,273.4L679.4,274.1L678.5,271.5L680.6,270.3L679,267.3L673.9,264.7L668.8,264L668.4,260.9L669.8,260.2L666.8,260.9L666.6,258.1L664.6,257.6ZM631.4,273.7L635.8,273.9L640.5,274.1L648.2,273.9L648.2,275.1L640.5,275.1L634.4,275.3L631.6,274.8ZM649.6,278.6L651.6,276L652.6,277.2ZM657.7,251.9L658.7,249.6L659.7,251.9L658.7,255.5ZM658.7,261.1L664.4,262.1L661.7,262.6L658.7,262.3ZM641.1,276.7L644.1,277.7L642.5,278.4Z"/>
<path fill="#2ca02c" d="M651.6,276L657.3,274.1L656.3,275.5L652.6,277.2Z"/>
<path fill="#2ca02c" d="M685,260.4L692.1,263.3L694.7,266.8L698.8,268.5L699,270.1L697.2,270.6L699.2,273.9L704.9,278.6L701.2,278.4L697.6,276.7L695.1,273.4L692.1,272.2L690.1,273.9L688.7,276.2L685,275.8ZM699.8,267.5L703.2,267.3L707.7,264.2L707.9,266.1L704.3,268.9L701.2,268.9ZM704.9,260.4L708.3,263.3L709.3,265.4L708.1,263.7L705.1,261.1ZM712.8,267.3L715.2,270.3L713.8,269.6Z"/>
<path fill="#d62728" d="M643.5,210.6L647,210.9L647.2,215.4L645.7,217.7L646.1,220.8L650.4,221.7L650.8,224.6L648.6,222.9L646.5,221.7L643.9,221.7L644.3,219.8L642.5,218.9L642.1,215.8L643.3,214.7L643.3,212.3ZM646.3,238L648.4,234.7L650.2,235.2L652,234L653.6,231.2L655.5,234.7L655.3,239.4L653.8,238.7L653.4,241.1L651,239.7L650.6,237.3L649.4,236.8ZM651.2,224.8L653.2,224.8L654,228.1L653,230.2L652.2,227.9ZM646.5,226.5L648.8,227.2L649.2,232.4L647.6,231.2L646.5,229.5ZM636.8,234.5L641.5,228.8L641.1,227.6L637.4,232.6ZM643.3,222.7L645.3,222.9L644.9,225.3L644.1,224.6Z"/>
<path fill="#2ca02c" d="M630.4,243.4L632.8,242.5L632.8,244.2L631.4,244.9Z"/>
<path fill="#2ca02c" d="M387.6,169.8L388.8,169.6L395,171.5L396.1,172.9L397.1,178.1L392,181.4L389.4,183.5L381.9,186.6L381.9,189L372.8,189L375.2,188L378.8,185.2L379.9,182.6L379.7,180.2L380.7,177.6L384.1,175L385.7,173.8L387.4,171.2Z"/>
<path fill="#2ca02c" d="M372.8,189L370.1,192.9L367.1,198.4L365,205.2L365.1,204L370.9,204L372.4,200.7L374.2,195.8L376.8,192.5L381.9,190.6L381.9,189Z"/>
<path fill="#2ca02c" d="M381.9,190.6L376.8,192.5L375.2,194.4L375.2,192.9L381.9,192.9ZM375.2,194.4L374.2,195.8L372.4,200.7L370.9,204L373.2,204L373.2,200L375.2,198.8Z"/>
<path fill="#2ca02c" d="M365,205.2L365.1,204L373.2,204L373.2,200L375.2,198.8L375.2,192.9L381.9,192.9L381.9,189.9L389.8,195.3L386.3,195.3L388.4,217.7L380.7,217.7L377.8,218L376.2,217.5L374.8,219.4L372.6,216.5L370.1,215.1L366.1,216.3L367.1,211.8L366.7,208.5L366.1,207.1Z"/>
<path fill="#2ca02c" d="M366.1,216.3L370.1,215.1L372.6,216.5L374.8,219.4L376.4,225L375.2,225L371.8,224.6L368.1,224.8L365.7,225L365.5,223.4L364.1,219.6L365.5,217.7Z"/>
<path fill="#2ca02c" d="M365.7,225L368.1,224.8L371.8,224.6L371.8,226.7L369.1,228.6Z"/>
<path fill="#2ca02c" d="M369.1,228.6L371.8,226.7L371.8,224.6L375.2,225L376.4,225L378.6,225.5L380.7,225L382.7,228.3L383.3,230.2L384.1,234.5L382.7,236.4L380.5,236.8L380.5,234.5L378.6,234.2L378,232.8L376.8,230.7L374.2,230.9L372.6,233.1Z"/>
<path fill="#2ca02c" d="M372.6,233.1L374.2,230.9L376.8,230.7L378,232.8L378.6,234.2L376.2,238L374.2,236.8L372.8,234.5Z"/>
<path fill="#2ca02c" d="M376.2,238L378.6,234.2L380.5,234.5L380.5,236.8L382.7,236.4L382.3,239L384.3,240.6L384.3,243.9L381.3,242.5L377.6,239.4Z"/>
<path fill="#ffffff" d="M384.3,243.9L384.3,240.6L382.3,239L382.7,236.4L384.1,234.5L383.3,230.2L386.9,229.3L388.4,229.8L390,231.4L393.8,231.6L394,235.7L393,239L393.8,242.3L391.4,242L387.4,243Z"/>
<path fill="#2ca02c" d="M393.8,242.3L393,239L394,235.7L393.8,231.6L393.6,228.3L399.3,228.1L400.5,230.7L400.7,234.9L400.5,238L401.9,239.9L399.5,241.1L395.4,243Z"/>
<path fill="#2ca02c" d="M401.9,239.9L400.5,238L400.7,234.9L400.5,230.7L399.3,228.1L401.3,228.3L401.1,230L402.3,232.4L402.7,238L402.7,239.7Z"/>
<path fill="#2ca02c" d="M402.7,239.7L402.7,238L402.3,232.4L401.1,230L401.3,228.3L404.2,225.5L405.2,225L406.8,226.7L407.2,229.3L405.2,233.1L405,239.2Z"/>
<path fill="#2ca02c" d="M388.4,229.8L390,231.4L393.8,231.6L393.6,228.3L399.3,228.1L401.3,228.3L404.2,225.5L404,224.3L401.3,222.2L399.9,218.9L398.1,218.7L395.4,220.8L392.4,222.9L390.8,223.1L388.8,226.5L388.4,229.8Z"/>
<path fill="#2ca02c" d="M374.8,219.4L376.2,217.5L377.8,218L380.7,217.7L388.4,217.7L386.3,195.3L389.8,195.3L401.8,204.5L401.9,205.4L406,207.6L406.2,209.5L408.1,209.1L408,214.4L406.6,218L399.9,218.9L398.1,218.7L395.4,220.8L392.4,222.9L390.8,223.1L388.8,226.5L388.4,229.8L386.9,229.3L383.3,230.2L382.7,228.3L380.7,225L378.6,225.5L376.4,225Z"/>
<path fill="#2ca02c" d="M408.1,209.1L408,214.4L406.6,218L399.9,218.9L401.3,222.2L404,224.3L404.2,225.5L405.2,225L406.8,226.7L407.6,222.4L410.6,221.5L415.7,222.9L419.8,222.9L424.8,223.6L427,222L426.8,220.3L430.9,214.4L431.9,206.2L429.9,200L423.8,198.8L414.7,205L411.2,208.5Z"/>
<path fill="#2ca02c" d="M405,239.2L405.2,233.1L407.2,229.3L406.8,226.7L407.6,222.4L410.6,221.5L415.7,222.9L419.8,222.9L424.8,223.6L427,222L428.3,225L429.1,227.2L426.4,230.7L425.4,234L423.4,237.8L420.8,237.8L419.3,238.3L417.3,240.6L416.7,243.2L413.7,243.9L411.6,244.2L409.6,240.6L408.4,239.4L406.4,239.2Z"/>
<path fill="#2ca02c" d="M416.7,243.2L417.3,240.6L419.3,238.3L420.8,237.8L423.4,237.8L425.4,234L426.4,230.7L429.1,227.2L428.3,225L428.3,225L428.3,223.6L429.9,225.7L430.1,228.8L430.9,230.7L427.9,231.4L430.9,236.6L428.9,240.1L429.3,243.4L432.1,249.1L432.3,250.3L426.4,249.1L422.4,249.1L419.3,248.9L419.1,245.8L419.1,244.9Z"/>
<path fill="#ff7f0e" d="M419.3,248.9L422.4,249.1L422.4,251.9L418.9,251.9Z"/>
<path fill="#2ca02c" d="M418.9,251.9L422.4,251.9L422.4,249.1L426.4,249.1L426.2,251.2L428.7,251L428.7,255.5L428.7,258.8L425.8,260L423,260L423.6,262.6L422,263.5L418.9,260L417.3,256L418.3,253.6Z"/>
<path fill="#2ca02c" d="M422,263.5L423.6,262.6L423,260L425.8,260L428.7,258.8L428.7,255.5L428.7,251L426.2,251.2L426.4,249.1L432.3,250.3L432.1,249.1L432.9,246.7L437.2,246L435.9,249.6L435.5,254.3L432.3,259L431.9,262.6L430.3,264.4L428.7,265.9L425.8,265.2L424.2,268L423.8,266.1Z"/>
<path fill="#2ca02c" d="M424.2,268L425.8,265.2L428.7,265.9L430.3,264.4L431.9,262.6L432.3,259L435.5,254.3L435.9,249.6L437.2,246L437.2,244.2L439,242.3L445.1,244.6L449.1,242.3L455,242.3L457,244.2L459.2,243.7L461.9,246L462.1,248.6L462.9,249.3L460,252.9L459.4,257.6L458.6,260.7L458.6,264.7L459.4,268.5L461.9,273.7L458,274.4L457.4,277L457,282.1L459.8,283.1L459.8,285.9L457,283.8L454.6,282.1L450.7,280.7L448.9,281L448.1,280L444.5,280.7L443.6,273.2L438.8,273.2L438,270.8L433.1,270.8L433.1,268.2L426.2,268.2L424.2,268Z"/>
<path fill="#2ca02c" d="M424.2,268L426.2,268.2L433.1,268.2L433.1,270.8L438,270.8L438.8,273.2L443.6,273.2L444.5,280.7L448.1,280L448.1,285L444.1,285L444.1,292.5L446.9,295.8L442.8,296.8L437,295.4L427.9,295.4L423.4,295L423.4,291.6L424.8,286.2L427.4,280.3L426.2,275.1L424.4,268.7ZM423.8,266.1L424.2,268L425.8,265.2L425,264.7Z"/>
<path fill="#2ca02c" d="M423.4,295L427.9,295.4L437,295.4L442.8,296.8L446.9,295.8L450.5,296.3L446.7,296.8L442,297.5L442,306.2L440,306.2L440,312.8L440,321.3L434.7,322L432.9,321.8L430.3,318L428.9,308.1L426.2,302.7L423.4,296.8Z"/>
<path fill="#2ca02c" d="M450.5,296.3L446.7,296.8L442,297.5L442,306.2L440,306.2L440,312.8L441.4,317.8L446.1,314L451.1,314.7L454.2,310.2L458.8,306.7L455.6,302.7L452.6,300.8L450.5,296.3Z"/>
<path fill="#2ca02c" d="M432.9,321.8L434.7,322L440,321.3L440,312.8L441.4,317.8L446.1,314L451.1,314.7L454.2,310.2L458.8,306.7L462.9,307.2L464.3,312.1L464.1,315.4L462.3,315.7L461.9,317.3L462.9,318.7L464.5,317.5L466.1,317.8L465.1,321.6L462.3,324.9L460.2,328.2L456,332.2L451.5,334.5L444.5,334.8L440,336.4L437,335.2L436.6,331.5L436.4,329.1L434.1,324.4Z"/>
<path fill="#9467bd" d="M450.5,296.3L454.2,296.5L458,292.1L461.1,291.1L462.9,292.1L466.3,293.7L466.1,298L465.7,302.7L462.9,307.2L458.8,306.7L455.6,302.7L452.6,300.8L450.5,296.3Z"/>
<path fill="#2ca02c" d="M444.1,285L448.1,285L448.1,280L448.9,281L450.7,280.7L454.6,282.1L457,283.8L459.8,285.9L459.8,283.1L457,282.1L457.4,277L458,274.4L461.9,273.7L466.1,276.5L466.7,279.8L466.9,283.8L465.7,286.4L466.7,287.3L460.7,289.7L461.1,291.1L458,292.1L454.2,296.5L450.5,296.3L446.9,295.8L444.1,292.5Z"/>
<path fill="#2ca02c" d="M466.1,276.5L466.7,279.8L466.9,283.8L465.7,286.4L466.7,287.3L469.4,288.5L469.2,292.5L471,294.7L472,292.1L472.2,289L470.4,286.6L469.2,283.1L469.6,281.4L468.4,276.7Z"/>
<path fill="#d62728" d="M466.1,317.8L464.5,317.5L462.9,318.7L461.9,317.3L462.3,315.7L464.1,315.4L464.3,312.1L462.9,307.2L465.7,302.7L466.1,298L466.3,293.7L462.9,292.1L461.1,291.1L460.7,289.7L466.7,287.3L469.4,288.5L469.2,292.5L471,294.7L472,292.1L472.2,289L470.4,286.6L469.2,283.1L469.6,281.4L472,281.4L475.4,281.9L481.3,279.1L481.7,283.8L482.1,288.5L480.5,292.5L474.4,296.3L470.2,301L471.2,305L471.4,310.9L467.3,314L465.5,315.4Z"/>
<path fill="#2ca02c" d="M481.3,279.1L475.4,281.9L472,281.4L469.6,281.4L468.4,276.7L466.1,276.5L461.9,273.7L459.4,268.5L458.6,264.7L461.3,262.6L461.9,260L461.3,256.9L468.1,256.7L475.6,261.4L478.9,265.4L478.1,268.5L479.5,270.6L479.1,273.9L480.1,277.9Z"/>
<path fill="#d62728" d="M478.9,265.4L475.6,261.4L468.1,256.7L468.4,253.6L469.4,251.7L470.4,249.8L468.4,244.4L472.2,243.4L472.4,243.9L476.4,245.8L479.5,246.3L482.5,245.1L484.3,245L482.5,247.7L482.5,254.3L483.7,258.3L480.9,260.7Z"/>
<path fill="#2ca02c" d="M461.3,256.9L459.4,257.6L460,252.9L462.9,249.3L462.1,248.6L461.9,246L464.3,245.8L468.4,244.4L470.4,249.8L469.4,251.7L468.4,253.6L468.1,256.7Z"/>
<path fill="#ff7f0e" d="M459.4,257.6L461.3,256.9L461.9,260L458.6,260.7Z"/>
<path fill="#ff7f0e" d="M458.6,260.7L461.9,260L461.3,262.6L458.6,264.7Z"/>
<path fill="#2ca02c" d="M483.7,258.3L482.5,254.3L482.5,247.7L484.3,245L486.6,243.2L490.6,242.7L496.7,235.4L488.6,233.1L486.6,232.4L486.2,228.6L487,227.2L489.6,229.8L494.7,227.9L503.4,226.5L503,229.8L500.8,235.4L496.7,243.7L492.6,248.9L491.2,249.6L487.6,253.1L485.6,255.5Z"/>
<path fill="#ff7f0e" d="M472.4,243.9L476.4,245.8L479.5,246.3L482.5,245.1L484.3,245L486.6,243.2L490.6,242.7L496.7,235.4L488.6,233.1L486.6,232.4L486.2,228.6L484.1,227.2L485.4,225L482.5,222.4L480.5,220.3L477.5,220.3L476.2,219.1L473.4,220.6L472.6,224.3L470.6,226.5L470.2,228.8L469,229.5L468.6,234L466.3,235.4L467.9,236.4L470.4,241.6L472.2,243.4Z"/>
<path fill="#2ca02c" d="M473.4,220.6L476.2,219.1L477.5,220.3L480.5,220.3L482.5,222.4L485.4,225L486.8,224.3L482.9,220.1L479.9,218.7L479.5,217.5L477.7,211.8L474.4,213.9L474.2,215.8L473.2,218.7Z"/>
<path fill="#2ca02c" d="M487,227.2L486.2,228.6L484.1,227.2L485.4,225L486.8,224.3L487.2,226Z"/>
<path fill="#2ca02c" d="M477.7,211.8L475.2,204.7L474.2,202.4L450.1,202.4L450.1,207.1L448.1,207.1L448.1,217.2L445.9,217.2L445.1,221L444.1,224.3L445.9,228.3L446.1,229L447.5,233.8L448.5,233.8L450.1,230L454.2,231.6L457.8,232.1L460.2,230L463.3,231.2L465.1,226.7L466.7,225.5L466.3,230L468.4,231.9L468.6,234L468.6,234L469,229.5L470.2,228.8L470.6,226.5L472.6,224.3L473.4,220.6L473.2,218.7L474.2,215.8L474.4,213.9Z"/>
<path fill="#2ca02c" d="M448.5,233.8L450.1,230L454.2,231.6L457.8,232.1L460.2,230L463.3,231.2L465.1,226.7L466.7,225.5L466.3,230L468.4,231.9L468.6,234L466.3,235.4L467.9,236.4L470.4,241.6L472.2,243.4L468.4,244.4L464.3,245.8L461.9,246L459.2,243.7L457,244.2L455,242.3L453,239L450.5,236.4Z"/>
<path fill="#2ca02c" d="M429.3,243.4L428.9,240.1L430.9,236.6L432.9,235.9L437.2,235.4L438,233.1L442,231.4L445.1,228.6L446.1,229L447.5,233.8L448.5,233.8L450.5,236.4L453,239L455,242.3L449.1,242.3L445.1,244.6L439,242.3L437.2,244.2L437.2,246L432.9,246.7L432.1,249.1Z"/>
<path fill="#2ca02c" d="M427,222L426.8,220.3L430.9,214.4L431.9,206.2L429.9,200L448.1,208.3L448.1,217.2L445.9,217.2L445.1,221L444.1,224.3L445.9,228.3L446.1,229L445.1,228.6L442,231.4L438,233.1L437.2,235.4L432.9,235.9L430.9,236.6L427.9,231.4L430.9,230.7L430.1,228.8L429.9,225.7L428.3,223.6Z"/>
<path fill="#d62728" d="M422.8,175.9L422.8,177.6L420.4,179.5L420.2,183L418.7,183L419.5,187.5L419.3,191.8L418.5,192.7L419.8,196.5L423.8,198.8L429.9,200L448.1,208.3L448.1,207.1L450.1,207.1L450.1,202.4L450.1,185.4L449.5,183L450.5,179.7L446.5,178.1L443.2,176.7L440.2,178.3L440,181.4L438.4,182.8L434.9,181.6L431.3,180.2L430.3,177.8L426.2,176.7Z"/>
<path fill="#2ca02c" d="M422.8,175.9L422.8,177.6L420.4,179.5L420.2,183L418.7,183L417.7,178.5L414.7,174.5L416.3,172.4L416.1,168.2L416.9,167.1L419.3,166.3L421.8,166.7L421,168.4L421,170.3L422,171.2L420,173.4L419.8,174.3L421.8,175Z"/>
<path fill="#2ca02c" d="M395,171.5L396.1,172.9L397.1,178.1L392,181.4L389.4,183.5L381.9,186.6L381.9,189L381.9,189.9L389.8,195.3L401.8,204.5L401.9,205.4L406,207.6L406.2,209.5L408.1,209.1L411.2,208.5L414.7,205L423.8,198.8L419.8,196.5L418.5,192.7L419.3,191.8L419.5,187.5L418.7,183L417.7,178.5L414.7,174.5L416.3,172.4L416.1,168.2L416.9,167.1L413.7,166.7L409.6,167.5L405.6,167.5L400.5,168.9L397.5,170Z"/>
<path fill="#2ca02c" d="M450.5,179.7L449.5,183L450.1,185.4L450.1,202.4L474.2,202.4L472,197.9L469.4,193.4L467.9,189.9L466.3,187.3L465.3,183.6L465.8,183.7L466.7,185.9L467.7,187.7L468.9,188.9L470.2,184.7L469,180.4L464.9,180.4L462.3,179.7L460,180.7L454.8,180.2Z"/>
<path fill="#2ca02c" d="M499.3,282.6L501.8,290.4L500.1,292.1L499.5,296.8L497.7,303.9L494.9,313.1L491.2,314.7L488.6,313.3L487.2,306.9L489.4,301.3L488.6,295.6L490.4,292.5L493.7,291.4L496.5,288.8L498.3,285.5Z"/>
<path fill="#ff7f0e" d="M630.8,305.7L629.1,310.9L629.3,314.5L630.8,319.2L632.4,325.1L633.8,329.8L632.4,335.2L638.2,337.1L642.5,334.3L649.6,334.3L654.6,330.5L660.7,329.1L665.2,328.6L671.3,331.5L674.7,336.4L678.5,331.2L678.1,337.4L680,336.4L679.2,338.6L682.4,341.4L684,344L690.1,345.9L692.5,344.5L696,346.6L699.2,343.7L703.2,342.8L704.9,336.9L705.9,334.1L709.1,328.6L710.5,321.8L709.7,315.7L709.7,313.3L705.3,309.8L702.2,306.2L700.2,301.5L695.8,298.9L695.1,294.4L693.7,290.9L690.7,288L689.9,283.8L688.1,279.6L686.2,284L686,289.7L684.8,295.6L682,295.8L678.5,292.1L673.9,289.7L674.9,286.2L676.5,283.1L672.9,282.9L668.8,281.7L667.8,281L664.4,283.6L662.1,289.2L660.7,289.5L658.3,287.8L654.6,287.3L651.6,292.1L649.6,295.1L647,296.8L644.5,300.6L639.7,302.2L635.8,302.9ZM692.5,350.4L696.2,351.3L699.8,350.8L699.6,353.9L698.2,356.3L695.1,357.2L693.7,353.9Z"/>
<path fill="#ff7f0e" d="M749.2,335.5L752.5,337.6L753.5,341.1L754.9,340.4L755.9,343L760,343L761,343.3L759.7,346.8L757.9,347.5L757.7,349.9L754.5,352.5L753.5,351.8L754.1,348.7L751.4,347L753.1,344.7L753.3,342.3L752.3,340L749.8,337.1ZM749.2,349.9L751.6,350.8L752.5,352.7L749.8,355.8L749.8,357.7L746.4,358.8L745.4,362.6L741.7,364.3L740.5,364.3L736.7,362.6L739.7,358.1L744.8,355.8L746.4,353.4L748,350.6Z"/>
<path fill="#ffffff" d="M731.6,301.7L734.6,303.9L737.7,306.9L736.7,306.9L732.6,303.9Z"/>
<path fill="#2ca02c" d="M758.5,295.6L761.2,295.6L761,297.3L758.7,297Z"/>
<path fill="#2ca02c" d="M716.4,270.1L719.5,272.2L723.1,274.1L725.5,277.4L724.1,277.4L720.5,274.4Z"/>
<path fill="#2ca02c" d="M736.9,289.2L738.1,291.1L739.3,293.2L738.3,293L737.1,290.9Z"/>
<path fill="#ffffff" stroke-width="1.0" d="M34.7,453.9L46.3,450.2L62.1,451.8L68.4,447.6L81.1,444.5L78.9,438.2L89.5,440.3L97.9,435L112.6,432.5L129.5,430.8L142.1,428.7L156.8,429.7L171.6,430.8L186.3,431.8L192.6,426.6L201.1,425.5L213.7,427.6L226.3,426.6L238.9,428.7L246.3,426.6L249.5,421.3L257.9,417.1L266.3,411.8L274.7,405.5L283.2,402.4L287.4,404.5L278.9,407.6L272.6,411.8L270.5,416.1L275.8,420.3L276.8,426.6L272.6,431.8L262.1,435L251.6,436.1L243.2,437.1L230.5,439.6L238.9,442.4L247.4,445.5L257.9,440.9L266.3,444.5L274.7,451.8L283.2,450.2L293.7,447.6L306.3,448.7L314.7,446.6L323.2,444.5L329.5,440.3L340,437.1L348.4,435L356.8,431.8L365.3,427.6L377.9,423.4L394.7,421.3L400,421.9L421.1,420.7L437.9,421.3L452.6,421.9L465.3,417.1L477.9,419.8L488.4,415L501.1,411.4L509.5,409.7L517.9,412.9L530.5,414.4L540,415L538.9,420.3L534.7,427.6L543.2,423.4L551.6,418.2L562.1,414.4L572.6,411.8L589.5,410.8L606.3,409.3L618.9,411.8L627.4,409.7L633.7,413.5L648.4,411.8L663.2,410.4L677.9,410.8L690.5,412.9L698.9,415.6L711.6,416.5L724.2,419.2L728.4,421.9L745.3,424.1L741.1,428.7L728.4,432.5L732.6,437.1L742.1,438.2L728.4,440.3L722.1,444.5L728.4,448.7L745.3,451.8L763.2,453.7ZM291.6,444.5L295.8,439.6L304.2,438.2L311.6,440.3L310.5,443.8L302.1,445.5Z"/>
<path fill="#2a2a2a" stroke-width="0.5" d="M83.4,208L84.6,206.9L85.8,208L84.6,209.2ZM82.4,205.2L83,204.7L83.6,205.2L83,205.7ZM79.1,203.8L79.8,203.3L80.4,203.8L79.8,204.3ZM76,202.4L76.5,201.9L77,202.4L76.5,202.9ZM214.2,255.7L215.2,254.8L216.2,255.7L215.2,256.7ZM216.2,255.7L216.6,255.2L217,255.7L216.6,256.2ZM274.1,216.1L274.6,215.5L275.1,216.1L274.6,216.7ZM275,218L275.4,217.4L275.8,218L275.4,218.5ZM275.6,219.8L276,219.3L276.4,219.8L276,220.4ZM275.7,221.5L276,221L276.3,221.5L276,222ZM275.3,223.1L275.6,222.7L275.9,223.1L275.6,223.6ZM274.3,225.7L274.6,225.4L274.9,225.7L274.6,226.1ZM278.5,223.3L278.8,222.9L279.1,223.3L278.8,223.6ZM274.5,229.8L275.4,228.9L276.3,229.8L275.4,230.6ZM271.9,213.5L272.3,213.1L272.7,213.5L272.3,213.8ZM267.9,212.4L268.3,212.2L268.7,212.4L268.3,212.6ZM271.5,211.6L271.9,211.3L272.3,211.6L271.9,211.8ZM240.9,197L241.8,195.5L242.6,197L241.8,198.4ZM242.5,191.8L243.2,190.9L243.9,191.8L243.2,192.6ZM239.7,191.5L240.5,191.2L241.3,191.5L240.5,191.9ZM244.9,196.2L245.2,195.1L245.5,196.2L245.2,197.4ZM246.6,198.6L247,197.9L247.4,198.6L247,199.3ZM250.1,204.7L250.7,204.3L251.3,204.7L250.7,205.2ZM252.7,202.9L253.3,202.5L253.9,202.9L253.3,203.2ZM347.5,165.1L348.3,164.7L349.1,165.1L348.3,165.4ZM341.5,163.4L342.2,163.1L342.9,163.4L342.2,163.8ZM344,163L344.4,162.7L344.8,163L344.4,163.2ZM364.8,177L365.3,176.7L365.8,177L365.3,177.3ZM365.4,187.5L366.1,187L366.8,187.5L366.1,188ZM367.4,188.2L367.9,187.7L368.4,188.2L367.9,188.7ZM370.7,187.3L371.1,186.5L371.6,187.3L371.1,188.1ZM371.6,185.9L372,185.4L372.4,185.9L372,186.3ZM362.9,186.6L363.3,186.1L363.6,186.6L363.3,187ZM351.2,218.7L351.7,218.1L352.2,218.7L351.7,219.3ZM350,219.1L350.3,218.8L350.6,219.1L350.3,219.5ZM350.1,215.1L350.5,214.8L350.9,215.1L350.5,215.5ZM348.3,214.2L348.7,213.8L349.1,214.2L348.7,214.5ZM352.8,216.3L353.1,215.8L353.4,216.3L353.1,216.8ZM412.6,253.6L412.9,253.1L413.2,253.6L412.9,254.1ZM414.3,250.5L414.5,250.2L414.7,250.5L414.5,250.8ZM416.7,246L417.1,245.3L417.5,246L417.1,246.7ZM323.8,382.4L325.6,381.9L327.4,382.4L325.6,383ZM384.7,108L385.3,107.5L385.9,108L385.3,108.5ZM396.6,112L396.9,111.2L397.2,112L396.9,112.8ZM392.9,115.1L393.4,114.7L393.9,115.1L393.4,115.4ZM385.1,117.4L385.7,116.5L386.3,117.4L385.7,118.4ZM381.5,86.7L382.3,86.5L383.1,86.7L382.3,87ZM515.7,302.1L516.1,301.6L516.5,302.1L516.1,302.6ZM511.4,304.1L511.9,303.6L512.4,304.1L511.9,304.6ZM486.9,281.9L487.2,281.4L487.5,281.9L487.2,282.4ZM489.1,283.1L489.4,282.8L489.7,283.1L489.4,283.4ZM490.7,284.5L490.9,284.2L491.2,284.5L490.9,284.8ZM511.7,265.3L511.9,265L512.1,265.3L511.9,265.5ZM548.2,244.4L548.3,243.2L548.5,244.4L548.3,245.6ZM546.9,228.3L547.1,227.6L547.3,228.3L547.1,229ZM587,225.5L587.4,223.4L587.8,225.5L587.4,227.6ZM589.1,237.3L589.4,236.4L589.7,237.3L589.4,238.3ZM507.2,224.8L508.4,224.4L509.7,224.8L508.4,225.2ZM538.8,370.6L540.2,369.8L541.7,370.6L540.2,371.5ZM692.5,222.6L692.7,222.2L693,222.6L692.7,222.9ZM694.4,218.7L694.5,218.3L694.7,218.7L694.5,219ZM671.8,236.6L672.1,236.1L672.3,236.6L672.1,237.1ZM719.6,238L719.9,237.8L720.2,238L719.9,238.3ZM706.7,236.8L706.9,236.6L707.1,236.8L706.9,237.1ZM746,237.5L746.2,237.3L746.4,237.5L746.2,237.8ZM749.6,251L749.8,250.7L750,251L749.8,251.3ZM49.9,286.4L50.6,286.1L51.3,286.4L50.6,286.7ZM51.5,287.2L52,287L52.5,287.2L52,287.5ZM44.4,304.3L44.7,304.1L45,304.3L44.7,304.6ZM761.6,293.5L762.6,293L763.6,293.5L762.6,293.9ZM96.3,296L96.8,295.6L97.3,296L96.8,296.3ZM115.7,275.5L116,275.3L116.3,275.5L116,275.8ZM735.2,279.6L735.6,279.3L736.1,279.6L735.6,279.8ZM740.1,296.1L740.3,295.7L740.6,296.1L740.3,296.4ZM742.3,300.3L742.5,299.8L742.8,300.3L742.5,300.8ZM739.3,322.7L739.5,322.6L739.7,322.7L739.5,322.9ZM41.5,357.9L42.1,357.6L42.7,357.9L42.1,358.2ZM722.5,276.7L723.3,276.4L724.1,276.7L723.3,277.1ZM726.3,279.1L727.1,278.7L728,279.1L727.1,279.4ZM716.8,273.7L717.4,273.4L718,273.7L717.4,273.9ZM649.8,196.7L650.2,196.5L650.6,196.7L650.2,197ZM658.1,191.8L658.5,190.9L658.9,191.8L658.5,192.6ZM661.3,187.5L661.7,187.2L662.1,187.5L661.7,187.8ZM663.5,182.6L663.8,182.3L664.1,182.6L663.8,182.8ZM655.1,175.5L655.7,175.2L656.3,175.5L655.7,175.8ZM694.7,149L695.6,148.5L696.4,149L695.6,149.6ZM698.2,147.4L699.2,146.8L700.2,147.4L699.2,148ZM702.6,145.3L703.2,144.8L703.9,145.3L703.2,145.7ZM707.2,142.9L707.7,142.4L708.2,142.9L707.7,143.4ZM709.6,139.8L709.9,139.4L710.2,139.8L709.9,140.3ZM712.6,137.7L713,137.4L713.4,137.7L713,138.1ZM714.4,135.6L715,135.1L715.6,135.6L715,136.1ZM53.6,104.7L55.2,104.1L56.9,104.7L55.2,105.3ZM61.3,112.5L62.7,112L64.2,112.5L62.7,112.9ZM86.8,118.6L88.7,117.4L90.5,118.6L88.7,119.8ZM74.1,115.8L74.5,115.5L74.9,115.8L74.5,116ZM54.3,119.4L54.6,119.2L54.9,119.4L54.6,119.7ZM41.1,132.1L41.9,131.8L42.7,132.1L41.9,132.3ZM45.9,131.1L46.7,130.8L47.6,131.1L46.7,131.4ZM38.4,132.3L39.1,132.1L39.7,132.3L39.1,132.5ZM749,129.5L749.8,129.2L750.6,129.5L749.8,129.7ZM758.3,131.6L758.9,131.3L759.5,131.6L758.9,131.8ZM735.3,124.5L736.1,124L736.8,124.5L736.1,125ZM540,81.1L541.7,80.6L543.3,81.1L541.7,81.5ZM553.4,66.7L554.4,66.3L555.4,66.7L554.4,67ZM559.3,81.1L560.5,80.8L561.7,81.1L560.5,81.4ZM581.8,75.6L582.8,75.4L583.8,75.6L582.8,75.9ZM682.8,80.6L686,79.9L689.3,80.6L686,81.3ZM697.8,77.5L700.2,76.8L702.6,77.5L700.2,78.2ZM510.9,81.5L510.9,81.5L510.9,81.5L510.9,81.6ZM424.4,98.8L424.8,98.4L425.2,98.8L424.8,99.1ZM428.3,92.9L429.9,92.3L431.5,92.9L429.9,93.5ZM433.1,90.8L433.9,90.3L434.7,90.8L433.9,91.2ZM438.2,89.1L439,88.7L439.8,89.1L439,89.5ZM358.6,62L361,61.7L363.5,62L361,62.2ZM277.8,143.6L278,143.4L278.2,143.6L278,143.9ZM269.9,144.8L271.3,144.4L272.7,144.8L271.3,145.2ZM274.1,142.4L274.4,142.2L274.7,142.4L274.4,142.7ZM130.8,128.5L131.8,126.4L132.8,128.5L131.8,130.6ZM236.3,106.6L237.5,106L238.7,106.6L237.5,107.2ZM237.5,121.2L238.3,120.4L239.1,121.2L238.3,122ZM229.2,106.8L230.4,106.3L231.6,106.8L230.4,107.3ZM242.2,93.8L243.6,93.1L245,93.8L243.6,94.5ZM246,93.1L246.6,92.6L247.2,93.1L246.6,93.6ZM248.4,373L249,371.8L249.7,373L249,374.2ZM247.1,369.2L247.6,368.1L248.1,369.2L247.6,370.4ZM249,360.5L249.7,359.6L250.3,360.5L249.7,361.4ZM249.2,354.8L249.9,353.4L250.5,354.8L249.9,356.3ZM256.5,384.6L257.8,384.3L259,384.6L257.8,384.9ZM268.6,383.6L269.3,383.4L270,383.6L269.3,383.8ZM278,376.3L279,375.8L280,376.3L279,376.8ZM428.4,169.6L428.7,169.4L428.9,169.6L428.7,169.8ZM402.1,162.4L402.3,162.1L402.6,162.4L402.3,162.6ZM407.2,160L407.6,159.8L408,160L407.6,160.3ZM450.8,167.2L451.1,166.9L451.4,167.2L451.1,167.6ZM451.8,163.7L452.1,163.2L452.5,163.7L452.1,164.1ZM452.3,161.8L452.8,161.5L453.3,161.8L452.8,162.1ZM453.9,165.3L454.2,165.1L454.5,165.3L454.2,165.6ZM455.9,168.9L456.2,168.2L456.5,168.9L456.2,169.6ZM439.4,160.8L439.6,160.4L439.8,160.8L439.6,161.3ZM441,164.1L441.2,163.7L441.5,164.1L441.2,164.6ZM450.5,166.7L450.7,166.5L450.9,166.7L450.7,167ZM448.9,164.9L449.1,164.6L449.3,164.9L449.1,165.1ZM612.9,259.5L614.1,258.3L615.4,259.5L614.1,260.7ZM617.6,261.1L618.2,260.6L618.8,261.1L618.2,261.7ZM596.4,251.9L596.9,250.8L597.4,251.9L596.9,253.1ZM599.5,257.8L600,256.7L600.5,257.8L600,259ZM602.1,260.9L602.4,260.2L602.7,260.9L602.4,261.6ZM593.4,248.2L593.9,247.8L594.4,248.2L593.9,248.5ZM606.5,267L606.7,266.8L606.9,267L606.7,267.3ZM654.6,262.3L655.7,261.6L656.7,262.3L655.7,263ZM650.4,258.5L651.6,258.2L652.8,258.5L651.6,258.9ZM648.1,266.1L648.6,264.9L649.1,266.1L648.6,267.3ZM647.8,266.8L648,266.3L648.2,266.8L648,267.3ZM671.4,268.9L671.9,267.5L672.4,268.9L671.9,270.3ZM665.2,272.5L665.8,271.8L666.4,272.5L665.8,273.2ZM668,267.8L668.2,266.9L668.4,267.8L668.2,268.6ZM673.7,258.3L674.5,258L675.3,258.3L674.5,258.6ZM674.1,256.7L674.9,256.2L675.7,256.7L674.9,257.1ZM663.1,254.8L663.8,254.3L664.5,254.8L663.8,255.2ZM657.6,256.2L658.1,255.7L658.6,256.2L658.1,256.7ZM655,250.1L655.1,249.9L655.2,250.1L655.1,250.2ZM653.4,246L653.6,245.6L653.8,246L653.6,246.5ZM656,244.4L656.3,243.8L656.5,244.4L656.3,245ZM662.2,259L662.3,258.9L662.4,259L662.3,259.1ZM627.3,270.8L628.3,270.5L629.3,270.8L628.3,271.1ZM632.2,274L632.8,273.7L633.4,274L632.8,274.4ZM653.5,273.2L654.2,272.9L655,273.2L654.2,273.4ZM650.8,273.9L651.6,273.7L652.4,273.9L651.6,274.1ZM649,274.1L649.6,273.9L650.2,274.1L649.6,274.4ZM644.5,298.9L644.5,298.9L644.5,298.9L644.5,298.9ZM622.2,207.1L622.2,207.1L622.3,207.1L622.2,207.1ZM646.4,183.3L646.8,183L647.1,183.3L646.8,183.5ZM645.1,179.7L645.7,179.5L646.3,179.7L645.7,180ZM696.9,259.1L697.8,258.9L698.7,259.1L697.8,259.4ZM702.4,257.8L702.6,257.7L702.8,257.8L702.6,258ZM708.2,276L708.7,275.8L709.2,276L708.7,276.2ZM710.1,281.4L710.5,281.3L710.9,281.4L710.5,281.6ZM704.7,277.2L705.3,276.9L705.9,277.2L705.3,277.5ZM704.5,276.2L704.9,276L705.3,276.2L704.9,276.5ZM711.3,281.2L711.6,281.1L711.8,281.2L711.6,281.3ZM675.9,338.8L677.3,338.5L678.7,338.8L677.3,339.1ZM663.4,281.7L664.4,281.2L665.4,281.7L664.4,282.1ZM675.7,287.3L676.3,286.9L676.9,287.3L676.3,287.8ZM681.6,293.5L682,293.1L682.4,293.5L682,293.8ZM709.5,313.8L709.7,312.6L709.9,313.8L709.7,315ZM698.9,348.7L699.2,348.1L699.5,348.7L699.2,349.3ZM690.8,348.5L691.1,348L691.4,348.5L691.1,348.9ZM721.2,383.2L721.3,382.8L721.4,383.2L721.3,383.5ZM738.9,365.2L739.5,364.7L740.1,365.2L739.5,365.7ZM735.8,374L736.1,373.6L736.4,374L736.1,374.3ZM500.6,363.8L500.8,363.7L500.9,363.8L500.8,363.9ZM475.8,365L476,364.9L476.2,365L476,365.1ZM556.3,344L556.4,343.9L556.5,344L556.4,344.1ZM387.9,291.9L388,291.8L388.1,291.9L388,292.1ZM370.2,273.1L370.3,272.9L370.4,273.1L370.3,273.2ZM374.5,341.9L374.6,341.7L374.7,341.9L374.6,342ZM178,318.3L178.2,318.1L178.3,318.3L178.2,318.4ZM235.7,333.8L235.9,333.7L236,333.8L235.9,333.9Z"/>
<path fill="#ffffff" d="M462.3,315.7L464.1,315.4L464.5,317.5L462.9,318.7L461.9,317.3Z"/>
<path fill="#2ca02c" d="M454.2,324.2L457.4,321.8L459,323.9L456.4,326.5Z"/>
<path fill="#2ca02c" d="M365.5,222.2L369.1,221.7L371.6,222.4L369.1,223.1L365.5,223.4Z"/>
<path fill="none" d="M246.3,423.4L253.7,420.3M251.6,426.6L260.0,422.4M257.9,419.2L265.3,415.0M264.2,416.1L271.6,410.8M273.7,407.6L281.1,404.5M278.9,403.4L287.4,402.4M248.4,428.7L257.9,426.6M255.8,423.4L262.1,424.5M275.2,415.0L278.1,422.4M68.4,444.5L76.8,442.4M68.4,447.6L78.9,446.6M83.2,442.4L93.7,440.3M89.5,444.5L102.1,442.4M97.9,440.3L106.3,438.2M46.3,450.2L89.5,457.7M58.9,452.9L74.7,456.1M180.0,433.9L198.9,432.9M137.9,429.7L154.7,430.8M230.5,439.6L243.2,442.4L251.6,445.5M232.6,444.5L243.2,446.6M257.9,440.9L262.1,447.6L268.4,445.5M329.5,443.4L352.6,443.4M728.4,432.5L736.8,435.0M732.6,437.1L742.1,438.2M722.1,444.5L732.6,446.6M492.6,414.4L501.1,411.8M589.5,410.8L602.1,410.2M215.2,63.1L229.4,64.8L241.6,64.1M221.3,67.4L233.5,67.9L243.6,66.4M225.3,71.2L235.5,70.5L243.6,69.3M229.4,59.6L245.6,60.8L257.8,59.4M237.5,62.0L253.7,63.1L265.9,61.7M213.2,65.0L207.1,67.2L215.2,68.8M205.1,68.8L217.2,66.4M188.9,67.9L199.0,70.2L190.9,71.2M176.8,69.3L188.9,68.8M203.1,74.5L213.2,75.9L221.3,74.9M207.1,77.3L217.2,76.4L229.4,77.3M233.5,75.9L237.5,74.5M219.3,82.0L229.4,83.4L237.5,82.5M241.6,84.4L249.7,86.7L255.7,88.6M245.6,89.1L253.7,91.0L261.8,92.9M257.8,95.2L265.9,96.2L271.9,98.5M261.8,99.5L265.9,101.8M253.7,103.3L261.8,105.1M172.7,74.9L180.8,75.9M162.6,76.8L170.7,75.4M156.5,83.0L164.6,83.4M172.7,84.4L180.8,85.3L188.9,84.4M164.6,89.6L172.7,88.2M197.0,82.0L201.1,83.4M209.2,81.1L213.2,83.0M188.9,75.4L197.0,74.5M290.1,89.1L296.2,90.0M288.1,84.4L294.2,85.3M286.1,79.2L292.2,79.7M292.2,96.2L297.2,96.7M294.2,100.9L298.2,101.8M298.2,107.0L302.3,108.0M314.4,106.6L311.4,104.7M318.5,100.9L315.5,99.5M326.6,97.6L322.6,96.7M342.8,92.4L336.7,93.3M350.9,88.2L342.8,87.2L348.9,85.8M354.9,83.0L346.9,82.0M357.0,78.7L350.9,77.8M361.0,74.0L352.9,73.1M361.0,69.3L352.9,68.3M363.1,65.0L352.9,64.1M261.8,71.2L269.9,72.1M257.8,68.8L265.9,67.9M282.1,60.8L294.2,59.8M310.4,59.4L322.6,58.4M334.7,59.8L346.9,60.8M116.0,113.4L122.5,116.7L125.7,119.8L129.0,122.6L132.2,124.7M130.2,127.1L132.6,130.2M135.8,127.3L139.1,130.6L141.1,133.9M125.1,116.0L128.2,118.8L131.0,121.7L134.2,124.0M410.0,112.7L412.5,112.2M410.0,109.9L413.7,109.9M411.6,107.0L414.5,106.6M417.7,104.2L421.0,104.2M422.6,101.4L424.6,100.4M425.0,97.6L427.9,96.7M429.1,94.3L431.9,93.3M433.5,91.9L436.4,90.5M439.2,89.6L442.8,88.6M445.3,88.2L448.9,87.2M452.1,87.7L456.6,87.2M250.7,353.4L251.7,357.7L250.5,361.9M248.8,364.7L250.5,368.1L248.8,371.8M250.5,373.7L251.7,377.0L253.7,379.9M252.7,381.3L256.7,382.4L259.8,383.9M254.7,379.9L256.5,381.5M425.8,69.3L433.9,68.6M427.9,67.2L435.9,66.7M511.9,81.3L515.9,81.1M546.5,85.3L550.4,83.9M557.5,83.9L563.5,84.9M573.6,79.7L581.8,76.8M598.0,74.5L608.1,73.5M617.2,81.1L623.3,79.7M648.6,82.0L655.7,81.1M672.9,85.3L680.0,85.8M388.2,121.7L389.4,120.7M387.8,119.3L389.0,118.4M386.5,118.8L387.4,119.8M379.7,127.3L380.9,127.8M379.2,131.6L380.5,131.1M91.7,115.1L94.7,113.6L97.8,112.2M87.7,116.9L83.6,118.8M99.8,111.3L103.9,110.8M68.4,124.5L74.5,123.1L79.6,121.2"/>
<rect x="35" y="453.2" width="729" height="1.7" fill="#9a9a9a" stroke="none"/>
</g>
</g>
<text x="9.0" y="30.7" class="tt"><tspan class="tb">A</tspan> EAPC for the age-standardized incidence rate</text>
<text x="965.3" y="30.7" class="tt"><tspan class="tb">B</tspan> EAPC for the age-standardized prevalence rate</text>
<text x="9.0" y="508.2" class="tt"><tspan class="tb">C</tspan> EAPC for the age-standardized deaths rate</text>
<text x="965.3" y="508.2" class="tt"><tspan class="tb">D</tspan> EAPC for the age-standardized DALYs rate</text>
<rect x="841.5" y="159.6" width="37.5" height="38.2" fill="#1f77b4" stroke="#222" stroke-width="0.8"/>
<text x="891.0" y="185.0" class="lg">-2~-1</text>
<rect x="841.5" y="197.8" width="37.5" height="38.2" fill="#ff7f0e" stroke="#222" stroke-width="0.8"/>
<text x="891.0" y="223.2" class="lg">-1~0</text>
<rect x="841.5" y="236.0" width="37.5" height="38.2" fill="#2ca02c" stroke="#222" stroke-width="0.8"/>
<text x="891.0" y="261.4" class="lg">0~1</text>
<rect x="841.5" y="274.2" width="37.5" height="38.2" fill="#d62728" stroke="#222" stroke-width="0.8"/>
<text x="891.0" y="299.6" class="lg">1~2</text>
<rect x="841.5" y="312.4" width="37.5" height="38.2" fill="#9467bd" stroke="#222" stroke-width="0.8"/>
<text x="891.0" y="337.8" class="lg">3~4</text>
<rect x="1797.4" y="140.1" width="37.5" height="38.2" fill="#1f77b4" stroke="#222" stroke-width="0.8"/>
<text x="1847.6" y="165.5" class="lg">-2~-1</text>
<rect x="1797.4" y="178.3" width="37.5" height="38.2" fill="#ff7f0e" stroke="#222" stroke-width="0.8"/>
<text x="1847.6" y="203.7" class="lg">-1~0</text>
<rect x="1797.4" y="216.5" width="37.5" height="38.2" fill="#2ca02c" stroke="#222" stroke-width="0.8"/>
<text x="1847.6" y="241.9" class="lg">0~1</text>
<rect x="1797.4" y="254.7" width="37.5" height="38.2" fill="#d62728" stroke="#222" stroke-width="0.8"/>
<text x="1847.6" y="280.1" class="lg">1~2</text>
<rect x="1797.4" y="292.9" width="37.5" height="38.2" fill="#9467bd" stroke="#222" stroke-width="0.8"/>
<text x="1847.6" y="318.3" class="lg">2~3</text>
<rect x="1797.4" y="331.1" width="37.5" height="38.2" fill="#8c564b" stroke="#222" stroke-width="0.8"/>
<text x="1847.6" y="356.5" class="lg">3~4</text>
<rect x="835.3" y="638.3" width="37.5" height="38.2" fill="#1f77b4" stroke="#222" stroke-width="0.8"/>
<text x="886.3" y="663.7" class="lg">-10~-5</text>
<rect x="835.3" y="676.5" width="37.5" height="38.2" fill="#ff7f0e" stroke="#222" stroke-width="0.8"/>
<text x="886.3" y="701.9" class="lg">-5~0</text>
<rect x="835.3" y="714.7" width="37.5" height="38.2" fill="#2ca02c" stroke="#222" stroke-width="0.8"/>
<text x="886.3" y="740.1" class="lg">0~5</text>
<rect x="835.3" y="752.9" width="37.5" height="38.2" fill="#d62728" stroke="#222" stroke-width="0.8"/>
<text x="886.3" y="778.3" class="lg">5~10</text>
<rect x="835.3" y="791.1" width="37.5" height="38.2" fill="#9467bd" stroke="#222" stroke-width="0.8"/>
<text x="886.3" y="816.5" class="lg">10~15</text>
<rect x="1797.4" y="618.8" width="37.5" height="38.2" fill="#1f77b4" stroke="#222" stroke-width="0.8"/>
<text x="1847.6" y="644.2" class="lg">-6~-4</text>
<rect x="1797.4" y="657.0" width="37.5" height="38.2" fill="#ff7f0e" stroke="#222" stroke-width="0.8"/>
<text x="1847.6" y="682.4" class="lg">-4~-2</text>
<rect x="1797.4" y="695.2" width="37.5" height="38.2" fill="#2ca02c" stroke="#222" stroke-width="0.8"/>
<text x="1847.6" y="720.6" class="lg">-2~0</text>
<rect x="1797.4" y="733.4" width="37.5" height="38.2" fill="#d62728" stroke="#222" stroke-width="0.8"/>
<text x="1847.6" y="758.8" class="lg">0~2</text>
<rect x="1797.4" y="771.6" width="37.5" height="38.2" fill="#9467bd" stroke="#222" stroke-width="0.8"/>
<text x="1847.6" y="797.0" class="lg">2~4</text>
<rect x="1797.4" y="809.8" width="37.5" height="38.2" fill="#8c564b" stroke="#222" stroke-width="0.8"/>
<text x="1847.6" y="835.2" class="lg">6~8</text>
</svg></body></html>
